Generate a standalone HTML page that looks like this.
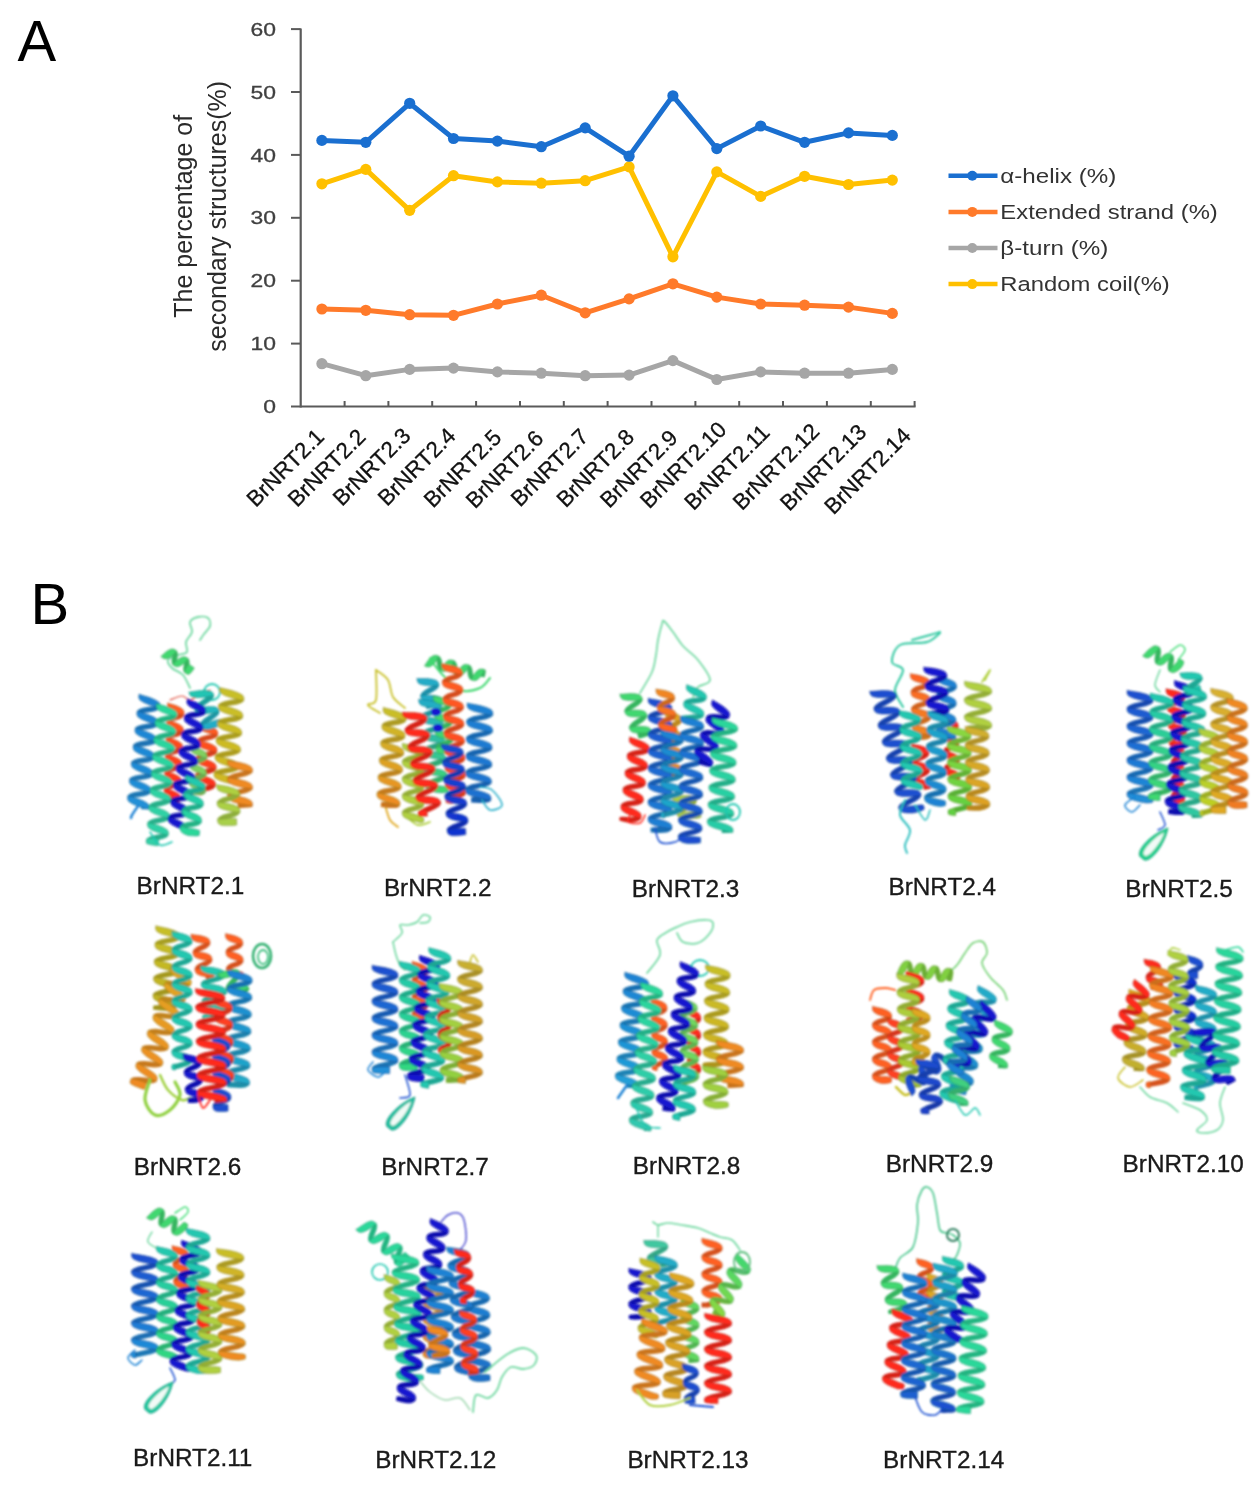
<!DOCTYPE html>
<html><head><meta charset="utf-8"><style>
html,body{margin:0;padding:0;background:#fff;}
body{width:1260px;height:1487px;position:relative;overflow:hidden;font-family:"Liberation Sans", sans-serif;}
svg{position:absolute;left:0;top:0;filter:blur(0.5px);}
.big{position:absolute;font-size:56px;line-height:1;color:#000;}
</style></head><body>
<svg width="1260" height="1487" viewBox="0 0 1260 1487" font-family='"Liberation Sans", sans-serif'>
<defs><filter id="soft"><feGaussianBlur stdDeviation="0.9"/></filter></defs>
<line x1="300.7" y1="28.6" x2="300.7" y2="407.5" stroke="#5a5a5a" stroke-width="2.2"/>
<line x1="291" y1="406.5" x2="915.6" y2="406.5" stroke="#5a5a5a" stroke-width="2.2"/>
<line x1="291" y1="343.6" x2="300.7" y2="343.6" stroke="#5a5a5a" stroke-width="2"/>
<line x1="291" y1="280.7" x2="300.7" y2="280.7" stroke="#5a5a5a" stroke-width="2"/>
<line x1="291" y1="217.8" x2="300.7" y2="217.8" stroke="#5a5a5a" stroke-width="2"/>
<line x1="291" y1="154.9" x2="300.7" y2="154.9" stroke="#5a5a5a" stroke-width="2"/>
<line x1="291" y1="92.0" x2="300.7" y2="92.0" stroke="#5a5a5a" stroke-width="2"/>
<line x1="291" y1="29.1" x2="300.7" y2="29.1" stroke="#5a5a5a" stroke-width="2"/>
<line x1="344.6" y1="401" x2="344.6" y2="406.5" stroke="#5a5a5a" stroke-width="2"/>
<line x1="388.4" y1="401" x2="388.4" y2="406.5" stroke="#5a5a5a" stroke-width="2"/>
<line x1="432.2" y1="401" x2="432.2" y2="406.5" stroke="#5a5a5a" stroke-width="2"/>
<line x1="476.1" y1="401" x2="476.1" y2="406.5" stroke="#5a5a5a" stroke-width="2"/>
<line x1="520.0" y1="401" x2="520.0" y2="406.5" stroke="#5a5a5a" stroke-width="2"/>
<line x1="563.8" y1="401" x2="563.8" y2="406.5" stroke="#5a5a5a" stroke-width="2"/>
<line x1="607.6" y1="401" x2="607.6" y2="406.5" stroke="#5a5a5a" stroke-width="2"/>
<line x1="651.5" y1="401" x2="651.5" y2="406.5" stroke="#5a5a5a" stroke-width="2"/>
<line x1="695.4" y1="401" x2="695.4" y2="406.5" stroke="#5a5a5a" stroke-width="2"/>
<line x1="739.2" y1="401" x2="739.2" y2="406.5" stroke="#5a5a5a" stroke-width="2"/>
<line x1="783.0" y1="401" x2="783.0" y2="406.5" stroke="#5a5a5a" stroke-width="2"/>
<line x1="826.9" y1="401" x2="826.9" y2="406.5" stroke="#5a5a5a" stroke-width="2"/>
<line x1="870.8" y1="401" x2="870.8" y2="406.5" stroke="#5a5a5a" stroke-width="2"/>
<line x1="914.6" y1="401" x2="914.6" y2="406.5" stroke="#5a5a5a" stroke-width="2"/>
<text x="0" y="0" text-anchor="end" font-size="18.3" fill="#404040" stroke="#404040" stroke-width="0.3" transform="translate(276 413.1) scale(1.25 1)">0</text>
<text x="0" y="0" text-anchor="end" font-size="18.3" fill="#404040" stroke="#404040" stroke-width="0.3" transform="translate(276 350.2) scale(1.25 1)">10</text>
<text x="0" y="0" text-anchor="end" font-size="18.3" fill="#404040" stroke="#404040" stroke-width="0.3" transform="translate(276 287.3) scale(1.25 1)">20</text>
<text x="0" y="0" text-anchor="end" font-size="18.3" fill="#404040" stroke="#404040" stroke-width="0.3" transform="translate(276 224.4) scale(1.25 1)">30</text>
<text x="0" y="0" text-anchor="end" font-size="18.3" fill="#404040" stroke="#404040" stroke-width="0.3" transform="translate(276 161.5) scale(1.25 1)">40</text>
<text x="0" y="0" text-anchor="end" font-size="18.3" fill="#404040" stroke="#404040" stroke-width="0.3" transform="translate(276 98.6) scale(1.25 1)">50</text>
<text x="0" y="0" text-anchor="end" font-size="18.3" fill="#404040" stroke="#404040" stroke-width="0.3" transform="translate(276 35.7) scale(1.25 1)">60</text>
<polyline points="321.9,363.7 365.8,375.7 409.7,369.4 453.5,368.1 497.4,371.9 541.3,373.2 585.2,375.7 629.1,375.1 672.9,360.6 716.8,379.5 760.7,371.9 804.6,373.2 848.5,373.2 892.3,369.4" fill="none" stroke="#a6a6a6" stroke-width="5" stroke-linejoin="round"/>
<circle cx="321.9" cy="363.7" r="5.6" fill="#a6a6a6"/>
<circle cx="365.8" cy="375.7" r="5.6" fill="#a6a6a6"/>
<circle cx="409.7" cy="369.4" r="5.6" fill="#a6a6a6"/>
<circle cx="453.5" cy="368.1" r="5.6" fill="#a6a6a6"/>
<circle cx="497.4" cy="371.9" r="5.6" fill="#a6a6a6"/>
<circle cx="541.3" cy="373.2" r="5.6" fill="#a6a6a6"/>
<circle cx="585.2" cy="375.7" r="5.6" fill="#a6a6a6"/>
<circle cx="629.1" cy="375.1" r="5.6" fill="#a6a6a6"/>
<circle cx="672.9" cy="360.6" r="5.6" fill="#a6a6a6"/>
<circle cx="716.8" cy="379.5" r="5.6" fill="#a6a6a6"/>
<circle cx="760.7" cy="371.9" r="5.6" fill="#a6a6a6"/>
<circle cx="804.6" cy="373.2" r="5.6" fill="#a6a6a6"/>
<circle cx="848.5" cy="373.2" r="5.6" fill="#a6a6a6"/>
<circle cx="892.3" cy="369.4" r="5.6" fill="#a6a6a6"/>
<polyline points="321.9,309.0 365.8,310.3 409.7,314.7 453.5,315.3 497.4,304.0 541.3,295.2 585.2,312.8 629.1,298.9 672.9,283.8 716.8,297.1 760.7,304.0 804.6,305.2 848.5,307.1 892.3,313.4" fill="none" stroke="#ff7a2a" stroke-width="5" stroke-linejoin="round"/>
<circle cx="321.9" cy="309.0" r="5.6" fill="#ff7a2a"/>
<circle cx="365.8" cy="310.3" r="5.6" fill="#ff7a2a"/>
<circle cx="409.7" cy="314.7" r="5.6" fill="#ff7a2a"/>
<circle cx="453.5" cy="315.3" r="5.6" fill="#ff7a2a"/>
<circle cx="497.4" cy="304.0" r="5.6" fill="#ff7a2a"/>
<circle cx="541.3" cy="295.2" r="5.6" fill="#ff7a2a"/>
<circle cx="585.2" cy="312.8" r="5.6" fill="#ff7a2a"/>
<circle cx="629.1" cy="298.9" r="5.6" fill="#ff7a2a"/>
<circle cx="672.9" cy="283.8" r="5.6" fill="#ff7a2a"/>
<circle cx="716.8" cy="297.1" r="5.6" fill="#ff7a2a"/>
<circle cx="760.7" cy="304.0" r="5.6" fill="#ff7a2a"/>
<circle cx="804.6" cy="305.2" r="5.6" fill="#ff7a2a"/>
<circle cx="848.5" cy="307.1" r="5.6" fill="#ff7a2a"/>
<circle cx="892.3" cy="313.4" r="5.6" fill="#ff7a2a"/>
<polyline points="321.9,183.8 365.8,169.4 409.7,210.3 453.5,175.7 497.4,181.9 541.3,183.2 585.2,180.7 629.1,166.9 672.9,256.8 716.8,171.9 760.7,196.4 804.6,176.3 848.5,184.5 892.3,180.1" fill="none" stroke="#ffc000" stroke-width="5" stroke-linejoin="round"/>
<circle cx="321.9" cy="183.8" r="5.6" fill="#ffc000"/>
<circle cx="365.8" cy="169.4" r="5.6" fill="#ffc000"/>
<circle cx="409.7" cy="210.3" r="5.6" fill="#ffc000"/>
<circle cx="453.5" cy="175.7" r="5.6" fill="#ffc000"/>
<circle cx="497.4" cy="181.9" r="5.6" fill="#ffc000"/>
<circle cx="541.3" cy="183.2" r="5.6" fill="#ffc000"/>
<circle cx="585.2" cy="180.7" r="5.6" fill="#ffc000"/>
<circle cx="629.1" cy="166.9" r="5.6" fill="#ffc000"/>
<circle cx="672.9" cy="256.8" r="5.6" fill="#ffc000"/>
<circle cx="716.8" cy="171.9" r="5.6" fill="#ffc000"/>
<circle cx="760.7" cy="196.4" r="5.6" fill="#ffc000"/>
<circle cx="804.6" cy="176.3" r="5.6" fill="#ffc000"/>
<circle cx="848.5" cy="184.5" r="5.6" fill="#ffc000"/>
<circle cx="892.3" cy="180.1" r="5.6" fill="#ffc000"/>
<polyline points="321.9,140.4 365.8,142.3 409.7,103.3 453.5,138.5 497.4,141.1 541.3,146.7 585.2,127.9 629.1,156.2 672.9,95.8 716.8,148.6 760.7,126.0 804.6,142.3 848.5,132.9 892.3,135.4" fill="none" stroke="#1a6fd0" stroke-width="5" stroke-linejoin="round"/>
<circle cx="321.9" cy="140.4" r="5.6" fill="#1a6fd0"/>
<circle cx="365.8" cy="142.3" r="5.6" fill="#1a6fd0"/>
<circle cx="409.7" cy="103.3" r="5.6" fill="#1a6fd0"/>
<circle cx="453.5" cy="138.5" r="5.6" fill="#1a6fd0"/>
<circle cx="497.4" cy="141.1" r="5.6" fill="#1a6fd0"/>
<circle cx="541.3" cy="146.7" r="5.6" fill="#1a6fd0"/>
<circle cx="585.2" cy="127.9" r="5.6" fill="#1a6fd0"/>
<circle cx="629.1" cy="156.2" r="5.6" fill="#1a6fd0"/>
<circle cx="672.9" cy="95.8" r="5.6" fill="#1a6fd0"/>
<circle cx="716.8" cy="148.6" r="5.6" fill="#1a6fd0"/>
<circle cx="760.7" cy="126.0" r="5.6" fill="#1a6fd0"/>
<circle cx="804.6" cy="142.3" r="5.6" fill="#1a6fd0"/>
<circle cx="848.5" cy="132.9" r="5.6" fill="#1a6fd0"/>
<circle cx="892.3" cy="135.4" r="5.6" fill="#1a6fd0"/>
<text x="255.7" y="508.0" font-size="22.3" fill="#111" stroke="#111" stroke-width="0.3" transform="rotate(-45 255.7 508.0)">BrNRT2.1</text>
<text x="297.1" y="508.0" font-size="22.3" fill="#111" stroke="#111" stroke-width="0.3" transform="rotate(-45 297.1 508.0)">BrNRT2.2</text>
<text x="342.1" y="507.0" font-size="22.3" fill="#111" stroke="#111" stroke-width="0.3" transform="rotate(-45 342.1 507.0)">BrNRT2.3</text>
<text x="387.1" y="507.0" font-size="22.3" fill="#111" stroke="#111" stroke-width="0.3" transform="rotate(-45 387.1 507.0)">BrNRT2.4</text>
<text x="432.9" y="508.7" font-size="22.3" fill="#111" stroke="#111" stroke-width="0.3" transform="rotate(-45 432.9 508.7)">BrNRT2.5</text>
<text x="475.0" y="509.6" font-size="22.3" fill="#111" stroke="#111" stroke-width="0.3" transform="rotate(-45 475.0 509.6)">BrNRT2.6</text>
<text x="520.0" y="507.7" font-size="22.3" fill="#111" stroke="#111" stroke-width="0.3" transform="rotate(-45 520.0 507.7)">BrNRT2.7</text>
<text x="565.7" y="508.4" font-size="22.3" fill="#111" stroke="#111" stroke-width="0.3" transform="rotate(-45 565.7 508.4)">BrNRT2.8</text>
<text x="609.3" y="509.0" font-size="22.3" fill="#111" stroke="#111" stroke-width="0.3" transform="rotate(-45 609.3 509.0)">BrNRT2.9</text>
<text x="649.3" y="509.6" font-size="22.3" fill="#111" stroke="#111" stroke-width="0.3" transform="rotate(-45 649.3 509.6)">BrNRT2.10</text>
<text x="693.6" y="511.3" font-size="22.3" fill="#111" stroke="#111" stroke-width="0.3" transform="rotate(-45 693.6 511.3)">BrNRT2.11</text>
<text x="742.1" y="511.3" font-size="22.3" fill="#111" stroke="#111" stroke-width="0.3" transform="rotate(-45 742.1 511.3)">BrNRT2.12</text>
<text x="789.3" y="512.0" font-size="22.3" fill="#111" stroke="#111" stroke-width="0.3" transform="rotate(-45 789.3 512.0)">BrNRT2.13</text>
<text x="833.6" y="515.6" font-size="22.3" fill="#111" stroke="#111" stroke-width="0.3" transform="rotate(-45 833.6 515.6)">BrNRT2.14</text>
<text x="0" y="0" text-anchor="middle" font-size="25" fill="#2a2a2a" transform="translate(192.3 216.3) rotate(-90)">The percentage of</text>
<text x="0" y="0" text-anchor="middle" font-size="25" fill="#2a2a2a" transform="translate(226.3 216.3) rotate(-90)">secondary structures(%)</text>
<line x1="948.5" y1="175.8" x2="997.5" y2="175.8" stroke="#1a6fd0" stroke-width="4.5"/>
<circle cx="972.3" cy="175.8" r="5" fill="#1a6fd0"/>
<text x="1000.3" y="183.1" font-size="20.5" fill="#333" textLength="116" lengthAdjust="spacingAndGlyphs">α-helix (%)</text>
<line x1="948.5" y1="211.9" x2="997.5" y2="211.9" stroke="#ff7a2a" stroke-width="4.5"/>
<circle cx="972.3" cy="211.9" r="5" fill="#ff7a2a"/>
<text x="1000.3" y="219.2" font-size="20.5" fill="#333" textLength="217.5" lengthAdjust="spacingAndGlyphs">Extended strand (%)</text>
<line x1="948.5" y1="248.0" x2="997.5" y2="248.0" stroke="#a6a6a6" stroke-width="4.5"/>
<circle cx="972.3" cy="248.0" r="5" fill="#a6a6a6"/>
<text x="1000.3" y="255.3" font-size="20.5" fill="#333" textLength="108" lengthAdjust="spacingAndGlyphs">β-turn (%)</text>
<line x1="948.5" y1="284.1" x2="997.5" y2="284.1" stroke="#ffc000" stroke-width="4.5"/>
<circle cx="972.3" cy="284.1" r="5" fill="#ffc000"/>
<text x="1000.3" y="291.4" font-size="20.5" fill="#333" textLength="169.5" lengthAdjust="spacingAndGlyphs">Random coil(%)</text>
<defs><linearGradient id="f1" gradientUnits="userSpaceOnUse" x1="176" y1="705" x2="172" y2="800"><stop offset="0" stop-color="#ff6020"/><stop offset="1" stop-color="#ff2a1e"/></linearGradient><linearGradient id="b1" gradientUnits="userSpaceOnUse" x1="176" y1="705" x2="172" y2="800"><stop offset="0" stop-color="#d6511b"/><stop offset="1" stop-color="#d62319"/></linearGradient><linearGradient id="f2" gradientUnits="userSpaceOnUse" x1="150" y1="697" x2="138" y2="806"><stop offset="0" stop-color="#1e82d4"/><stop offset="1" stop-color="#2090d8"/></linearGradient><linearGradient id="b2" gradientUnits="userSpaceOnUse" x1="150" y1="697" x2="138" y2="806"><stop offset="0" stop-color="#196db2"/><stop offset="1" stop-color="#1b79b5"/></linearGradient><linearGradient id="f3" gradientUnits="userSpaceOnUse" x1="167" y1="706" x2="157" y2="842"><stop offset="0" stop-color="#2ad89a"/><stop offset="1" stop-color="#30d0a8"/></linearGradient><linearGradient id="b3" gradientUnits="userSpaceOnUse" x1="167" y1="706" x2="157" y2="842"><stop offset="0" stop-color="#23b581"/><stop offset="1" stop-color="#28af8d"/></linearGradient><linearGradient id="f4" gradientUnits="userSpaceOnUse" x1="208" y1="725" x2="205" y2="792"><stop offset="0" stop-color="#ff6020"/><stop offset="1" stop-color="#ff2a1e"/></linearGradient><linearGradient id="b4" gradientUnits="userSpaceOnUse" x1="208" y1="725" x2="205" y2="792"><stop offset="0" stop-color="#d6511b"/><stop offset="1" stop-color="#d62319"/></linearGradient><linearGradient id="f5" gradientUnits="userSpaceOnUse" x1="200" y1="690" x2="212" y2="725"><stop offset="0" stop-color="#20c8b0"/><stop offset="1" stop-color="#20acc8"/></linearGradient><linearGradient id="b5" gradientUnits="userSpaceOnUse" x1="200" y1="690" x2="212" y2="725"><stop offset="0" stop-color="#1ba894"/><stop offset="1" stop-color="#1b90a8"/></linearGradient><linearGradient id="f6" gradientUnits="userSpaceOnUse" x1="196" y1="778" x2="190" y2="832"><stop offset="0" stop-color="#20c8b0"/><stop offset="1" stop-color="#2ad89a"/></linearGradient><linearGradient id="b6" gradientUnits="userSpaceOnUse" x1="196" y1="778" x2="190" y2="832"><stop offset="0" stop-color="#1ba894"/><stop offset="1" stop-color="#23b581"/></linearGradient><linearGradient id="f7" gradientUnits="userSpaceOnUse" x1="232" y1="690" x2="226" y2="780"><stop offset="0" stop-color="#c8c028"/><stop offset="1" stop-color="#d0b820"/></linearGradient><linearGradient id="b7" gradientUnits="userSpaceOnUse" x1="232" y1="690" x2="226" y2="780"><stop offset="0" stop-color="#a8a122"/><stop offset="1" stop-color="#af9b1b"/></linearGradient><linearGradient id="f8" gradientUnits="userSpaceOnUse" x1="228" y1="786" x2="229" y2="822"><stop offset="0" stop-color="#b0d040"/><stop offset="1" stop-color="#a8d048"/></linearGradient><linearGradient id="b8" gradientUnits="userSpaceOnUse" x1="228" y1="786" x2="229" y2="822"><stop offset="0" stop-color="#94af36"/><stop offset="1" stop-color="#8daf3c"/></linearGradient><linearGradient id="f9" gradientUnits="userSpaceOnUse" x1="430" y1="700" x2="437" y2="790"><stop offset="0" stop-color="#20acc8"/><stop offset="1" stop-color="#40d870"/></linearGradient><linearGradient id="b9" gradientUnits="userSpaceOnUse" x1="430" y1="700" x2="437" y2="790"><stop offset="0" stop-color="#1b90a8"/><stop offset="1" stop-color="#36b55e"/></linearGradient><linearGradient id="f10" gradientUnits="userSpaceOnUse" x1="395" y1="710" x2="388" y2="805"><stop offset="0" stop-color="#c8c028"/><stop offset="1" stop-color="#f08a20"/></linearGradient><linearGradient id="b10" gradientUnits="userSpaceOnUse" x1="395" y1="710" x2="388" y2="805"><stop offset="0" stop-color="#a8a122"/><stop offset="1" stop-color="#ca741b"/></linearGradient><linearGradient id="f11" gradientUnits="userSpaceOnUse" x1="452" y1="665" x2="456" y2="800"><stop offset="0" stop-color="#ff6020"/><stop offset="1" stop-color="#ff4020"/></linearGradient><linearGradient id="b11" gradientUnits="userSpaceOnUse" x1="452" y1="665" x2="456" y2="800"><stop offset="0" stop-color="#d6511b"/><stop offset="1" stop-color="#d6361b"/></linearGradient><linearGradient id="f12" gradientUnits="userSpaceOnUse" x1="452" y1="745" x2="458" y2="832"><stop offset="0" stop-color="#1a4ed0"/><stop offset="1" stop-color="#1030d0"/></linearGradient><linearGradient id="b12" gradientUnits="userSpaceOnUse" x1="452" y1="745" x2="458" y2="832"><stop offset="0" stop-color="#1642af"/><stop offset="1" stop-color="#0d28af"/></linearGradient><linearGradient id="f13" gradientUnits="userSpaceOnUse" x1="480" y1="705" x2="478" y2="800"><stop offset="0" stop-color="#1e82d4"/><stop offset="1" stop-color="#1e70d0"/></linearGradient><linearGradient id="b13" gradientUnits="userSpaceOnUse" x1="480" y1="705" x2="478" y2="800"><stop offset="0" stop-color="#196db2"/><stop offset="1" stop-color="#195eaf"/></linearGradient><linearGradient id="f14" gradientUnits="userSpaceOnUse" x1="673" y1="712" x2="675" y2="775"><stop offset="0" stop-color="#e0a820"/><stop offset="1" stop-color="#f08a20"/></linearGradient><linearGradient id="b14" gradientUnits="userSpaceOnUse" x1="673" y1="712" x2="675" y2="775"><stop offset="0" stop-color="#bc8d1b"/><stop offset="1" stop-color="#ca741b"/></linearGradient><linearGradient id="f15" gradientUnits="userSpaceOnUse" x1="660" y1="700" x2="660" y2="830"><stop offset="0" stop-color="#1a4ed0"/><stop offset="1" stop-color="#1e82d4"/></linearGradient><linearGradient id="b15" gradientUnits="userSpaceOnUse" x1="660" y1="700" x2="660" y2="830"><stop offset="0" stop-color="#1642af"/><stop offset="1" stop-color="#196db2"/></linearGradient><linearGradient id="f16" gradientUnits="userSpaceOnUse" x1="665" y1="690" x2="668" y2="730"><stop offset="0" stop-color="#f08a20"/><stop offset="1" stop-color="#ff6020"/></linearGradient><linearGradient id="b16" gradientUnits="userSpaceOnUse" x1="665" y1="690" x2="668" y2="730"><stop offset="0" stop-color="#ca741b"/><stop offset="1" stop-color="#d6511b"/></linearGradient><linearGradient id="f17" gradientUnits="userSpaceOnUse" x1="672" y1="732" x2="672" y2="815"><stop offset="0" stop-color="#1e82d4"/><stop offset="1" stop-color="#20acc8"/></linearGradient><linearGradient id="b17" gradientUnits="userSpaceOnUse" x1="672" y1="732" x2="672" y2="815"><stop offset="0" stop-color="#196db2"/><stop offset="1" stop-color="#1b90a8"/></linearGradient><linearGradient id="f18" gradientUnits="userSpaceOnUse" x1="692" y1="718" x2="690" y2="840"><stop offset="0" stop-color="#1e82d4"/><stop offset="1" stop-color="#1a4ed0"/></linearGradient><linearGradient id="b18" gradientUnits="userSpaceOnUse" x1="692" y1="718" x2="690" y2="840"><stop offset="0" stop-color="#196db2"/><stop offset="1" stop-color="#1642af"/></linearGradient><linearGradient id="f19" gradientUnits="userSpaceOnUse" x1="725" y1="720" x2="720" y2="830"><stop offset="0" stop-color="#2ad89a"/><stop offset="1" stop-color="#28cca8"/></linearGradient><linearGradient id="b19" gradientUnits="userSpaceOnUse" x1="725" y1="720" x2="720" y2="830"><stop offset="0" stop-color="#23b581"/><stop offset="1" stop-color="#22ab8d"/></linearGradient><linearGradient id="f20" gradientUnits="userSpaceOnUse" x1="920" y1="675" x2="922" y2="737"><stop offset="0" stop-color="#ff6020"/><stop offset="1" stop-color="#f08a20"/></linearGradient><linearGradient id="b20" gradientUnits="userSpaceOnUse" x1="920" y1="675" x2="922" y2="737"><stop offset="0" stop-color="#d6511b"/><stop offset="1" stop-color="#ca741b"/></linearGradient><linearGradient id="f21" gradientUnits="userSpaceOnUse" x1="882" y1="690" x2="912" y2="810"><stop offset="0" stop-color="#1a4ed0"/><stop offset="1" stop-color="#1a50d0"/></linearGradient><linearGradient id="b21" gradientUnits="userSpaceOnUse" x1="882" y1="690" x2="912" y2="810"><stop offset="0" stop-color="#1642af"/><stop offset="1" stop-color="#1643af"/></linearGradient><linearGradient id="f22" gradientUnits="userSpaceOnUse" x1="938" y1="713" x2="935" y2="803"><stop offset="0" stop-color="#20acc8"/><stop offset="1" stop-color="#1e82d4"/></linearGradient><linearGradient id="b22" gradientUnits="userSpaceOnUse" x1="938" y1="713" x2="935" y2="803"><stop offset="0" stop-color="#1b90a8"/><stop offset="1" stop-color="#196db2"/></linearGradient><linearGradient id="f23" gradientUnits="userSpaceOnUse" x1="959" y1="728" x2="960" y2="812"><stop offset="0" stop-color="#8cd840"/><stop offset="1" stop-color="#60d040"/></linearGradient><linearGradient id="b23" gradientUnits="userSpaceOnUse" x1="959" y1="728" x2="960" y2="812"><stop offset="0" stop-color="#76b536"/><stop offset="1" stop-color="#51af36"/></linearGradient><linearGradient id="f24" gradientUnits="userSpaceOnUse" x1="977" y1="728" x2="978" y2="808"><stop offset="0" stop-color="#d0b030"/><stop offset="1" stop-color="#e0a020"/></linearGradient><linearGradient id="b24" gradientUnits="userSpaceOnUse" x1="977" y1="728" x2="978" y2="808"><stop offset="0" stop-color="#af9428"/><stop offset="1" stop-color="#bc861b"/></linearGradient><linearGradient id="f25" gradientUnits="userSpaceOnUse" x1="1140" y1="692" x2="1140" y2="800"><stop offset="0" stop-color="#1a4ed0"/><stop offset="1" stop-color="#2090d8"/></linearGradient><linearGradient id="b25" gradientUnits="userSpaceOnUse" x1="1140" y1="692" x2="1140" y2="800"><stop offset="0" stop-color="#1642af"/><stop offset="1" stop-color="#1b79b5"/></linearGradient><linearGradient id="f26" gradientUnits="userSpaceOnUse" x1="1162" y1="695" x2="1160" y2="797"><stop offset="0" stop-color="#20c8b0"/><stop offset="1" stop-color="#40d870"/></linearGradient><linearGradient id="b26" gradientUnits="userSpaceOnUse" x1="1162" y1="695" x2="1160" y2="797"><stop offset="0" stop-color="#1ba894"/><stop offset="1" stop-color="#36b55e"/></linearGradient><linearGradient id="f27" gradientUnits="userSpaceOnUse" x1="1195" y1="688" x2="1190" y2="815"><stop offset="0" stop-color="#20c8b0"/><stop offset="1" stop-color="#30c8a0"/></linearGradient><linearGradient id="b27" gradientUnits="userSpaceOnUse" x1="1195" y1="688" x2="1190" y2="815"><stop offset="0" stop-color="#1ba894"/><stop offset="1" stop-color="#28a886"/></linearGradient><linearGradient id="f28" gradientUnits="userSpaceOnUse" x1="1209" y1="730" x2="1210" y2="813"><stop offset="0" stop-color="#b0d040"/><stop offset="1" stop-color="#c0d020"/></linearGradient><linearGradient id="b28" gradientUnits="userSpaceOnUse" x1="1209" y1="730" x2="1210" y2="813"><stop offset="0" stop-color="#94af36"/><stop offset="1" stop-color="#a1af1b"/></linearGradient><linearGradient id="f29" gradientUnits="userSpaceOnUse" x1="1222" y1="690" x2="1222" y2="810"><stop offset="0" stop-color="#d8b030"/><stop offset="1" stop-color="#e0a820"/></linearGradient><linearGradient id="b29" gradientUnits="userSpaceOnUse" x1="1222" y1="690" x2="1222" y2="810"><stop offset="0" stop-color="#b59428"/><stop offset="1" stop-color="#bc8d1b"/></linearGradient><linearGradient id="f30" gradientUnits="userSpaceOnUse" x1="1237" y1="700" x2="1238" y2="805"><stop offset="0" stop-color="#f08a20"/><stop offset="1" stop-color="#f07a20"/></linearGradient><linearGradient id="b30" gradientUnits="userSpaceOnUse" x1="1237" y1="700" x2="1238" y2="805"><stop offset="0" stop-color="#ca741b"/><stop offset="1" stop-color="#ca661b"/></linearGradient><linearGradient id="f31" gradientUnits="userSpaceOnUse" x1="168" y1="928" x2="165" y2="1008"><stop offset="0" stop-color="#c8c028"/><stop offset="1" stop-color="#c0b020"/></linearGradient><linearGradient id="b31" gradientUnits="userSpaceOnUse" x1="168" y1="928" x2="165" y2="1008"><stop offset="0" stop-color="#a8a122"/><stop offset="1" stop-color="#a1941b"/></linearGradient><linearGradient id="f32" gradientUnits="userSpaceOnUse" x1="182" y1="972" x2="142" y2="1085"><stop offset="0" stop-color="#e0a820"/><stop offset="1" stop-color="#f08a20"/></linearGradient><linearGradient id="b32" gradientUnits="userSpaceOnUse" x1="182" y1="972" x2="142" y2="1085"><stop offset="0" stop-color="#bc8d1b"/><stop offset="1" stop-color="#ca741b"/></linearGradient><linearGradient id="f33" gradientUnits="userSpaceOnUse" x1="240" y1="972" x2="237" y2="1085"><stop offset="0" stop-color="#1e82d4"/><stop offset="1" stop-color="#20acc8"/></linearGradient><linearGradient id="b33" gradientUnits="userSpaceOnUse" x1="240" y1="972" x2="237" y2="1085"><stop offset="0" stop-color="#196db2"/><stop offset="1" stop-color="#1b90a8"/></linearGradient><linearGradient id="f34" gradientUnits="userSpaceOnUse" x1="385" y1="967" x2="385" y2="1070"><stop offset="0" stop-color="#1a4ed0"/><stop offset="1" stop-color="#2090d8"/></linearGradient><linearGradient id="b34" gradientUnits="userSpaceOnUse" x1="385" y1="967" x2="385" y2="1070"><stop offset="0" stop-color="#1642af"/><stop offset="1" stop-color="#1b79b5"/></linearGradient><linearGradient id="f35" gradientUnits="userSpaceOnUse" x1="410" y1="963" x2="410" y2="1067"><stop offset="0" stop-color="#20c8b0"/><stop offset="1" stop-color="#30d880"/></linearGradient><linearGradient id="b35" gradientUnits="userSpaceOnUse" x1="410" y1="963" x2="410" y2="1067"><stop offset="0" stop-color="#1ba894"/><stop offset="1" stop-color="#28b56c"/></linearGradient><linearGradient id="f36" gradientUnits="userSpaceOnUse" x1="451" y1="985" x2="452" y2="1080"><stop offset="0" stop-color="#b0d040"/><stop offset="1" stop-color="#90d040"/></linearGradient><linearGradient id="b36" gradientUnits="userSpaceOnUse" x1="451" y1="985" x2="452" y2="1080"><stop offset="0" stop-color="#94af36"/><stop offset="1" stop-color="#79af36"/></linearGradient><linearGradient id="f37" gradientUnits="userSpaceOnUse" x1="470" y1="962" x2="470" y2="1080"><stop offset="0" stop-color="#c8b030"/><stop offset="1" stop-color="#e09020"/></linearGradient><linearGradient id="b37" gradientUnits="userSpaceOnUse" x1="470" y1="962" x2="470" y2="1080"><stop offset="0" stop-color="#a89428"/><stop offset="1" stop-color="#bc791b"/></linearGradient><linearGradient id="f38" gradientUnits="userSpaceOnUse" x1="637" y1="975" x2="627" y2="1085"><stop offset="0" stop-color="#1e82d4"/><stop offset="1" stop-color="#20a0d8"/></linearGradient><linearGradient id="b38" gradientUnits="userSpaceOnUse" x1="637" y1="975" x2="627" y2="1085"><stop offset="0" stop-color="#196db2"/><stop offset="1" stop-color="#1b86b5"/></linearGradient><linearGradient id="f39" gradientUnits="userSpaceOnUse" x1="652" y1="985" x2="640" y2="1128"><stop offset="0" stop-color="#2ad89a"/><stop offset="1" stop-color="#30c8b0"/></linearGradient><linearGradient id="b39" gradientUnits="userSpaceOnUse" x1="652" y1="985" x2="640" y2="1128"><stop offset="0" stop-color="#23b581"/><stop offset="1" stop-color="#28a894"/></linearGradient><linearGradient id="f40" gradientUnits="userSpaceOnUse" x1="718" y1="967" x2="715" y2="1065"><stop offset="0" stop-color="#c8c028"/><stop offset="1" stop-color="#d0b020"/></linearGradient><linearGradient id="b40" gradientUnits="userSpaceOnUse" x1="718" y1="967" x2="715" y2="1065"><stop offset="0" stop-color="#a8a122"/><stop offset="1" stop-color="#af941b"/></linearGradient><linearGradient id="f41" gradientUnits="userSpaceOnUse" x1="908" y1="975" x2="910" y2="1085"><stop offset="0" stop-color="#b0d040"/><stop offset="1" stop-color="#a8c830"/></linearGradient><linearGradient id="b41" gradientUnits="userSpaceOnUse" x1="908" y1="975" x2="910" y2="1085"><stop offset="0" stop-color="#94af36"/><stop offset="1" stop-color="#8da828"/></linearGradient><linearGradient id="f42" gradientUnits="userSpaceOnUse" x1="927" y1="1060" x2="932" y2="1110"><stop offset="0" stop-color="#1a4ed0"/><stop offset="1" stop-color="#1a40c8"/></linearGradient><linearGradient id="b42" gradientUnits="userSpaceOnUse" x1="927" y1="1060" x2="932" y2="1110"><stop offset="0" stop-color="#1642af"/><stop offset="1" stop-color="#1636a8"/></linearGradient><linearGradient id="f43" gradientUnits="userSpaceOnUse" x1="988" y1="990" x2="960" y2="1090"><stop offset="0" stop-color="#20acc8"/><stop offset="1" stop-color="#1e82d4"/></linearGradient><linearGradient id="b43" gradientUnits="userSpaceOnUse" x1="988" y1="990" x2="960" y2="1090"><stop offset="0" stop-color="#1b90a8"/><stop offset="1" stop-color="#196db2"/></linearGradient><linearGradient id="f44" gradientUnits="userSpaceOnUse" x1="1152" y1="960" x2="1155" y2="987"><stop offset="0" stop-color="#ff2a1e"/><stop offset="1" stop-color="#ff3020"/></linearGradient><linearGradient id="b44" gradientUnits="userSpaceOnUse" x1="1152" y1="960" x2="1155" y2="987"><stop offset="0" stop-color="#d62319"/><stop offset="1" stop-color="#d6281b"/></linearGradient><linearGradient id="f45" gradientUnits="userSpaceOnUse" x1="1140" y1="992" x2="1133" y2="1068"><stop offset="0" stop-color="#e0a820"/><stop offset="1" stop-color="#c0b030"/></linearGradient><linearGradient id="b45" gradientUnits="userSpaceOnUse" x1="1140" y1="992" x2="1133" y2="1068"><stop offset="0" stop-color="#bc8d1b"/><stop offset="1" stop-color="#a19428"/></linearGradient><linearGradient id="f46" gradientUnits="userSpaceOnUse" x1="1162" y1="968" x2="1158" y2="1085"><stop offset="0" stop-color="#f08a20"/><stop offset="1" stop-color="#ff6020"/></linearGradient><linearGradient id="b46" gradientUnits="userSpaceOnUse" x1="1162" y1="968" x2="1158" y2="1085"><stop offset="0" stop-color="#ca741b"/><stop offset="1" stop-color="#d6511b"/></linearGradient><linearGradient id="f47" gradientUnits="userSpaceOnUse" x1="1178" y1="952" x2="1180" y2="1053"><stop offset="0" stop-color="#b0d040"/><stop offset="1" stop-color="#a0d040"/></linearGradient><linearGradient id="b47" gradientUnits="userSpaceOnUse" x1="1178" y1="952" x2="1180" y2="1053"><stop offset="0" stop-color="#94af36"/><stop offset="1" stop-color="#86af36"/></linearGradient><linearGradient id="f48" gradientUnits="userSpaceOnUse" x1="1230" y1="950" x2="1225" y2="1070"><stop offset="0" stop-color="#2ad89a"/><stop offset="1" stop-color="#20c8a8"/></linearGradient><linearGradient id="b48" gradientUnits="userSpaceOnUse" x1="1230" y1="950" x2="1225" y2="1070"><stop offset="0" stop-color="#23b581"/><stop offset="1" stop-color="#1ba88d"/></linearGradient><linearGradient id="f49" gradientUnits="userSpaceOnUse" x1="145" y1="1255" x2="145" y2="1355"><stop offset="0" stop-color="#1a4ed0"/><stop offset="1" stop-color="#2090d8"/></linearGradient><linearGradient id="b49" gradientUnits="userSpaceOnUse" x1="145" y1="1255" x2="145" y2="1355"><stop offset="0" stop-color="#1642af"/><stop offset="1" stop-color="#1b79b5"/></linearGradient><linearGradient id="f50" gradientUnits="userSpaceOnUse" x1="167" y1="1248" x2="167" y2="1357"><stop offset="0" stop-color="#20c8b0"/><stop offset="1" stop-color="#30d880"/></linearGradient><linearGradient id="b50" gradientUnits="userSpaceOnUse" x1="167" y1="1248" x2="167" y2="1357"><stop offset="0" stop-color="#1ba894"/><stop offset="1" stop-color="#28b56c"/></linearGradient><linearGradient id="f51" gradientUnits="userSpaceOnUse" x1="230" y1="1250" x2="232" y2="1357"><stop offset="0" stop-color="#c8c028"/><stop offset="1" stop-color="#f08a20"/></linearGradient><linearGradient id="b51" gradientUnits="userSpaceOnUse" x1="230" y1="1250" x2="232" y2="1357"><stop offset="0" stop-color="#a8a122"/><stop offset="1" stop-color="#ca741b"/></linearGradient><linearGradient id="f52" gradientUnits="userSpaceOnUse" x1="433" y1="1285" x2="433" y2="1355"><stop offset="0" stop-color="#e0a820"/><stop offset="1" stop-color="#f08a20"/></linearGradient><linearGradient id="b52" gradientUnits="userSpaceOnUse" x1="433" y1="1285" x2="433" y2="1355"><stop offset="0" stop-color="#bc8d1b"/><stop offset="1" stop-color="#ca741b"/></linearGradient><linearGradient id="f53" gradientUnits="userSpaceOnUse" x1="405" y1="1255" x2="410" y2="1378"><stop offset="0" stop-color="#2ad89a"/><stop offset="1" stop-color="#20c8a8"/></linearGradient><linearGradient id="b53" gradientUnits="userSpaceOnUse" x1="405" y1="1255" x2="410" y2="1378"><stop offset="0" stop-color="#23b581"/><stop offset="1" stop-color="#1ba88d"/></linearGradient><linearGradient id="f54" gradientUnits="userSpaceOnUse" x1="478" y1="1290" x2="480" y2="1378"><stop offset="0" stop-color="#1e82d4"/><stop offset="1" stop-color="#1a70c8"/></linearGradient><linearGradient id="b54" gradientUnits="userSpaceOnUse" x1="478" y1="1290" x2="480" y2="1378"><stop offset="0" stop-color="#196db2"/><stop offset="1" stop-color="#165ea8"/></linearGradient><linearGradient id="f55" gradientUnits="userSpaceOnUse" x1="458" y1="1248" x2="466" y2="1372"><stop offset="0" stop-color="#1e82d4"/><stop offset="1" stop-color="#1a70c8"/></linearGradient><linearGradient id="b55" gradientUnits="userSpaceOnUse" x1="458" y1="1248" x2="466" y2="1372"><stop offset="0" stop-color="#196db2"/><stop offset="1" stop-color="#165ea8"/></linearGradient><linearGradient id="f56" gradientUnits="userSpaceOnUse" x1="745" y1="1260" x2="715" y2="1312"><stop offset="0" stop-color="#40d870"/><stop offset="1" stop-color="#8cd840"/></linearGradient><linearGradient id="b56" gradientUnits="userSpaceOnUse" x1="745" y1="1260" x2="715" y2="1312"><stop offset="0" stop-color="#36b55e"/><stop offset="1" stop-color="#76b536"/></linearGradient><linearGradient id="f57" gradientUnits="userSpaceOnUse" x1="682" y1="1275" x2="675" y2="1395"><stop offset="0" stop-color="#e0a820"/><stop offset="1" stop-color="#d8a028"/></linearGradient><linearGradient id="b57" gradientUnits="userSpaceOnUse" x1="682" y1="1275" x2="675" y2="1395"><stop offset="0" stop-color="#bc8d1b"/><stop offset="1" stop-color="#b58622"/></linearGradient><linearGradient id="f58" gradientUnits="userSpaceOnUse" x1="928" y1="1297" x2="928" y2="1380"><stop offset="0" stop-color="#1e82d4"/><stop offset="1" stop-color="#20acc8"/></linearGradient><linearGradient id="b58" gradientUnits="userSpaceOnUse" x1="928" y1="1297" x2="928" y2="1380"><stop offset="0" stop-color="#196db2"/><stop offset="1" stop-color="#1b90a8"/></linearGradient><linearGradient id="f59" gradientUnits="userSpaceOnUse" x1="915" y1="1275" x2="913" y2="1395"><stop offset="0" stop-color="#1e82d4"/><stop offset="1" stop-color="#1a60d0"/></linearGradient><linearGradient id="b59" gradientUnits="userSpaceOnUse" x1="915" y1="1275" x2="913" y2="1395"><stop offset="0" stop-color="#196db2"/><stop offset="1" stop-color="#1651af"/></linearGradient><linearGradient id="f60" gradientUnits="userSpaceOnUse" x1="945" y1="1265" x2="943" y2="1410"><stop offset="0" stop-color="#20acc8"/><stop offset="1" stop-color="#1a4ed0"/></linearGradient><linearGradient id="b60" gradientUnits="userSpaceOnUse" x1="945" y1="1265" x2="943" y2="1410"><stop offset="0" stop-color="#1b90a8"/><stop offset="1" stop-color="#1642af"/></linearGradient></defs><g filter="url(#soft)"><path d="M190.0,688.0 C188.8,685.8 186.0,678.3 183.0,675.0 C180.0,671.7 174.5,670.5 172.0,668.0 C169.5,665.5 167.0,662.2 168.0,660.0 C169.0,657.8 174.8,656.3 178.0,655.0 C181.2,653.7 185.7,654.2 187.0,652.0 C188.3,649.8 185.2,645.3 186.0,642.0 C186.8,638.7 191.3,635.3 192.0,632.0 C192.7,628.7 189.0,624.5 190.0,622.0 C191.0,619.5 195.0,617.7 198.0,617.0 C201.0,616.3 206.0,616.5 208.0,618.0 C210.0,619.5 210.7,623.3 210.0,626.0 C209.3,628.7 205.7,631.7 204.0,634.0 C202.3,636.3 200.7,639.0 200.0,640.0" fill="none" stroke="#70d8a0" stroke-width="1.8" stroke-linecap="round" stroke-linejoin="round"/>
<path fill="#36b55e" d="M174.4,649.5l-.2,1-.8,2.4-1.1,3.3-.7,3.6 .1,3 1,1.8 2.4,1.6 .1-1 .9-2.4 1-3.4 .8-3.5-.1-3-1-1.8zM186,657.3l-.1,1-.9,2.4-1,3.3-.7,3.5 0,3 1.1,1.8 2.4,1.6 .1-1 .8-2.4 1.1-3.3 .7-3.6 0-2.9-1.1-1.8z"/>
<path fill="#40d870" stroke="#288645" stroke-width=".5" d="M160.8,656.6l.7-.6 1.8-1.8 2.6-2.3 3.1-2 2.8-1 2.3,.4 2.9,2-.7,.6-1.8,1.8-2.6,2.2-3,2.1-2.9,1-2.2-.4zM172.4,664.4l.7-.6 1.8-1.8 2.7-2.3 3-2 2.9-1 2.2,.4 3,2-.7,.6-1.8,1.7-2.6,2.3-3.1,2-2.9,1.1-2.2-.4zM184.1,672.1l.3-.2 .2-1.1 .6-1.5 .9-1.8 1.1-1.8 1.3-1.7 5.8,3.9-1.1,1.8-1.3,1.8-1.3,1.5-1.2,1.1-1.1,.4-1.2-.4z"/>
<ellipse cx="212" cy="692" rx="8" ry="8" fill="none" stroke="#20c8b0" stroke-width="1.8"/>
<path d="M170.0,700.0 C172.0,699.3 178.7,696.0 182.0,696.0 C185.3,696.0 187.0,700.3 190.0,700.0 C193.0,699.7 196.7,695.7 200.0,694.0 C203.3,692.3 208.3,690.7 210.0,690.0" fill="none" stroke="#e05040" stroke-width="1.2" stroke-linecap="round" stroke-linejoin="round"/>
<path fill="url(#b1)" d="M184.1,712.4l-1.2,.7-3.1,.7-4.2,1.1-4.3,1.4-3.1,1.8-1.2,2.1-.2,2.9 1.2-.7 3.1-.7 4.2-1.1 4.3-1.4 3.2-1.8 1.2-2.1zM183.4,729.4l-1.2,.6-3.1,.8-4.2,1-4.3,1.5-3.1,1.8-1.3,2.1-.1,2.9 1.2-.7 3.1-.8 4.2-1 4.3-1.4 3.1-1.8 1.3-2.1zM182.7,746.4l-1.2,.6-3.1,.8-4.2,1-4.3,1.5-3.2,1.8-1.2,2.1-.1,2.8 1.2-.6 3.1-.8 4.2-1 4.3-1.4 3.1-1.9 1.2-2zM182,763.4l-1.2,.6-3.1,.8-4.3,1-4.2,1.4-3.2,1.9-1.2,2-.1,2.9 1.1-.6 3.1-.8 4.3-1 4.3-1.5 3.1-1.8 1.2-2.1zM181.2,780.3l-1.1,.7-3.1,.8-4.3,1-4.2,1.4-3.2,1.8-1.2,2.1-.1,2.9 1.1-.6 3.1-.8 4.3-1 4.2-1.5 3.2-1.8 1.2-2.1zM180.5,797.3l-.5,.5-1.6,.1-2.3-.4-2.9-.3-3-.1-2.7,.1-.2,5.2 2.7,.4 3,.1 2.9,0 2.3-.2 1.6-1 .6-1.5z"/>
<path fill="url(#f1)" stroke="#9e3c14" stroke-width=".5" d="M167.7,702.8l1.1,.6 3,.9 4.2,1.3 4.1,1.9 3,2.2 1,2.3-.1,3.6-1.1-.5-3.1-.9-4.1-1.4-4.2-1.8-2.9-2.2-1.1-2.4zM167,719.8l1.1,.6 3,.9 4.2,1.3 4.1,1.9 3,2.2 1,2.3-.2,3.6-1.1-.5-3-.9-4.1-1.4-4.2-1.8-3-2.2-1-2.4zM166.3,736.8l1.1,.6 3,.9 4.1,1.3 4.2,1.9 3,2.2 1,2.3-.2,3.6-1.1-.5-3-.9-4.2-1.4-4.1-1.8-3-2.2-1-2.4zM165.5,753.8l1.1,.6 3.1,.9 4.1,1.3 4.2,1.8 2.9,2.2 1.1,2.4-.2,3.6-1.1-.6-3-.9-4.2-1.3-4.1-1.8-3-2.2-1-2.4zM164.8,770.8l1.1,.6 3.1,.8 4.1,1.4 4.1,1.8 3,2.2 1.1,2.4-.2,3.6-1.1-.6-3-.9-4.2-1.3-4.1-1.9-3-2.2-1-2.3zM164.1,787.8l1.1,.5 3.1,.9 4.1,1.4 4.1,1.8 3,2.2 1,2.4-.1,3.6-1.1-.6-3.1-.9-4.1-1.3-4.1-1.9-3-2.2-1-2.3z"/>
<path fill="url(#b2)" d="M160.4,705.2l-1.6,.6-4.2,.4-5.7,.6-5.7,1-4.3,1.5-1.7,1.9-.4,2.9 1.6-.5 4.2-.5 5.7-.6 5.7-1 4.3-1.4 1.7-2zM158.5,722.1l-1.6,.6-4.1,.4-5.7,.6-5.8,1-4.3,1.5-1.7,1.9-.3,2.9 1.6-.5 4.1-.5 5.7-.6 5.8-1 4.3-1.4 1.7-2zM156.6,739l-1.5,.6-4.2,.4-5.7,.6-5.7,1-4.3,1.5-1.8,1.9-.3,2.9 1.6-.5 4.2-.5 5.7-.6 5.7-1 4.3-1.4 1.7-2zM154.8,755.9l-1.6,.6-4.2,.4-5.7,.6-5.7,1-4.3,1.5-1.7,1.9-.3,2.9 1.5-.5 4.2-.5 5.7-.6 5.8-1 4.2-1.4 1.8-2zM152.9,772.8l-1.5,.6-4.2,.4-5.7,.6-5.8,1-4.3,1.5-1.7,1.9-.3,2.9 1.6-.5 4.1-.5 5.7-.6 5.8-1 4.3-1.4 1.7-2zM151.1,789.7l-1.6,.6-4.2,.4-5.7,.6-5.7,1-4.3,1.5-1.7,1.9-.4,2.9 1.6-.5 4.2-.5 5.7-.6 5.7-1 4.3-1.4 1.7-2zM149.3,805.8l-.2-.3-.7-.4-1.2-.4-1.5-.4-1.9-.4-2.1-.3-.6,5.6 2.1,.1 2,0 1.5,0 1.2-.2 .8-.2 .3-.2z"/>
<path fill="url(#f2)" stroke="#135183" stroke-width=".5" d="M139.1,694l1.4,.7 4,1.2 5.4,1.7 5.4,2.3 3.9,2.5 1.2,2.5-.4,3.6-1.4-.7-4-1.2-5.5-1.8-5.3-2.3-3.9-2.5-1.2-2.4zM137.2,710.9l1.4,.7 4,1.2 5.5,1.7 5.4,2.3 3.8,2.5 1.2,2.5-.4,3.6-1.4-.7-4-1.2-5.4-1.8-5.4-2.3-3.9-2.5-1.2-2.4zM135.3,727.8l1.5,.7 4,1.2 5.4,1.7 5.4,2.3 3.8,2.5 1.3,2.5-.4,3.6-1.5-.7-3.9-1.2-5.5-1.8-5.4-2.3-3.8-2.5-1.3-2.4zM133.5,744.7l1.4,.7 4,1.2 5.4,1.7 5.4,2.3 3.9,2.5 1.2,2.5-.4,3.6-1.4-.7-4-1.2-5.4-1.8-5.4-2.3-3.9-2.5-1.2-2.4zM131.6,761.6l1.5,.7 3.9,1.2 5.5,1.7 5.4,2.3 3.8,2.5 1.3,2.5-.4,3.6-1.5-.7-4-1.2-5.4-1.8-5.4-2.3-3.8-2.5-1.3-2.4zM129.8,778.5l1.4,.7 4,1.2 5.4,1.7 5.4,2.3 3.9,2.5 1.2,2.5-.4,3.6-1.4-.7-4-1.2-5.5-1.8-5.3-2.3-3.9-2.5-1.2-2.4zM127.9,795.4l1.4,.7 4,1.2 5.5,1.7 5.4,2.3 3.8,2.5 1.3,1.6-.4,3.6-1.5,.2-4-1.2-5.4-1.8-5.4-2.3-3.9-2.5-1.2-2.4z"/>
<path d="M138.0,806.0 C137.0,807.5 133.2,813.0 132.0,815.0 C130.8,817.0 131.2,817.5 131.0,818.0" fill="none" stroke="#1e82d4" stroke-width="2.5" stroke-linecap="round" stroke-linejoin="round"/>
<path fill="url(#b3)" d="M177.1,713.8l-1.5,.6-3.9,.6-5.4,.8-5.4,1.3-4.1,1.6-1.6,2-.2,2.9 1.5-.6 4-.6 5.4-.8 5.4-1.2 4-1.7 1.6-2zM175.8,730.8l-1.4,.6-4,.6-5.4,.8-5.4,1.2-4,1.7-1.6,2-.2,2.9 1.5-.6 3.9-.6 5.4-.9 5.4-1.2 4.1-1.6 1.5-2.1zM174.6,747.7l-1.5,.6-3.9,.6-5.4,.9-5.4,1.2-4.1,1.6-1.5,2-.3,2.9 1.5-.6 4-.6 5.4-.8 5.4-1.2 4-1.7 1.6-2zM173.4,764.7l-1.5,.6-4,.6-5.4,.8-5.4,1.2-4,1.7-1.6,2-.2,2.9 1.5-.6 3.9-.6 5.4-.8 5.4-1.3 4.1-1.6 1.5-2zM172.1,781.6l-1.5,.6-3.9,.6-5.4,.9-5.4,1.2-4.1,1.6-1.5,2.1-.3,2.8 1.5-.6 4-.6 5.4-.8 5.4-1.2 4-1.7 1.6-2zM170.9,798.6l-1.5,.6-4,.6-5.4,.8-5.4,1.2-4,1.7-1.6,2-.2,2.9 1.5-.6 3.9-.6 5.4-.8 5.4-1.3 4.1-1.6 1.5-2zM169.6,815.5l-1.5,.6-3.9,.6-5.4,.9-5.4,1.2-4.1,1.6-1.5,2.1-.2,2.8 1.4-.6 4-.6 5.4-.8 5.4-1.2 4-1.7 1.6-2zM168.4,832.5l-1.5,.6-4,.6-5.4,.8-5.4,1.2-4,1.7-1.6,2-.2,2.9 1.5-.6 3.9-.6 5.4-.8 5.5-1.2 4-1.7 1.6-2z"/>
<path fill="url(#f3)" stroke="#1a865f" stroke-width=".5" d="M156.5,703.4l1.4,.6 3.8,1.1 5.3,1.5 5.1,2.1 3.8,2.3 1.2,2.5-.2,3.6-1.4-.7-3.9-1-5.2-1.6-5.2-2-3.7-2.4-1.2-2.4zM155.3,720.4l1.4,.6 3.8,1 5.2,1.6 5.2,2 3.7,2.4 1.3,2.4-.3,3.6-1.4-.6-3.8-1.1-5.2-1.5-5.2-2.1-3.7-2.3-1.3-2.4zM154,737.3l1.4,.7 3.8,1 5.3,1.6 5.1,2 3.8,2.4 1.2,2.4-.2,3.6-1.4-.7-3.8-1-5.3-1.6-5.2-2-3.7-2.4-1.2-2.4zM152.8,754.3l1.4,.6 3.8,1 5.2,1.6 5.2,2.1 3.7,2.3 1.3,2.4-.3,3.6-1.4-.6-3.8-1-5.2-1.6-5.2-2.1-3.7-2.3-1.3-2.4zM151.5,771.2l1.4,.7 3.8,1 5.3,1.6 5.1,2 3.8,2.4 1.2,2.4-.2,3.6-1.4-.7-3.8-1-5.3-1.6-5.1-2-3.8-2.4-1.2-2.4zM150.3,788.2l1.4,.6 3.8,1.1 5.2,1.5 5.2,2.1 3.7,2.3 1.3,2.4-.3,3.6-1.4-.6-3.8-1-5.2-1.6-5.2-2-3.7-2.4-1.3-2.4zM149,805.1l1.4,.7 3.9,1 5.2,1.6 5.2,2 3.7,2.4 1.2,2.4-.2,3.6-1.4-.6-3.8-1.1-5.3-1.5-5.1-2.1-3.8-2.3-1.2-2.5zM147.8,822.1l1.4,.6 3.8,1.1 5.2,1.5 5.2,2.1 3.7,2.3 1.3,2.4-.3,3.6-1.4-.6-3.8-1-5.2-1.6-5.2-2-3.7-2.4-1.3-2.4zM146.5,839.1l.5-.1 1.3-.4 2-.3 2.5-.1 2.9,.1 3,.2-.5,7.2-3-.2-2.9-.4-2.5-.5-1.9-.5-1.3-.6-.3-.9z"/>
<path fill="url(#b4)" d="M217.8,732.5l-1.4,.6-3.8,.8-5,1-5.1,1.3-3.8,1.8-1.5,2.1-.1,2.9 1.4-.7 3.7-.7 5.1-1 5.1-1.4 3.8-1.7 1.4-2.1zM217,749.5l-1.4,.6-3.7,.7-5.1,1-5.1,1.4-3.8,1.8-1.4,2.1-.2,2.9 1.4-.7 3.8-.7 5-1 5.1-1.4 3.8-1.8 1.5-2zM216.2,766.5l-1.3,.6-3.8,.7-5.1,1-5.1,1.4-3.7,1.8-1.5,2.1-.1,2.8 1.4-.6 3.7-.7 5.1-1 5.1-1.4 3.8-1.8 1.4-2.1zM215.5,783.5l-1.4,.6-3.7,.7-5.1,1-5.1,1.4-3.8,1.8-1.4,1.1-.1,2.9 1.3,.3 3.7-.7 5.1-1 5.1-1.4 3.8-1.8 1.4-2.1z"/>
<path fill="url(#f4)" stroke="#9e3c14" stroke-width=".5" d="M198,722.8l1.3,.5 3.7,.9 5,1.4 4.9,1.9 3.6,2.3 1.3,2.3-.2,3.6-1.3-.5-3.7-1-5-1.4-4.9-1.8-3.6-2.3-1.3-2.4zM197.3,739.7l1.3,.6 3.6,.9 5,1.4 5,1.9 3.6,2.3 1.2,2.3-.2,3.6-1.3-.6-3.6-.9-5-1.4-5-1.9-3.6-2.2-1.2-2.4zM196.5,756.7l1.3,.6 3.7,.9 5,1.4 4.9,1.9 3.6,2.2 1.2,2.4-.1,3.6-1.3-.6-3.7-.9-5-1.4-4.9-1.9-3.6-2.2-1.3-2.4zM195.7,773.7l1.4,.6 3.6,.9 5,1.4 5,1.9 3.5,2.2 1.3,2.4-.2,3.6-1.3-.6-3.7-.9-4.9-1.4-5-1.9-3.6-2.2-1.2-2.4zM195,789.8l.2-.4 .7-.3 1-.3 1.3-.2 1.7-.2 1.9,0-.4,6.9-1.8-.2-1.6-.3-1.4-.3-1-.4-.6-.4-.2-.4z"/>
<path fill="#6caf51" d="M207.1,755.4l-1.2,.7-3.1,.7-4.2,1.1-4.3,1.4-3.2,1.8-1.2,2.1-.1,2.8 1.1-.6 3.1-.8 4.3-1 4.3-1.4 3.1-1.8 1.2-2.1zM206.3,772.4l-1.2,.7-3.1,.7-4.2,1-4.3,1.5-3.1,1.8-1.3,2-.1,2.9 1.2-.6 3.1-.8 4.2-1 4.3-1.4 3.1-1.8 1.3-2.1zM205.5,789.4l-.5,.4-1.6,.1-2.3-.4-2.8-.3-3-.1-2.7,0-.3,5.3 2.8,.4 3,.1 2.8,0 2.3-.2 1.6-1 .6-1.4z"/>
<path fill="#80d060" stroke="#4f813c" stroke-width=".5" d="M190.7,745.8l1.1,.6 3,.9 4.2,1.3 4.1,1.9 3,2.2 1,2.4-.2,3.6-1.1-.6-3-.9-4.2-1.4-4.1-1.8-3-2.2-1-2.4zM189.9,762.8l1.1,.6 3.1,.9 4.1,1.3 4.1,1.9 3,2.2 1,2.4-.1,3.6-1.1-.6-3.1-.9-4.1-1.4-4.1-1.8-3-2.2-1-2.4zM189.1,779.8l1.1,.6 3.1,.8 4.1,1.4 4.1,1.9 3,2.2 1,2.3-.1,3.6-1.1-.5-3.1-.9-4.1-1.4-4.1-1.8-3-2.3-1-2.3z"/>
<path fill="url(#b5)" d="M212.9,693l-1.2,1.2-3.6,2.2-4.9,2.9-4.8,3.4-3.2,3.1-.7,2.6 .9,2.7 1.2-1.2 3.6-2.1 4.9-3 4.7-3.4 3.3-3.1 .7-2.5zM218.4,709.1l-1.2,1.2-3.6,2.1-4.9,3-4.8,3.4-3.2,3.1-.7,2.5 .9,2.8 1.2-1.2 3.6-2.2 4.9-2.9 4.8-3.4 3.2-3.1 .7-2.5z"/>
<path fill="url(#f5)" stroke="#147c6d" stroke-width=".5" d="M188.8,691.9l1.6,0 4.1-.6 5.7-.7 5.8-.2 4.6,.6 2.2,1.7 1.1,3.4-1.6,0-4.1,.6-5.7,.7-5.8,.3-4.5-.7-2.2-1.7zM194.3,708l1.6,0 4.1-.6 5.7-.7 5.9-.3 4.5,.7 2.2,1.7 1.1,3.4-1.5,0-4.2,.6-5.6,.7-5.9,.3-4.5-.7-2.2-1.7zM199.8,724.1l1.2,0 3.1-.4 4.3-1.2 4.7-1.6 4.4-1.2 3.1-.4 1.7,4.9-2.7,1.6-4.2,1.8-4.7,1.6-4.5,.6-3.5-.8-1.7-1.5z"/>
<path fill="#1111af" d="M205.8,710.6l-1.4,.4-3.8,.3-5.2,.4-5.2,.8-4,1.4-1.6,1.9-.5,2.8 1.5-.5 3.7-.3 5.2-.4 5.2-.8 4-1.3 1.7-1.9zM203.1,727.4l-1.4,.4-3.8,.3-5.2,.4-5.2,.8-4,1.3-1.6,1.9-.5,2.9 1.4-.5 3.8-.3 5.2-.4 5.2-.8 4-1.3 1.7-1.9zM200.4,744.1l-1.4,.5-3.8,.3-5.2,.4-5.2,.8-4,1.3-1.6,1.9-.5,2.9 1.4-.5 3.8-.3 5.2-.4 5.2-.8 4-1.3 1.7-1.9zM197.7,760.9l-1.4,.5-3.8,.3-5.2,.4-5.2,.8-4,1.3-1.6,1.9-.5,2.8 1.4-.4 3.8-.3 5.2-.4 5.2-.8 4-1.3 1.6-1.9zM195,777.7l-1.4,.5-3.8,.3-5.2,.4-5.2,.8-4,1.3-1.7,1.9-.4,2.8 1.4-.4 3.8-.3 5.2-.4 5.2-.8 4-1.4 1.6-1.8zM192.3,794.5l-1.5,.5-3.7,.3-5.2,.4-5.2,.7-4,1.4-1.7,1.9-.4,2.8 1.4-.5 3.8-.2 5.2-.5 5.2-.7 4-1.4 1.6-1.9zM189.6,811.3l-1.5,.4-3.7,.3-5.2,.4-5.2,.8-4,1.4-1.7,1.9-.4,2.8 1.4-.5 3.8-.3 5.2-.4 5.2-.8 4-1.3 1.6-1.9zM187.2,826.2l-.1-.2-.3-.3-.4-.3-.7-.3-.9-.3-1-.3-.8,5 1.1,.1 .9-.1 .7,0 .5-.1 .4-.2 .1-.2z"/>
<path fill="#1414d0" stroke="#0c0c81" stroke-width=".5" d="M187.3,698.6l1.3,.7 3.5,1.4 4.8,1.9 4.7,2.5 3.3,2.6 1,2.5-.6,3.6-1.2-.8-3.6-1.3-4.7-2-4.8-2.4-3.3-2.6-.9-2.5zM184.6,715.4l1.3,.7 3.5,1.4 4.8,1.9 4.7,2.5 3.3,2.6 1,2.5-.6,3.6-1.2-.8-3.6-1.3-4.8-2-4.7-2.4-3.3-2.6-.9-2.5zM181.9,732.2l1.3,.7 3.5,1.3 4.8,2 4.7,2.4 3.3,2.7 1,2.5-.6,3.5-1.3-.7-3.5-1.3-4.8-2-4.7-2.4-3.3-2.7-1-2.5zM179.2,749l1.3,.7 3.5,1.3 4.8,2 4.7,2.4 3.3,2.7 1,2.5-.6,3.5-1.3-.7-3.5-1.3-4.8-2-4.7-2.4-3.3-2.7-1-2.5zM176.5,765.8l1.3,.7 3.5,1.3 4.8,2 4.7,2.4 3.3,2.6 1,2.6-.6,3.5-1.3-.7-3.5-1.4-4.8-1.9-4.7-2.5-3.3-2.6-1-2.5zM173.8,782.5l1.3,.8 3.5,1.3 4.8,2 4.7,2.4 3.3,2.6 .9,2.5-.5,3.6-1.3-.7-3.5-1.4-4.8-1.9-4.7-2.5-3.3-2.6-1-2.5zM171.1,799.3l1.2,.7 3.6,1.4 4.8,1.9 4.7,2.5 3.3,2.6 .9,2.5-.5,3.6-1.3-.8-3.5-1.3-4.8-2-4.7-2.4-3.3-2.6-1-2.5zM168.4,816.1l1.2,.7 3.6,1.4 4.7,1.9 4.8,2.5 3.3,2.1 1.2,1.1-.5,3.6-1.5,.7-3.6-.9-4.8-2-4.7-2.4-3.3-2.6-1-2.5z"/>
<path fill="url(#b6)" d="M205.2,786.1l-1.4,.6-3.7,.4-5.2,.7-5.2,1.1-3.9,1.5-1.5,2-.4,2.8 1.5-.5 3.7-.5 5.2-.7 5.2-1 3.8-1.5 1.6-2zM203.4,803l-1.5,.6-3.7,.4-5.2,.7-5.2,1-3.8,1.6-1.6,1.9-.3,2.9 1.4-.5 3.8-.5 5.1-.7 5.2-1 3.9-1.5 1.5-2zM201.5,819.9l-1.4,.6-3.8,.4-5.1,.7-5.2,1-3.9,1.6-1.6,1.9-.3,2.9 1.4-.5 3.8-.5 5.1-.7 5.2-1 3.9-1.5 1.6-2z"/>
<path fill="url(#f6)" stroke="#147c6d" stroke-width=".5" d="M186.2,775.1l1.3,.7 3.5,1.1 4.9,1.7 4.9,2.3 3.4,2.4 1.1,2.5-.4,3.6-1.3-.7-3.6-1.2-4.9-1.7-4.8-2.2-3.4-2.5-1.1-2.4zM184.3,792l1.3,.7 3.6,1.1 4.9,1.7 4.8,2.2 3.4,2.5 1.1,2.5-.4,3.5-1.3-.6-3.6-1.2-4.8-1.7-4.9-2.2-3.4-2.5-1.1-2.4zM182.4,808.9l1.3,.7 3.6,1.1 4.9,1.7 4.8,2.2 3.4,2.5 1.1,2.5-.4,3.5-1.3-.6-3.5-1.2-4.9-1.7-4.8-2.2-3.5-2.5-1.1-2.4zM180.5,825.8l1.1,.6 2.9,.9 4.2,1 4.6,.5 4,.9 2.4,1-.5,4.7-2.6,.5-4.1-.1-4.6-.4-4.1-1.6-2.8-2.3-.8-2.1z"/>
<path fill="url(#b7)" d="M243.8,697.9l-1.7,.5-4.5,.6-6.3,.8-6.2,1.2-4.6,1.7-1.8,2-.2,2.9 1.7-.6 4.5-.6 6.3-.8 6.2-1.2 4.6-1.6 1.8-2.1zM242.7,714.8l-1.7,.6-4.6,.6-6.2,.8-6.2,1.2-4.7,1.6-1.8,2.1-.2,2.8 1.7-.5 4.6-.6 6.2-.8 6.3-1.2 4.6-1.7 1.8-2zM241.6,731.8l-1.7,.6-4.6,.6-6.2,.8-6.3,1.2-4.6,1.6-1.8,2-.2,2.9 1.7-.6 4.6-.6 6.2-.8 6.3-1.2 4.6-1.6 1.8-2zM240.4,748.8l-1.7,.5-4.5,.6-6.2,.8-6.3,1.2-4.6,1.7-1.8,2-.2,2.9 1.7-.6 4.5-.6 6.3-.8 6.2-1.2 4.7-1.7 1.7-2zM239.3,765.7l-1.7,.6-4.6,.6-6.2,.8-6.2,1.2-4.7,1.6-1.8,2.1-.1,2.8 1.7-.6 4.5-.5 6.2-.9 6.3-1.2 4.6-1.6 1.8-2zM238.4,779.4l0-.1-.1-.1-.1-.1-.1-.1-.2-.1-.2-.1-.3,3.9 .2-.1 .2,0 .2-.1 .1-.1 .1-.1 0,0z"/>
<path fill="url(#f7)" stroke="#7c7719" stroke-width=".5" d="M219.8,687.4l1.6,.6 4.5,1.1 6.1,1.5 6,2.1 4.4,2.4 1.4,2.4-.2,3.6-1.6-.6-4.5-1.1-6-1.6-6.1-2-4.3-2.4-1.5-2.4zM218.7,704.3l1.6,.7 4.5,1 6,1.6 6.1,2.1 4.3,2.3 1.5,2.5-.2,3.6-1.6-.7-4.5-1-6.1-1.6-6-2.1-4.4-2.3-1.4-2.5zM217.6,721.3l1.6,.6 4.4,1.1 6.1,1.6 6,2 4.4,2.4 1.5,2.4-.3,3.6-1.6-.6-4.4-1.1-6.1-1.5-6-2.1-4.4-2.4-1.5-2.4zM216.4,738.3l1.6,.6 4.5,1.1 6.1,1.5 6,2.1 4.4,2.4 1.5,2.4-.3,3.6-1.6-.6-4.4-1.1-6.1-1.6-6.1-2-4.3-2.4-1.5-2.4zM215.3,755.2l1.6,.7 4.5,1 6,1.6 6.1,2.1 4.3,2.3 1.5,2.5-.2,3.5-1.6-.6-4.5-1-6-1.6-6.1-2.1-4.3-2.4-1.5-2.4zM214.2,772.2l1.6,.6 4.4,1.1 6.1,1.6 6.1,1.6 4.4,.9 1.6,1-.2,3.6-1.7,.8-4.6,.4-6.1-1.2-6-2-4.4-2.4-1.5-2.4z"/>
<path fill="#ca741b" d="M252.3,769.1l-1.6,.7-4.5,.8-6.2,1.3-6.2,1.6-4.5,1.9-1.6,2.2 0,2.8 1.6-.7 4.5-.8 6.2-1.3 6.2-1.6 4.5-1.9 1.6-2.2zM252.3,786.1l-1.6,.7-4.5,.8-6.2,1.3-6.2,1.6-4.5,1.9-1.6,2.2 0,2.8 1.6-.7 4.5-.8 6.2-1.3 6.2-1.6 4.5-1.9 1.6-2.2zM252.3,803.1l-.5,0-1.5-.3-2.4-.3-3.1-.3-3.5-.1-3.6,0 0,5.8 3.6,0 3.5-.1 3.1-.3 2.4-.3 1.5-.3 .5-1z"/>
<path fill="#f08a20" stroke="#955614" stroke-width=".5" d="M227.7,760.2l1.6,.5 4.5,.8 6.2,1.1 6.2,1.7 4.5,2.1 1.6,2.3 0,3.6-1.6-.5-4.5-.8-6.2-1.1-6.2-1.7-4.5-2.1-1.6-2.3zM227.7,777.2l1.6,.5 4.5,.8 6.2,1.1 6.2,1.7 4.5,2.1 1.6,2.3 0,3.6-1.6-.5-4.5-.8-6.2-1.1-6.2-1.7-4.5-2.1-1.6-2.3zM227.7,794.2l1.6,.5 4.5,.8 6.2,1.1 6.2,1.7 4.5,2.1 1.6,2.3 0,3.6-1.6-.5-4.5-.8-6.2-1.1-6.2-1.7-4.5-2.1-1.6-2.3z"/>
<path fill="url(#b8)" d="M239.4,792.7l-1.5,.8-4.1,1-5.5,1.4-5.6,1.7-4,2.1-1.5,2.2 .1,2.8 1.5-.7 4.1-1 5.5-1.4 5.6-1.7 4-2.1 1.5-2.2zM239.9,809.7l-1.5,.8-4.1,1-5.6,1.4-5.5,1.7-4.1,2.1-1.4,2.2 .1,2.8 1.5-.7 4-1 5.6-1.4 5.6-1.7 4-2.1 1.4-2.2z"/>
<path fill="url(#f8)" stroke="#6d8128" stroke-width=".5" d="M216.8,784.5l1.5,.5 4.1,.6 5.6,1 5.7,1.6 4.1,1.9 1.6,2.3 .1,3.6-1.5-.5-4.2-.6-5.6-1.1-5.6-1.5-4.2-1.9-1.5-2.3zM217.2,801.5l1.5,.5 4.2,.6 5.6,1 5.6,1.5 4.2,2 1.6,2.3 .1,3.6-1.6-.5-4.1-.6-5.6-1.1-5.7-1.5-4.1-1.9-1.6-2.3zM217.7,818.5l.8,.3 2.4,.4 3.5-.5 4.2-.3 4.2,0 3.7,.3 .2,6.2-3.7,.5-4.2,.2-4.2,0-3.5-.3-2.4-1.5-.9-1.7z"/>
<path d="M150.0,832.0 C151.7,834.2 156.3,843.3 160.0,845.0 C163.7,846.7 170.0,842.5 172.0,842.0" fill="none" stroke="#20c8b0" stroke-width="1.6" stroke-linecap="round" stroke-linejoin="round"/>
<path d="M376.0,670.0 C376.0,675.0 377.3,694.2 376.0,700.0 C374.7,705.8 367.3,702.8 368.0,705.0 C368.7,707.2 378.0,711.7 380.0,713.0" fill="none" stroke="#c8c028" stroke-width="1.8" stroke-linecap="round" stroke-linejoin="round"/>
<path d="M376.0,670.0 C378.0,671.7 385.2,675.5 388.0,680.0 C390.8,684.5 390.2,692.3 393.0,697.0 C395.8,701.7 403.0,706.2 405.0,708.0" fill="none" stroke="#c8c028" stroke-width="1.8" stroke-linecap="round" stroke-linejoin="round"/>
<path d="M385.0,805.0 C385.8,807.5 387.8,816.3 390.0,820.0 C392.2,823.7 396.7,825.8 398.0,827.0" fill="none" stroke="#e0a820" stroke-width="1.8" stroke-linecap="round" stroke-linejoin="round"/>
<path d="M407.0,817.0 C408.8,818.3 414.2,824.2 418.0,825.0 C421.8,825.8 428.0,822.5 430.0,822.0" fill="none" stroke="#b0d040" stroke-width="1.8" stroke-linecap="round" stroke-linejoin="round"/>
<path fill="#36b55e" d="M436.2,655.4l.3,1.1 .1,2.5 .1,3.6 .6,3.6 1,2.9 1.8,1.5 2.7,.8-.3-1-.1-2.6-.1-3.6-.5-3.6-1.1-2.9-1.7-1.5zM451.5,660l.4,1 0,2.6 .2,3.5 .5,3.7 1.1,2.9 1.7,1.4 2.8,.8-.4-1-.1-2.6-.1-3.5-.5-3.7-1.1-2.9-1.7-1.4zM466.9,664.5l.3,1 .1,2.6 .1,3.6 .5,3.6 1.1,2.9 1.7,1.5 2.8,.8-.3-1-.1-2.6-.2-3.6-.5-3.6-1-2.9-1.8-1.5zM482.2,669.1l-.1,.2-.6,.6-.7,1.1-.6,1.5-.6,1.7-.6,1.8 5.5,1.6 .5-1.8 .4-1.8 .3-1.5 0-1.3-.1-.9-.6-.4z"/>
<path fill="#40d870" stroke="#288645" stroke-width=".5" d="M424.4,665.9l.6-.7 1.4-2.2 2-2.9 2.4-2.8 2.7-1.8 2.4-.2 3.4,1-.7,.8-1.3,2.1-2,3-2.5,2.7-2.6,1.8-2.4,.3zM439.7,670.5l.7-.8 1.3-2.1 2-2.9 2.5-2.8 2.6-1.8 2.4-.2 3.4,1-.6,.7-1.4,2.2-2,2.9-2.4,2.8-2.6,1.8-2.4,.2zM455,675l.7-.7 1.4-2.2 2-2.9 2.4-2.8 2.6-1.8 2.4-.2 3.5,1-.7,.8-1.3,2.1-2,2.9-2.5,2.8-2.6,1.8-2.4,.2zM470.4,679.6l.7-.8 1.3-2.1 2-3 2.5-2.7 2.6-1.8 2.4-.2 3.4,1-.6,.7-1.4,2.2-2,2.9-2.5,2.8-2.6,1.8-2.4,.2z"/>
<path d="M430.0,658.0 C431.7,660.3 435.0,666.7 440.0,672.0 C445.0,677.3 453.3,687.3 460.0,690.0 C466.7,692.7 475.0,690.0 480.0,688.0 C485.0,686.0 488.3,679.7 490.0,678.0" fill="none" stroke="#40d870" stroke-width="2" stroke-linecap="round" stroke-linejoin="round"/>
<path fill="#1b90a8" d="M438.4,682.7l-1.2,1-3.4,1.6-4.7,2.3-4.5,2.7-3.2,2.7-.9,2.4 .7,2.8 1.1-1 3.4-1.7 4.7-2.2 4.6-2.7 3.1-2.7 .9-2.4zM442.1,699.3l-.7,.7-2,1-3.3,.5-3.8,.7-3.8,1-3.1,1 1.1,4.8 3.2-.4 3.8-.8 3.8-.9 3.2-1.1 1.8-1.9 .4-1.8z"/>
<path fill="#20acc8" stroke="#146b7c" stroke-width=".5" d="M416.8,678.4l1.4,.2 3.8,0 5.1,0 5.3,.6 4.1,1.2 1.8,2 .8,3.5-1.5-.2-3.7,0-5.2,0-5.3-.6-4-1.2-1.8-2zM420.5,695l1.4,.2 3.8,0 5.1,0 5.3,.6 4.1,1.2 1.8,1.9 .8,3.6-1.5-.2-3.7,0-5.2,0-5.3-.6-4-1.2-1.9-2z"/>
<path fill="url(#b9)" d="M441.7,706.2l-1.4,.8-4,1.2-5.5,1.6-5.5,2.1-3.9,2.2-1.4,2.3 .3,2.9 1.4-.9 4-1.2 5.5-1.6 5.5-2.1 3.9-2.2 1.3-2.3zM443,723.1l-1.4,.8-4,1.2-5.5,1.7-5.5,2-3.9,2.3-1.3,2.2 .2,2.9 1.4-.8 4-1.2 5.5-1.7 5.5-2 3.9-2.3 1.4-2.2zM444.4,740.1l-1.5,.8-4,1.2-5.5,1.6-5.5,2.1-3.9,2.2-1.3,2.3 .2,2.9 1.4-.9 4.1-1.2 5.4-1.6 5.5-2.1 3.9-2.2 1.4-2.3zM445.7,757l-1.5,.8-4,1.2-5.5,1.7-5.4,2-4,2.3-1.3,2.2 .2,2.9 1.5-.8 4-1.2 5.5-1.7 5.4-2 4-2.3 1.3-2.2zM447,774l-1.5,.8-4,1.2-5.5,1.6-5.4,2.1-4,2.2-1.3,2.3 .2,2.8 1.5-.8 4-1.2 5.5-1.6 5.4-2.1 4-2.2 1.3-2.3zM448.1,787.7l-.1-.1 0-.1-.2-.1-.1,0-.2-.1-.3-.1 .3,4 .3-.1 .2-.1 .1-.1 .1-.1 .1-.1 0-.1z"/>
<path fill="url(#f9)" stroke="#146b7c" stroke-width=".5" d="M418.7,699.1l1.5,.4 4.2,.4 5.7,.7 5.7,1.3 4.2,1.7 1.7,2.2 .3,3.6-1.6-.4-4.1-.4-5.7-.8-5.7-1.2-4.3-1.7-1.6-2.2zM420,716l1.5,.4 4.2,.5 5.7,.7 5.7,1.2 4.2,1.8 1.7,2.2 .3,3.5-1.6-.3-4.1-.5-5.7-.7-5.7-1.2-4.2-1.8-1.7-2.2zM421.3,733l1.6,.4 4.1,.4 5.7,.7 5.7,1.3 4.2,1.7 1.7,2.2 .3,3.6-1.5-.4-4.2-.4-5.7-.8-5.7-1.2-4.2-1.7-1.7-2.2zM422.6,749.9l1.6,.4 4.1,.5 5.7,.7 5.7,1.2 4.3,1.8 1.6,2.2 .3,3.5-1.5-.4-4.2-.4-5.6-.7-5.7-1.2-4.3-1.8-1.7-2.2zM424,766.9l1.5,.4 4.1,.4 5.7,.7 5.7,1.3 4.3,1.7 1.7,2.2 .2,3.6-1.5-.4-4.1-.4-5.7-.8-5.7-1.2-4.3-1.7-1.7-2.2zM425.3,783.8l1.5,.4 4.2,.5 5.6,.7 5.7,.8 4.2,.4 1.5,.7 .3,3.6-1.4,1-4.1,1-5.6-.3-5.7-1.2-4.3-1.8-1.6-2.2z"/>
<path fill="#36b55e" d="M451.3,703.5l-1.1,.8-3.2,1.1-4.4,1.5-4.4,1.8-3.2,2.1-1.1,2.2 .2,2.9 1.2-.7 3.2-1.1 4.4-1.5 4.4-1.9 3.1-2.1 1.1-2.2zM452.3,720.5l-1.2,.8-3.2,1.1-4.4,1.4-4.4,1.9-3.1,2.1-1.1,2.2 .2,2.9 1.1-.8 3.2-1 4.4-1.5 4.4-1.9 3.2-2.1 1.1-2.2zM453.3,737.5l-1.2,.8-3.2,1-4.4,1.5-4.4,1.9-3.2,2.1-1,2.2 .1,2.9 1.2-.8 3.2-1.1 4.4-1.4 4.4-1.9 3.2-2.1 1-2.2z"/>
<path fill="#40d870" stroke="#288645" stroke-width=".5" d="M433,695.7l1.2,.5 3.3,.5 4.5,.9 4.6,1.5 3.4,1.8 1.3,2.3 .2,3.6-1.2-.5-3.3-.5-4.6-1-4.5-1.4-3.4-1.9-1.3-2.2zM433.9,712.7l1.2,.4 3.4,.6 4.5,.9 4.6,1.4 3.4,1.9 1.3,2.3 .2,3.6-1.2-.5-3.4-.6-4.5-.9-4.6-1.4-3.4-1.9-1.3-2.2zM434.9,729.7l1.2,.4 3.3,.6 4.6,.9 4.5,1.4 3.4,1.9 1.3,2.2 .2,3.6-1.2-.4-3.3-.6-4.5-.9-4.6-1.4-3.4-1.9-1.3-2.3zM435.8,746.6l.7,.4 2,.3 2.8-.6 3.4-.3 3.4-.1 3,.3 .3,6.1-2.9,.6-3.4,.3-3.4,0-2.9-.2-2-1.5-.8-1.7z"/>
<ellipse cx="436" cy="712" rx="5" ry="4" fill="#1414d0" opacity="1"/>
<ellipse cx="438" cy="728" rx="5" ry="4" fill="#1414d0" opacity="1"/>
<path fill="url(#b10)" d="M406.2,717.9l-1.6,.6-4.4,.6-5.9,.7-6,1.2-4.4,1.6-1.8,2.1-.2,2.8 1.6-.6 4.4-.5 6-.8 5.9-1.2 4.5-1.6 1.7-2zM405,734.9l-1.7,.5-4.3,.6-6,.8-6,1.2-4.4,1.6-1.7,2-.2,2.9 1.6-.6 4.3-.6 6-.8 6-1.1 4.4-1.7 1.7-2zM403.7,751.8l-1.6,.6-4.4,.6-5.9,.8-6,1.1-4.4,1.6-1.8,2.1-.2,2.8 1.6-.5 4.4-.6 6-.8 5.9-1.2 4.5-1.6 1.7-2zM402.5,768.8l-1.7,.5-4.3,.6-6,.8-6,1.2-4.4,1.6-1.7,2-.2,2.9 1.6-.6 4.3-.6 6-.8 6-1.1 4.4-1.6 1.8-2.1zM401.2,785.7l-1.6,.6-4.4,.6-5.9,.8-6,1.1-4.4,1.7-1.8,2-.2,2.8 1.6-.5 4.4-.6 6-.8 5.9-1.2 4.5-1.6 1.7-2zM400,802.7l-.9,.4-2.3,.1-3.4-.5-4.1-.5-4.3-.3-3.9,0-.4,5.2 3.9,.5 4.2,.3 4.2,.2 3.5-.1 2.3-1 1-1.5z"/>
<path fill="url(#f10)" stroke="#7c7719" stroke-width=".5" d="M383.4,707.3l1.5,.7 4.3,1 5.8,1.6 5.7,2.1 4.1,2.4 1.4,2.4-.2,3.6-1.6-.6-4.2-1.1-5.8-1.6-5.7-2.1-4.2-2.3-1.4-2.5zM382.2,724.3l1.5,.6 4.2,1.1 5.8,1.6 5.7,2.1 4.2,2.4 1.4,2.4-.3,3.6-1.5-.6-4.2-1.1-5.8-1.6-5.8-2.1-4.1-2.4-1.4-2.4zM380.9,741.2l1.5,.7 4.3,1.1 5.8,1.6 5.7,2 4.1,2.4 1.4,2.5-.2,3.5-1.6-.6-4.2-1.1-5.8-1.6-5.7-2-4.2-2.4-1.4-2.5zM379.7,758.2l1.5,.6 4.2,1.1 5.8,1.6 5.7,2.1 4.2,2.4 1.4,2.4-.3,3.6-1.5-.6-4.2-1.1-5.8-1.6-5.8-2.1-4.1-2.4-1.4-2.4zM378.4,775.2l1.5,.6 4.3,1.1 5.8,1.6 5.7,2 4.1,2.4 1.4,2.5-.2,3.6-1.6-.7-4.2-1.1-5.8-1.6-5.7-2-4.2-2.4-1.4-2.5zM377.2,792.1l1.5,.6 4.2,1.1 5.8,1.6 5.7,2.1 4.2,2.4 1.4,2.4-.3,3.6-1.5-.6-4.2-1.1-5.8-1.6-5.8-2.1-4.1-2.4-1.4-2.4z"/>
<path fill="#94af36" d="M423.6,752.1l-1.4,.7-3.9,.8-5.3,1.3-5.3,1.6-3.9,1.9-1.4,2.2 0,2.8 1.4-.7 3.9-.8 5.3-1.3 5.3-1.6 3.9-1.9 1.4-2.2zM423.6,769.1l-1.4,.7-3.9,.8-5.3,1.3-5.3,1.6-3.9,1.9-1.4,2.2 0,2.8 1.4-.7 3.9-.8 5.3-1.3 5.3-1.6 3.9-1.9 1.4-2.2zM423.6,786.1l-1.4,.7-3.9,.8-5.3,1.3-5.3,1.6-3.9,1.9-1.4,2.2 0,2.8 1.4-.7 3.9-.8 5.3-1.3 5.3-1.6 3.9-1.9 1.4-2.2zM423.6,803.1l-1.4,.7-3.9,.8-5.3,1.3-5.3,1.6-3.9,1.9-1.4,2.2 0,2.8 1.4-.7 3.9-.8 5.3-1.3 5.3-1.6 3.9-1.9 1.4-2.2zM423.6,818.6l-.1-.3-.5-.2-.7-.2-1-.2-1.3-.2-1.4-.2 0,5.4 1.4-.2 1.3-.2 1-.2 .7-.2 .5-.2 .1-.3z"/>
<path fill="#b0d040" stroke="#6d8128" stroke-width=".5" d="M402.4,743.2l1.4,.5 3.9,.8 5.3,1.1 5.3,1.7 3.9,2.1 1.4,2.3 0,3.6-1.4-.5-3.9-.8-5.3-1.1-5.3-1.7-3.9-2.1-1.4-2.3zM402.4,760.2l1.4,.5 3.9,.8 5.3,1.1 5.3,1.7 3.9,2.1 1.4,2.3 0,3.6-1.4-.5-3.9-.8-5.3-1.1-5.3-1.7-3.9-2.1-1.4-2.3zM402.4,777.2l1.4,.5 3.9,.8 5.3,1.1 5.3,1.7 3.9,2.1 1.4,2.3 0,3.6-1.4-.5-3.9-.8-5.3-1.1-5.3-1.7-3.9-2.1-1.4-2.3zM402.4,794.2l1.4,.5 3.9,.8 5.3,1.1 5.3,1.7 3.9,2.1 1.4,2.3 0,3.6-1.4-.5-3.9-.8-5.3-1.1-5.3-1.7-3.9-2.1-1.4-2.3zM402.4,811.2l1.4,.5 3.9,.8 5.3,1.1 5.3,1.7 3.9,2 1.4,.9 0,3.6-1.4,.9-3.9-.7-5.3-1.1-5.3-1.7-3.9-2.1-1.4-2.3z"/>
<path fill="url(#b11)" d="M462.3,671.8l-1.3,.7-3.7,1-5,1.4-5,1.7-3.6,2.1-1.3,2.2 .1,2.8 1.3-.7 3.7-1 5-1.4 5-1.7 3.6-2.1 1.3-2.2zM462.8,688.8l-1.3,.7-3.7,1-5,1.4-5,1.7-3.6,2.1-1.3,2.1 .1,2.9 1.3-.7 3.7-1 5-1.4 5-1.7 3.6-2.1 1.3-2.2zM463.3,705.7l-1.3,.8-3.7,1-5,1.4-5,1.7-3.6,2.1-1.3,2.1 .1,2.9 1.3-.7 3.7-1 5-1.4 5-1.7 3.6-2.1 1.3-2.2zM463.8,722.7l-1.3,.8-3.7,1-5,1.3-5,1.8-3.6,2.1-1.3,2.1 .1,2.9 1.3-.7 3.7-1 5-1.4 5-1.8 3.6-2 1.3-2.2zM464.3,739.7l-1.3,.8-3.7,1-5,1.3-5,1.8-3.6,2-1.3,2.2 .1,2.9 1.3-.7 3.7-1 5-1.4 5-1.8 3.6-2 1.3-2.2zM464.8,756.7l-1.3,.8-3.7,1-5,1.3-5,1.8-3.6,2-1.3,2.2 .1,2.9 1.3-.7 3.7-1 5-1.4 5-1.8 3.6-2 1.3-2.2zM465.3,773.7l-1.3,.7-3.7,1-5,1.4-5,1.8-3.6,2-1.3,2.2 .1,2.9 1.3-.8 3.7-.9 5-1.4 5-1.8 3.6-2 1.3-2.2zM465.8,790.7l-1.3,.7-3.7,1-5,1.4-5,1.8-3.6,2-1.3,1.3 .1,2.8 1.3,.2 3.7-1 5-1.3 5-1.8 3.6-2 1.3-2.2z"/>
<path fill="url(#f11)" stroke="#9e3c14" stroke-width=".5" d="M441.9,663.5l1.3,.5 3.7,.6 5.1,1 5.1,1.6 3.8,1.9 1.4,2.3 .1,3.6-1.4-.5-3.7-.6-5.1-1.1-5.1-1.5-3.7-1.9-1.4-2.3zM442.4,680.5l1.3,.5 3.8,.6 5,1 5.1,1.6 3.8,1.9 1.4,2.3 .1,3.6-1.4-.5-3.7-.6-5.1-1.1-5.1-1.5-3.7-1.9-1.4-2.3zM442.9,697.5l1.3,.5 3.8,.6 5,1 5.1,1.5 3.8,2 1.4,2.3 .1,3.6-1.4-.5-3.7-.6-5.1-1.1-5-1.5-3.8-1.9-1.4-2.3zM443.4,714.5l1.3,.5 3.8,.6 5,1 5.1,1.5 3.8,2 1.4,2.3 .1,3.6-1.4-.5-3.7-.7-5.1-1-5-1.5-3.8-1.9-1.4-2.3zM443.9,731.5l1.4,.4 3.7,.7 5,1 5.1,1.5 3.8,2 1.4,2.3 .1,3.6-1.4-.5-3.7-.7-5.1-1-5-1.5-3.8-2-1.4-2.2zM444.4,748.5l1.4,.4 3.7,.7 5,1 5.1,1.5 3.8,2 1.4,2.3 .1,3.6-1.4-.5-3.7-.7-5.1-1-5-1.5-3.8-2-1.4-2.2zM444.9,765.5l1.4,.4 3.7,.7 5,1 5.1,1.5 3.8,2 1.4,2.3 .1,3.6-1.4-.5-3.7-.7-5-1-5.1-1.5-3.8-2-1.4-2.2zM445.4,782.4l1.4,.5 3.7,.7 5,1 5.1,1.5 3.8,2 1.4,2.2 .1,3.6-1.4-.4-3.7-.7-5-1-5.1-1.5-3.8-2-1.4-2.3zM445.9,798.5l.2-.4 .6-.3 1-.4 1.3-.3 1.6-.3 1.9-.2 .2,7-1.9-.1-1.6-.2-1.4-.2-1-.3-.6-.3-.2-.4z"/>
<path fill="#d62319" d="M426.7,717.1l-1.4,1-4.1,1.5-5.6,2.1-5.6,2.6-3.9,2.6-1.3,2.3 .5,2.9 1.4-1 4.2-1.5 5.6-2.2 5.5-2.5 4-2.6 1.2-2.3zM429.4,733.9l-1.4,.9-4.1,1.6-5.7,2.1-5.5,2.6-3.9,2.6-1.3,2.3 .5,2.9 1.4-1 4.1-1.5 5.7-2.2 5.5-2.5 4-2.6 1.2-2.4zM432.1,750.7l-1.4,.9-4.2,1.6-5.6,2.1-5.5,2.5-4,2.6-1.2,2.4 .5,2.8 1.4-.9 4.1-1.6 5.6-2.1 5.6-2.5 3.9-2.6 1.3-2.4zM434.8,767.5l-1.5,.9-4.1,1.6-5.6,2.1-5.5,2.5-4,2.6-1.2,2.4 .5,2.8 1.4-.9 4.1-1.6 5.6-2.1 5.6-2.5 3.9-2.6 1.2-2.4zM437.5,784.3l-1.5,.9-4.1,1.6-5.6,2.1-5.5,2.5-4,2.6-1.2,2.4 .4,2.8 1.5-.9 4.1-1.6 5.6-2.1 5.6-2.5 3.9-2.6 1.2-2.4zM440.2,801l-1.5,1-4.1,1.5-5.6,2.2-5.6,2.5-3.9,2.6-1.3,1.6 .4,2.9 1.6-.2 4.1-1.6 5.6-2.1 5.6-2.6 3.9-2.6 1.2-2.3z"/>
<path fill="#ff2a1e" stroke="#9e1a13" stroke-width=".5" d="M402.1,712.1l1.6,.2 4.4,.1 6,.2 6.1,.7 4.5,1.4 2,2.1 .5,3.5-1.6-.2-4.4-.1-6-.2-6-.8-4.6-1.3-1.9-2.1zM404.8,728.9l1.6,.2 4.4,.1 6,.2 6.1,.7 4.5,1.4 2,2 .5,3.6-1.6-.3-4.4,0-6-.3-6-.7-4.6-1.3-1.9-2.1zM407.5,745.7l1.6,.2 4.4,.1 6,.2 6,.7 4.6,1.4 1.9,2 .6,3.6-1.6-.3-4.4,0-6-.3-6.1-.7-4.5-1.4-2-2zM410.2,762.4l1.6,.3 4.4,.1 6,.2 6,.7 4.6,1.4 1.9,2 .6,3.6-1.6-.3-4.4-.1-6-.2-6.1-.7-4.5-1.4-2-2zM412.8,779.2l1.7,.3 4.4,.1 5.9,.2 6.1,.7 4.6,1.4 1.9,2 .6,3.6-1.7-.3-4.3-.1-6-.2-6.1-.7-4.6-1.4-1.9-2zM415.5,796l1.7,.3 4.3,0 6,.3 6.1,.7 4.6,1.4 1.9,2 .6,3.5-1.7-.2-4.3-.1-6-.2-6.1-.7-4.6-1.4-1.9-2zM418.1,812.1l.2-.4 .8-.5 1.2-.6 1.7-.5 2-.6 2.4-.5 1.1,7-2.4,.2-2.1,.1-1.8,0-1.3-.1-.9-.2-.3-.4z"/>
<path fill="url(#b12)" d="M463.1,751.3l-1.4,.8-3.8,1.2-5.2,1.5-5.2,2-3.8,2.2-1.2,2.3 .2,2.8 1.3-.8 3.9-1.1 5.2-1.6 5.2-2 3.7-2.2 1.3-2.2zM464.3,768.3l-1.4,.8-3.8,1.1-5.3,1.6-5.1,2-3.8,2.2-1.3,2.2 .2,2.9 1.4-.8 3.8-1.2 5.2-1.5 5.2-2 3.8-2.2 1.3-2.3zM465.4,785.2l-1.3,.8-3.9,1.2-5.2,1.6-5.2,1.9-3.7,2.2-1.3,2.3 .2,2.8 1.4-.7 3.8-1.2 5.2-1.6 5.2-2 3.8-2.2 1.2-2.2zM466.6,802.2l-1.4,.8-3.8,1.1-5.2,1.6-5.2,2-3.8,2.2-1.2,2.2 .2,2.9 1.3-.8 3.9-1.1 5.2-1.6 5.2-2 3.7-2.2 1.3-2.2zM467.8,819.2l-1.4,.7-3.8,1.2-5.2,1.6-5.2,2-3.8,2.2-1.3,2.2 .2,2.9 1.4-.8 3.8-1.2 5.3-1.6 5.2-1.9 3.7-2.2 1.3-2.3z"/>
<path fill="url(#f12)" stroke="#103081" stroke-width=".5" d="M441.3,743.9l1.4,.5 4,.4 5.3,.8 5.5,1.3 4,1.8 1.6,2.3 .2,3.5-1.4-.4-4-.5-5.4-.8-5.4-1.3-4-1.8-1.6-2.2zM442.4,760.9l1.5,.4 3.9,.5 5.4,.8 5.4,1.3 4.1,1.8 1.5,2.2 .3,3.6-1.5-.4-3.9-.5-5.4-.8-5.4-1.3-4-1.8-1.6-2.2zM443.6,777.9l1.5,.4 3.9,.5 5.4,.8 5.4,1.3 4,1.8 1.6,2.2 .3,3.6-1.5-.5-3.9-.4-5.4-.8-5.4-1.3-4.1-1.8-1.6-2.3zM444.8,794.8l1.4,.4 4,.5 5.4,.8 5.4,1.3 4,1.8 1.6,2.2 .2,3.6-1.4-.4-4-.5-5.4-.8-5.4-1.3-4-1.8-1.6-2.2zM445.9,811.8l1.5,.4 3.9,.5 5.4,.8 5.4,1.3 4.1,1.8 1.6,2.2 .2,3.6-1.5-.4-3.9-.5-5.4-.8-5.4-1.3-4-1.8-1.6-2.2zM447.1,828.7l.9,.4 2.4,.3 3.4-.6 4.2-.4 4.1-.1 3.4,.1 .4,6.1-3.4,.6-4,.5-4.2,.1-3.5-.2-2.5-1.5-.9-1.7z"/>
<path fill="url(#b13)" d="M492.7,712.3l-1.7,.7-4.7,.8-6.5,1.1-6.5,1.4-4.7,1.9-1.8,2.1-.1,2.9 1.8-.7 4.7-.8 6.5-1.1 6.4-1.4 4.8-1.9 1.8-2.1zM492.4,729.3l-1.8,.7-4.7,.8-6.5,1.1-6.4,1.4-4.8,1.9-1.8,2.1 0,2.9 1.7-.7 4.7-.8 6.5-1.1 6.5-1.5 4.7-1.8 1.8-2.1zM492,746.3l-1.7,.7-4.8,.8-6.4,1.1-6.5,1.4-4.8,1.9-1.7,2.1-.1,2.9 1.8-.7 4.7-.8 6.5-1.1 6.4-1.5 4.8-1.8 1.8-2.1zM491.7,763.3l-1.8,.7-4.7,.8-6.5,1.1-6.5,1.4-4.7,1.9-1.8,2.1 0,2.9 1.7-.7 4.7-.8 6.5-1.1 6.5-1.5 4.7-1.8 1.8-2.1zM491.3,780.3l-1.7,.7-4.8,.8-6.4,1.1-6.5,1.4-4.8,1.9-1.7,2.1-.1,2.8 1.7-.6 4.8-.8 6.4-1.1 6.5-1.5 4.8-1.8 1.7-2.1zM490.9,797.3l-.8,.5-2.3,0-3.5-.4-4.3-.2-4.6-.1-4.2,.1-.1,5.3 4.2,.3 4.5,.1 4.4-.1 3.5-.2 2.3-1 .9-1.4z"/>
<path fill="url(#f13)" stroke="#135183" stroke-width=".5" d="M467.2,702.9l1.7,.6 4.7,.8 6.4,1.3 6.4,1.8 4.7,2.2 1.6,2.4 0,3.6-1.8-.6-4.7-.8-6.4-1.4-6.4-1.7-4.6-2.2-1.7-2.4zM466.8,719.9l1.7,.6 4.7,.8 6.4,1.3 6.4,1.8 4.7,2.2 1.7,2.4-.1,3.6-1.7-.6-4.7-.8-6.4-1.4-6.4-1.7-4.7-2.2-1.7-2.4zM466.4,736.9l1.8,.6 4.7,.8 6.4,1.3 6.4,1.8 4.6,2.2 1.7,2.4-.1,3.6-1.7-.6-4.7-.8-6.4-1.4-6.4-1.8-4.7-2.1-1.6-2.4zM466.1,753.9l1.7,.6 4.7,.8 6.4,1.3 6.4,1.8 4.7,2.2 1.7,2.4-.1,3.6-1.7-.6-4.7-.9-6.4-1.3-6.4-1.8-4.7-2.1-1.7-2.4zM465.7,770.9l1.7,.6 4.7,.8 6.5,1.3 6.4,1.8 4.6,2.2 1.7,2.4-.1,3.6-1.7-.6-4.7-.9-6.4-1.3-6.4-1.8-4.7-2.1-1.6-2.4zM465.4,787.9l1.7,.6 4.7,.8 6.4,1.3 6.4,1.8 4.7,2.2 1.6,2.4 0,3.5-1.7-.5-4.7-.9-6.5-1.3-6.4-1.8-4.6-2.1-1.7-2.4z"/>
<path d="M480.0,787.0 C482.0,787.5 488.3,787.0 492.0,790.0 C495.7,793.0 502.3,801.7 502.0,805.0 C501.7,808.3 493.3,810.8 490.0,810.0 C486.7,809.2 483.3,801.7 482.0,800.0" fill="none" stroke="#20acc8" stroke-width="1.6" stroke-linecap="round" stroke-linejoin="round"/>
<path d="M640.0,693.0 C642.0,689.5 649.3,678.3 652.0,672.0 C654.7,665.7 655.0,660.3 656.0,655.0 C657.0,649.7 657.0,645.2 658.0,640.0 C659.0,634.8 661.0,627.2 662.0,624.0 C663.0,620.8 662.2,619.7 664.0,621.0 C665.8,622.3 669.8,627.8 673.0,632.0 C676.2,636.2 678.8,641.3 683.0,646.0 C687.2,650.7 693.5,654.3 698.0,660.0 C702.5,665.7 710.0,675.5 710.0,680.0 C710.0,684.5 700.8,684.2 698.0,687.0 C695.2,689.8 693.8,695.3 693.0,697.0" fill="none" stroke="#70d8a0" stroke-width="1.7" stroke-linecap="round" stroke-linejoin="round"/>
<path fill="#36b55e" d="M641.6,697l-1.1,1.1-3.3,1.8-4.5,2.6-4.4,2.9-3,2.9-.7,2.4 .8,2.8 1.1-1 3.3-1.9 4.5-2.6 4.4-2.9 3-2.9 .7-2.4zM646.3,713.4l-1.1,1-3.3,1.9-4.5,2.5-4.4,3-3,2.9-.7,2.4 .7,2.7 1.2-1 3.3-1.9 4.5-2.5 4.4-3 3-2.8 .7-2.5zM651,729.7l-.4,.6-1.6,.3-2.5,.4-3,.6-3.3,.9-3.1,1 1.6,5.3 3.1-.8 3.2-.9 2.9-1 2.3-1 1.4-1.1 .2-1.5z"/>
<path fill="#40d870" stroke="#288645" stroke-width=".5" d="M619.8,694l1.5,.2 3.7-.3 5.2-.3 5.3,.2 4.1,1 1.9,1.9 1,3.4-1.4-.1-3.8,.3-5.1,.2-5.3-.2-4.2-.9-1.9-1.9zM624.5,710.4l1.4,.1 3.8-.3 5.1-.2 5.4,.2 4.1,1 1.9,1.8 1,3.5-1.4-.1-3.8,.2-5.2,.3-5.3-.2-4.1-1-1.9-1.9zM629.2,726.7l1.4,.2 3.8-.3 5.1-.3 5.3,.2 4.1,1 2,1.9 1,3.4-1.5-.1-3.7,.3-5.2,.2-5.3-.2-4.1-1-2-1.8z"/>
<path fill="#d62319" d="M649.7,748.3l-1.5,.5-4,.4-5.4,.6-5.5,.9-4.1,1.5-1.7,1.9-.3,2.9 1.5-.5 3.9-.4 5.5-.6 5.4-.9 4.1-1.5 1.7-1.9zM647.6,765.2l-1.5,.5-4,.4-5.4,.6-5.5,.9-4.1,1.4-1.7,2-.4,2.8 1.5-.5 4-.4 5.5-.5 5.4-1 4.1-1.4 1.7-1.9zM645.5,782.1l-1.5,.5-4,.4-5.4,.5-5.5,1-4.1,1.4-1.7,2-.4,2.8 1.5-.5 4-.4 5.4-.6 5.5-.9 4.1-1.4 1.7-2zM643.4,798.9l-1.5,.5-4,.4-5.4,.6-5.5,.9-4.1,1.5-1.7,1.9-.4,2.9 1.5-.5 4-.4 5.4-.6 5.5-.9 4.1-1.5 1.7-1.9zM641.2,815.8l-1.4,.5-3.9,.4-5.3,.5-5.3-.5-4,0-1.7,.5-.3,3 1.5,.9 3.9,1 5.2,.8 5.4-.9 4-1.4 1.6-1.9z"/>
<path fill="#ff2a1e" stroke="#9e1a13" stroke-width=".5" d="M629.7,736.9l1.3,.7 3.8,1.2 5.1,1.8 5.1,2.3 3.6,2.6 1.1,2.5-.4,3.5-1.4-.6-3.7-1.3-5.2-1.8-5-2.3-3.7-2.6-1.1-2.4zM627.6,753.8l1.3,.7 3.8,1.2 5.1,1.8 5.1,2.3 3.6,2.6 1.1,2.4-.4,3.6-1.4-.7-3.7-1.2-5.2-1.8-5.1-2.3-3.6-2.6-1.1-2.5zM625.4,770.6l1.4,.7 3.8,1.3 5.1,1.8 5.1,2.3 3.6,2.5 1.1,2.5-.4,3.6-1.4-.7-3.8-1.2-5.1-1.9-5.1-2.3-3.6-2.5-1.1-2.5zM623.3,787.5l1.4,.7 3.8,1.2 5.1,1.9 5.1,2.3 3.6,2.5 1.1,2.5-.4,3.5-1.4-.6-3.8-1.3-5.1-1.8-5.1-2.3-3.6-2.6-1.1-2.4zM621.2,804.4l1.4,.7 3.8,1.2 5.1,1.8 5.1,2.3 3.6,2.6 1.1,2.4-.5,3.6-1.3-.7-3.8-1.2-5.1-1.8-5.1-2.3-3.6-2.6-1.1-2.5z"/>
<path d="M630.0,815.0 C629.7,816.2 626.3,820.7 628.0,822.0 C629.7,823.3 637.2,824.2 640.0,823.0 C642.8,821.8 644.2,816.3 645.0,815.0" fill="none" stroke="#ff2a1e" stroke-width="1.5" stroke-linecap="round" stroke-linejoin="round"/>
<path fill="url(#b14)" d="M681.6,718.8l-1.1,.7-3,1-4.2,1.4-4.1,1.7-3,2-1.1,2.2 .1,2.9 1.1-.7 3-1 4.2-1.4 4.1-1.7 3.1-2.1 1-2.1zM682.2,735.8l-1.1,.7-3.1,1-4.1,1.4-4.2,1.7-3,2-1.1,2.2 .1,2.9 1.1-.7 3.1-1 4.1-1.4 4.2-1.7 3-2.1 1.1-2.1zM682.7,752.8l-1.1,.7-3,1-4.2,1.3-4.2,1.8-3,2-1,2.2 .1,2.9 1.1-.8 3-.9 4.2-1.4 4.1-1.7 3-2.1 1.1-2.1zM683.2,769.8l-.9,.6-2.6,.9-3.7,.8-3.9,.2-3.3,.5-2,.6 .2,3.7 1.9,.5 3.3,.3 4-.1 3.7-1.3 2.5-1.9 .9-2z"/>
<path fill="url(#f14)" stroke="#8b6814" stroke-width=".5" d="M664.5,710.5l1.2,.4 3.1,.7 4.2,1 4.3,1.6 3.1,2 1.2,2.2 .1,3.6-1.1-.5-3.1-.6-4.3-1.1-4.2-1.5-3.1-2-1.2-2.2zM665.1,727.5l1.1,.4 3.1,.7 4.3,1 4.2,1.6 3.1,1.9 1.2,2.3 .2,3.6-1.2-.5-3.1-.6-4.2-1.1-4.3-1.5-3.1-2-1.2-2.2zM665.6,744.5l1.2,.4 3.1,.7 4.2,1 4.2,1.6 3.2,1.9 1.2,2.3 .1,3.6-1.1-.5-3.1-.6-4.3-1.1-4.2-1.5-3.2-2-1.2-2.3zM666.2,761.4l1.1,.5 3.1,.7 4.2,1 4.3,1.5 3.1,2 1.2,2.3 .1,3.6-1.1-.5-3.1-.6-4.2-1.1-4.3-1.5-3.1-2-1.2-2.3z"/>
<path fill="#94af36" d="M695.8,798.5l-1.3,1.1-3.6,2-5,2.8-4.9,3.2-3.4,3.1-.8,2.4 .9,2.8 1.2-1.1 3.6-2 5.1-2.8 4.8-3.2 3.4-3.1 .8-2.5zM700.3,813.4l-.2-.2-.6-.1-.8,0-1.1,.1-1.3,.3-1.6,.3 1.6,5.1 1.4-.6 1.3-.6 .9-.5 .7-.4 .4-.4 .1-.3z"/>
<path fill="#b0d040" stroke="#6d8128" stroke-width=".5" d="M671.8,796.5l1.5,.1 4.2-.5 5.7-.5 5.8,0 4.6,.8 2.1,1.7 1,3.5-1.6-.1-4.1,.5-5.7,.5-5.9,.1-4.5-.8-2.1-1.8zM676.7,812.8l1.6,.1 4.1-.5 5.7-.5 5.9-.1 4.5,.8 1.7,.4 1,3.5-1.1,1.3-4.2,.5-5.7,.5-5.8,0-4.5-.8-2.1-1.8z"/>
<path fill="url(#b15)" d="M671.8,707.1l-1.6,.7-4.3,.8-5.9,1.3-5.9,1.6-4.3,1.9-1.6,2.2 0,2.8 1.6-.7 4.3-.8 5.9-1.3 5.9-1.6 4.3-1.9 1.6-2.2zM671.8,724.1l-1.6,.7-4.3,.8-5.9,1.3-5.9,1.6-4.3,1.9-1.6,2.2 0,2.8 1.6-.7 4.3-.8 5.9-1.3 5.9-1.6 4.3-1.9 1.6-2.2zM671.8,741.1l-1.6,.7-4.3,.8-5.9,1.3-5.9,1.6-4.3,1.9-1.6,2.2 0,2.8 1.6-.7 4.3-.8 5.9-1.3 5.9-1.6 4.3-1.9 1.6-2.2zM671.8,758.1l-1.6,.7-4.3,.8-5.9,1.3-5.9,1.6-4.3,1.9-1.6,2.2 0,2.8 1.6-.7 4.3-.8 5.9-1.3 5.9-1.6 4.3-1.9 1.6-2.2zM671.8,775.1l-1.6,.7-4.3,.8-5.9,1.3-5.9,1.6-4.3,1.9-1.6,2.2 0,2.8 1.6-.7 4.3-.8 5.9-1.3 5.9-1.6 4.3-1.9 1.6-2.2zM671.8,792.1l-1.6,.7-4.3,.8-5.9,1.3-5.9,1.6-4.3,1.9-1.6,2.2 0,2.8 1.6-.7 4.3-.8 5.9-1.3 5.9-1.6 4.3-1.9 1.6-2.2zM671.8,809.1l-1.6,.7-4.3,.8-5.9,1.3-5.9,1.6-4.3,1.9-1.6,2.2 0,2.8 1.6-.7 4.3-.8 5.9-1.3 5.9-1.6 4.3-1.9 1.6-2.2zM671.8,826.1l-1,.5-2.9,.6-4.2,0-4.8-.1-4.6,.2-3.7,.4 0,4.6 3.7,.4 4.6,.2 4.8-.1 4.2-.5 2.9-1.7 1-1.7z"/>
<path fill="url(#f15)" stroke="#103081" stroke-width=".5" d="M648.2,698.2l1.6,.5 4.3,.8 5.9,1.1 5.9,1.7 4.3,2.1 1.6,2.3 0,3.6-1.6-.5-4.3-.8-5.9-1.1-5.9-1.7-4.3-2.1-1.6-2.3zM648.2,715.2l1.6,.5 4.3,.8 5.9,1.1 5.9,1.7 4.3,2.1 1.6,2.3 0,3.6-1.6-.5-4.3-.8-5.9-1.1-5.9-1.7-4.3-2.1-1.6-2.3zM648.2,732.2l1.6,.5 4.3,.8 5.9,1.1 5.9,1.7 4.3,2.1 1.6,2.3 0,3.6-1.6-.5-4.3-.8-5.9-1.1-5.9-1.7-4.3-2.1-1.6-2.3zM648.2,749.2l1.6,.5 4.3,.8 5.9,1.1 5.9,1.7 4.3,2.1 1.6,2.3 0,3.6-1.6-.5-4.3-.8-5.9-1.1-5.9-1.7-4.3-2.1-1.6-2.3zM648.2,766.2l1.6,.5 4.3,.8 5.9,1.1 5.9,1.7 4.3,2.1 1.6,2.3 0,3.6-1.6-.5-4.3-.8-5.9-1.1-5.9-1.7-4.3-2.1-1.6-2.3zM648.2,783.2l1.6,.5 4.3,.8 5.9,1.1 5.9,1.7 4.3,2.1 1.6,2.3 0,3.6-1.6-.5-4.3-.8-5.9-1.1-5.9-1.7-4.3-2.1-1.6-2.3zM648.2,800.2l1.6,.5 4.3,.8 5.9,1.1 5.9,1.7 4.3,2.1 1.6,2.3 0,3.6-1.6-.5-4.3-.8-5.9-1.1-5.9-1.7-4.3-2.1-1.6-2.3zM648.2,817.2l1.6,.5 4.3,.8 5.9,1.1 5.9,1.7 4.3,2.1 1.6,2.3 0,3.6-1.6-.5-4.3-.8-5.9-1.1-5.9-1.7-4.3-2.1-1.6-2.3z"/>
<path fill="url(#b16)" d="M674.5,696.4l-1.2,.8-3.2,1.1-4.4,1.5-4.3,2-3.1,2.2-1.1,2.2 .2,2.9 1.2-.8 3.2-1.2 4.4-1.5 4.3-2 3.1-2.1 1.1-2.3zM675.7,713.3l-1.1,.8-3.2,1.1-4.4,1.6-4.3,1.9-3.2,2.2-1,2.2 .2,2.9 1.2-.8 3.2-1.1 4.3-1.6 4.4-1.9 3.1-2.2 1-2.2zM676.8,727.9l0-.2-.2-.1-.3-.2-.4-.1-.6-.1-.6-.1 .4,4.7 .6-.1 .5-.2 .4-.2 .2-.2 .2-.2 0-.1z"/>
<path fill="url(#f16)" stroke="#955614" stroke-width=".5" d="M655.9,688.9l1.3,.4 3.3,.5 4.5,.8 4.6,1.4 3.5,1.8 1.3,2.2 .3,3.6-1.2-.4-3.4-.5-4.5-.9-4.6-1.3-3.4-1.8-1.4-2.2zM657.2,705.8l1.2,.5 3.4,.5 4.5,.8 4.6,1.3 3.4,1.8 1.4,2.3 .3,3.6-1.3-.5-3.3-.5-4.5-.8-4.6-1.3-3.5-1.9-1.3-2.2zM658.5,722.8l1.2,.4 3.3,.5 4.6,.9 4.6,1.3 3.3,.8 1.3,.8 .3,3.6-1.2,1-3.2,.5-4.6-.9-4.6-1.3-3.4-1.8-1.4-2.2z"/>
<path fill="url(#b17)" d="M683.2,739.1l-1.5,.7-4.1,.8-5.6,1.3-5.6,1.6-4.1,1.9-1.5,2.2 0,2.8 1.5-.7 4.1-.8 5.6-1.3 5.6-1.6 4.1-1.9 1.5-2.2zM683.2,756.1l-1.5,.7-4.1,.8-5.6,1.3-5.6,1.6-4.1,1.9-1.5,2.2 0,2.8 1.5-.7 4.1-.8 5.6-1.3 5.6-1.6 4.1-1.9 1.5-2.2zM683.2,773.1l-1.5,.7-4.1,.8-5.6,1.3-5.6,1.6-4.1,1.9-1.5,2.2 0,2.8 1.5-.7 4.1-.8 5.6-1.3 5.6-1.6 4.1-1.9 1.5-2.2zM683.2,790.1l-1.5,.7-4.1,.8-5.6,1.3-5.6,1.6-4.1,1.9-1.5,2.2 0,2.8 1.5-.7 4.1-.8 5.6-1.3 5.6-1.6 4.1-1.9 1.5-2.2zM683.2,807.1l-1.5,.7-4.1,.8-5.6,1.3-5.6,1.6-4.1,1.3-1.5,.8 0,2.8 1.5,.8 4.1-.3 5.6-1.3 5.6-1.6 4.1-1.9 1.5-2.2z"/>
<path fill="url(#f17)" stroke="#135183" stroke-width=".5" d="M660.8,730.2l1.5,.5 4.1,.8 5.6,1.1 5.6,1.7 4.1,2.1 1.5,2.3 0,3.6-1.5-.5-4.1-.8-5.6-1.1-5.6-1.7-4.1-2.1-1.5-2.3zM660.8,747.2l1.5,.5 4.1,.8 5.6,1.1 5.6,1.7 4.1,2.1 1.5,2.3 0,3.6-1.5-.5-4.1-.8-5.6-1.1-5.6-1.7-4.1-2.1-1.5-2.3zM660.8,764.2l1.5,.5 4.1,.8 5.6,1.1 5.6,1.7 4.1,2.1 1.5,2.3 0,3.6-1.5-.5-4.1-.8-5.6-1.1-5.6-1.7-4.1-2.1-1.5-2.3zM660.8,781.2l1.5,.5 4.1,.8 5.6,1.1 5.6,1.7 4.1,2.1 1.5,2.3 0,3.6-1.5-.5-4.1-.8-5.6-1.1-5.6-1.7-4.1-2.1-1.5-2.3zM660.8,798.2l1.5,.5 4.1,.8 5.6,1.1 5.6,1.7 4.1,2.1 1.5,2.3 0,3.6-1.5-.5-4.1-.8-5.6-1.1-5.6-1.7-4.1-2.1-1.5-2.3zM660.8,813.2l.1-.2 .3-.3 .6-.2 .7-.2 .9-.2 1.1-.2 0,6.2-1.1-.2-.9-.2-.7-.2-.6-.2-.3-.3-.1-.2z"/>
<path fill="#1ba894" d="M706.4,696.6l-1.5,.5-4,.3-5.4,.4-5.5,.7-4.2,1.3-1.7,1.9-.5,2.9 1.6-.5 3.9-.3 5.5-.4 5.5-.7 4.1-1.3 1.8-1.9zM703.8,713.4l-1.5,.5-4,.3-5.4,.3-5.6,.8-4.1,1.1-1.5,.5-.4,2.9 1.3,.9 3.9-.1 5.5-.4 5.5-.7 4.1-1.3 1.8-1.9z"/>
<path fill="#20c8b0" stroke="#147c6d" stroke-width=".5" d="M686.8,684.6l1.3,.7 3.7,1.4 5.1,1.9 5,2.5 3.5,2.7 1.1,2.5-.6,3.5-1.3-.7-3.7-1.4-5.1-1.9-5-2.5-3.5-2.7-1.1-2.5zM684.1,701.4l1.4,.7 3.7,1.4 5.1,1.9 5,2.5 3.5,2.6 1.1,2.6-.6,3.5-1.3-.7-3.8-1.4-5-1.9-5-2.5-3.6-2.7-1-2.5zM681.8,716.6l.1-.3 .5-.2 .7-.2 1-.1 1.2,0 1.3,0-1,6.5-1.3-.4-1.1-.4-.9-.3-.6-.4-.4-.4-.1-.3z"/>
<path fill="url(#b18)" d="M703.6,725.3l-1.5,.6-4.4,.8-5.9,1.2-5.9,1.5-4.3,1.9-1.6,2.1-.1,2.8 1.6-.6 4.3-.8 5.9-1.2 5.9-1.5 4.4-1.9 1.6-2.1zM703.4,742.2l-1.6,.7-4.3,.8-5.9,1.2-5.9,1.5-4.4,1.9-1.6,2.1 0,2.8 1.5-.6 4.4-.8 5.9-1.2 5.9-1.5 4.3-1.9 1.6-2.1zM703.1,759.2l-1.6,.7-4.3,.8-5.9,1.2-5.9,1.5-4.4,1.9-1.6,2.1 0,2.8 1.6-.6 4.3-.8 5.9-1.2 5.9-1.5 4.3-1.9 1.6-2.1zM702.8,776.2l-1.6,.7-4.3,.8-5.9,1.2-5.9,1.5-4.3,1.8-1.6,2.2-.1,2.8 1.6-.6 4.3-.9 5.9-1.1 5.9-1.5 4.3-1.9 1.7-2.1zM702.5,793.2l-1.6,.7-4.3,.8-5.9,1.2-5.9,1.5-4.3,1.8-1.6,2.2-.1,2.8 1.6-.6 4.3-.9 5.9-1.1 5.9-1.5 4.4-1.9 1.6-2.1zM702.2,810.2l-1.5,.7-4.4,.8-5.9,1.2-5.9,1.5-4.3,1.8-1.6,2.2-.1,2.8 1.6-.6 4.4-.9 5.9-1.1 5.9-1.5 4.3-1.9 1.6-2.1zM702,827.2l-1.6,.7-4.3,.8-5.9,1.2-5.9,1.5-4.4,1.8-1.6,2.2 0,2.8 1.6-.6 4.3-.9 5.9-1.1 5.9-1.5 4.3-1.9 1.6-2.1z"/>
<path fill="url(#f18)" stroke="#135183" stroke-width=".5" d="M680.3,716l1.5,.5 4.3,.9 5.9,1.2 5.8,1.8 4.3,2.1 1.5,2.4 0,3.6-1.6-.6-4.3-.8-5.8-1.3-5.9-1.7-4.3-2.2-1.5-2.3zM680,733l1.6,.5 4.3,.9 5.8,1.2 5.9,1.8 4.2,2.1 1.6,2.4-.1,3.6-1.6-.6-4.2-.8-5.9-1.3-5.9-1.7-4.2-2.2-1.6-2.3zM679.7,750l1.6,.5 4.3,.9 5.8,1.2 5.9,1.8 4.3,2.1 1.5,2.4-.1,3.6-1.5-.6-4.3-.8-5.9-1.3-5.8-1.7-4.3-2.2-1.5-2.3zM679.4,767l1.6,.5 4.3,.9 5.9,1.2 5.8,1.8 4.3,2.1 1.5,2.4 0,3.6-1.6-.6-4.3-.8-5.9-1.3-5.8-1.7-4.3-2.2-1.5-2.3zM679.2,784l1.5,.5 4.3,.9 5.9,1.2 5.8,1.8 4.3,2.1 1.5,2.4 0,3.6-1.6-.6-4.3-.8-5.8-1.3-5.9-1.7-4.3-2.2-1.5-2.3zM678.9,801l1.5,.5 4.3,.9 5.9,1.2 5.8,1.8 4.3,2.1 1.6,2.4-.1,3.6-1.6-.6-4.3-.8-5.8-1.3-5.9-1.7-4.2-2.2-1.6-2.3zM678.6,818l1.6,.5 4.3,.9 5.8,1.2 5.9,1.8 4.2,2.1 1.6,2.4-.1,3.6-1.5-.6-4.3-.8-5.9-1.3-5.9-1.7-4.2-2.2-1.6-2.3zM678.3,835l1.2,.4 3.2,.7 4.7,.3 5.2,.1 4.7,.4 3.3,.7-.1,5.2-3.3,.5-4.7,.3-5.2-.1-4.7-1-3.2-1.9-1.1-2z"/>
<path fill="#1111af" d="M729.7,715.2l-1.6,.2-3.9-.5-5.5-.6-5.5-.2-4.3,.5-2.1,1.6-.9,2.7 1.5-.2 4,.4 5.4,.6 5.6,.3 4.3-.6 2-1.5zM724.1,731.2l-1.6,.2-4-.4-5.4-.6-5.5-.3-4.4,.6-2,1.5-1,2.7 1.6-.2 4,.5 5.4,.6 5.5,.2 4.4-.5 2-1.6zM718.4,747.3l-1.5,.2-4-.5-5.4-.6-5.6-.2-4.3,.5-2,1.5-1,2.8 1.6-.2 3.9,.4 5.5,.6 5.5,.3 4.3-.6 2.1-1.5zM712.8,763.3l-.6,.2-1.4-.8-2.1-1.1-2.8-1.2-3.1-1.2-3.2-1-1.8,5.3 3.1,1.2 3.1,1 3,.8 2.3,.5 1.6,.1 1-1.1z"/>
<path fill="#1414d0" stroke="#0c0c81" stroke-width=".5" d="M712.6,699.8l1.1,.9 3.5,2 4.6,2.9 4.5,3.3 2.9,3.3 .6,2.6-1.2,3.4-1.1-.9-3.5-2-4.6-2.9-4.5-3.3-3-3.3-.5-2.6zM706.9,715.8l1.2,1 3.4,2 4.7,2.9 4.4,3.3 3,3.2 .6,2.7-1.2,3.4-1.2-1-3.4-2-4.6-2.9-4.5-3.3-3-3.2-.6-2.7zM701.3,731.9l1.2,.9 3.4,2 4.6,2.9 4.5,3.3 3,3.3 .6,2.6-1.2,3.4-1.2-.9-3.4-2-4.7-2.9-4.4-3.3-3-3.3-.6-2.6zM695.7,747.9l1.1,1 3.5,2 4.6,2.8 4.5,3.4 3,3.2 .5,2.7-1.2,3.4-1.1-1-3.5-2-4.6-2.9-4.5-3.3-2.9-3.2-.6-2.7z"/>
<path fill="url(#b19)" d="M737.5,727.6l-1.7,.7-4.8,.6-6.4,1-6.6,1.3-4.8,1.7-1.8,2.1-.1,2.8 1.8-.6 4.7-.7 6.5-.9 6.5-1.3 4.8-1.7 1.8-2.1zM736.8,744.6l-1.8,.6-4.7,.7-6.5,.9-6.5,1.4-4.8,1.7-1.8,2-.2,2.9 1.8-.6 4.7-.7 6.5-.9 6.5-1.3 4.8-1.7 1.8-2.1zM736,761.6l-1.8,.6-4.7,.7-6.5,.9-6.5,1.3-4.8,1.8-1.8,2-.1,2.9 1.7-.6 4.8-.7 6.4-.9 6.6-1.3 4.8-1.8 1.8-2zM735.2,778.6l-1.7,.6-4.8,.7-6.5,.9-6.5,1.3-4.8,1.8-1.8,2-.1,2.9 1.7-.6 4.8-.7 6.5-.9 6.5-1.4 4.8-1.7 1.8-2zM734.5,795.6l-1.8,.6-4.7,.7-6.5,.9-6.5,1.3-4.8,1.7-1.9,2.1-.1,2.9 1.8-.7 4.7-.6 6.5-1 6.5-1.3 4.8-1.7 1.8-2.1zM733.7,812.5l-1.8,.7-4.7,.6-6.5,1-6.5,1.3-4.8,1.7-1.8,2.1-.2,2.8 1.8-.6 4.7-.6 6.5-1 6.5-1.3 4.8-1.7 1.9-2.1zM732.9,829.1l-.3-.3-1.1-.4-1.7-.3-2.2-.4-2.7-.3-2.9-.2-.3,5.7 3,.1 2.6-.1 2.3-.1 1.7-.2 1.1-.3 .4-.3z"/>
<path fill="url(#f19)" stroke="#1a865f" stroke-width=".5" d="M712.2,717.6l1.7,.6 4.7,1 6.4,1.4 6.3,2 4.6,2.3 1.7,2.4-.2,3.6-1.7-.6-4.7-1-6.4-1.5-6.3-1.9-4.6-2.3-1.6-2.4zM711.4,734.6l1.7,.6 4.7,1 6.4,1.4 6.4,2 4.6,2.3 1.6,2.4-.2,3.6-1.7-.6-4.6-1-6.4-1.5-6.4-1.9-4.6-2.3-1.6-2.4zM710.7,751.6l1.7,.6 4.6,.9 6.4,1.5 6.4,2 4.6,2.3 1.6,2.3-.1,3.6-1.7-.6-4.7-.9-6.4-1.5-6.4-1.9-4.6-2.3-1.6-2.4zM709.9,768.6l1.7,.6 4.7,.9 6.4,1.5 6.3,1.9 4.6,2.3 1.6,2.4-.1,3.6-1.7-.6-4.7-.9-6.4-1.5-6.3-2-4.6-2.2-1.7-2.4zM709.1,785.5l1.7,.6 4.7,1 6.4,1.5 6.3,1.9 4.7,2.3 1.6,2.4-.2,3.6-1.7-.6-4.7-1-6.3-1.4-6.4-2-4.6-2.3-1.6-2.4zM708.4,802.5l1.7,.6 4.6,1 6.4,1.5 6.4,1.9 4.6,2.3 1.6,2.4-.2,3.6-1.7-.6-4.6-1-6.4-1.4-6.4-2-4.6-2.3-1.6-2.4zM707.6,819.5l1.7,.6 4.7,1 6.3,1.4 6.4,2 4.6,2.3 1.6,2-.1,3.6-1.7-.2-4.7-1-6.4-1.5-6.3-1.9-4.7-2.3-1.6-2.4z"/>
<ellipse cx="733" cy="812" rx="7" ry="8" fill="none" stroke="#20c8b0" stroke-width="1.8"/>
<path d="M655.0,828.0 C655.8,830.3 656.7,839.7 660.0,842.0 C663.3,844.3 670.8,843.2 675.0,842.0 C679.2,840.8 683.3,836.2 685.0,835.0" fill="none" stroke="#1a4ed0" stroke-width="1.6" stroke-linecap="round" stroke-linejoin="round"/>
<path d="M940.0,633.0 C937.8,634.5 933.7,640.0 927.0,642.0 C920.3,644.0 905.8,641.7 900.0,645.0 C894.2,648.3 891.5,657.8 892.0,662.0 C892.5,666.2 902.5,665.3 903.0,670.0 C903.5,674.7 895.0,683.8 895.0,690.0 C895.0,696.2 901.7,704.2 903.0,707.0" fill="none" stroke="#30c8a0" stroke-width="2" stroke-linecap="round" stroke-linejoin="round"/>
<path d="M912.0,640.0 C915.0,639.2 925.3,636.3 930.0,635.0 C934.7,633.7 938.3,632.5 940.0,632.0" fill="none" stroke="#30c8a0" stroke-width="2" stroke-linecap="round" stroke-linejoin="round"/>
<path fill="url(#b20)" d="M929.7,681.7l-1.2,.8-3.5,1-4.7,1.4-4.7,1.7-3.4,2.1-1.2,2.2 .1,2.8 1.2-.7 3.5-1 4.7-1.4 4.7-1.7 3.4-2.1 1.2-2.2zM930.3,698.7l-1.3,.8-3.4,1-4.7,1.4-4.7,1.7-3.5,2.1-1.2,2.2 .1,2.8 1.3-.7 3.4-1 4.8-1.4 4.7-1.7 3.4-2.1 1.2-2.2zM930.8,715.7l-1.2,.8-3.5,1-4.7,1.3-4.7,1.8-3.4,2.1-1.2,2.1 .1,2.9 1.2-.7 3.5-1 4.7-1.4 4.7-1.8 3.4-2 1.2-2.2zM931.4,732.7l-.8,.6-2.3,.7-3.4,.1-3.9,.1-3.8,.3-2.9,.5 .1,4.5 3,.3 3.7,.1 4-.2 3.4-.7 2.2-1.7 .8-1.7z"/>
<path fill="url(#f20)" stroke="#9e3c14" stroke-width=".5" d="M910.4,673.5l1.3,.5 3.5,.6 4.8,1 4.8,1.6 3.6,1.9 1.3,2.3 .1,3.6-1.2-.5-3.6-.6-4.7-1.1-4.9-1.5-3.5-1.9-1.4-2.3zM911,690.5l1.3,.5 3.5,.6 4.8,1 4.8,1.5 3.5,2 1.4,2.3 .1,3.6-1.3-.5-3.5-.6-4.8-1.1-4.8-1.5-3.6-1.9-1.3-2.3zM911.5,707.5l1.3,.5 3.5,.6 4.8,1 4.8,1.5 3.6,2 1.3,2.3 .1,3.6-1.2-.5-3.6-.7-4.8-1-4.8-1.5-3.5-1.9-1.4-2.3zM912.1,724.5l1.3,.5 3.5,.6 4.8,1 4.8,1.5 3.5,2 1.4,2.3 .1,3.6-1.3-.5-3.5-.7-4.8-1-4.8-1.5-3.6-1.9-1.3-2.3z"/>
<path fill="#d62319" d="M928.7,751.7l-1.1,.7-3,1-4.1,1.5-4.1,1.8-3,2.1-1.1,2.1 .2,2.9 1.1-.7 3-1.1 4.1-1.4 4.2-1.8 2.9-2.1 1.1-2.2zM929.5,768.6l-1.1,.8-3,1-4.1,1.4-4.1,1.8-3,2.1-1,2.2 .1,2.9 1.1-.7 3-1.1 4.2-1.4 4.1-1.8 2.9-2.1 1.1-2.2zM930.3,785.2l-.2-.4-.7-.2-1.1-.3-1.4-.1-1.8-.1-1.8,0 .2,5.7 1.9-.2 1.7-.2 1.4-.3 1.1-.4 .6-.3 .3-.4z"/>
<path fill="#ff2a1e" stroke="#9e1a13" stroke-width=".5" d="M911.5,743.6l1.2,.5 3.1,.6 4.2,.9 4.3,1.5 3.2,1.9 1.2,2.3 .2,3.6-1.2-.5-3.1-.6-4.2-1-4.3-1.4-3.2-1.9-1.2-2.3zM912.3,760.6l1.2,.4 3.1,.7 4.2,.9 4.3,1.5 3.2,1.9 1.2,2.3 .2,3.6-1.2-.5-3.1-.6-4.2-1-4.3-1.4-3.2-2-1.2-2.2zM913.1,777.6l1.2,.4 3.1,.6 4.2,1 4.3,1.5 3.2,1.9 1.2,1.8 .2,3.6-1.2,0-3.1-.6-4.2-1-4.3-1.5-3.2-1.9-1.2-2.2z"/>
<path fill="#d62319" d="M958.1,724.8l-1.1,.7-2.8,1-3.9,1.4-3.8,1.7-2.8,2-1,2.2 .1,2.9 1-.7 2.8-1 3.9-1.4 3.9-1.7 2.8-2.1 1-2.1zM958.6,741.8l-1,.7-2.8,1-3.9,1.4-3.9,1.7-2.8,2-1,2.2 .1,2.9 1.1-.7 2.8-1 3.9-1.4 3.9-1.7 2.8-2.1 .9-2.1zM959.2,758.8l-1,.7-2.9,1-3.8,1.3-3.9,1.8-2.8,2-1,2.2 .1,2.9 1-.8 2.9-.9 3.9-1.4 3.8-1.7 2.8-2.1 1-2.1zM959.8,775.8l-.4,.1-1-.4-1.5-.2-2-.2-2.2,0-2.3,.1 .2,5.7 2.3-.1 2.2-.1 2-.3 1.5-.4 1-.4 .3-1z"/>
<path fill="#ff2a1e" stroke="#9e1a13" stroke-width=".5" d="M942.1,716.5l1.1,.4 2.9,.7 3.9,1 4,1.6 2.9,2 1.2,2.2 .1,3.6-1.1-.4-2.9-.7-3.9-1.1-4-1.5-2.9-2-1.2-2.2zM942.7,733.5l1,.4 2.9,.7 4,1 4,1.6 2.9,1.9 1.1,2.3 .1,3.6-1-.5-2.9-.6-4-1.1-3.9-1.5-3-2-1.1-2.2zM943.2,750.4l1.1,.5 2.9,.7 4,1 3.9,1.6 3,1.9 1.1,2.3 .1,3.6-1.1-.5-2.8-.6-4-1.1-4-1.5-2.9-2-1.1-2.3zM943.8,767.4l1.1,.5 2.9,.7 3.9,1 4,1.5 2.9,2 1.2,2.3 .1,3.6-1.1-.5-2.9-.6-3.9-1.1-4-1.5-2.9-2-1.2-2.3z"/>
<path fill="url(#b21)" d="M895.7,693.9l-1.5,1-4.1,2-5.7,2.7-5.6,3-3.9,3-1.1,2.5 .7,2.8 1.5-1.1 4.1-2 5.7-2.6 5.6-3.1 3.9-3 1.1-2.4zM899.8,710.4l-1.4,1-4.2,2-5.7,2.7-5.6,3-3.9,3-1.1,2.5 .7,2.8 1.5-1.1 4.1-2 5.7-2.6 5.6-3.1 3.9-3 1.1-2.5zM903.9,726.8l-1.4,1.1-4.2,2-5.7,2.7-5.5,3-3.9,3-1.1,2.5 .7,2.8 1.4-1.1 4.2-2 5.6-2.7 5.6-3 3.9-3 1.1-2.5zM908,743.3l-1.4,1.1-4.2,2-5.6,2.7-5.6,3-3.9,3-1.1,2.5 .7,2.8 1.4-1.1 4.2-2 5.7-2.7 5.5-3 3.9-3 1.1-2.5zM912.2,759.8l-1.5,1.1-4.1,2-5.7,2.6-5.6,3.1-3.9,3-1.1,2.5 .7,2.7 1.4-1 4.2-2 5.7-2.7 5.6-3 3.9-3 1.1-2.5zM916.3,776.3l-1.5,1.1-4.1,2-5.7,2.6-5.6,3.1-3.9,3-1.1,2.4 .7,2.8 1.5-1 4.1-2 5.7-2.7 5.6-3 3.9-3 1.1-2.5zM920.4,792.8l-1.4,1.1-4.2,1.9-5.7,2.7-5.6,3.1-3.9,3-1,2.4 .7,2.8 1.4-1 4.2-2 5.6-2.7 5.6-3 3.9-3 1.1-2.5z"/>
<path fill="url(#f21)" stroke="#103081" stroke-width=".5" d="M869.6,691.2l1.7,.1 4.6-.3 6.3-.4 6.3,.1 4.9,1 2.2,1.8 .9,3.5-1.8-.1-4.5,.4-6.3,.3-6.4-.1-4.9-.9-2.1-1.9zM873.7,707.7l1.8,.1 4.5-.3 6.3-.4 6.4,.1 4.8,1 2.2,1.8 .9,3.5-1.8-.1-4.5,.4-6.3,.3-6.4-.1-4.8-.9-2.2-1.9zM877.9,724.2l1.7,.1 4.5-.3 6.3-.4 6.4,.1 4.9,.9 2.1,1.9 .9,3.5-1.7-.1-4.6,.3-6.2,.4-6.4-.1-4.9-.9-2.2-1.9zM882,740.7l1.7,.1 4.6-.3 6.2-.4 6.4,.1 4.9,.9 2.1,1.9 .9,3.5-1.7-.1-4.6,.3-6.2,.4-6.4-.1-4.9-.9-2.1-1.9zM886.1,757.2l1.7,.1 4.6-.3 6.3-.4 6.3,.1 4.9,.9 2.2,1.9 .8,3.5-1.7-.1-4.5,.3-6.3,.4-6.4-.1-4.9-.9-2.1-1.9zM890.2,773.7l1.8,.1 4.5-.4 6.3-.3 6.4,.1 4.8,.9 2.2,1.9 .9,3.5-1.8-.1-4.5,.3-6.3,.4-6.4-.1-4.8-1-2.2-1.8zM894.3,790.2l1.8,.1 4.5-.4 6.3-.3 6.4,.1 4.9,.9 2.1,1.9 .9,3.5-1.7-.1-4.6,.3-6.3,.4-6.3-.1-4.9-1-2.2-1.8zM898.5,806.7l1.7,.1 4.6-.4 6.2-.3 6.2-.9 4.5-.4 1.8,.5 .9,3.5-1.4,1.2-4.2,1.8-6,1.3-6.4-.2-4.9-.9-2.2-1.8z"/>
<path fill="#1ba894" d="M920.8,718.8l-1.4,.7-3.9,1-5.2,1.4-5.3,1.7-3.9,2.1-1.3,2.1 .1,2.9 1.4-.7 3.8-1 5.3-1.4 5.3-1.7 3.8-2.1 1.4-2.1zM921.3,735.8l-1.4,.7-3.9,1-5.3,1.4-5.3,1.7-3.8,2.1-1.4,2.1 .1,2.9 1.4-.7 3.9-1 5.3-1.4 5.2-1.7 3.9-2.1 1.4-2.2zM921.7,752.8l-1.4,.7-3.8,1-5.3,1.4-5.3,1.7-3.8,2.1-1.4,2.1 .1,2.9 1.4-.7 3.8-1 5.3-1.4 5.3-1.7 3.8-2.1 1.4-2.2zM922.2,769.8l-1.4,.7-3.9,1-5.3,1.3-5.3,1.8-3.8,2-1.4,2.2 .1,2.9 1.4-.7 3.9-1 5.3-1.4 5.3-1.7 3.8-2.1 1.4-2.2zM922.6,785.3l-.2-.3-.4-.2-.8-.2-1-.2-1.3-.1-1.5-.1 .2,5.3 1.4-.2 1.3-.2 1-.2 .8-.2 .4-.3 .2-.2z"/>
<path fill="#20c8b0" stroke="#147c6d" stroke-width=".5" d="M899.3,710.5l1.5,.5 3.9,.6 5.3,1 5.4,1.6 3.9,1.9 1.5,2.3 .1,3.6-1.4-.5-3.9-.6-5.4-1.1-5.4-1.5-3.9-1.9-1.5-2.3zM899.8,727.5l1.4,.5 3.9,.6 5.4,1 5.3,1.6 4,1.9 1.5,2.3 .1,3.6-1.5-.5-3.9-.6-5.3-1.1-5.4-1.5-3.9-1.9-1.5-2.3zM900.2,744.5l1.5,.5 3.9,.6 5.3,1 5.4,1.6 3.9,1.9 1.5,2.3 .1,3.6-1.4-.5-3.9-.6-5.4-1.1-5.3-1.5-4-2-1.5-2.2zM900.7,761.5l1.4,.4 3.9,.7 5.4,1 5.3,1.5 4,2 1.5,2.3 .1,3.6-1.5-.5-3.9-.6-5.3-1.1-5.4-1.5-3.9-2-1.5-2.2zM901.1,778.5l1.5,.4 3.9,.7 5.3,1 5.4,1.5 3.9,2 1.5,.8 .1,3.6-1.4,1-3.9-.6-5.4-1.1-5.3-1.5-4-2-1.5-2.2z"/>
<path fill="#196db2" d="M956.4,685.2l-1.3,.7-3.5,.8-4.8,1.2-4.8,1.5-3.5,1.9-1.3,2.1 0,2.9 1.3-.7 3.5-.8 4.7-1.2 4.8-1.5 3.5-1.9 1.4-2.1zM956.1,702.2l-1.3,.7-3.5,.8-4.8,1.2-4.7,1.5-3.6,1.9-1.3,2.1 0,2.9 1.3-.7 3.5-.8 4.7-1.2 4.8-1.5 3.6-1.9 1.3-2.1zM955.8,719.2l-1.3,.7-3.5,.8-4.7,1.2-4.8,1.5-3.5,1.9-1.4,2.1 0,2.9 1.3-.7 3.5-.8 4.8-1.2 4.7-1.5 3.6-1.9 1.3-2.1zM955.5,735.7l-.2-.3-.7-.3-1.2-.3-1.6-.3-1.9-.2-2.1-.1-.1,5.7 2.1-.1 1.9-.1 1.6-.2 1.2-.3 .7-.3 .3-.3z"/>
<path fill="#1e82d4" stroke="#135183" stroke-width=".5" d="M937.5,676l1.3,.6 3.4,.8 4.8,1.2 4.7,1.8 3.5,2.1 1.2,2.4-.1,3.6-1.2-.6-3.5-.8-4.7-1.3-4.8-1.7-3.4-2.1-1.2-2.4zM937.2,693l1.3,.6 3.5,.8 4.7,1.2 4.7,1.8 3.5,2.1 1.2,2.4 0,3.6-1.3-.6-3.5-.8-4.7-1.3-4.8-1.7-3.4-2.1-1.2-2.4zM936.9,710l1.3,.6 3.5,.8 4.7,1.2 4.7,1.8 3.5,2.1 1.2,2.4 0,3.6-1.3-.6-3.5-.8-4.7-1.3-4.7-1.7-3.5-2.1-1.2-2.4zM936.6,727l1.3,.6 3.5,.8 4.7,1.2 4.8,1.8 3.4,2.1 1.2,1.9 0,3.6-1.3-.1-3.5-.8-4.7-1.3-4.7-1.7-3.5-2.1-1.2-2.4z"/>
<path fill="#1111af" d="M946.6,674.3l-1.4,.8-4,1.2-5.5,1.5-5.5,2-4,2.2-1.3,2.3 .2,2.8 1.4-.8 4-1.1 5.5-1.6 5.5-2 4-2.2 1.3-2.2zM947.8,691.3l-1.5,.8-4,1.1-5.5,1.6-5.5,2-4,2.2-1.3,2.2 .2,2.9 1.4-.8 4.1-1.1 5.5-1.6 5.5-2 3.9-2.2 1.4-2.3zM948.9,708.2l-.9,.6-2.8,.9-4,.3-4.7,.2-4.4,.5-3.4,.7 .3,4.5 3.4,.2 4.5-.1 4.6-.4 4.1-.9 2.6-1.8 .9-1.8z"/>
<path fill="#1414d0" stroke="#0c0c81" stroke-width=".5" d="M923.7,666.9l1.5,.5 4.2,.4 5.6,.8 5.7,1.3 4.3,1.8 1.6,2.2 .3,3.6-1.6-.4-4.1-.5-5.7-.8-5.7-1.2-4.2-1.8-1.7-2.3zM924.8,683.9l1.6,.4 4.1,.5 5.7,.8 5.7,1.3 4.2,1.8 1.7,2.2 .2,3.6-1.5-.4-4.2-.5-5.6-.8-5.7-1.3-4.3-1.8-1.6-2.2zM926,700.9l1.5,.4 4.1,.5 5.7,.8 5.7,1.3 4.2,1.8 1.7,2.2 .2,3.6-1.5-.5-4.2-.4-5.6-.8-5.7-1.3-4.2-1.8-1.7-2.2z"/>
<path fill="url(#b22)" d="M948.4,720.4l-1.4,.7-4,.7-5.3,1.1-5.4,1.4-4,1.8-1.5,2.1 0,2.9 1.4-.7 3.9-.7 5.4-1.1 5.3-1.4 4-1.8 1.5-2.1zM947.8,737.4l-1.4,.6-3.9,.8-5.4,1.1-5.4,1.4-3.9,1.8-1.5,2.1-.1,2.9 1.4-.7 4-.7 5.3-1.1 5.4-1.4 3.9-1.8 1.5-2.1zM947.3,754.4l-1.5,.6-3.9,.8-5.4,1-5.3,1.5-4,1.8-1.5,2.1-.1,2.9 1.5-.7 3.9-.8 5.3-1 5.4-1.4 4-1.8 1.5-2.1zM946.7,771.4l-1.4,.6-4,.8-5.3,1-5.4,1.5-4,1.8-1.5,2.1 0,2.8 1.4-.6 3.9-.8 5.4-1 5.4-1.4 3.9-1.9 1.5-2zM946.1,788.4l-1.4,.6-3.9,.8-5.4,1-5.4,1.5-3.9,1.8-1.5,2.1-.1,2.8 1.4-.6 4-.8 5.3-1 5.4-1.4 3.9-1.9 1.5-2z"/>
<path fill="url(#f22)" stroke="#146b7c" stroke-width=".5" d="M927.4,710.8l1.4,.6 3.9,.9 5.3,1.3 5.2,1.9 3.9,2.2 1.3,2.4-.1,3.5-1.4-.5-3.9-.9-5.3-1.4-5.2-1.8-3.8-2.2-1.4-2.4zM926.9,727.8l1.4,.6 3.8,.9 5.3,1.3 5.3,1.9 3.8,2.2 1.3,2.3-.1,3.6-1.4-.5-3.8-.9-5.3-1.4-5.3-1.8-3.8-2.2-1.4-2.4zM926.3,744.8l1.4,.6 3.9,.9 5.2,1.3 5.3,1.9 3.8,2.2 1.4,2.3-.1,3.6-1.4-.5-3.9-.9-5.3-1.4-5.3-1.8-3.8-2.2-1.3-2.4zM925.7,761.8l1.4,.6 3.9,.9 5.3,1.3 5.2,1.9 3.9,2.2 1.3,2.3-.1,3.6-1.4-.5-3.9-.9-5.3-1.4-5.2-1.8-3.8-2.2-1.4-2.4zM925.2,778.8l1.4,.6 3.8,.9 5.3,1.3 5.3,1.8 3.8,2.3 1.3,2.3-.1,3.6-1.4-.6-3.8-.8-5.3-1.4-5.3-1.8-3.8-2.2-1.4-2.4zM924.6,795.8l1.4,.6 3.9,.9 5.2,1.3 5.3,1.2 3.9,.8 1.4,1-.1,3.6-1.5,.8-3.9,.5-5.3-.7-5.3-1.8-3.8-2.2-1.3-2.4z"/>
<path fill="url(#b23)" d="M970.8,734.9l-1.5,.7-4.3,1-5.9,1.3-5.8,1.6-4.3,2-1.6,2.2 .1,2.9 1.5-.7 4.3-1 5.9-1.3 5.8-1.7 4.3-1.9 1.6-2.2zM971,751.9l-1.5,.7-4.3,1-5.9,1.3-5.8,1.6-4.3,2-1.6,2.2 .1,2.9 1.5-.7 4.3-1 5.9-1.3 5.8-1.7 4.3-1.9 1.6-2.2zM971.2,768.9l-1.5,.7-4.3,1-5.9,1.3-5.8,1.6-4.3,2-1.6,2.2 .1,2.9 1.5-.7 4.3-1 5.9-1.3 5.9-1.7 4.2-1.9 1.6-2.2zM971.5,785.9l-1.6,.7-4.3,1-5.9,1.3-5.8,1.6-4.3,2-1.6,2.2 .1,2.9 1.5-.7 4.3-1 5.9-1.3 5.9-1.7 4.2-1.9 1.6-2.2zM971.7,802.9l-1.6,.7-4.3,1-5.9,1.3-5.8,1.6-4.3,2-1.6,1.2 .1,2.9 1.5,.3 4.3-1 5.9-1.3 5.9-1.7 4.2-2 1.6-2.1z"/>
<path fill="url(#f23)" stroke="#578628" stroke-width=".5" d="M947.2,726.3l1.6,.5 4.3,.7 5.9,1.1 5.9,1.6 4.3,2.1 1.6,2.3 .1,3.6-1.6-.5-4.3-.7-5.9-1.2-5.9-1.5-4.3-2.1-1.6-2.3zM947.4,743.3l1.6,.5 4.3,.7 5.9,1.1 5.9,1.6 4.3,2.1 1.6,2.3 .1,3.6-1.6-.5-4.3-.7-5.9-1.2-5.9-1.5-4.3-2.1-1.6-2.3zM947.6,760.3l1.6,.5 4.3,.7 5.9,1.1 5.9,1.6 4.3,2.1 1.6,2.3 .1,3.6-1.6-.5-4.3-.7-5.9-1.2-5.9-1.5-4.3-2.1-1.6-2.3zM947.8,777.3l1.6,.5 4.3,.7 5.9,1.1 5.9,1.6 4.3,2.1 1.6,2.3 .1,3.6-1.6-.5-4.3-.7-5.9-1.2-5.9-1.5-4.3-2.1-1.6-2.3zM948,794.3l1.6,.5 4.3,.7 5.9,1.1 5.9,1.6 4.3,2.1 1.6,2.3 .1,3.6-1.6-.5-4.3-.7-5.9-1.2-5.9-1.5-4.3-2.1-1.6-2.3zM948.2,810.3l.3-.3 .6-.4 1.2-.3 1.5-.3 1.8-.2 2.1-.2 .1,6.9-2.1-.1-1.8-.2-1.6-.3-1.1-.3-.7-.3-.2-.4z"/>
<path fill="#94af36" d="M991.4,690.1l-1.8,.7-4.9,.8-6.7,1.3-6.7,1.6-4.9,1.9-1.8,2.2 0,2.8 1.8-.7 4.9-.8 6.7-1.3 6.7-1.6 4.9-1.9 1.8-2.2zM991.4,707.1l-1.8,.7-4.9,.8-6.7,1.3-6.7,1.6-4.9,1.9-1.8,2.2 0,2.8 1.8-.7 4.9-.8 6.7-1.3 6.7-1.6 4.9-1.9 1.8-2.2zM991.4,724.1l-1.1,.5-3.2,.6-4.8,0-5.5-.1-5.3,.2-4.2,.4 0,4.6 4.2,.4 5.3,.2 5.5-.1 4.8-.5 3.2-1.7 1.1-1.7z"/>
<path fill="#b0d040" stroke="#6d8128" stroke-width=".5" d="M964.6,681.2l1.8,.5 4.9,.8 6.7,1.1 6.7,1.7 4.9,2.1 1.8,2.3 0,3.6-1.8-.5-4.9-.8-6.7-1.1-6.7-1.7-4.9-2.1-1.8-2.3zM964.6,698.2l1.8,.5 4.9,.8 6.7,1.1 6.7,1.7 4.9,2.1 1.8,2.3 0,3.6-1.8-.5-4.9-.8-6.7-1.1-6.7-1.7-4.9-2.1-1.8-2.3zM964.6,715.2l1.8,.5 4.9,.8 6.7,1.1 6.7,1.7 4.9,2.1 1.8,2.3 0,3.6-1.8-.5-4.9-.8-6.7-1.1-6.7-1.7-4.9-2.1-1.8-2.3z"/>
<path fill="url(#b24)" d="M988.8,734.9l-1.5,.7-4.3,1-5.9,1.3-5.8,1.7-4.3,1.9-1.6,2.2 .1,2.9 1.5-.7 4.3-1 5.9-1.3 5.9-1.7 4.2-2 1.6-2.1zM989.1,751.9l-1.6,.7-4.3,1-5.9,1.3-5.8,1.7-4.3,1.9-1.6,2.2 .1,2.9 1.6-.7 4.2-1 5.9-1.3 5.9-1.7 4.2-2 1.6-2.1zM989.3,768.9l-1.6,.7-4.3,1-5.9,1.3-5.8,1.6-4.3,2-1.5,2.2 0,2.9 1.6-.7 4.3-1 5.8-1.3 5.9-1.7 4.3-2 1.5-2.1zM989.5,785.9l-1.6,.7-4.3,1-5.8,1.3-5.9,1.6-4.3,2-1.5,2.2 0,2.9 1.6-.7 4.3-1 5.8-1.3 5.9-1.7 4.3-2 1.5-2.1zM989.7,802.9l-1.3,.7-3.7,.8-5.1,.7-5.6,.2-4.6,.4-2.7,.6 0,3.7 2.7,.5 4.7,.3 5.5,0 5.2-1.2 3.6-1.8 1.3-2z"/>
<path fill="url(#f24)" stroke="#816d1e" stroke-width=".5" d="M965.2,726.3l1.6,.5 4.3,.7 5.9,1.1 5.9,1.6 4.3,2.1 1.6,2.3 .1,3.6-1.6-.5-4.3-.7-5.9-1.2-5.9-1.5-4.3-2.1-1.6-2.3zM965.4,743.3l1.6,.5 4.3,.7 5.9,1.1 5.9,1.6 4.4,2.1 1.6,2.3 0,3.6-1.6-.5-4.3-.8-5.9-1.1-5.9-1.5-4.3-2.1-1.6-2.3zM965.6,760.3l1.6,.5 4.3,.7 5.9,1.1 5.9,1.6 4.4,2.1 1.6,2.2 0,3.6-1.6-.4-4.3-.8-5.9-1.1-5.9-1.5-4.3-2.1-1.6-2.3zM965.9,777.3l1.5,.5 4.4,.7 5.8,1.1 5.9,1.6 4.4,2.1 1.6,2.2 0,3.6-1.6-.4-4.3-.8-5.9-1.1-5.9-1.5-4.3-2.1-1.6-2.3zM966.1,794.3l1.6,.5 4.3,.7 5.9,1.1 5.9,1.6 4.3,2.1 1.6,2.2 0,3.6-1.5-.5-4.4-.7-5.9-1.1-5.9-1.5-4.3-2.1-1.6-2.3z"/>
<path d="M982.0,682.0 C983.3,680.0 989.5,670.3 990.0,670.0 C990.5,669.7 985.8,678.3 985.0,680.0" fill="none" stroke="#b0d040" stroke-width="1.8" stroke-linecap="round" stroke-linejoin="round"/>
<path d="M905.0,800.0 C904.2,802.5 899.2,810.0 900.0,815.0 C900.8,820.0 909.2,825.0 910.0,830.0 C910.8,835.0 905.5,841.2 905.0,845.0 C904.5,848.8 906.7,851.7 907.0,853.0" fill="none" stroke="#30c0c0" stroke-width="2" stroke-linecap="round" stroke-linejoin="round"/>
<path d="M915.0,805.0 C916.7,807.5 922.5,819.2 925.0,820.0 C927.5,820.8 929.2,811.7 930.0,810.0" fill="none" stroke="#30c0c0" stroke-width="1.6" stroke-linecap="round" stroke-linejoin="round"/>
<path fill="#36b55e" d="M1157.1,646.2l0,1.1-.8,2.9-1,3.9-.7,4.1 .1,3.4 1.2,1.9 2.5,1.4 .1-1.1 .8-2.9 1-3.9 .7-4.2-.2-3.3-1.2-1.9zM1170.2,653.6l-.1,1.1-.8,2.9-1,3.9-.6,4.1 .1,3.4 1.2,1.9 2.5,1.4 0-1.2 .8-2.8 1-3.9 .7-4.2-.1-3.3-1.2-1.9zM1180.6,659.5l-.1-.1 0,0-.1,0-.1,.1-.1,0-.1,.1 3.2,1.8 0-.1 0-.1 0-.1-.1-.1 0-.1-.1,0z"/>
<path fill="#40d870" stroke="#288645" stroke-width=".5" d="M1142.6,655.9l.8-.7 1.9-2.2 2.8-2.9 3.3-2.7 3-1.6 2.4,.2 3.2,1.8-.9,.7-1.9,2.2-2.8,2.9-3.2,2.7-3.1,1.6-2.4-.2zM1155.6,663.3l.8-.7 2-2.2 2.8-2.9 3.2-2.7 3.1-1.6 2.4,.2 3.1,1.8-.8,.7-1.9,2.2-2.9,2.9-3.2,2.7-3.1,1.5-2.3-.1zM1168.7,670.7l.8-.7 1.9-2.2 2.8-2.9 2.8-3 2-2.1 1.3-.5 3.1,1.8 .3,1.3-.8,2.8-2.4,3.2-3.2,2.7-3.1,1.5-2.4-.1z"/>
<path d="M1170.0,652.0 C1171.7,650.8 1177.5,645.3 1180.0,645.0 C1182.5,644.7 1185.3,647.5 1185.0,650.0 C1184.7,652.5 1179.2,658.3 1178.0,660.0" fill="none" stroke="#50e080" stroke-width="1.6" stroke-linecap="round" stroke-linejoin="round"/>
<path d="M1160.0,670.0 C1159.2,672.5 1155.0,681.3 1155.0,685.0 C1155.0,688.7 1159.2,690.8 1160.0,692.0" fill="none" stroke="#70d8a0" stroke-width="1.5" stroke-linecap="round" stroke-linejoin="round"/>
<path fill="#d62319" d="M1184.3,696.6l-1.1,.7-3.3,1.1-4.4,1.5-4.3,1.8-3.2,2.1-1.1,2.2 .2,2.9 1.1-.8 3.2-1 4.5-1.5 4.3-1.8 3.2-2.2 1.1-2.2zM1185.3,713.5l-1.2,.8-3.2,1.1-4.4,1.4-4.4,1.9-3.2,2.1-1.1,2.2 .2,2.9 1.1-.8 3.3-1.1 4.4-1.4 4.4-1.9 3.1-2.1 1.1-2.2zM1186.2,730.5l-1.2,.8-3.2,1-4.4,1.5-4.4,1.9-3.2,2.1-1,2.2 .1,2.9 1.2-.8 3.2-1.1 4.4-1.4 4.4-1.9 3.2-2.1 1-2.2z"/>
<path fill="#ff2a1e" stroke="#9e1a13" stroke-width=".5" d="M1166,688.7l1.2,.4 3.3,.6 4.5,.9 4.6,1.5 3.4,1.9 1.3,2.2 .2,3.6-1.2-.5-3.3-.5-4.6-1-4.5-1.4-3.4-1.9-1.3-2.2zM1166.9,705.7l1.2,.4 3.3,.6 4.6,.9 4.5,1.4 3.4,1.9 1.3,2.3 .2,3.6-1.2-.5-3.3-.6-4.5-.9-4.6-1.4-3.4-1.9-1.3-2.2zM1167.8,722.6l1.2,.5 3.3,.6 4.6,.9 4.6,1.4 3.3,1.9 1.4,2.3 .2,3.5-1.3-.4-3.3-.6-4.5-.9-4.6-1.4-3.4-1.9-1.3-2.3zM1168.7,739.6l1.2,.5 3.2,.5 4.4,.8 4.5,0 3.4,.4 1.4,.8 .2,3.8-1.3,1-3.4,.8-4.4,.4-4.4-1.3-3.3-1.9-1.3-2.2z"/>
<path fill="#d62319" d="M1184.7,752.1l-.9,.7-2.4,.8-3.4,1.3-3.4,1.6-2.4,1.9-.9,2.2 0,2.8 .9-.7 2.4-.8 3.4-1.3 3.4-1.6 2.4-1.9 .9-2.2zM1184.7,769.1l-.9,.7-2.4,.8-3.4,1.3-3.4,1.6-2.4,1.9-.9,2.2 0,2.8 .9-.7 2.4-.8 3.4-1.3 3.4-1.6 2.4-1.9 .9-2.2zM1184.7,786.1l-.9,.7-2.4,.8-3.4,1.3-3.4,1.6-2.4,1.9-.9,2.2 0,2.8 .9-.7 2.4-.8 3.4-1.3 3.4-1.6 2.4-1.9 .9-2.2z"/>
<path fill="#ff2a1e" stroke="#9e1a13" stroke-width=".5" d="M1171.3,743.2l.9,.5 2.4,.8 3.4,1.1 3.4,1.7 2.4,2.1 .9,2.3 0,3.6-.9-.5-2.4-.8-3.4-1.1-3.4-1.7-2.4-2.1-.9-2.3zM1171.3,760.2l.9,.5 2.4,.8 3.4,1.1 3.4,1.7 2.4,2.1 .9,2.3 0,3.6-.9-.5-2.4-.8-3.4-1.1-3.4-1.7-2.4-2.1-.9-2.3zM1171.3,777.2l.9,.5 2.4,.8 3.4,1.1 3.4,1.7 2.4,2.1 .9,2.3 0,3.6-.9-.5-2.4-.8-3.4-1.1-3.4-1.7-2.4-2.1-.9-2.3zM1171.3,794.2l.8,.5 2.4,.7 3.2,1 3.3,.2 2.5,.6 1.2,.8 0,4-1.2,.8-2.5,.6-3.3,.2-3.2-1.5-2.4-2-.8-2.3z"/>
<path fill="url(#b25)" d="M1152.9,699.1l-1.7,.7-4.8,.8-6.4,1.3-6.4,1.6-4.8,1.9-1.7,2.2 0,2.8 1.7-.7 4.8-.8 6.4-1.3 6.4-1.6 4.8-1.9 1.7-2.2zM1152.9,716.1l-1.7,.7-4.8,.8-6.4,1.3-6.4,1.6-4.8,1.9-1.7,2.2 0,2.8 1.7-.7 4.8-.8 6.4-1.3 6.4-1.6 4.8-1.9 1.7-2.2zM1152.9,733.1l-1.7,.7-4.8,.8-6.4,1.3-6.4,1.6-4.8,1.9-1.7,2.2 0,2.8 1.7-.7 4.8-.8 6.4-1.3 6.4-1.6 4.8-1.9 1.7-2.2zM1152.9,750.1l-1.7,.7-4.8,.8-6.4,1.3-6.4,1.6-4.8,1.9-1.7,2.2 0,2.8 1.7-.7 4.8-.8 6.4-1.3 6.4-1.6 4.8-1.9 1.7-2.2zM1152.9,767.1l-1.7,.7-4.8,.8-6.4,1.3-6.4,1.6-4.8,1.9-1.7,2.2 0,2.8 1.7-.7 4.8-.8 6.4-1.3 6.4-1.6 4.8-1.9 1.7-2.2zM1152.9,784.1l-1.7,.7-4.8,.8-6.4,1.3-6.4,1.6-4.8,1.9-1.7,2.2 0,2.8 1.7-.7 4.8-.8 6.4-1.3 6.4-1.6 4.8-1.9 1.7-2.2zM1152.9,798.6l-.1-.2-.2-.1-.4-.2-.5-.1-.6-.2-.8-.1 0,4.6 .8-.1 .6-.2 .5-.1 .4-.2 .2-.1 .1-.2z"/>
<path fill="url(#f25)" stroke="#103081" stroke-width=".5" d="M1127.1,690.2l1.7,.5 4.8,.8 6.4,1.1 6.4,1.7 4.8,2.1 1.7,2.3 0,3.6-1.7-.5-4.8-.8-6.4-1.1-6.4-1.7-4.8-2.1-1.7-2.3zM1127.1,707.2l1.7,.5 4.8,.8 6.4,1.1 6.4,1.7 4.8,2.1 1.7,2.3 0,3.6-1.7-.5-4.8-.8-6.4-1.1-6.4-1.7-4.8-2.1-1.7-2.3zM1127.1,724.2l1.7,.5 4.8,.8 6.4,1.1 6.4,1.7 4.8,2.1 1.7,2.3 0,3.6-1.7-.5-4.8-.8-6.4-1.1-6.4-1.7-4.8-2.1-1.7-2.3zM1127.1,741.2l1.7,.5 4.8,.8 6.4,1.1 6.4,1.7 4.8,2.1 1.7,2.3 0,3.6-1.7-.5-4.8-.8-6.4-1.1-6.4-1.7-4.8-2.1-1.7-2.3zM1127.1,758.2l1.7,.5 4.8,.8 6.4,1.1 6.4,1.7 4.8,2.1 1.7,2.3 0,3.6-1.7-.5-4.8-.8-6.4-1.1-6.4-1.7-4.8-2.1-1.7-2.3zM1127.1,775.2l1.7,.5 4.8,.8 6.4,1.1 6.4,1.7 4.8,2.1 1.7,2.3 0,3.6-1.7-.5-4.8-.8-6.4-1.1-6.4-1.7-4.8-2.1-1.7-2.3zM1127.1,792.2l1.7,.5 4.8,.8 6.4,1.1 6.4,1.7 4.8,1 1.7,.9 0,3.6-1.7,.9-4.8,.3-6.4-1.1-6.4-1.7-4.8-2.1-1.7-2.3z"/>
<path d="M1135.0,797.0 C1133.3,798.3 1125.5,802.5 1125.0,805.0 C1124.5,807.5 1129.5,812.0 1132.0,812.0 C1134.5,812.0 1138.7,806.2 1140.0,805.0" fill="none" stroke="#1e82d4" stroke-width="1.5" stroke-linecap="round" stroke-linejoin="round"/>
<path fill="url(#b26)" d="M1173.6,702.3l-1.6,.7-4.3,.8-5.9,1.1-5.9,1.5-4.3,1.8-1.7,2.1 0,2.9 1.6-.7 4.3-.8 5.9-1.1 5.9-1.5 4.3-1.8 1.7-2.1zM1173.3,719.3l-1.6,.7-4.3,.8-5.9,1.1-5.9,1.5-4.4,1.8-1.6,2.1-.1,2.9 1.6-.7 4.4-.8 5.9-1.1 5.9-1.5 4.3-1.8 1.6-2.1zM1173,736.3l-1.6,.6-4.4,.9-5.9,1.1-5.9,1.5-4.3,1.8-1.6,2.1-.1,2.9 1.6-.7 4.3-.8 5.9-1.1 5.9-1.5 4.4-1.8 1.6-2.1zM1172.6,753.3l-1.6,.6-4.3,.9-5.9,1.1-5.9,1.5-4.3,1.8-1.7,2.1 0,2.9 1.6-.7 4.3-.8 5.9-1.1 5.9-1.5 4.3-1.8 1.7-2.1zM1172.3,770.3l-1.6,.6-4.3,.8-5.9,1.2-5.9,1.4-4.4,1.9-1.6,2.1-.1,2.9 1.6-.7 4.4-.8 5.9-1.1 5.9-1.5 4.3-1.8 1.6-2.1zM1172,787.3l-1.6,.6-4.4,.8-5.9,1.2-5.9,1.4-4.3,1.9-1.6,2.1-.1,2.9 1.6-.7 4.3-.8 5.9-1.1 5.9-1.5 4.4-1.8 1.6-2.1z"/>
<path fill="url(#f26)" stroke="#147c6d" stroke-width=".5" d="M1150.3,693l1.5,.5 4.3,.9 5.9,1.2 5.8,1.8 4.3,2.2 1.5,2.3 0,3.6-1.6-.5-4.3-.9-5.9-1.3-5.8-1.7-4.3-2.2-1.5-2.3zM1149.9,710l1.6,.5 4.3,.9 5.9,1.2 5.8,1.8 4.3,2.2 1.5,2.3-.1,3.6-1.5-.5-4.3-.9-5.9-1.3-5.8-1.7-4.3-2.2-1.5-2.3zM1149.6,727l1.6,.5 4.3,.9 5.8,1.2 5.9,1.8 4.2,2.2 1.6,2.3-.1,3.6-1.6-.5-4.3-.9-5.8-1.3-5.9-1.7-4.2-2.2-1.6-2.3zM1149.3,744l1.5,.5 4.3,.8 5.9,1.3 5.8,1.8 4.3,2.2 1.5,2.3 0,3.6-1.6-.5-4.3-.9-5.9-1.3-5.8-1.7-4.3-2.2-1.5-2.3zM1148.9,761l1.6,.5 4.3,.8 5.9,1.3 5.8,1.8 4.3,2.2 1.5,2.3-.1,3.6-1.5-.5-4.3-.9-5.9-1.3-5.8-1.7-4.3-2.2-1.5-2.3zM1148.6,778l1.6,.5 4.3,.8 5.8,1.3 5.9,1.8 4.2,2.2 1.6,2.3-.1,3.6-1.6-.5-4.3-.9-5.8-1.3-5.9-1.7-4.2-2.2-1.6-2.3zM1148.3,795l.4-.5 1.2-.4 1.9-.3 2.4-.3 2.9-.1 3.1,0-.2,7.2-3-.1-2.9-.3-2.4-.3-1.9-.4-1.2-.5-.4-.5z"/>
<path fill="#1111af" d="M1195.1,690.9l-1.5,.5-4,.6-5.4,.8-5.4,1.2-4,1.7-1.6,2-.2,2.9 1.4-.6 4-.6 5.4-.8 5.4-1.2 4.1-1.6 1.5-2.1zM1193.7,707.8l-1.4,.6-4,.6-5.4,.8-5.4,1.2-4,1.6-1.6,2-.2,2.9 1.4-.6 4-.6 5.4-.8 5.4-1.2 4-1.6 1.6-2zM1192.4,724.8l-1.4,.5-4,.6-5.4,.8-5.4,1.2-4.1,1.7-1.5,2-.3,2.9 1.5-.6 4-.6 5.4-.8 5.4-1.2 4-1.6 1.6-2.1zM1191.1,741.7l-1.5,.6-3.9,.6-5.4,.8-5.4,1.2-4.1,1.6-1.6,2-.2,2.9 1.5-.6 4-.6 5.4-.8 5.4-1.2 4-1.6 1.6-2zM1189.8,758.7l-1.5,.5-3.9,.6-5.4,.8-5.4,1.2-4.1,1.7-1.6,2-.2,2.9 1.5-.6 3.9-.6 5.4-.8 5.5-1.2 4-1.7 1.6-2zM1188.5,775.6l-1.5,.6-3.9,.6-5.4,.8-5.5,1.2-4,1.6-1.6,2-.2,2.9 1.5-.6 3.9-.6 5.4-.8 5.5-1.2 4-1.6 1.6-2zM1187.2,792.6l-1.5,.5-3.9,.6-5.4,.8-5.5,1.2-4,1.7-1.6,2-.2,2.9 1.5-.6 3.9-.6 5.4-.8 5.4-1.2 4.1-1.7 1.6-2zM1185.9,809.5l-.8,.4-2.2,.3-3.2-.6-3.9-.4-3.9-.3-3.5,0-.4,5.1 3.5,.5 3.9,.4 3.9,.2 3.2-.1 2.3-1.1 .8-1.5z"/>
<path fill="#1414d0" stroke="#0c0c81" stroke-width=".5" d="M1174.5,680.4l1.4,.6 3.8,1.1 5.2,1.5 5.2,2.1 3.7,2.4 1.3,2.4-.3,3.6-1.4-.6-3.8-1.1-5.2-1.6-5.2-2-3.7-2.4-1.2-2.4zM1173.2,697.3l1.4,.7 3.8,1 5.2,1.6 5.2,2.1 3.7,2.3 1.3,2.5-.3,3.5-1.4-.6-3.8-1-5.2-1.6-5.2-2.1-3.7-2.4-1.3-2.4zM1171.9,714.3l1.4,.6 3.8,1.1 5.2,1.5 5.2,2.1 3.7,2.4 1.3,2.4-.3,3.6-1.4-.6-3.8-1.1-5.2-1.6-5.2-2-3.7-2.4-1.3-2.4zM1170.6,731.2l1.4,.7 3.8,1 5.2,1.6 5.2,2.1 3.7,2.3 1.2,2.4-.2,3.6-1.4-.6-3.8-1-5.2-1.6-5.2-2.1-3.7-2.4-1.3-2.4zM1169.3,748.2l1.4,.6 3.8,1.1 5.2,1.5 5.2,2.1 3.7,2.4 1.2,2.4-.2,3.6-1.4-.6-3.8-1.1-5.3-1.6-5.1-2-3.8-2.4-1.2-2.4zM1168,765.1l1.3,.7 3.9,1 5.2,1.6 5.2,2.1 3.7,2.3 1.2,2.4-.3,3.6-1.3-.6-3.9-1-5.2-1.6-5.2-2.1-3.7-2.4-1.2-2.4zM1166.6,782.1l1.4,.6 3.9,1.1 5.2,1.5 5.1,2.1 3.8,2.4 1.2,2.4-.3,3.6-1.4-.6-3.8-1.1-5.2-1.6-5.2-2-3.7-2.4-1.2-2.4zM1165.3,799l1.4,.7 3.8,1 5.3,1.6 5.1,2.1 3.8,2.3 1.2,2.4-.3,3.6-1.4-.6-3.8-1-5.2-1.6-5.2-2.1-3.7-2.4-1.2-2.4z"/>
<path fill="#1ba894" d="M1201.6,676.1l-1.1,1-3.3,1.9-4.6,2.5-4.4,2.9-3,2.9-.7,2.4 .7,2.8 1.1-1.1 3.4-1.8 4.5-2.5 4.4-2.9 3-2.9 .8-2.4z"/>
<path fill="#20c8b0" stroke="#147c6d" stroke-width=".5" d="M1179.8,673l1.4,.1 3.8-.3 5.2-.2 5.3,.3 4.1,1 1.9,1.9 1,3.4-1.5-.1-3.7,.2-5.2,.3-5.3-.3-4.1-1-1.9-1.9zM1184.4,689.3l.7,.2 1.9-.4 2.7-1.1 3.3-1.2 3.5-.9 3.3-.6 1.7,6.3-3.1,1.1-3.5,1.1-3.4,.7-2.9,.4-2.2-.7-1.1-1.4z"/>
<path fill="url(#b27)" d="M1206.5,695.5l-1.6,.7-4.4,.7-5.9,1-5.9,1.3-4.4,1.8-1.7,2.1-.1,2.9 1.6-.7 4.4-.7 5.9-1 5.9-1.4 4.4-1.7 1.7-2.1zM1205.8,712.5l-1.6,.6-4.3,.8-6,.9-5.9,1.4-4.4,1.8-1.6,2.1-.1,2.8 1.6-.6 4.3-.7 5.9-1 6-1.4 4.3-1.7 1.7-2.1zM1205.1,729.5l-1.6,.6-4.3,.7-5.9,1-6,1.4-4.3,1.8-1.7,2.1-.1,2.8 1.6-.6 4.3-.7 5.9-1 6-1.4 4.4-1.8 1.6-2zM1204.5,746.5l-1.6,.6-4.4,.7-5.9,1-5.9,1.4-4.4,1.8-1.7,2-.1,2.9 1.6-.6 4.4-.7 5.9-1 5.9-1.4 4.4-1.8 1.7-2zM1203.8,763.5l-1.6,.6-4.3,.7-6,1-5.9,1.4-4.4,1.8-1.6,2-.2,2.9 1.7-.6 4.3-.7 5.9-1 5.9-1.4 4.4-1.8 1.7-2.1zM1203.1,780.5l-1.6,.6-4.3,.7-5.9,1-6,1.4-4.3,1.7-1.7,2.1-.1,2.9 1.6-.6 4.3-.8 5.9-.9 6-1.4 4.4-1.8 1.6-2.1zM1202.5,797.4l-1.6,.7-4.4,.7-5.9,1-5.9,1.4-4.4,1.7-1.7,2.1-.1,2.9 1.6-.7 4.3-.7 6-1 5.9-1.3 4.4-1.8 1.6-2.1zM1201.8,814l-.3-.3-1-.4-1.5-.3-2-.3-2.5-.3-2.6-.2-.3,5.7 2.7,0 2.4,0 2.1-.2 1.6-.2 1-.3 .3-.3z"/>
<path fill="url(#f27)" stroke="#147c6d" stroke-width=".5" d="M1183.3,685.7l1.6,.6 4.2,.9 5.9,1.4 5.8,1.9 4.2,2.3 1.5,2.4-.2,3.6-1.5-.6-4.3-1-5.8-1.4-5.8-1.8-4.2-2.3-1.5-2.4zM1182.7,702.7l1.5,.6 4.3,.9 5.8,1.4 5.8,1.9 4.2,2.3 1.5,2.3-.1,3.6-1.6-.5-4.2-1-5.9-1.4-5.8-1.9-4.2-2.2-1.5-2.4zM1182,719.7l1.5,.6 4.3,.9 5.8,1.4 5.8,1.9 4.3,2.3 1.4,2.3-.1,3.6-1.5-.5-4.3-1-5.8-1.4-5.9-1.9-4.2-2.2-1.5-2.4zM1181.3,736.7l1.6,.6 4.2,.9 5.9,1.4 5.8,1.9 4.2,2.2 1.5,2.4-.2,3.6-1.5-.6-4.3-.9-5.8-1.4-5.8-1.9-4.2-2.2-1.5-2.4zM1180.6,753.7l1.6,.6 4.3,.9 5.8,1.4 5.8,1.9 4.2,2.2 1.5,2.4-.1,3.6-1.6-.6-4.3-.9-5.8-1.4-5.8-1.9-4.2-2.2-1.5-2.4zM1180,770.7l1.5,.6 4.3,.9 5.8,1.4 5.8,1.9 4.3,2.2 1.4,2.4-.1,3.6-1.6-.6-4.2-.9-5.9-1.4-5.8-1.9-4.2-2.3-1.5-2.3zM1179.3,787.7l1.6,.5 4.2,1 5.9,1.4 5.8,1.9 4.2,2.2 1.5,2.4-.2,3.6-1.5-.6-4.3-.9-5.8-1.4-5.8-1.9-4.3-2.3-1.4-2.3zM1178.6,804.6l1.6,.6 4.3,1 5.8,1.4 5.8,1.8 4.2,2.3 1.5,2-.1,3.6-1.6-.2-4.3-.9-5.8-1.4-5.8-1.9-4.2-2.3-1.5-2.4z"/>
<path fill="url(#b28)" d="M1219.2,736.9l-1.4,.8-3.7,.9-5,1.3-5,1.6-3.7,2-1.3,2.2 0,2.9 1.4-.8 3.7-.9 5-1.3 5-1.6 3.7-2 1.3-2.2zM1219.4,753.9l-1.4,.7-3.7,1-5,1.3-5,1.6-3.7,2-1.3,2.2 0,2.9 1.4-.8 3.7-.9 5-1.3 5-1.6 3.7-2 1.3-2.2zM1219.6,770.9l-1.4,.7-3.6,1-5.1,1.3-5,1.6-3.7,2-1.3,2.2 .1,2.9 1.3-.8 3.7-.9 5-1.3 5-1.6 3.7-2 1.3-2.2zM1219.8,787.9l-1.4,.7-3.6,1-5.1,1.3-5,1.6-3.7,2-1.3,2.2 .1,2.9 1.3-.8 3.7-.9 5-1.3 5-1.6 3.7-2 1.3-2.2zM1220,804.9l-1.4,.7-3.6,1-5.1,1.3-5,1.6-3.7,1.4-1.3,.8 0,2.9 1.4,.7 3.7-.4 5-1.3 5-1.6 3.7-2 1.3-2.2z"/>
<path fill="url(#f28)" stroke="#6d8128" stroke-width=".5" d="M1198.9,728.3l1.4,.5 3.7,.7 5,1.1 5.1,1.6 3.7,2.1 1.4,2.3 0,3.6-1.4-.5-3.7-.7-5-1.2-5.1-1.5-3.7-2.1-1.4-2.3zM1199.1,745.3l1.4,.5 3.7,.7 5,1.1 5.1,1.6 3.7,2.1 1.4,2.3 0,3.6-1.3-.5-3.7-.7-5.1-1.2-5.1-1.5-3.7-2.1-1.4-2.3zM1199.3,762.3l1.4,.5 3.7,.7 5,1.1 5.1,1.6 3.7,2.1 1.4,2.3 0,3.6-1.3-.5-3.7-.7-5.1-1.2-5.1-1.6-3.7-2-1.3-2.3zM1199.5,779.3l1.4,.5 3.7,.7 5,1.1 5.1,1.6 3.7,2.1 1.4,2.3 0,3.6-1.3-.5-3.7-.7-5.1-1.2-5.1-1.6-3.7-2-1.3-2.3zM1199.7,796.3l1.4,.5 3.7,.7 5,1.1 5.1,1.6 3.7,2.1 1.4,2.3 0,3.6-1.3-.5-3.7-.7-5.1-1.2-5-1.6-3.8-2-1.3-2.3zM1199.9,811.3l.1-.2 .3-.3 .5-.2 .6-.2 .8-.3 1-.2 .1,6.3-1-.2-.8-.1-.7-.3-.5-.2-.3-.2-.1-.3z"/>
<path fill="url(#b29)" d="M1233.2,697.1l-1.5,.7-4.1,.8-5.6,1.3-5.6,1.6-4.1,1.9-1.5,2.2 0,2.8 1.5-.7 4.1-.8 5.6-1.3 5.6-1.6 4.1-1.9 1.5-2.2zM1233.2,714.1l-1.5,.7-4.1,.8-5.6,1.3-5.6,1.6-4.1,1.9-1.5,2.2 0,2.8 1.5-.7 4.1-.8 5.6-1.3 5.6-1.6 4.1-1.9 1.5-2.2zM1233.2,731.1l-1.5,.7-4.1,.8-5.6,1.3-5.6,1.6-4.1,1.9-1.5,2.2 0,2.8 1.5-.7 4.1-.8 5.6-1.3 5.6-1.6 4.1-1.9 1.5-2.2zM1233.2,748.1l-1.5,.7-4.1,.8-5.6,1.3-5.6,1.6-4.1,1.9-1.5,2.2 0,2.8 1.5-.7 4.1-.8 5.6-1.3 5.6-1.6 4.1-1.9 1.5-2.2zM1233.2,765.1l-1.5,.7-4.1,.8-5.6,1.3-5.6,1.6-4.1,1.9-1.5,2.2 0,2.8 1.5-.7 4.1-.8 5.6-1.3 5.6-1.6 4.1-1.9 1.5-2.2zM1233.2,782.1l-1.5,.7-4.1,.8-5.6,1.3-5.6,1.6-4.1,1.9-1.5,2.2 0,2.8 1.5-.7 4.1-.8 5.6-1.3 5.6-1.6 4.1-1.9 1.5-2.2zM1233.2,799.1l-1.5,.7-4.1,.8-5.6,1.3-5.6,1.6-4.1,1.9-1.5,2.2 0,2.8 1.5-.7 4.1-.8 5.6-1.3 5.6-1.6 4.1-1.9 1.5-2.2z"/>
<path fill="url(#f29)" stroke="#866d1e" stroke-width=".5" d="M1210.8,688.2l1.5,.5 4.1,.8 5.6,1.1 5.6,1.7 4.1,2.1 1.5,2.3 0,3.6-1.5-.5-4.1-.8-5.6-1.1-5.6-1.7-4.1-2.1-1.5-2.3zM1210.8,705.2l1.5,.5 4.1,.8 5.6,1.1 5.6,1.7 4.1,2.1 1.5,2.3 0,3.6-1.5-.5-4.1-.8-5.6-1.1-5.6-1.7-4.1-2.1-1.5-2.3zM1210.8,722.2l1.5,.5 4.1,.8 5.6,1.1 5.6,1.7 4.1,2.1 1.5,2.3 0,3.6-1.5-.5-4.1-.8-5.6-1.1-5.6-1.7-4.1-2.1-1.5-2.3zM1210.8,739.2l1.5,.5 4.1,.8 5.6,1.1 5.6,1.7 4.1,2.1 1.5,2.3 0,3.6-1.5-.5-4.1-.8-5.6-1.1-5.6-1.7-4.1-2.1-1.5-2.3zM1210.8,756.2l1.5,.5 4.1,.8 5.6,1.1 5.6,1.7 4.1,2.1 1.5,2.3 0,3.6-1.5-.5-4.1-.8-5.6-1.1-5.6-1.7-4.1-2.1-1.5-2.3zM1210.8,773.2l1.5,.5 4.1,.8 5.6,1.1 5.6,1.7 4.1,2.1 1.5,2.3 0,3.6-1.5-.5-4.1-.8-5.6-1.1-5.6-1.7-4.1-2.1-1.5-2.3zM1210.8,790.2l1.5,.5 4.1,.8 5.6,1.1 5.6,1.7 4.1,2.1 1.5,2.3 0,3.6-1.5-.5-4.1-.8-5.6-1.1-5.6-1.7-4.1-2.1-1.5-2.3zM1210.8,807.2l.6,.3 1.7-.4 2.6-.4 3.2-.2 3.6-.1 3.5,.1 0,7-3.5,.1-3.6-.1-3.2-.2-2.6-.4-1.7-.7-.6-1.4z"/>
<path fill="url(#b30)" d="M1247.1,707l-1.3,.7-3.7,.9-5,1.3-5,1.6-3.7,2-1.3,2.2 0,2.8 1.3-.7 3.7-.9 5-1.3 5.1-1.6 3.6-2 1.4-2.2zM1247.3,724l-1.3,.7-3.7,.9-5,1.3-5.1,1.6-3.6,2-1.4,2.2 .1,2.8 1.3-.7 3.7-.9 5-1.3 5-1.6 3.7-2 1.3-2.2zM1247.5,741l-1.4,.7-3.7,.9-5,1.3-5,1.6-3.7,2-1.3,2.2 0,2.8 1.4-.7 3.6-.9 5.1-1.3 5-1.6 3.7-2 1.3-2.2zM1247.6,758l-1.3,.7-3.7,.9-5,1.3-5,1.6-3.7,2-1.3,2.2 0,2.8 1.3-.7 3.7-.9 5-1.3 5.1-1.6 3.6-2 1.4-2.2zM1247.8,775l-1.3,.7-3.7,.9-5.1,1.3-5,1.6-3.7,2-1.3,2.2 0,2.8 1.4-.7 3.7-.9 5-1.3 5-1.6 3.7-2 1.3-2.2zM1248,792l-1.4,.7-3.7,.9-5,1.3-5,1.6-3.7,2-1.3,2.2 0,2.8 1.3-.7 3.7-.9 5.1-1.3 5-1.6 3.7-2 1.3-2.2z"/>
<path fill="url(#f30)" stroke="#955614" stroke-width=".5" d="M1226.9,698.3l1.4,.5 3.7,.7 5,1.1 5.1,1.7 3.7,2 1.3,2.3 .1,3.6-1.4-.5-3.7-.7-5-1.2-5.1-1.6-3.7-2-1.4-2.3zM1227.1,715.3l1.3,.5 3.7,.7 5.1,1.1 5,1.7 3.7,2 1.4,2.3 0,3.6-1.3-.5-3.7-.7-5.1-1.2-5-1.6-3.7-2-1.4-2.3zM1227.2,732.3l1.4,.5 3.7,.7 5,1.1 5.1,1.7 3.7,2 1.4,2.3 0,3.6-1.4-.5-3.7-.7-5-1.2-5.1-1.6-3.7-2-1.3-2.3zM1227.4,749.3l1.3,.5 3.7,.7 5.1,1.1 5,1.7 3.8,2 1.3,2.3 .1,3.6-1.4-.5-3.7-.7-5-1.2-5.1-1.6-3.7-2-1.4-2.3zM1227.6,766.3l1.3,.5 3.7,.7 5.1,1.1 5,1.7 3.7,2 1.4,2.3 0,3.6-1.3-.5-3.7-.7-5.1-1.2-5-1.6-3.7-2-1.4-2.3zM1227.7,783.3l1.4,.5 3.7,.7 5,1.1 5.1,1.7 3.7,2 1.4,2.3 0,3.6-1.4-.5-3.7-.7-5-1.2-5.1-1.6-3.7-2-1.4-2.3zM1227.9,800.3l1,.4 2.7,.6 4.1,.2 4.4-.1 4.1,.3 2.8,.6 .1,5.2-2.9,.7-4,.3-4.5,.1-4-.9-2.8-1.8-1-2z"/>
<path d="M1160.0,812.0 C1160.8,814.2 1165.3,822.0 1165.0,825.0 C1164.7,828.0 1159.2,829.2 1158.0,830.0" fill="none" stroke="#1a4ed0" stroke-width="1.5" stroke-linecap="round" stroke-linejoin="round"/>
<path d="M1168.0,828.0 C1148.7,835.0 1132.7,854.2 1142.0,858.0 C1147.1,866.6 1163.9,848.0 1168.0,828.0Z" fill="#20d090" stroke="#189c6c" stroke-width="0.8"/>
<path d="M1164.1,832.5 C1153.7,836.9 1139.2,854.0 1144.6,855.0 C1146.3,860.2 1161.3,843.4 1164.1,832.5Z" fill="#f2faf6"/>
<path fill="#d6511b" d="M209.7,941l-1.1,.8-3.1,1.3-4.3,1.7-4.3,2.1-3,2.3-1,2.3 .4,2.9 1.1-.9 3.1-1.2 4.3-1.8 4.3-2.1 3-2.3 1-2.3zM211.7,957.8l-1.1,.9-3.1,1.2-4.3,1.8-4.3,2.1-3,2.3-.9,2.3 .3,2.9 1.1-.9 3.2-1.3 4.3-1.7 4.2-2.1 3-2.3 1-2.3zM213.7,974.5l-.3-.3-.8-.2-1.4-.2-1.7,0-2,.1-2.2,.2 .7,5.7 2.2-.4 1.9-.3 1.7-.5 1.3-.4 .7-.4 .3-.4z"/>
<path fill="#ff6020" stroke="#9e3c14" stroke-width=".5" d="M190.9,934.3l1.2,.3 3.4,.4 4.6,.6 4.6,1.2 3.5,1.6 1.5,2.2 .4,3.6-1.2-.4-3.4-.4-4.6-.6-4.6-1.1-3.5-1.7-1.5-2.2zM192.9,951.2l1.3,.3 3.3,.4 4.6,.6 4.6,1.1 3.5,1.7 1.5,2.2 .4,3.5-1.2-.3-3.4-.4-4.6-.6-4.6-1.1-3.5-1.7-1.5-2.2zM194.9,968l1.3,.4 3.3,.4 4.6,.6 4.6,1.1 3.5,1.7 1.5,2 .4,3.5-1.2-.1-3.4-.4-4.6-.6-4.6-1.2-3.5-1.6-1.5-2.2z"/>
<path fill="#d6511b" d="M242.6,941.8l-1.1,.8-3.1,.9-4.2,1.4-4.1,1.7-3,2-1.1,2.2 .1,2.8 1.1-.7 3-.9 4.2-1.4 4.1-1.7 3.1-2 1-2.2zM243,958.8l-1.1,.8-3.1,.9-4.1,1.4-4.2,1.7-3,2-1.1,2.2 .1,2.8 1.1-.7 3-1 4.2-1.3 4.2-1.7 3-2 1.1-2.2zM243.4,973.4l-.1-.2-.1-.2-.3-.1-.3-.1-.5-.2-.5-.1 .1,4.6 .5-.1 .5-.1 .3-.2 .2-.2 .2-.1 0-.2z"/>
<path fill="#ff6020" stroke="#9e3c14" stroke-width=".5" d="M225.6,933.4l1.1,.5 3.1,.7 4.2,1 4.3,1.6 3.1,2 1.2,2.3 .1,3.6-1.2-.5-3.1-.7-4.2-1.1-4.2-1.5-3.2-2-1.2-2.3zM226,950.4l1.1,.5 3.1,.7 4.2,1 4.3,1.6 3.1,2 1.2,2.3 .1,3.6-1.2-.5-3.1-.7-4.2-1.1-4.2-1.5-3.1-2-1.2-2.3zM226.4,967.4l1.1,.5 3.1,.7 4.3,1 4.2,1.6 3.1,.9 1.2,.9 0,3.6-1.1,.9-3,.4-4.3-1.1-4.2-1.5-3.1-2-1.2-2.3z"/>
<path fill="#1ba894" d="M225.6,973.6l-1.6,.7-4.5,1.1-6.1,1.5-6.1,1.8-4.4,2.1-1.6,2.2 .1,2.9 1.6-.7 4.5-1.1 6.1-1.5 6.1-1.8 4.4-2.2 1.6-2.2zM226.3,990.5l-1.6,.8-4.5,1.1-6.1,1.4-6.1,1.9-4.4,2.1-1.6,2.2 .1,2.9 1.6-.8 4.5-1 6.1-1.5 6.1-1.9 4.4-2.1 1.6-2.2zM227,1007.5l-1.7,.8-4.4,1.1-6.1,1.4-6.1,1.9-4.5,2.1-1.6,1.3 .1,2.8 1.7,.2 4.5-1 6.1-1.5 6.1-1.9 4.4-2.1 1.6-2.2z"/>
<path fill="#20c8b0" stroke="#147c6d" stroke-width=".5" d="M200.6,965.7l1.7,.4 4.5,.6 6.2,.9 6.2,1.5 4.6,1.9 1.8,2.2 .1,3.6-1.6-.5-4.6-.5-6.2-1-6.2-1.4-4.6-1.9-1.7-2.2zM201.3,982.7l1.7,.4 4.5,.6 6.2,.9 6.2,1.4 4.6,1.9 1.8,2.3 .1,3.6-1.7-.5-4.5-.5-6.2-1-6.2-1.4-4.6-1.9-1.8-2.2zM202,999.7l1.6,.4 4.6,.6 6.2,.9 6.2,1.4 4.6,1.9 1.7,2.3 .2,3.6-1.7-.5-4.5-.6-6.2-.9-6.2-1.4-4.6-1.9-1.8-2.2zM202.6,1015.7l.3-.4 .7-.4 1.2-.3 1.6-.4 2-.3 2.2-.2 .3,7-2.3-.1-2-.2-1.6-.2-1.2-.2-.8-.4-.2-.3z"/>
<path fill="#36b55e" d="M239.2,971.2l-.8,1.3-2.8,2.5-3.7,3.6-3.6,3.9-2.3,3.5-.1,2.5 1.4,2.5 .8-1.3 2.8-2.5 3.8-3.6 3.6-3.9 2.2-3.5 .2-2.5zM247.6,986l-.2,.6-1.5,.4-2.1,.9-2.6,1.2-2.8,1.5-2.7,1.6 2.8,4.9 2.7-1.5 2.8-1.6 2.4-1.6 1.8-1.4 1-1.1-.2-1.4z"/>
<path fill="#40d870" stroke="#288645" stroke-width=".5" d="M217.3,973.4l1.5-.2 3.6-1.2 4.9-1.4 5.2-1.1 4.3,0 2.3,1.4 1.7,3.1-1.4,.2-3.6,1.2-4.9,1.4-5.2,1.1-4.3,0-2.3-1.4zM225.7,988.2l1.4-.2 3.6-1.2 5-1.4 5.2-1.1 4.2,0 2.3,1.4 1.8,3.1-1.4,.2-3.6,1.2-5,1.4-5.2,1.1-4.2,0-2.3-1.4z"/>
<path fill="url(#b31)" d="M180,935.5l-1.6,.7-4.6,.7-6.2,1-6.2,1.3-4.6,1.8-1.7,2.1-.1,2.9 1.7-.7 4.5-.7 6.2-1 6.2-1.4 4.6-1.7 1.7-2.1zM179.4,952.5l-1.7,.6-4.5,.8-6.2,1-6.2,1.3-4.6,1.8-1.7,2.1-.1,2.9 1.6-.7 4.6-.7 6.2-1 6.2-1.4 4.6-1.7 1.7-2.1zM178.8,969.5l-1.7,.6-4.5,.7-6.2,1-6.3,1.4-4.5,1.8-1.8,2.1-.1,2.8 1.7-.6 4.5-.7 6.2-1 6.3-1.4 4.5-1.8 1.8-2zM178.1,986.5l-1.6,.6-4.6,.7-6.2,1-6.2,1.4-4.6,1.8-1.7,2.1-.1,2.8 1.7-.6 4.5-.7 6.2-1 6.2-1.4 4.6-1.8 1.7-2zM177.5,1003.5l-1.4,.6-3.9,.6-5.5,.5-5.8-.1-4.9,.2-2.8,.4-.2,3.7 2.8,.7 4.8,.5 5.9,.3 5.5-1 3.9-1.6 1.5-2z"/>
<path fill="url(#f31)" stroke="#7c7719" stroke-width=".5" d="M155.8,925.7l1.6,.6 4.5,.9 6.1,1.4 6.1,1.9 4.4,2.3 1.6,2.4-.2,3.6-1.6-.6-4.5-.9-6.1-1.5-6.1-1.8-4.4-2.3-1.6-2.4zM155.1,942.7l1.6,.6 4.5,.9 6.1,1.4 6.1,1.9 4.5,2.3 1.5,2.3-.1,3.6-1.6-.5-4.5-1-6.1-1.4-6.1-1.9-4.5-2.2-1.5-2.4zM154.5,959.7l1.6,.6 4.5,.9 6.1,1.4 6.1,1.9 4.4,2.3 1.6,2.3-.1,3.6-1.7-.5-4.5-1-6.1-1.4-6.1-1.9-4.4-2.2-1.6-2.4zM153.8,976.7l1.7,.6 4.5,.9 6.1,1.4 6.1,1.9 4.4,2.2 1.5,2.4-.1,3.6-1.6-.6-4.5-.9-6.1-1.4-6.1-1.9-4.4-2.2-1.6-2.4zM153.2,993.7l1.6,.6 4.5,.9 6.1,1.4 6.1,1.9 4.4,2.2 1.6,2.4-.1,3.6-1.7-.6-4.4-.9-6.1-1.4-6.1-1.9-4.5-2.2-1.5-2.4z"/>
<path fill="url(#b32)" d="M191.3,982.8l-1.8,.1-4.6-.7-6.2-.9-6.3-.5-4.9,.3-2.3,1.5-1,2.7 1.8-.1 4.6,.6 6.2,.9 6.3,.6 4.9-.4 2.3-1.4zM185.6,998.8l-1.8,.1-4.6-.7-6.2-.9-6.3-.5-4.9,.3-2.3,1.5-.9,2.7 1.7-.1 4.6,.7 6.2,.9 6.4,.5 4.9-.3 2.2-1.5zM179.9,1014.8l-1.8,.1-4.5-.6-6.2-.9-6.4-.6-4.9,.3-2.3,1.5-.9,2.7 1.8-.1 4.5,.7 6.2,.9 6.4,.5 4.9-.3 2.3-1.5zM174.2,1030.8l-1.7,.1-4.6-.6-6.2-.9-6.4-.6-4.9,.4-2.2,1.4-1,2.7 1.8-.1 4.6,.7 6.2,.9 6.3,.5 4.9-.3 2.3-1.4zM168.6,1046.9l-1.8,.1-4.6-.7-6.2-.9-6.3-.5-4.9,.3-2.3,1.5-1,2.7 1.8-.1 4.6,.6 6.2,.9 6.3,.6 4.9-.4 2.3-1.4zM162.9,1062.9l-1.8,.1-4.5-.7-6.3-.9-6.3-.5-4.9,.3-2.3,1.5-.9,2.7 1.8-.1 4.5,.7 6.2,.9 6.4,.5 4.9-.3 2.2-1.5zM157.2,1078.9l-1.8,.1-4.5-.6-6.2-.9-6.4-.6-4.9,.3-2.2,1.5-1,2.7 1.8-.1 4.5,.7 6.2,.9 6.4,.5 4.9-.3 2.3-1.5z"/>
<path fill="url(#f32)" stroke="#8b6814" stroke-width=".5" d="M171,966.2l1.4,1 4,2.2 5.4,3.2 5.2,3.6 3.6,3.5 .8,2.7-1.2,3.4-1.4-1-4-2.2-5.4-3.2-5.3-3.6-3.5-3.5-.8-2.7zM165.3,982.2l1.4,1.1 4,2.2 5.4,3.1 5.3,3.7 3.5,3.4 .8,2.8-1.2,3.3-1.4-1-4-2.2-5.4-3.2-5.2-3.6-3.6-3.5-.8-2.7zM159.6,998.2l1.4,1.1 4,2.2 5.4,3.2 5.3,3.6 3.5,3.4 .8,2.8-1.2,3.4-1.4-1.1-4-2.2-5.4-3.1-5.2-3.7-3.6-3.4-.8-2.8zM154,1014.3l1.4,1 4,2.2 5.4,3.2 5.2,3.6 3.6,3.5 .8,2.7-1.2,3.4-1.4-1-4-2.3-5.4-3.1-5.3-3.6-3.5-3.5-.8-2.7zM148.3,1030.3l1.4,1 4,2.3 5.4,3.1 5.2,3.6 3.6,3.5 .8,2.7-1.2,3.4-1.4-1-4-2.2-5.4-3.2-5.3-3.6-3.5-3.5-.8-2.7zM142.6,1046.3l1.4,1.1 4,2.2 5.4,3.1 5.3,3.7 3.5,3.4 .8,2.8-1.2,3.3-1.4-1-4-2.2-5.4-3.2-5.2-3.6-3.6-3.5-.8-2.7zM137,1062.3l1.3,1.1 4,2.2 5.4,3.2 5.3,3.6 3.6,3.4 .7,2.8-1.2,3.4-1.3-1.1-4-2.2-5.5-3.1-5.2-3.7-3.6-3.4-.8-2.8zM131.3,1078.4l.5,.5 1.8,.1 2.7,.5 3.3,.9 3.7,1.2 3.5,1.4-2.3,6.6-3.6-1.2-3.6-1.3-3.2-1.4-2.4-1.3-1.5-1.1-.1-1.5z"/>
<path fill="#1ba894" d="M192.1,940.1l-1.4,.7-3.7,.8-5,1.3-5,1.6-3.7,1.9-1.4,2.2 0,2.8 1.4-.7 3.7-.8 5-1.3 5-1.6 3.7-1.9 1.4-2.2zM192.1,957.1l-1.4,.7-3.7,.8-5,1.3-5,1.6-3.7,1.9-1.4,2.2 0,2.8 1.4-.7 3.7-.8 5-1.3 5-1.6 3.7-1.9 1.4-2.2zM192.1,974.1l-1.4,.7-3.7,.8-5,1.3-5,1.6-3.7,1.9-1.4,2.2 0,2.8 1.4-.7 3.7-.8 5-1.3 5-1.6 3.7-1.9 1.4-2.2zM192.1,991.1l-1.4,.7-3.7,.8-5,1.3-5,1.6-3.7,1.9-1.4,2.2 0,2.8 1.4-.7 3.7-.8 5-1.3 5-1.6 3.7-1.9 1.4-2.2zM192.1,1008.1l-1.4,.7-3.7,.8-5,1.3-5,1.6-3.7,1.9-1.4,2.2 0,2.8 1.4-.7 3.7-.8 5-1.3 5-1.6 3.7-1.9 1.4-2.2zM192.1,1025.1l-1.4,.7-3.7,.8-5,1.3-5,1.6-3.7,1.9-1.4,2.2 0,2.8 1.4-.7 3.7-.8 5-1.3 5-1.6 3.7-1.9 1.4-2.2zM192.1,1042.1l-1.4,.7-3.7,.8-5,1.3-5,1.6-3.7,1.9-1.4,2.2 0,2.8 1.4-.7 3.7-.8 5-1.3 5-1.6 3.7-1.9 1.4-2.2zM192.1,1059.1l-1.4,.7-3.7,.8-5,1.3-5,1.6-3.7,1.3-1.4,.8 0,2.8 1.4,.8 3.7-.3 5-1.3 5-1.6 3.7-1.9 1.4-2.2z"/>
<path fill="#20c8b0" stroke="#147c6d" stroke-width=".5" d="M171.9,931.2l1.4,.5 3.7,.8 5,1.1 5,1.7 3.7,2.1 1.4,2.3 0,3.6-1.4-.5-3.7-.8-5-1.1-5-1.7-3.7-2.1-1.4-2.3zM171.9,948.2l1.4,.5 3.7,.8 5,1.1 5,1.7 3.7,2.1 1.4,2.3 0,3.6-1.4-.5-3.7-.8-5-1.1-5-1.7-3.7-2.1-1.4-2.3zM171.9,965.2l1.4,.5 3.7,.8 5,1.1 5,1.7 3.7,2.1 1.4,2.3 0,3.6-1.4-.5-3.7-.8-5-1.1-5-1.7-3.7-2.1-1.4-2.3zM171.9,982.2l1.4,.5 3.7,.8 5,1.1 5,1.7 3.7,2.1 1.4,2.3 0,3.6-1.4-.5-3.7-.8-5-1.1-5-1.7-3.7-2.1-1.4-2.3zM171.9,999.2l1.4,.5 3.7,.8 5,1.1 5,1.7 3.7,2.1 1.4,2.3 0,3.6-1.4-.5-3.7-.8-5-1.1-5-1.7-3.7-2.1-1.4-2.3zM171.9,1016.2l1.4,.5 3.7,.8 5,1.1 5,1.7 3.7,2.1 1.4,2.3 0,3.6-1.4-.5-3.7-.8-5-1.2-5-1.6-3.7-2.1-1.4-2.3zM171.9,1033.2l1.4,.5 3.7,.8 5,1.2 5,1.6 3.7,2.1 1.4,2.3 0,3.6-1.4-.5-3.7-.8-5-1.2-5-1.6-3.7-2.1-1.4-2.3zM171.9,1050.2l1.4,.5 3.7,.8 5,1.2 5,1.6 3.7,2.1 1.4,2.3 0,3.6-1.4-.5-3.7-.8-5-1.2-5-1.6-3.7-2.1-1.4-2.3zM171.9,1065.2l.1-.2 .3-.3 .5-.2 .6-.2 .8-.2 1-.2 0,6.2-1-.2-.8-.2-.6-.2-.5-.2-.3-.3-.1-.2z"/>
<path d="M150.0,1080.0 C149.2,1083.3 144.2,1094.2 145.0,1100.0 C145.8,1105.8 150.8,1113.3 155.0,1115.0 C159.2,1116.7 165.8,1113.3 170.0,1110.0 C174.2,1106.7 179.2,1099.7 180.0,1095.0 C180.8,1090.3 175.8,1084.2 175.0,1082.0" fill="none" stroke="#90d040" stroke-width="3.2" stroke-linecap="round" stroke-linejoin="round"/>
<path d="M160.0,1075.0 C161.3,1077.5 164.3,1085.8 168.0,1090.0 C171.7,1094.2 178.3,1098.7 182.0,1100.0 C185.7,1101.3 188.7,1098.3 190.0,1098.0" fill="none" stroke="#a0d040" stroke-width="2.5" stroke-linecap="round" stroke-linejoin="round"/>
<path fill="#1111af" d="M201.4,1061.4l-1.1,.8-3.3,1.1-4.3,1.5-4.4,2-3.1,2.1-1.1,2.2 .2,2.9 1.1-.8 3.3-1.1 4.3-1.5 4.4-1.9 3.1-2.2 1.1-2.2zM202.5,1078.4l-1.1,.8-3.2,1.1-4.4,1.5-4.4,1.9-3.1,2.2-1.1,2.2 .2,2.9 1.2-.8 3.2-1.1 4.4-1.5 4.3-1.9 3.2-2.2 1-2.2zM203.7,1095.4l-.8,.6-2.1,.8-3.3,.2-3.7,.2-3.6,.4-2.7,.6 .3,4.5 2.8,.3 3.5-.1 3.8-.3 3.2-.8 2.1-1.8 .7-1.8z"/>
<path fill="#1414d0" stroke="#0c0c81" stroke-width=".5" d="M182.9,1053.8l1.3,.4 3.3,.6 4.5,.8 4.6,1.4 3.4,1.9 1.4,2.2 .2,3.6-1.2-.5-3.3-.5-4.6-.9-4.6-1.3-3.4-1.9-1.3-2.2zM184.1,1070.8l1.2,.4 3.3,.5 4.6,.9 4.6,1.4 3.4,1.8 1.3,2.3 .3,3.5-1.3-.4-3.3-.5-4.5-.9-4.6-1.4-3.4-1.8-1.4-2.2zM185.2,1087.7l1.2,.5 3.4,.5 4.5,.9 4.6,1.3 3.4,1.9 1.3,2.2 .3,3.6-1.2-.4-3.4-.6-4.5-.8-4.6-1.4-3.4-1.9-1.4-2.2z"/>
<path fill="url(#b33)" d="M252.1,979.4l-1.6,.6-4.6,.8-6.2,1.1-6.2,1.4-4.5,1.8-1.7,2.1-.1,2.9 1.7-.6 4.5-.8 6.2-1.1 6.2-1.4 4.5-1.8 1.8-2.1zM251.7,996.4l-1.7,.6-4.5,.8-6.2,1.1-6.2,1.4-4.6,1.8-1.7,2.1-.1,2.9 1.7-.7 4.5-.7 6.2-1.1 6.2-1.4 4.6-1.9 1.7-2zM251.2,1013.4l-1.6,.6-4.6,.8-6.2,1.1-6.2,1.4-4.5,1.8-1.7,2.1-.1,2.9 1.7-.7 4.5-.7 6.2-1.1 6.2-1.4 4.5-1.9 1.7-2zM250.8,1030.4l-1.7,.6-4.5,.8-6.2,1-6.2,1.5-4.6,1.8-1.7,2.1-.1,2.9 1.7-.7 4.5-.7 6.2-1.1 6.2-1.4 4.6-1.9 1.7-2.1zM250.3,1047.4l-1.6,.6-4.6,.8-6.2,1-6.2,1.5-4.5,1.8-1.7,2.1-.1,2.9 1.7-.7 4.5-.7 6.2-1.1 6.2-1.4 4.5-1.9 1.7-2.1zM249.9,1064.4l-1.7,.6-4.5,.8-6.2,1-6.2,1.5-4.6,1.8-1.7,2.1-.1,2.9 1.7-.7 4.5-.7 6.2-1.1 6.2-1.5 4.6-1.8 1.7-2.1zM249.4,1081.3l-1.1,.6-3,.5-4.4-.1-5.1-.2-4.9,0-3.8,.3-.1,4.6 3.8,.5 4.9,.3 5.1,.1 4.4-.4 3-1.6 1.1-1.7z"/>
<path fill="url(#f33)" stroke="#135183" stroke-width=".5" d="M227.7,969.9l1.7,.5 4.5,.9 6.1,1.3 6.1,1.9 4.4,2.2 1.6,2.3-.1,3.6-1.6-.5-4.5-.9-6.1-1.4-6.1-1.8-4.5-2.2-1.6-2.3zM227.3,986.9l1.6,.5 4.5,.9 6.1,1.3 6.1,1.9 4.5,2.2 1.6,2.3-.1,3.6-1.6-.5-4.5-.9-6.2-1.4-6.1-1.8-4.4-2.2-1.6-2.3zM226.8,1003.9l1.7,.5 4.5,.9 6.1,1.3 6.1,1.9 4.4,2.2 1.6,2.3-.1,3.6-1.6-.5-4.5-.9-6.1-1.4-6.1-1.8-4.5-2.2-1.6-2.3zM226.4,1020.9l1.6,.5 4.5,.9 6.1,1.3 6.1,1.9 4.5,2.1 1.6,2.4-.1,3.6-1.6-.6-4.5-.8-6.2-1.4-6.1-1.8-4.4-2.2-1.6-2.3zM225.9,1037.8l1.7,.6 4.5,.9 6.1,1.3 6.1,1.8 4.4,2.2 1.6,2.4-.1,3.6-1.6-.6-4.5-.8-6.1-1.4-6.1-1.8-4.5-2.2-1.6-2.4zM225.5,1054.8l1.6,.6 4.5,.9 6.1,1.3 6.1,1.8 4.5,2.2 1.6,2.4-.1,3.6-1.6-.6-4.5-.8-6.2-1.4-6.1-1.8-4.4-2.2-1.6-2.4zM225,1071.8l1.7,.6 4.4,.9 6.2,1.3 6.1,1.8 4.4,2.2 1.6,2.4-.1,3.6-1.6-.6-4.5-.9-6.1-1.3-6.1-1.8-4.5-2.2-1.6-2.4z"/>
<path fill="#d6361b" d="M232.1,1006.8l-1.2,.8-3.2,.9-4.5,1.4-4.4,1.7-3.2,2-1.2,2.2 .1,2.9 1.2-.8 3.2-.9 4.5-1.4 4.4-1.7 3.2-2 1.2-2.2zM232.5,1023.8l-1.1,.8-3.3,.9-4.5,1.4-4.4,1.7-3.2,2-1.2,2.2 .1,2.8 1.2-.7 3.2-.9 4.5-1.4 4.4-1.7 3.3-2 1.1-2.2zM232.9,1040.8l-1.1,.8-3.3,.9-4.4,1.4-4.5,1.7-3.2,2-1.2,2.2 .1,2.8 1.2-.7 3.2-1 4.5-1.3 4.4-1.7 3.3-2 1.1-2.2zM233.4,1057.8l-1.2,.8-3.3,.9-4.4,1.4-4.5,1.7-3.2,2-1.2,2.2 .1,2.8 1.2-.7 3.3-1 4.4-1.3 4.4-1.7 3.3-2 1.1-2.2zM233.8,1074.8l-1.2,.7-3.3,1-4.4,1.3-4.5,1.8-3.2,1.4-1.2,.8 .1,2.9 1.2,.6 3.3-.4 4.4-1.3 4.5-1.7 3.2-2 1.1-2.2z"/>
<path fill="#ff4020" stroke="#9e2814" stroke-width=".5" d="M214,998.4l1.2,.5 3.3,.7 4.5,1 4.5,1.6 3.4,2 1.2,2.3 .1,3.6-1.2-.5-3.3-.7-4.5-1.1-4.5-1.5-3.4-2-1.2-2.3zM214.4,1015.4l1.2,.5 3.3,.7 4.5,1 4.5,1.6 3.4,2 1.2,2.3 .1,3.6-1.2-.5-3.3-.7-4.5-1.1-4.5-1.5-3.3-2-1.3-2.3zM214.8,1032.4l1.2,.5 3.3,.7 4.5,1 4.6,1.6 3.3,2 1.2,2.3 .1,3.6-1.2-.5-3.3-.7-4.5-1.1-4.5-1.5-3.3-2-1.3-2.3zM215.2,1049.4l1.2,.5 3.3,.7 4.5,1 4.6,1.6 3.3,2 1.2,2.3 .1,3.6-1.2-.5-3.3-.7-4.5-1.1-4.5-1.5-3.3-2-1.3-2.3zM215.6,1066.4l1.2,.5 3.3,.7 4.6,1 4.5,1.6 3.3,2 1.3,2.3 0,3.6-1.2-.5-3.3-.7-4.5-1.1-4.5-1.5-3.3-2-1.3-2.3zM216,1081.4l.1-.2 .2-.3 .5-.2 .5-.3 .8-.2 .8-.2 .2,6.3-.9-.2-.7-.2-.6-.2-.5-.2-.2-.2-.1-.3z"/>
<path fill="#1642af" d="M230.1,1044.9l-1.2,.7-3.3,1-4.5,1.3-4.4,1.6-3.3,2-1.1,2.2 0,2.9 1.2-.7 3.3-1 4.4-1.3 4.5-1.6 3.2-2 1.2-2.2zM230.3,1061.9l-1.2,.7-3.3,1-4.4,1.3-4.5,1.6-3.2,2-1.2,2.2 0,2.9 1.2-.7 3.3-1 4.5-1.3 4.4-1.6 3.3-2 1.1-2.2zM230.5,1078.9l-1.1,.7-3.3,1-4.5,1.3-4.4,1.6-3.3,2-1.2,2.2 .1,2.9 1.2-.8 3.2-.9 4.5-1.3 4.5-1.6 3.2-2 1.2-2.2zM230.8,1095.9l-1.2,.7-3.3,1-4.4,1.3-4.5,1.6-3.2,2-1.2,2.2 0,2.9 1.2-.8 3.3-.9 4.5-1.3 4.4-1.7 3.3-1.9 1.1-2.2z"/>
<path fill="#1a4ed0" stroke="#103081" stroke-width=".5" d="M212,1036.3l1.2,.5 3.3,.7 4.5,1.1 4.5,1.6 3.3,2.1 1.3,2.3 0,3.6-1.2-.5-3.3-.7-4.5-1.2-4.5-1.5-3.3-2.1-1.2-2.3zM212.3,1053.3l1.2,.5 3.3,.7 4.5,1.1 4.5,1.6 3.3,2.1 1.2,2.3 0,3.6-1.2-.5-3.2-.7-4.5-1.2-4.5-1.5-3.4-2.1-1.2-2.3zM212.5,1070.3l1.2,.5 3.3,.7 4.5,1.1 4.5,1.6 3.3,2.1 1.2,2.3 .1,3.6-1.2-.5-3.3-.7-4.5-1.2-4.5-1.5-3.3-2.1-1.2-2.3zM212.7,1087.3l1.3,.5 3.2,.7 4.5,1.1 4.5,1.6 3.3,2.1 1.3,2.3 0,3.6-1.2-.5-3.3-.7-4.5-1.2-4.5-1.5-3.3-2.1-1.2-2.3zM213,1104.3l.6,.4 1.9,.3 2.8-.4 3.4-.2 3.4,.1 2.9,.3 .1,6.2-2.9,.4-3.4,.2-3.4-.1-2.8-.4-1.9-1.5-.7-1.7z"/>
<path fill="#d62319" d="M224.7,996.8l-2,.7-5.3,1-7.2,1.4-7.3,1.7-5.3,2.1-1.9,2.1 .1,2.9 1.9-.7 5.3-1 7.3-1.4 7.2-1.7 5.3-2.1 1.9-2.1zM225,1013.8l-1.9,.7-5.4,1-7.2,1.4-7.3,1.7-5.3,2-1.9,2.2 .1,2.9 1.9-.7 5.3-1 7.3-1.4 7.2-1.7 5.3-2.1 1.9-2.1zM225.3,1030.8l-1.9,.7-5.3,1-7.3,1.4-7.3,1.7-5.2,2-2,2.2 .1,2.9 1.9-.7 5.3-1 7.3-1.4 7.3-1.7 5.2-2.1 2-2.1zM225.6,1047.8l-1.9,.7-5.3,1-7.3,1.4-7.2,1.7-5.3,2-1.9,2.2 0,2.9 1.9-.7 5.4-1 7.2-1.4 7.3-1.7 5.3-2.1 1.9-2.1zM225.9,1064.8l-1.9,.7-5.3,1-7.3,1.4-7.2,1.7-5.3,2-1.9,2.2 0,2.9 2-.7 5.3-1 7.2-1.4 7.3-1.7 5.3-2.1 1.9-2.1zM226.2,1081.8l-1.9,.7-5.3,1-7.3,1.4-7.2,1.7-5.3,2-1.9,2.2 0,2.9 2-.7 5.3-1 7.2-1.4 7.3-1.7 5.3-2.1 1.9-2.1zM226.5,1098.3l-.4-.3-1.1-.3-1.9-.3-2.4-.2-2.9-.1-3.3,0 .1,5.7 3.3-.1 2.9-.3 2.4-.2 1.9-.4 1.1-.3 .4-.3z"/>
<path fill="#ff2a1e" stroke="#9e1a13" stroke-width=".5" d="M195.4,988.5l2,.4 5.3,.7 7.3,1 7.3,1.6 5.4,2 2,2.2 0,3.6-1.9-.4-5.4-.7-7.3-1.1-7.3-1.5-5.3-2-2-2.2zM195.7,1005.5l2,.4 5.3,.7 7.3,1 7.3,1.6 5.4,2 2,2.2 .1,3.6-2-.5-5.3-.6-7.3-1.1-7.4-1.5-5.3-2-2-2.2zM196,1022.5l2,.4 5.3,.7 7.3,1 7.3,1.6 5.4,1.9 2,2.3 .1,3.6-2-.5-5.3-.6-7.3-1.1-7.3-1.5-5.4-2-2-2.2zM196.3,1039.5l2,.4 5.3,.7 7.3,1 7.3,1.6 5.4,1.9 2,2.3 .1,3.6-2-.5-5.3-.6-7.3-1.1-7.3-1.5-5.4-2-2-2.2zM196.6,1056.5l2,.4 5.3,.7 7.3,1 7.4,1.6 5.3,1.9 2,2.3 .1,3.6-2-.5-5.3-.6-7.3-1.1-7.3-1.5-5.4-2-2-2.2zM197,1073.5l1.9,.4 5.4,.7 7.3,1 7.3,1.6 5.3,1.9 2,2.3 .1,3.6-2-.5-5.3-.6-7.3-1.1-7.3-1.5-5.4-2-2-2.2zM197.3,1090.4l1.9,.5 5.4,.7 7.3,1 7.3,1.6 5.3,1.9 2,1.8 .1,3.6-2,0-5.3-.6-7.3-1.1-7.3-1.5-5.4-2-2-2.3z"/>
<ellipse cx="262" cy="956" rx="9" ry="12" fill="none" stroke="#30b070" stroke-width="2.6"/>
<ellipse cx="263" cy="957" rx="5" ry="7" fill="none" stroke="#40c080" stroke-width="1.8"/>
<path d="M198.0,1095.0 C198.8,1097.2 201.0,1107.2 203.0,1108.0 C205.0,1108.8 208.8,1101.3 210.0,1100.0" fill="none" stroke="#ff2a1e" stroke-width="1.8" stroke-linecap="round" stroke-linejoin="round"/>
<path d="M393.0,942.0 C394.5,940.5 400.8,935.8 402.0,933.0 C403.2,930.2 399.0,926.3 400.0,925.0 C401.0,923.7 405.2,925.5 408.0,925.0 C410.8,924.5 414.5,923.7 417.0,922.0 C419.5,920.3 420.8,915.8 423.0,915.0 C425.2,914.2 429.2,915.8 430.0,917.0 C430.8,918.2 429.7,921.0 428.0,922.0 C426.3,923.0 421.3,922.8 420.0,923.0" fill="none" stroke="#70d8a0" stroke-width="1.6" stroke-linecap="round" stroke-linejoin="round"/>
<path d="M393.0,942.0 C393.5,944.2 394.8,951.2 396.0,955.0 C397.2,958.8 398.5,962.5 400.0,965.0 C401.5,967.5 404.2,969.2 405.0,970.0" fill="none" stroke="#70d8a0" stroke-width="1.6" stroke-linecap="round" stroke-linejoin="round"/>
<path fill="#d6511b" d="M427.8,970.1l-1,.7-2.9,.8-3.9,1.3-3.9,1.6-2.9,1.9-1,2.2 0,2.8 1-.7 2.9-.8 3.9-1.3 3.9-1.6 2.9-1.9 1-2.2zM427.8,987.1l-1,.7-2.9,.8-3.9,1.3-3.9,1.6-2.9,1.9-1,2.2 0,2.8 1-.7 2.9-.8 3.9-1.3 3.9-1.6 2.9-1.9 1-2.2zM427.8,1004.1l-1,.7-2.9,.8-3.9,1.3-3.9,1.6-2.9,1.9-1,2.2 0,2.8 1-.7 2.9-.8 3.9-1.3 3.9-1.6 2.9-1.9 1-2.2z"/>
<path fill="#ff6020" stroke="#9e3c14" stroke-width=".5" d="M412.2,961.2l1,.5 2.9,.8 3.9,1.1 3.9,1.7 2.9,2.1 1,2.3 0,3.6-1-.5-2.9-.8-3.9-1.1-3.9-1.7-2.9-2.1-1-2.3zM412.2,978.2l1,.5 2.9,.8 3.9,1.1 3.9,1.7 2.9,2.1 1,2.3 0,3.6-1-.5-2.9-.8-3.9-1.1-3.9-1.7-2.9-2.1-1-2.3zM412.2,995.2l1,.5 2.9,.8 3.9,1.1 3.9,1.7 2.9,2.1 1,2.3 0,3.6-1-.5-2.9-.8-3.9-1.1-3.9-1.7-2.9-2.1-1-2.3zM412.2,1012.2l.7,.4 2.2,.6 3.1,.2 3.5,0 3.1,.4 2.2,.6 0,5.2-2.2,.6-3.1,.4-3.5,0-3.1-1-2.2-1.8-.7-2z"/>
<path fill="url(#b34)" d="M397.9,974.1l-1.7,.7-4.8,.8-6.4,1.3-6.4,1.6-4.8,1.9-1.7,2.2 0,2.8 1.7-.7 4.8-.8 6.4-1.3 6.4-1.6 4.8-1.9 1.7-2.2zM397.9,991.1l-1.7,.7-4.8,.8-6.4,1.3-6.4,1.6-4.8,1.9-1.7,2.2 0,2.8 1.7-.7 4.8-.8 6.4-1.3 6.4-1.6 4.8-1.9 1.7-2.2zM397.9,1008.1l-1.7,.7-4.8,.8-6.4,1.3-6.4,1.6-4.8,1.9-1.7,2.2 0,2.8 1.7-.7 4.8-.8 6.4-1.3 6.4-1.6 4.8-1.9 1.7-2.2zM397.9,1025.1l-1.7,.7-4.8,.8-6.4,1.3-6.4,1.6-4.8,1.9-1.7,2.2 0,2.8 1.7-.7 4.8-.8 6.4-1.3 6.4-1.6 4.8-1.9 1.7-2.2zM397.9,1042.1l-1.7,.7-4.8,.8-6.4,1.3-6.4,1.6-4.8,1.9-1.7,2.2 0,2.8 1.7-.7 4.8-.8 6.4-1.3 6.4-1.6 4.8-1.9 1.7-2.2zM397.9,1059.1l-1.7,.7-4.8,.8-6.4,1.3-6.4,1.6-4.8,1.9-1.7,2.2 0,2.8 1.7-.7 4.8-.8 6.4-1.3 6.4-1.6 4.8-1.9 1.7-2.2z"/>
<path fill="url(#f34)" stroke="#103081" stroke-width=".5" d="M372.1,965.2l1.7,.5 4.8,.8 6.4,1.1 6.4,1.7 4.8,2.1 1.7,2.3 0,3.6-1.7-.5-4.8-.8-6.4-1.1-6.4-1.7-4.8-2.1-1.7-2.3zM372.1,982.2l1.7,.5 4.8,.8 6.4,1.1 6.4,1.7 4.8,2.1 1.7,2.3 0,3.6-1.7-.5-4.8-.8-6.4-1.1-6.4-1.7-4.8-2.1-1.7-2.3zM372.1,999.2l1.7,.5 4.8,.8 6.4,1.1 6.4,1.7 4.8,2.1 1.7,2.3 0,3.6-1.7-.5-4.8-.8-6.4-1.1-6.4-1.7-4.8-2.1-1.7-2.3zM372.1,1016.2l1.7,.5 4.8,.8 6.4,1.1 6.4,1.7 4.8,2.1 1.7,2.3 0,3.6-1.7-.5-4.8-.8-6.4-1.2-6.4-1.6-4.8-2.1-1.7-2.3zM372.1,1033.2l1.7,.5 4.8,.8 6.4,1.2 6.4,1.6 4.8,2.1 1.7,2.3 0,3.6-1.7-.5-4.8-.8-6.4-1.2-6.4-1.6-4.8-2.1-1.7-2.3zM372.1,1050.2l1.7,.5 4.8,.8 6.4,1.2 6.4,1.6 4.8,2.1 1.7,2.3 0,3.6-1.7-.5-4.8-.8-6.4-1.2-6.4-1.6-4.8-2.1-1.7-2.3zM372.1,1067.2l.7,.3 1.9-.4 3-.4 3.8-.2 4.1-.1 4.1,.1 0,7-4.1,.1-4.1-.1-3.8-.2-3-.4-1.9-.7-.7-1.4z"/>
<path d="M373.0,1062.0 C372.2,1063.3 367.2,1067.5 368.0,1070.0 C368.8,1072.5 375.2,1076.7 378.0,1077.0 C380.8,1077.3 383.8,1072.8 385.0,1072.0" fill="none" stroke="#1e82d4" stroke-width="1.5" stroke-linecap="round" stroke-linejoin="round"/>
<path fill="url(#b35)" d="M420.6,970.1l-1.4,.7-3.9,.8-5.3,1.3-5.3,1.6-3.9,1.9-1.4,2.2 0,2.8 1.4-.7 3.9-.8 5.3-1.3 5.3-1.6 3.9-1.9 1.4-2.2zM420.6,987.1l-1.4,.7-3.9,.8-5.3,1.3-5.3,1.6-3.9,1.9-1.4,2.2 0,2.8 1.4-.7 3.9-.8 5.3-1.3 5.3-1.6 3.9-1.9 1.4-2.2zM420.6,1004.1l-1.4,.7-3.9,.8-5.3,1.3-5.3,1.6-3.9,1.9-1.4,2.2 0,2.8 1.4-.7 3.9-.8 5.3-1.3 5.3-1.6 3.9-1.9 1.4-2.2zM420.6,1021.1l-1.4,.7-3.9,.8-5.3,1.3-5.3,1.6-3.9,1.9-1.4,2.2 0,2.8 1.4-.7 3.9-.8 5.3-1.3 5.3-1.6 3.9-1.9 1.4-2.2zM420.6,1038.1l-1.4,.7-3.9,.8-5.3,1.3-5.3,1.6-3.9,1.9-1.4,2.2 0,2.8 1.4-.7 3.9-.8 5.3-1.3 5.3-1.6 3.9-1.9 1.4-2.2zM420.6,1055.1l-1.4,.7-3.9,.8-5.3,1.3-5.3,1.6-3.9,1.9-1.4,2.2 0,2.8 1.4-.7 3.9-.8 5.3-1.3 5.3-1.6 3.9-1.9 1.4-2.2z"/>
<path fill="url(#f35)" stroke="#147c6d" stroke-width=".5" d="M399.4,961.2l1.4,.5 3.9,.8 5.3,1.1 5.3,1.7 3.9,2.1 1.4,2.3 0,3.6-1.4-.5-3.9-.8-5.3-1.1-5.3-1.7-3.9-2.1-1.4-2.3zM399.4,978.2l1.4,.5 3.9,.8 5.3,1.1 5.3,1.7 3.9,2.1 1.4,2.3 0,3.6-1.4-.5-3.9-.8-5.3-1.1-5.3-1.7-3.9-2.1-1.4-2.3zM399.4,995.2l1.4,.5 3.9,.8 5.3,1.1 5.3,1.7 3.9,2.1 1.4,2.3 0,3.6-1.4-.5-3.9-.8-5.3-1.1-5.3-1.7-3.9-2.1-1.4-2.3zM399.4,1012.2l1.4,.5 3.9,.8 5.3,1.1 5.3,1.7 3.9,2.1 1.4,2.3 0,3.6-1.4-.5-3.9-.8-5.3-1.1-5.3-1.7-3.9-2.1-1.4-2.3zM399.4,1029.2l1.4,.5 3.9,.8 5.3,1.2 5.3,1.6 3.9,2.1 1.4,2.3 0,3.6-1.4-.5-3.9-.8-5.3-1.2-5.3-1.6-3.9-2.1-1.4-2.3zM399.4,1046.2l1.4,.5 3.9,.8 5.3,1.2 5.3,1.6 3.9,2.1 1.4,2.3 0,3.6-1.4-.5-3.9-.8-5.3-1.2-5.3-1.6-3.9-2.1-1.4-2.3zM399.4,1063.2l.7,.4 2.3,.3 3.3-.3 4-.2 4,.1 3.5,.4 0,6.2-3.5,.4-4,.1-4-.2-3.3-.3-2.3-1.6-.7-1.7z"/>
<path fill="#1111af" d="M439.9,966.1l-1.5,.5-4,.5-5.4,.7-5.4,1.1-4.1,1.5-1.6,2-.3,2.9 1.5-.6 3.9-.5 5.4-.6 5.5-1.1 4.1-1.6 1.6-2zM438.2,983l-1.5,.6-4,.4-5.4,.7-5.4,1.1-4.1,1.6-1.6,1.9-.3,2.9 1.5-.5 3.9-.5 5.5-.7 5.4-1.1 4.1-1.6 1.6-1.9zM436.5,999.9l-1.5,.6-3.9,.5-5.5,.7-5.4,1-4.1,1.6-1.6,2-.3,2.8 1.5-.5 3.9-.5 5.5-.7 5.4-1.1 4.1-1.5 1.6-2zM434.8,1016.8l-1.5,.6-3.9,.5-5.5,.7-5.4,1-4.1,1.6-1.6,2-.3,2.8 1.5-.5 4-.5 5.4-.7 5.4-1.1 4.1-1.5 1.6-2zM433.1,1033.7l-1.5,.6-3.9,.5-5.4,.7-5.5,1.1-4.1,1.5-1.6,2-.3,2.9 1.5-.6 4-.5 5.4-.7 5.4-1.1 4.1-1.5 1.6-2zM431.4,1050.7l-1.5,.5-3.9,.5-5.4,.7-5.5,1.1-4.1,1.5-1.6,2-.3,2.9 1.5-.6 4-.5 5.4-.7 5.4-1 4.1-1.6 1.6-2zM429.7,1067.6l-1.5,.5-3.9,.5-5.4,.7-5.5,1.1-4.1,1.5-1.6,2-.3,2.9 1.5-.6 4-.5 5.4-.7 5.4-1 4.1-1.6 1.6-2z"/>
<path fill="#1414d0" stroke="#0c0c81" stroke-width=".5" d="M419.6,955.2l1.4,.6 3.8,1.1 5.1,1.7 5.2,2.2 3.6,2.5 1.2,2.4-.3,3.6-1.4-.6-3.8-1.2-5.2-1.7-5.1-2.2-3.7-2.4-1.2-2.5zM417.9,972.1l1.4,.6 3.8,1.2 5.1,1.7 5.2,2.1 3.6,2.5 1.2,2.4-.3,3.6-1.4-.6-3.8-1.2-5.2-1.7-5.1-2.2-3.7-2.4-1.2-2.5zM416.2,989l1.4,.6 3.8,1.2 5.2,1.7 5.1,2.2 3.6,2.4 1.2,2.5-.3,3.5-1.4-.6-3.8-1.2-5.2-1.7-5.1-2.1-3.7-2.5-1.1-2.4zM414.5,1005.9l1.4,.7 3.8,1.1 5.2,1.7 5.1,2.2 3.7,2.4 1.1,2.5-.3,3.6-1.4-.7-3.8-1.1-5.2-1.7-5.1-2.2-3.7-2.5-1.1-2.4zM412.8,1022.8l1.4,.7 3.8,1.1 5.2,1.7 5.1,2.2 3.7,2.4 1.2,2.5-.4,3.6-1.4-.7-3.8-1.1-5.1-1.7-5.2-2.2-3.6-2.5-1.2-2.4zM411.1,1039.7l1.4,.7 3.8,1.1 5.2,1.7 5.1,2.2 3.7,2.5 1.2,2.4-.4,3.6-1.4-.7-3.8-1.1-5.1-1.7-5.2-2.2-3.6-2.4-1.2-2.5zM409.4,1056.6l1.4,.7 3.8,1.1 5.2,1.7 5.1,2.2 3.7,2.5 1.2,2.4-.4,3.6-1.4-.7-3.8-1.1-5.1-1.7-5.2-2.2-3.6-2.4-1.2-2.5zM407.8,1073.6l.6,.4 1.9,.2 3.1-.1 3.6,.2 3.8,.4 3.4,.6-.6,6.6-3.5-.1-3.8-.4-3.6-.5-3-.7-1.8-1.4-.5-1.7z"/>
<path fill="#1ba894" d="M450.8,957.7l-1.6,.6-4.1,.7-5.7,.9-5.7,1.2-4.2,1.7-1.6,2.1-.2,2.8 1.6-.6 4.1-.6 5.7-.9 5.7-1.3 4.2-1.7 1.6-2zM449.8,974.7l-1.6,.6-4.1,.6-5.7,.9-5.7,1.3-4.2,1.7-1.6,2-.2,2.9 1.6-.6 4.1-.6 5.7-.9 5.7-1.3 4.2-1.7 1.6-2zM448.8,991.7l-1.6,.6-4.1,.6-5.7,.9-5.7,1.3-4.2,1.7-1.6,2-.2,2.9 1.6-.6 4.1-.7 5.7-.9 5.6-1.2 4.3-1.7 1.6-2.1zM447.7,1008.6l-1.5,.6-4.1,.7-5.7,.9-5.7,1.2-4.2,1.7-1.6,2.1-.2,2.9 1.6-.7 4.1-.6 5.7-.9 5.6-1.3 4.3-1.7 1.6-2zM446.7,1025.6l-1.5,.6-4.1,.6-5.7,.9-5.7,1.3-4.2,1.7-1.6,2.1-.2,2.8 1.5-.6 4.2-.6 5.7-.9 5.6-1.3 4.2-1.7 1.7-2zM445.7,1042.6l-1.5,.6-4.1,.6-5.7,.9-5.7,1.3-4.2,1.7-1.6,2-.2,2.9 1.5-.6 4.2-.7 5.6-.8 5.7-1.3 4.2-1.7 1.7-2.1zM444.7,1059.5l-1.5,.6-4.2,.7-5.6,.9-5.7,1.2-4.2,1.7-1.6,2.1-.2,2.9 1.5-.6 4.2-.7 5.6-.9 5.7-1.3 4.2-1.6 1.7-2.1zM443.7,1076.5l-1.5,.6-4.2,.7-5.6,.8-5.7,1.3-4.2,1.7-1.6,1.3-.2,2.9 1.5,.1 4.2-.6 5.6-.9 5.7-1.3 4.2-1.7 1.7-2z"/>
<path fill="#20c8b0" stroke="#147c6d" stroke-width=".5" d="M428.9,947.5l1.5,.6 4,1 5.6,1.5 5.5,2 3.9,2.3 1.4,2.5-.2,3.5-1.5-.6-4-1-5.6-1.5-5.5-1.9-3.9-2.4-1.4-2.4zM427.9,964.5l1.5,.6 4,1 5.6,1.5 5.4,2 4,2.3 1.4,2.4-.2,3.6-1.5-.6-4-1-5.6-1.5-5.5-2-3.9-2.3-1.4-2.4zM426.9,981.5l1.5,.6 4,1 5.6,1.5 5.4,2 4,2.3 1.4,2.4-.2,3.6-1.5-.6-4.1-1-5.5-1.5-5.5-2-3.9-2.3-1.4-2.4zM425.9,998.5l1.5,.6 4,1 5.5,1.5 5.5,1.9 4,2.4 1.4,2.4-.2,3.6-1.5-.6-4.1-1-5.5-1.6-5.5-1.9-3.9-2.4-1.4-2.4zM424.9,1015.4l1.5,.6 4,1 5.5,1.5 5.5,2 4,2.3 1.4,2.4-.3,3.6-1.4-.6-4.1-1-5.5-1.5-5.5-2-3.9-2.3-1.4-2.4zM423.9,1032.4l1.5,.6 4,1 5.5,1.5 5.5,2 4,2.3 1.4,2.4-.3,3.6-1.4-.6-4.1-1-5.5-1.5-5.5-2-4-2.3-1.3-2.4zM422.9,1049.4l1.5,.6 4,1 5.5,1.5 5.5,2 4,2.3 1.4,2.4-.3,3.6-1.4-.6-4.1-1-5.5-1.5-5.5-2-4-2.3-1.3-2.4zM421.9,1066.3l1.5,.6 4,1 5.5,1.5 5.5,2 4,2.3 1.3,2.4-.2,3.6-1.4-.6-4.1-1-5.5-1.5-5.5-2-4-2.3-1.3-2.4zM420.9,1082.5l.3-.3 .8-.3 1.2-.3 1.7-.2 2-.1 2.2,0-.4,7-2.2-.2-2-.4-1.6-.4-1.2-.4-.8-.4-.2-.4z"/>
<path fill="#d62319" d="M450.9,1006.9l-.9,.7-2.5,1-3.3,1.3-3.3,1.6-2.5,2-.8,2.2 .1,2.9 .8-.7 2.5-1 3.3-1.3 3.3-1.6 2.5-2 .8-2.2zM451.2,1023.9l-.9,.7-2.4,1-3.4,1.3-3.3,1.6-2.4,2-.9,2.2 .1,2.9 .9-.7 2.4-1 3.4-1.3 3.3-1.7 2.4-1.9 .9-2.2zM451.5,1040.9l-.8,.7-2.5,1-3.3,1.3-3.3,1.6-2.5,2-.8,1.2 0,2.9 .9,.2 2.5-.9 3.3-1.3 3.3-1.7 2.4-1.9 .9-2.2z"/>
<path fill="#ff2a1e" stroke="#9e1a13" stroke-width=".5" d="M437.2,998.3l1,.5 2.4,.7 3.4,1.1 3.4,1.6 2.5,2.1 1,2.3 0,3.6-.9-.5-2.5-.7-3.3-1.2-3.4-1.5-2.5-2.1-1-2.3zM437.6,1015.3l.9,.5 2.5,.7 3.4,1.1 3.3,1.6 2.5,2.1 1,2.3 .1,3.6-.9-.5-2.5-.7-3.4-1.2-3.4-1.5-2.5-2.1-.9-2.3zM437.9,1032.3l.9,.5 2.5,.7 3.4,1.1 3.4,1.6 2.5,2.1 .9,2.3 .1,3.6-.9-.5-2.5-.8-3.4-1.1-3.4-1.5-2.5-2.1-.9-2.3zM438.2,1048.3l.2-.3 .4-.4 .6-.3 .9-.3 1-.2 1.2-.2 .2,6.9-1.2-.1-1.1-.2-.9-.3-.6-.3-.4-.3-.2-.4z"/>
<path fill="url(#b36)" d="M462.8,991.9l-1.5,.7-4.3,1-5.9,1.3-5.9,1.6-4.2,2-1.6,2.2 0,2.9 1.6-.8 4.3-.9 5.9-1.3 5.8-1.6 4.3-2 1.6-2.2zM463,1008.9l-1.6,.7-4.3,1-5.8,1.3-5.9,1.6-4.3,2-1.5,2.2 0,2.9 1.6-.8 4.3-.9 5.8-1.3 5.9-1.6 4.3-2 1.5-2.2zM463.2,1025.9l-1.6,.7-4.3,1-5.8,1.3-5.9,1.6-4.3,2-1.5,2.2 0,2.9 1.6-.8 4.3-.9 5.8-1.3 5.9-1.6 4.3-2 1.5-2.2zM463.4,1042.9l-1.6,.7-4.3,1-5.9,1.3-5.8,1.6-4.3,2-1.6,2.2 .1,2.9 1.5-.8 4.3-.9 5.9-1.3 5.9-1.6 4.2-2 1.6-2.2zM463.5,1059.9l-1.5,.7-4.3,1-5.9,1.3-5.8,1.6-4.3,2-1.6,2.2 .1,2.9 1.5-.8 4.3-.9 5.9-1.3 5.8-1.6 4.3-2 1.6-2.2zM463.7,1076.9l-.7,.5-2.1,.1-3.2-.3-3.9-.1-4.2,.1-3.8,.2 0,5.3 3.9,.2 4.1-.1 3.9-.2 3.3-.3 2-1 .8-1.5z"/>
<path fill="url(#f36)" stroke="#6d8128" stroke-width=".5" d="M439.2,983.3l1.6,.5 4.3,.7 5.9,1.1 5.9,1.6 4.3,2.1 1.6,2.3 .1,3.6-1.6-.5-4.3-.7-5.9-1.2-5.9-1.5-4.3-2.1-1.6-2.3zM439.4,1000.3l1.6,.5 4.3,.7 5.9,1.1 5.9,1.6 4.3,2.1 1.6,2.3 0,3.6-1.5-.5-4.3-.7-5.9-1.2-5.9-1.5-4.4-2.1-1.6-2.3zM439.6,1017.3l1.6,.5 4.3,.7 5.9,1.1 5.9,1.6 4.3,2.1 1.6,2.3 0,3.6-1.6-.5-4.3-.7-5.9-1.2-5.9-1.5-4.3-2.1-1.6-2.3zM439.8,1034.3l1.5,.5 4.4,.7 5.8,1.1 5.9,1.6 4.4,2.1 1.6,2.3 0,3.6-1.6-.5-4.3-.7-5.9-1.2-5.9-1.5-4.3-2.1-1.6-2.3zM439.9,1051.3l1.6,.5 4.3,.7 5.9,1.1 5.9,1.6 4.3,2.1 1.6,2.3 .1,3.6-1.6-.5-4.3-.7-5.9-1.2-5.9-1.6-4.3-2-1.6-2.3zM440.1,1068.3l1.6,.5 4.3,.7 5.9,1.1 5.9,1.6 4.3,2.1 1.6,2.3 .1,3.6-1.6-.5-4.3-.7-5.9-1.2-5.9-1.6-4.3-2-1.6-2.3z"/>
<path fill="url(#b37)" d="M482.3,969.1l-1.6,.7-4.5,.8-6.2,1.3-6.2,1.6-4.5,1.9-1.6,2.2 0,2.8 1.6-.7 4.5-.8 6.2-1.3 6.2-1.6 4.5-1.9 1.6-2.2zM482.3,986.1l-1.6,.7-4.5,.8-6.2,1.3-6.2,1.6-4.5,1.9-1.6,2.2 0,2.8 1.6-.7 4.5-.8 6.2-1.3 6.2-1.6 4.5-1.9 1.6-2.2zM482.3,1003.1l-1.6,.7-4.5,.8-6.2,1.3-6.2,1.6-4.5,1.9-1.6,2.2 0,2.8 1.6-.7 4.5-.8 6.2-1.3 6.2-1.6 4.5-1.9 1.6-2.2zM482.3,1020.1l-1.6,.7-4.5,.8-6.2,1.3-6.2,1.6-4.5,1.9-1.6,2.2 0,2.8 1.6-.7 4.5-.8 6.2-1.3 6.2-1.6 4.5-1.9 1.6-2.2zM482.3,1037.1l-1.6,.7-4.5,.8-6.2,1.3-6.2,1.6-4.5,1.9-1.6,2.2 0,2.8 1.6-.7 4.5-.8 6.2-1.3 6.2-1.6 4.5-1.9 1.6-2.2zM482.3,1054.1l-1.6,.7-4.5,.8-6.2,1.3-6.2,1.6-4.5,1.9-1.6,2.2 0,2.8 1.6-.7 4.5-.8 6.2-1.3 6.2-1.6 4.5-1.9 1.6-2.2zM482.3,1071.1l-1.6,.7-4.5,.8-6.2,1.3-6.2,1.6-4.5,1.9-1.6,1.2 0,2.8 1.6,.3 4.5-.8 6.2-1.3 6.2-1.6 4.5-1.9 1.6-2.2z"/>
<path fill="url(#f37)" stroke="#7c6d1e" stroke-width=".5" d="M457.7,960.2l1.6,.5 4.5,.8 6.2,1.1 6.2,1.7 4.5,2.1 1.6,2.3 0,3.6-1.6-.5-4.5-.8-6.2-1.1-6.2-1.7-4.5-2.1-1.6-2.3zM457.7,977.2l1.6,.5 4.5,.8 6.2,1.1 6.2,1.7 4.5,2.1 1.6,2.3 0,3.6-1.6-.5-4.5-.8-6.2-1.1-6.2-1.7-4.5-2.1-1.6-2.3zM457.7,994.2l1.6,.5 4.5,.8 6.2,1.1 6.2,1.7 4.5,2.1 1.6,2.3 0,3.6-1.6-.5-4.5-.8-6.2-1.1-6.2-1.7-4.5-2.1-1.6-2.3zM457.7,1011.2l1.6,.5 4.5,.8 6.2,1.1 6.2,1.7 4.5,2.1 1.6,2.3 0,3.6-1.6-.5-4.5-.8-6.2-1.1-6.2-1.7-4.5-2.1-1.6-2.3zM457.7,1028.2l1.6,.5 4.5,.8 6.2,1.2 6.2,1.6 4.5,2.1 1.6,2.3 0,3.6-1.6-.5-4.5-.8-6.2-1.2-6.2-1.6-4.5-2.1-1.6-2.3zM457.7,1045.2l1.6,.5 4.5,.8 6.2,1.2 6.2,1.6 4.5,2.1 1.6,2.3 0,3.6-1.6-.5-4.5-.8-6.2-1.2-6.2-1.6-4.5-2.1-1.6-2.3zM457.7,1062.2l1.6,.5 4.5,.8 6.2,1.2 6.2,1.6 4.5,2.1 1.6,2.3 0,3.6-1.6-.5-4.5-.8-6.2-1.2-6.2-1.6-4.5-2.1-1.6-2.3zM457.7,1078.2l.2-.4 .8-.3 1.1-.3 1.6-.3 2-.2 2.1-.2 0,7-2.1-.2-2-.2-1.6-.3-1.1-.3-.8-.3-.2-.4z"/>
<path d="M470.0,962.0 C470.5,960.8 471.7,955.0 473.0,955.0 C474.3,955.0 477.2,960.8 478.0,962.0" fill="none" stroke="#c8c028" stroke-width="1.6" stroke-linecap="round" stroke-linejoin="round"/>
<path d="M405.0,1075.0 C405.8,1078.3 410.8,1091.2 410.0,1095.0 C409.2,1098.8 401.7,1097.5 400.0,1098.0" fill="none" stroke="#1a4ed0" stroke-width="1.5" stroke-linecap="round" stroke-linejoin="round"/>
<path d="M415.0,1097.0 C395.6,1104.5 379.6,1124.4 389.0,1128.0 C394.2,1136.6 411.0,1117.4 415.0,1097.0Z" fill="#20c0a0" stroke="#189078" stroke-width="0.8"/>
<path d="M411.1,1101.6 C400.6,1106.4 386.1,1124.1 391.6,1124.9 C393.3,1130.2 408.3,1112.8 411.1,1101.6Z" fill="#f2faf6"/>
<path d="M647.0,973.0 C649.2,970.0 658.3,960.5 660.0,955.0 C661.7,949.5 655.8,943.8 657.0,940.0 C658.2,936.2 663.7,934.2 667.0,932.0 C670.3,929.8 673.2,928.7 677.0,927.0 C680.8,925.3 685.0,923.2 690.0,922.0 C695.0,920.8 703.2,919.8 707.0,920.0 C710.8,920.2 712.5,920.8 713.0,923.0 C713.5,925.2 712.5,929.7 710.0,933.0 C707.5,936.3 702.5,941.5 698.0,943.0 C693.5,944.5 686.5,943.7 683.0,942.0 C679.5,940.3 678.0,934.5 677.0,933.0" fill="none" stroke="#70d8a0" stroke-width="1.7" stroke-linecap="round" stroke-linejoin="round"/>
<ellipse cx="700" cy="968" rx="9" ry="8" fill="none" stroke="#20c8b0" stroke-width="1.8"/>
<path fill="#d6511b" d="M666.9,1006.9l-1,.8-2.9,.9-3.9,1.3-3.8,1.6-2.9,2-1,2.2 0,2.9 1.1-.8 2.8-.9 3.9-1.3 3.9-1.6 2.9-2 1-2.2zM667.2,1023.9l-1,.8-2.9,.9-3.9,1.3-3.9,1.6-2.8,2-1.1,2.2 .1,2.9 1-.8 2.9-.9 3.9-1.3 3.9-1.6 2.8-2 1-2.2zM667.5,1040.9l-1.1,.8-2.8,.9-3.9,1.3-3.9,1.6-2.9,2-1,2.2 0,2.9 1.1-.8 2.8-.9 3.9-1.3 3.9-1.6 2.9-2 1-2.2zM667.7,1057.9l-1,.7-2.9,1-3.9,1.3-3.9,1.6-2.8,2-1.1,1.2 .1,2.9 1,.2 2.9-.9 3.9-1.3 3.9-1.6 2.8-2 1-2.2z"/>
<path fill="#ff6020" stroke="#9e3c14" stroke-width=".5" d="M651.1,998.3l1.1,.5 2.9,.7 3.9,1.1 4,1.6 2.9,2.1 1,2.3 .1,3.6-1.1-.5-2.8-.7-4-1.2-3.9-1.6-2.9-2-1.1-2.3zM651.4,1015.3l1,.5 2.9,.7 4,1.1 3.9,1.6 2.9,2.1 1.1,2.3 0,3.6-1-.5-2.9-.7-3.9-1.2-4-1.6-2.9-2-1.1-2.3zM651.6,1032.3l1.1,.5 2.9,.7 3.9,1.1 4,1.6 2.9,2.1 1,2.3 .1,3.6-1.1-.5-2.8-.7-4-1.2-3.9-1.6-2.9-2-1.1-2.3zM651.9,1049.3l1.1,.5 2.8,.7 4,1.1 3.9,1.6 2.9,2.1 1.1,2.3 .1,3.6-1.1-.5-2.9-.7-3.9-1.2-4-1.6-2.9-2-1.1-2.3zM652.1,1065.3l.2-.3 .4-.4 .8-.3 1-.3 1.2-.3 1.4-.1 .1,6.9-1.4-.1-1.2-.2-1-.3-.8-.3-.4-.3-.2-.4z"/>
<path fill="url(#b38)" d="M648.6,983.1l-1.7,.6-4.5,.5-6.3,.6-6.3,1.1-4.6,1.5-1.9,2-.2,2.8 1.7-.5 4.5-.5 6.3-.6 6.3-1.1 4.6-1.5 1.9-2zM647.1,1000.1l-1.7,.5-4.6,.5-6.2,.7-6.3,1-4.7,1.5-1.8,2-.3,2.9 1.7-.6 4.6-.4 6.2-.7 6.3-1 4.7-1.6 1.8-2zM645.6,1017l-1.8,.6-4.5,.4-6.3,.7-6.3,1-4.6,1.6-1.9,1.9-.2,2.9 1.7-.5 4.6-.5 6.2-.7 6.3-1 4.7-1.5 1.8-2zM644,1033.9l-1.7,.6-4.6,.5-6.2,.6-6.3,1.1-4.7,1.5-1.8,2-.3,2.8 1.8-.5 4.5-.5 6.3-.6 6.2-1.1 4.7-1.5 1.9-2zM642.5,1050.9l-1.7,.5-4.6,.5-6.3,.7-6.2,1-4.7,1.5-1.8,2-.3,2.9 1.7-.6 4.6-.5 6.2-.6 6.3-1.1 4.7-1.5 1.8-2zM640.9,1067.8l-1.7,.5-4.5,.5-6.3,.7-6.3,1-4.6,1.6-1.9,1.9-.2,2.9 1.7-.5 4.5-.5 6.3-.7 6.3-1 4.6-1.6 1.9-1.9zM639.4,1084.7l-.4-.4-1.1-.5-1.9-.4-2.5-.5-2.9-.4-3.1-.3-.6,5.7 3.2,.2 2.9,.1 2.5,0 2-.1 1.2-.2 .4-.4z"/>
<path fill="url(#f38)" stroke="#135183" stroke-width=".5" d="M624.9,972.1l1.6,.7 4.4,1.1 6,1.7 6,2.3 4.3,2.4 1.5,2.5-.4,3.6-1.6-.7-4.4-1.2-6-1.7-6-2.2-4.3-2.5-1.4-2.4zM623.4,989l1.6,.7 4.4,1.1 6,1.8 6,2.2 4.3,2.5 1.4,2.4-.3,3.6-1.6-.7-4.4-1.1-6-1.8-6-2.2-4.3-2.4-1.5-2.5zM621.8,1006l1.6,.6 4.4,1.2 6.1,1.7 5.9,2.2 4.4,2.5 1.4,2.4-.3,3.6-1.6-.6-4.5-1.2-6-1.7-6-2.2-4.3-2.5-1.4-2.5zM620.3,1022.9l1.6,.6 4.4,1.2 6,1.7 6,2.2 4.3,2.5 1.4,2.5-.3,3.6-1.6-.7-4.4-1.2-6-1.7-6-2.2-4.3-2.5-1.4-2.4zM618.7,1039.8l1.6,.7 4.5,1.1 6,1.8 6,2.2 4.3,2.5 1.4,2.4-.3,3.6-1.6-.7-4.4-1.1-6.1-1.8-6-2.2-4.3-2.4-1.4-2.5zM617.2,1056.7l1.6,.7 4.4,1.2 6,1.7 6,2.2 4.3,2.5 1.5,2.4-.4,3.6-1.6-.6-4.4-1.2-6-1.7-6-2.2-4.3-2.5-1.4-2.5zM615.7,1073.7l1.6,.6 4.4,1.2 6,1.7 6,2.2 4.3,2.5 1.4,2.4-.3,3.6-1.6-.6-4.4-1.2-6-1.7-6-2.2-4.3-2.5-1.5-2.4z"/>
<path d="M627.0,1085.0 C625.5,1087.2 619.5,1095.8 618.0,1098.0" fill="none" stroke="#1e82d4" stroke-width="2.5" stroke-linecap="round" stroke-linejoin="round"/>
<path fill="url(#b39)" d="M662.6,993l-1.6,.5-4.1,.6-5.7,.7-5.7,1.2-4.3,1.6-1.7,2-.2,2.8 1.6-.5 4.1-.6 5.7-.7 5.7-1.2 4.3-1.6 1.6-2zM661.1,1009.9l-1.5,.6-4.2,.5-5.6,.8-5.8,1.1-4.2,1.6-1.7,2-.2,2.9 1.5-.6 4.2-.5 5.7-.8 5.7-1.1 4.2-1.6 1.7-2zM659.7,1026.9l-1.5,.5-4.2,.6-5.7,.7-5.7,1.2-4.2,1.5-1.7,2-.2,2.9 1.5-.5 4.2-.6 5.6-.7 5.8-1.2 4.2-1.6 1.7-2zM658.3,1043.8l-1.5,.6-4.2,.5-5.7,.8-5.7,1.1-4.3,1.6-1.6,2-.3,2.9 1.6-.6 4.1-.6 5.7-.7 5.7-1.1 4.3-1.6 1.7-2zM656.9,1060.7l-1.6,.6-4.1,.5-5.7,.8-5.7,1.1-4.3,1.6-1.6,2-.3,2.9 1.6-.6 4.1-.5 5.7-.8 5.7-1.1 4.3-1.6 1.6-2zM655.5,1077.7l-1.6,.5-4.2,.6-5.6,.7-5.7,1.2-4.3,1.6-1.7,2-.2,2.8 1.5-.5 4.2-.6 5.7-.7 5.7-1.2 4.2-1.6 1.7-2zM654,1094.6l-1.5,.6-4.2,.5-5.7,.8-5.7,1.1-4.2,1.6-1.7,2-.2,2.9 1.5-.6 4.2-.5 5.7-.8 5.7-1.1 4.2-1.6 1.7-2zM652.6,1111.6l-1.5,.5-4.2,.6-5.7,.7-5.7,1.2-4.2,1.5-1.7,2.1-.3,2.8 1.6-.5 4.2-.6 5.6-.7 5.8-1.2 4.2-1.6 1.7-2zM651.3,1127.5l-.2-.3-.7-.3-1-.4-1.4-.3-1.8-.3-1.9-.3-.5,5.5 2,0 1.8,0 1.4-.1 1.1-.1 .7-.3 .2-.2z"/>
<path fill="url(#f39)" stroke="#1a865f" stroke-width=".5" d="M641,982.3l1.4,.6 4.1,1.1 5.4,1.6 5.5,2.2 3.9,2.4 1.3,2.4-.3,3.6-1.5-.6-4-1.1-5.5-1.7-5.4-2.1-3.9-2.4-1.3-2.4zM639.6,999.2l1.4,.7 4,1 5.5,1.7 5.5,2.1 3.9,2.4 1.3,2.5-.3,3.5-1.5-.6-4-1.1-5.5-1.6-5.4-2.2-3.9-2.4-1.3-2.4zM638.1,1016.2l1.5,.6 4,1.1 5.5,1.6 5.4,2.1 4,2.5 1.3,2.4-.3,3.6-1.5-.7-4-1.1-5.5-1.6-5.4-2.1-4-2.4-1.3-2.5zM636.7,1033.1l1.5,.6 4,1.1 5.5,1.7 5.4,2.1 3.9,2.4 1.3,2.4-.3,3.6-1.4-.6-4-1.1-5.5-1.7-5.5-2.1-3.9-2.4-1.3-2.4zM635.3,1050l1.5,.7 4,1.1 5.5,1.6 5.4,2.1 3.9,2.4 1.3,2.5-.3,3.6-1.4-.7-4.1-1.1-5.4-1.6-5.5-2.1-3.9-2.4-1.3-2.5zM633.9,1067l1.4,.6 4.1,1.1 5.4,1.7 5.5,2.1 3.9,2.4 1.3,2.4-.3,3.6-1.5-.6-4-1.1-5.5-1.7-5.4-2.1-3.9-2.4-1.3-2.4zM632.5,1083.9l1.4,.7 4,1.1 5.5,1.6 5.5,2.1 3.9,2.4 1.3,2.5-.3,3.5-1.5-.6-4-1.1-5.5-1.6-5.4-2.2-3.9-2.4-1.3-2.4zM631,1100.9l1.5,.6 4,1.1 5.5,1.6 5.4,2.2 3.9,2.4 1.3,2.4-.3,3.6-1.4-.7-4-1.1-5.5-1.6-5.4-2.1-4-2.4-1.3-2.5zM629.6,1117.8l1.5,.6 4,1.1 5.5,1.7 5.4,2.1 3.9,2.4 1.4,1.4-.3,3.6-1.5,.4-4-1.1-5.5-1.7-5.5-2.1-3.9-2.4-1.3-2.4z"/>
<path fill="#d62319" d="M700.7,1017.1l-.9,.7-2.4,.8-3.4,1.3-3.4,1.6-2.4,1.9-.9,2.2 0,2.8 .9-.7 2.4-.8 3.4-1.3 3.4-1.6 2.4-1.9 .9-2.2zM700.7,1034.1l-.9,.7-2.4,.8-3.4,1.3-3.4,1.6-2.4,1.9-.9,2.2 0,2.8 .9-.7 2.4-.8 3.4-1.3 3.4-1.6 2.4-1.9 .9-2.2zM700.7,1051.1l-.9,.7-2.4,.8-3.4,1.3-3.4,1.6-2.4,1.9-.9,2.2 0,2.8 .9-.7 2.4-.8 3.4-1.3 3.4-1.6 2.4-1.9 .9-2.2zM700.7,1068.1l-.9,.7-2.4,.8-3.4,1.3-3.4,1.4-2.4,.5-.9,.8 0,2.8 .9,.8 2.4,.5 3.4-1.1 3.4-1.6 2.4-1.9 .9-2.2z"/>
<path fill="#ff2a1e" stroke="#9e1a13" stroke-width=".5" d="M687.3,1008.2l.9,.5 2.4,.8 3.4,1.1 3.4,1.7 2.4,2.1 .9,2.3 0,3.6-.9-.5-2.4-.8-3.4-1.1-3.4-1.7-2.4-2.1-.9-2.3zM687.3,1025.2l.9,.5 2.4,.8 3.4,1.2 3.4,1.6 2.4,2.1 .9,2.3 0,3.6-.9-.5-2.4-.8-3.4-1.2-3.4-1.6-2.4-2.1-.9-2.3zM687.3,1042.2l.9,.5 2.4,.8 3.4,1.2 3.4,1.6 2.4,2.1 .9,2.3 0,3.6-.9-.5-2.4-.8-3.4-1.2-3.4-1.6-2.4-2.1-.9-2.3zM687.3,1059.2l.9,.5 2.4,.8 3.4,1.2 3.4,1.6 2.4,2.1 .9,2.3 0,3.6-.9-.5-2.4-.8-3.4-1.2-3.4-1.6-2.4-2.1-.9-2.3zM687.3,1073.2l0-.1 .1-.2 .1-.1 .1-.1 .2-.2 .2-.1 0,5.2-.2-.1-.2-.2-.1-.1-.1-.1-.1-.2 0-.1z"/>
<path fill="#5eb551" d="M697.1,1006.8l-1.2,.8-3.2,.9-4.5,1.4-4.4,1.7-3.2,2-1.2,2.2 .1,2.9 1.2-.8 3.2-.9 4.5-1.4 4.4-1.7 3.2-2 1.2-2.2zM697.5,1023.8l-1.1,.8-3.3,.9-4.5,1.4-4.4,1.7-3.2,2-1.2,2.2 .1,2.8 1.2-.7 3.2-.9 4.5-1.4 4.4-1.7 3.3-2 1.1-2.2zM697.9,1040.8l-1.1,.8-3.3,.9-4.4,1.4-4.5,1.7-3.2,2-1.2,2.2 .1,2.8 1.2-.7 3.2-1 4.5-1.3 4.4-1.7 3.3-2 1.1-2.2zM698.4,1057.8l-1.2,.8-3.3,.9-4.4,1.4-4.5,1.7-3.2,2-1.2,2.2 .1,2.8 1.2-.7 3.3-1 4.4-1.3 4.4-1.7 3.3-2 1.1-2.2zM698.8,1074.8l-1.2,.7-3.3,1-4.4,1.3-4.5,1.8-3.2,1.4-1.2,.8 .1,2.9 1.2,.6 3.3-.4 4.4-1.3 4.5-1.7 3.2-2 1.1-2.2z"/>
<path fill="#70d860" stroke="#45863c" stroke-width=".5" d="M679,998.4l1.2,.5 3.3,.7 4.5,1 4.5,1.6 3.4,2 1.2,2.3 .1,3.6-1.2-.5-3.3-.7-4.5-1.1-4.5-1.5-3.4-2-1.2-2.3zM679.4,1015.4l1.2,.5 3.3,.7 4.5,1 4.5,1.6 3.4,2 1.2,2.3 .1,3.6-1.2-.5-3.3-.7-4.5-1.1-4.5-1.5-3.3-2-1.3-2.3zM679.8,1032.4l1.2,.5 3.3,.7 4.5,1 4.6,1.6 3.3,2 1.2,2.3 .1,3.6-1.2-.5-3.3-.7-4.5-1.1-4.5-1.5-3.3-2-1.3-2.3zM680.2,1049.4l1.2,.5 3.3,.7 4.5,1 4.6,1.6 3.3,2 1.2,2.3 .1,3.6-1.2-.5-3.3-.7-4.5-1.1-4.5-1.5-3.3-2-1.3-2.3zM680.6,1066.4l1.2,.5 3.3,.7 4.6,1 4.5,1.6 3.3,2 1.3,2.3 0,3.6-1.2-.5-3.3-.7-4.5-1.1-4.5-1.5-3.3-2-1.3-2.3zM681,1081.4l.1-.2 .2-.3 .5-.2 .5-.3 .8-.2 .8-.2 .2,6.3-.9-.2-.7-.2-.6-.2-.5-.2-.2-.2-.1-.3z"/>
<path fill="#1111af" d="M698.7,973.7l-1.4,.4-3.8,.3-5.2,.3-5.2,.7-4,1.3-1.7,1.9-.5,2.8 1.4-.4 3.8-.3 5.2-.3 5.3-.7 3.9-1.3 1.7-1.9zM695.8,990.4l-1.5,.5-3.8,.2-5.1,.4-5.3,.7-3.9,1.3-1.7,1.8-.5,2.9 1.4-.5 3.8-.2 5.2-.4 5.2-.7 4-1.3 1.7-1.8zM692.9,1007.2l-1.5,.4-3.8,.3-5.2,.3-5.2,.7-4,1.3-1.7,1.9-.5,2.8 1.5-.4 3.8-.3 5.2-.3 5.2-.7 4-1.3 1.7-1.9zM689.9,1023.9l-1.4,.5-3.8,.2-5.2,.4-5.2,.7-4,1.3-1.7,1.8-.5,2.9 1.5-.5 3.7-.2 5.2-.4 5.3-.7 3.9-1.3 1.7-1.8zM687,1040.7l-1.4,.4-3.8,.3-5.2,.3-5.3,.7-3.9,1.3-1.7,1.9-.5,2.8 1.4-.4 3.8-.3 5.2-.3 5.2-.7 4-1.3 1.7-1.9zM684.1,1057.4l-1.5,.5-3.8,.2-5.1,.4-5.3,.7-3.9,1.2-1.7,1.9-.5,2.9 1.4-.5 3.8-.2 5.2-.4 5.2-.7 4-1.3 1.7-1.8zM681.1,1074.2l-1.4,.4-3.8,.3-5.2,.3-5.2,.7-4,1.3-1.7,1.9-.5,2.8 1.5-.4 3.8-.3 5.1-.3 5.3-.7 4-1.3 1.7-1.9zM678.2,1090.9l-1.4,.5-3.8,.2-5.2,.3-5.2,.8-4,1.2-1.7,1.9-.5,2.9 1.5-.5 3.7-.2 5.2-.4 5.3-.7 3.9-1.3 1.7-1.9zM675.3,1107.7l-.5,.1-1.2-.6-2.1-.7-2.5-.6-3-.6-2.9-.5-1,5.6 3,.5 2.9,.5 2.7,.2 2.1,.1 1.4-.2 .6-1z"/>
<path fill="#1414d0" stroke="#0c0c81" stroke-width=".5" d="M680.4,961.5l1.2,.7 3.5,1.4 4.8,2 4.7,2.5 3.2,2.7 1,2.5-.6,3.6-1.3-.8-3.5-1.3-4.8-2.1-4.6-2.5-3.3-2.6-.9-2.6zM677.5,978.2l1.2,.8 3.5,1.4 4.8,2 4.6,2.5 3.3,2.7 .9,2.5-.6,3.5-1.2-.7-3.5-1.4-4.8-2-4.7-2.5-3.2-2.7-1-2.5zM674.5,995l1.3,.7 3.5,1.4 4.7,2 4.7,2.5 3.3,2.7 .9,2.5-.6,3.6-1.2-.8-3.5-1.3-4.8-2.1-4.7-2.5-3.3-2.7-.9-2.5zM671.6,1011.7l1.2,.8 3.5,1.4 4.8,2 4.7,2.5 3.3,2.7 .9,2.5-.6,3.5-1.3-.7-3.5-1.4-4.7-2-4.7-2.5-3.3-2.7-.9-2.5zM668.7,1028.5l1.2,.7 3.5,1.4 4.8,2 4.7,2.5 3.2,2.7 1,2.5-.7,3.6-1.2-.8-3.5-1.4-4.8-2-4.6-2.5-3.3-2.7-.9-2.5zM665.7,1045.2l1.3,.8 3.5,1.3 4.7,2.1 4.7,2.5 3.3,2.7 .9,2.5-.6,3.5-1.2-.7-3.5-1.4-4.8-2-4.7-2.5-3.2-2.7-1-2.5zM662.8,1062l1.3,.7 3.5,1.4 4.7,2 4.7,2.5 3.3,2.7 .9,2.5-.6,3.6-1.3-.8-3.5-1.4-4.7-2-4.7-2.5-3.3-2.7-.9-2.5zM659.9,1078.7l1.2,.8 3.5,1.3 4.8,2.1 4.7,2.5 3.3,2.6 .9,2.6-.6,3.5-1.3-.7-3.5-1.4-4.7-2-4.7-2.5-3.3-2.7-.9-2.5zM657,1095.5l1.2,.7 3.5,1.4 4.8,2 4.6,2.5 3.3,2.7 1,2.5-.7,3.6-1.2-.8-3.5-1.4-4.8-2-4.7-2.5-3.2-2.7-1-2.5z"/>
<path fill="#1ba894" d="M696.1,1074.3l-1.6,.6-4.1,.9-5.6,1.1-5.6,1.5-4.2,1.8-1.5,2.1-.1,2.9 1.5-.7 4.2-.8 5.6-1.1 5.6-1.5 4.2-1.8 1.5-2.1zM695.7,1091.3l-1.5,.6-4.1,.9-5.6,1.1-5.7,1.5-4.1,1.8-1.5,2.1-.1,2.9 1.5-.7 4.1-.8 5.6-1.1 5.7-1.5 4.1-1.8 1.6-2.1zM695.4,1108.3l-1.5,.6-4.2,.8-5.6,1.2-5.6,1.5-4.1,1.8-1.6,1.1 0,2.9 1.5,.3 4.1-.8 5.6-1.1 5.6-1.5 4.2-1.8 1.5-2.1z"/>
<path fill="#20c8b0" stroke="#147c6d" stroke-width=".5" d="M673.8,1065l1.5,.5 4.1,.9 5.6,1.2 5.6,1.8 4,2.2 1.5,2.3-.1,3.6-1.5-.5-4.1-.9-5.6-1.3-5.5-1.7-4.1-2.2-1.4-2.3zM673.5,1082l1.5,.5 4.1,.9 5.5,1.2 5.6,1.8 4.1,2.2 1.4,2.3 0,3.6-1.5-.5-4.1-.9-5.6-1.3-5.6-1.7-4-2.2-1.5-2.3zM673.2,1099l1.4,.5 4.1,.9 5.6,1.2 5.6,1.8 4,2.2 1.5,2.3-.1,3.6-1.5-.5-4.1-.9-5.5-1.3-5.6-1.7-4.1-2.2-1.4-2.3zM672.8,1115l.3-.4 .6-.3 1.1-.3 1.5-.3 1.8-.1 2-.2-.2,7-2-.2-1.7-.3-1.5-.3-1.1-.3-.6-.4-.2-.3z"/>
<path fill="url(#b40)" d="M730.1,974.4l-1.7,.7-4.5,.7-6.2,1.1-6.2,1.4-4.6,1.8-1.7,2.1-.1,2.9 1.7-.7 4.5-.7 6.2-1.1 6.2-1.4 4.6-1.8 1.7-2.1zM729.6,991.4l-1.7,.7-4.5,.7-6.2,1.1-6.2,1.4-4.6,1.8-1.7,2.1-.1,2.8 1.7-.6 4.5-.8 6.2-1 6.2-1.4 4.6-1.8 1.7-2.1zM729.1,1008.4l-1.7,.7-4.5,.7-6.2,1-6.2,1.5-4.6,1.8-1.7,2.1-.1,2.8 1.7-.6 4.5-.8 6.2-1 6.2-1.4 4.6-1.8 1.7-2.1zM728.5,1025.4l-1.6,.7-4.6,.7-6.2,1-6.2,1.5-4.5,1.8-1.8,2.1 0,2.8 1.6-.6 4.6-.8 6.2-1 6.2-1.4 4.5-1.8 1.7-2.1zM728,1042.4l-1.7,.6-4.5,.8-6.2,1-6.2,1.5-4.6,1.8-1.7,2-.1,2.9 1.7-.6 4.5-.8 6.2-1 6.2-1.4 4.6-1.8 1.7-2.1zM727.5,1059.4l-1.7,.6-4.5,.8-6.2,1-6.2,.3-4.5,.4-1.7,.7-.1,2.9 1.7,.7 4.5,.7 6.1,.1 6.2-1.4 4.6-1.8 1.7-2.1z"/>
<path fill="url(#f40)" stroke="#7c7719" stroke-width=".5" d="M705.7,964.8l1.7,.6 4.5,.9 6.1,1.3 6.1,1.9 4.4,2.2 1.6,2.4-.1,3.6-1.6-.6-4.5-.9-6.1-1.4-6.1-1.8-4.5-2.2-1.6-2.4zM705.2,981.8l1.7,.6 4.4,.9 6.2,1.3 6.1,1.9 4.4,2.2 1.6,2.4-.1,3.6-1.7-.6-4.4-.9-6.2-1.4-6.1-1.8-4.4-2.2-1.6-2.4zM704.7,998.8l1.6,.6 4.5,.9 6.1,1.3 6.1,1.9 4.5,2.2 1.6,2.4-.1,3.6-1.7-.6-4.5-.9-6.1-1.4-6.1-1.8-4.4-2.2-1.6-2.4zM704.2,1015.8l1.6,.6 4.5,.9 6.1,1.3 6.1,1.9 4.5,2.2 1.5,2.3-.1,3.6-1.6-.5-4.5-.9-6.1-1.4-6.1-1.8-4.5-2.2-1.5-2.4zM703.7,1032.8l1.6,.6 4.5,.9 6.1,1.3 6.1,1.9 4.4,2.2 1.6,2.3-.1,3.6-1.6-.5-4.5-.9-6.1-1.4-6.1-1.8-4.5-2.2-1.5-2.4zM703.1,1049.8l1.7,.6 4.5,.8 6.1,1.4 6.1,1.9 4.4,2.2 1.6,2.3-.1,3.6-1.6-.5-4.5-.9-6.1-1.4-6.1-1.8-4.5-2.3-1.6-2.3z"/>
<path fill="#ca741b" d="M743.4,1049.1l-1.8,.7-4.9,.8-6.7,1.3-6.7,1.6-4.9,1.9-1.8,2.2 0,2.8 1.8-.7 4.9-.8 6.7-1.3 6.7-1.6 4.9-1.9 1.8-2.2zM743.4,1066.1l-1.8,.7-4.9,.8-6.7,1.3-6.7,1.6-4.9,1.9-1.8,2.2 0,2.8 1.8-.7 4.9-.8 6.7-1.3 6.7-1.6 4.9-1.9 1.8-2.2zM743.4,1083.1l-.5,0-1.7-.3-2.6-.3-3.4-.3-3.8-.1-3.9,0 0,5.8 3.9,0 3.8-.1 3.4-.3 2.6-.3 1.7-.3 .5-1z"/>
<path fill="#f08a20" stroke="#955614" stroke-width=".5" d="M716.6,1040.2l1.8,.5 4.9,.8 6.7,1.2 6.7,1.6 4.9,2.1 1.8,2.3 0,3.6-1.8-.5-4.9-.8-6.7-1.2-6.7-1.6-4.9-2.1-1.8-2.3zM716.6,1057.2l1.8,.5 4.9,.8 6.7,1.2 6.7,1.6 4.9,2.1 1.8,2.3 0,3.6-1.8-.5-4.9-.8-6.7-1.2-6.7-1.6-4.9-2.1-1.8-2.3zM716.6,1074.2l1.8,.5 4.9,.8 6.7,1.2 6.7,1.6 4.9,2.1 1.8,2.3 0,3.6-1.8-.5-4.9-.8-6.7-1.2-6.7-1.6-4.9-2.1-1.8-2.3z"/>
<path fill="#86af36" d="M727.5,1073.7l-1.6,.8-4.5,1-6.1,1.4-6.2,1.7-4.4,2.1-1.6,2.2 .1,2.9 1.6-.8 4.5-1 6.1-1.4 6.1-1.7 4.5-2.1 1.6-2.2zM727.9,1090.7l-1.6,.8-4.5,1-6.1,1.4-6.1,1.7-4.5,2.1-1.6,2.2 .1,2.9 1.6-.8 4.5-1 6.2-1.4 6.1-1.8 4.4-2 1.6-2.2z"/>
<path fill="#a0d040" stroke="#638128" stroke-width=".5" d="M702.6,1065.5l1.7,.5 4.5,.6 6.2,1 6.2,1.5 4.6,2 1.7,2.3 .1,3.6-1.7-.5-4.5-.6-6.2-1.1-6.2-1.4-4.6-2-1.7-2.3zM703.1,1082.5l1.6,.5 4.6,.6 6.2,1 6.2,1.5 4.5,2 1.7,2.3 .1,3.6-1.6-.5-4.6-.6-6.1-1.1-6.2-1.5-4.6-1.9-1.7-2.3zM703.5,1099.5l1.6,.5 4.3,.6 6,.8 6,0 4.7,.5 2.1,.8 .1,3.9-2,.9-4.7,.8-6,.3-6-1.4-4.4-1.9-1.6-2.2z"/>
<path d="M635.0,1105.0 C636.7,1108.3 640.8,1121.2 645.0,1125.0 C649.2,1128.8 657.5,1127.5 660.0,1128.0" fill="none" stroke="#20c8b0" stroke-width="1.6" stroke-linecap="round" stroke-linejoin="round"/>
<path d="M870.0,1000.0 C870.7,998.3 871.5,992.0 874.0,990.0 C876.5,988.0 881.5,988.0 885.0,988.0 C888.5,988.0 893.3,989.7 895.0,990.0" fill="none" stroke="#ff6020" stroke-width="1.8" stroke-linecap="round" stroke-linejoin="round"/>
<path d="M948.0,973.0 C949.5,971.7 954.2,968.3 957.0,965.0 C959.8,961.7 962.3,956.7 965.0,953.0 C967.7,949.3 970.0,944.8 973.0,943.0 C976.0,941.2 980.7,940.3 983.0,942.0 C985.3,943.7 987.2,949.5 987.0,953.0 C986.8,956.5 981.5,959.0 982.0,963.0 C982.5,967.0 986.5,972.5 990.0,977.0 C993.5,981.5 1000.2,986.2 1003.0,990.0 C1005.8,993.8 1006.3,998.3 1007.0,1000.0" fill="none" stroke="#70d070" stroke-width="1.6" stroke-linecap="round" stroke-linejoin="round"/>
<path fill="#6caf36" d="M906.8,960.8l.2,1.1 .2,2.7 .3,3.7 .7,3.9 1.2,2.9 1.7,1.3 2.8,.5-.3-1-.1-2.8-.3-3.7-.7-3.9-1.2-2.9-1.7-1.3zM920.5,963.3l.3,1 .2,2.8 .3,3.7 .7,3.9 1.2,2.9 1.7,1.3 2.8,.5-.3-1.1-.1-2.7-.4-3.7-.6-3.9-1.2-2.9-1.7-1.3zM934.3,965.8l.3,1 .1,2.8 .4,3.7 .6,3.8 1.2,3 1.7,1.3 2.9,.5-.3-1.1-.2-2.7-.3-3.8-.7-3.8-1.2-2.9-1.6-1.3zM948.1,968.3l.2,.6 .1,1.6-.7,2.3-.6,2.8-.3,2.8-.1,2.4 4.8,.8 .7-2.2 .6-2.8 .4-2.8 .1-2.4-1.1-1.8-1.3-.8z"/>
<path fill="#80d040" stroke="#4f8128" stroke-width=".5" d="M896.9,973.8l.5-.9 .9-2.5 1.6-3.4 2-3.4 2.3-2.2 2.2-.6 3.6,.6-.5,.9-1,2.5-1.5,3.5-2,3.3-2.3,2.3-2.2,.6zM910.7,976.3l.5-.9 .9-2.5 1.6-3.4 2-3.4 2.3-2.3 2.2-.6 3.5,.7-.4,.9-1,2.5-1.5,3.4-2.1,3.4-2.2,2.3-2.2,.6zM924.5,978.8l.4-.9 1-2.5 1.6-3.5 2-3.3 2.3-2.3 2.2-.6 3.5,.7-.4,.9-1,2.5-1.6,3.4-2,3.4-2.3,2.3-2.2,.5zM938.3,981.3l.4-.9 1-2.6 1.5-3.4 2.1-3.3 2.2-2.3 2.2-.6 3.6,.6-.4,.9-1,2.6-1.6,3.4-2,3.3-2.3,2.3-2.2,.6z"/>
<path fill="#d62319" d="M924,980.1l-1.2,.7-3.3,.8-4.5,1.3-4.5,1.6-3.3,1.9-1.2,2.2 0,2.8 1.2-.7 3.3-.8 4.5-1.3 4.5-1.6 3.3-1.9 1.2-2.2zM924,997.1l-1.2,.7-3.3,.8-4.5,1.3-4.5,1.6-3.3,1.9-1.2,2.2 0,2.8 1.2-.7 3.3-.8 4.5-1.3 4.5-1.6 3.3-1.9 1.2-2.2zM924,1014.1l-1.2,.7-3.3,.8-4.5,1.3-4.5,.4-3.3,.5-1.2,.8 0,2.8 1.2,.8 3.3,.5 4.5-.1 4.5-1.6 3.3-1.9 1.2-2.2z"/>
<path fill="#ff2a1e" stroke="#9e1a13" stroke-width=".5" d="M906,971.2l1.2,.5 3.3,.8 4.5,1.1 4.5,1.7 3.3,2.1 1.2,2.3 0,3.6-1.2-.5-3.3-.8-4.5-1.1-4.5-1.7-3.3-2.1-1.2-2.3zM906,988.2l1.2,.5 3.3,.8 4.5,1.1 4.5,1.7 3.3,2.1 1.2,2.3 0,3.6-1.2-.5-3.3-.8-4.5-1.1-4.5-1.7-3.3-2.1-1.2-2.3zM906,1005.2l1.2,.5 3.3,.8 4.5,1.1 4.5,1.7 3.3,2.1 1.2,2.3 0,3.6-1.2-.5-3.3-.8-4.5-1.1-4.5-1.7-3.3-2.1-1.2-2.3z"/>
<path fill="#d6511b" d="M891.5,1015.1l-1.3,.7-3.4,.8-4.8,1.3-4.8,1.6-3.4,1.9-1.3,2.2 0,2.8 1.3-.7 3.4-.8 4.8-1.3 4.8-1.6 3.4-1.9 1.3-2.2zM891.5,1032.1l-1.3,.7-3.4,.8-4.8,1.3-4.8,1.6-3.4,1.9-1.3,2.2 0,2.8 1.3-.7 3.4-.8 4.8-1.3 4.8-1.6 3.4-1.9 1.3-2.2zM891.5,1049.1l-1.3,.7-3.4,.8-4.8,1.3-4.8,1.6-3.4,1.9-1.3,2.2 0,2.8 1.3-.7 3.4-.8 4.8-1.3 4.8-1.6 3.4-1.9 1.3-2.2zM891.5,1066.1l-1.3,.7-3.4,.8-4.8,1.3-4.8,1.6-3.4,1.9-1.3,2.2 0,2.8 1.3-.7 3.4-.8 4.8-1.3 4.8-1.6 3.4-1.9 1.3-2.2z"/>
<path fill="#ff6020" stroke="#9e3c14" stroke-width=".5" d="M872.5,1006.2l1.3,.5 3.4,.8 4.8,1.1 4.8,1.7 3.4,2.1 1.3,2.3 0,3.6-1.3-.5-3.4-.8-4.8-1.1-4.8-1.7-3.4-2.1-1.3-2.3zM872.5,1023.2l1.3,.5 3.4,.8 4.8,1.2 4.8,1.6 3.4,2.1 1.3,2.3 0,3.6-1.3-.5-3.4-.8-4.8-1.2-4.8-1.6-3.4-2.1-1.3-2.3zM872.5,1040.2l1.3,.5 3.4,.8 4.8,1.2 4.8,1.6 3.4,2.1 1.3,2.3 0,3.6-1.3-.5-3.4-.8-4.8-1.2-4.8-1.6-3.4-2.1-1.3-2.3zM872.5,1057.2l1.3,.5 3.4,.8 4.8,1.2 4.8,1.6 3.4,2.1 1.3,2.3 0,3.6-1.3-.5-3.4-.8-4.8-1.2-4.8-1.6-3.4-2.1-1.3-2.3zM872.5,1074.2l1.2,.5 3.3,.7 4.6,1 4.6,.2 3.7,.6 1.6,.8 0,4-1.6,.8-3.7,.6-4.6,.2-4.6-1.5-3.3-2-1.2-2.3z"/>
<path fill="#d6361b" d="M904.4,1027.1l-1.1,.7-3.1,.8-4.2,1.3-4.2,1.6-3.1,1.9-1.1,2.2 0,2.8 1.1-.7 3.1-.8 4.2-1.3 4.2-1.6 3.1-1.9 1.1-2.2zM904.4,1044.1l-1.1,.7-3.1,.8-4.2,1.3-4.2,1.6-3.1,1.9-1.1,2.2 0,2.8 1.1-.7 3.1-.8 4.2-1.3 4.2-1.6 3.1-1.9 1.1-2.2zM904.4,1061.1l-1.1,.7-3.1,.8-4.2,1.3-4.2,1.6-3.1,1.9-1.1,2.2 0,2.8 1.1-.7 3.1-.8 4.2-1.3 4.2-1.6 3.1-1.9 1.1-2.2zM904.4,1076.6l-.1-.3-.4-.2-.6-.2-.8-.2-.9-.2-1.2-.2 0,5.4 1.2-.2 .9-.2 .8-.2 .6-.2 .4-.2 .1-.3z"/>
<path fill="#ff4020" stroke="#9e2814" stroke-width=".5" d="M887.6,1018.2l1.1,.5 3.1,.8 4.2,1.1 4.2,1.7 3.1,2.1 1.1,2.3 0,3.6-1.1-.5-3.1-.8-4.2-1.2-4.2-1.6-3.1-2.1-1.1-2.3zM887.6,1035.2l1.1,.5 3.1,.8 4.2,1.2 4.2,1.6 3.1,2.1 1.1,2.3 0,3.6-1.1-.5-3.1-.8-4.2-1.2-4.2-1.6-3.1-2.1-1.1-2.3zM887.6,1052.2l1.1,.5 3.1,.8 4.2,1.2 4.2,1.6 3.1,2.1 1.1,2.3 0,3.6-1.1-.5-3.1-.8-4.2-1.2-4.2-1.6-3.1-2.1-1.1-2.3zM887.6,1069.2l1.1,.5 3.1,.8 4.2,1.2 4.2,1.6 3.1,2 1.1,.9 0,3.6-1.1,.9-3.1-.7-4.2-1.2-4.2-1.6-3.1-2.1-1.1-2.3z"/>
<path fill="url(#b41)" d="M919.3,981.9l-1.5,.7-4,.9-5.6,1.4-5.6,1.7-4.1,2-1.4,2.2 0,2.8 1.5-.7 4.1-.9 5.6-1.4 5.6-1.7 4-2 1.5-2.2zM919.6,998.9l-1.5,.7-4,.9-5.6,1.4-5.6,1.7-4,2-1.5,2.2 0,2.8 1.5-.7 4.1-1 5.6-1.3 5.6-1.7 4-2 1.5-2.2zM919.9,1015.8l-1.4,.8-4.1,.9-5.6,1.4-5.6,1.7-4,2-1.5,2.2 .1,2.8 1.4-.7 4.1-1 5.6-1.3 5.6-1.7 4-2 1.5-2.2zM920.3,1032.8l-1.5,.8-4.1,.9-5.6,1.4-5.6,1.7-4,2-1.5,2.2 .1,2.8 1.5-.7 4-1 5.6-1.3 5.6-1.7 4-2 1.5-2.2zM920.6,1049.8l-1.5,.8-4.1,.9-5.6,1.4-5.6,1.7-4,2-1.5,2.1 .1,2.9 1.5-.7 4-1 5.6-1.3 5.6-1.7 4.1-2 1.4-2.2zM920.9,1066.8l-1.5,.8-4.1,.9-5.6,1.4-5.5,1.7-4.1,2-1.5,2.1 .1,2.9 1.5-.7 4.1-1 5.5-1.3 5.6-1.7 4.1-2 1.4-2.2zM921.2,1083.4l-.3-.4-.9-.3-1.5-.2-1.8-.2-2.3-.1-2.5-.1 .1,5.7 2.5-.1 2.3-.2 1.8-.3 1.5-.3 .8-.3 .3-.4z"/>
<path fill="url(#f41)" stroke="#6d8128" stroke-width=".5" d="M896.8,973.4l1.5,.5 4.1,.7 5.6,1 5.6,1.6 4.2,2 1.5,2.3 .1,3.6-1.5-.5-4.1-.7-5.7-1.1-5.6-1.5-4.1-2-1.6-2.3zM897.1,990.4l1.5,.5 4.1,.7 5.6,1 5.7,1.6 4.1,2 1.5,2.3 .1,3.6-1.5-.5-4.1-.7-5.6-1.1-5.7-1.5-4.1-2-1.6-2.3zM897.4,1007.4l1.5,.5 4.1,.7 5.6,1 5.7,1.6 4.1,2 1.5,2.3 .1,3.6-1.5-.5-4.1-.7-5.6-1.1-5.7-1.5-4.1-2-1.5-2.3zM897.7,1024.4l1.5,.5 4.1,.7 5.6,1 5.7,1.6 4.1,2 1.5,2.3 .1,3.6-1.5-.5-4.1-.7-5.6-1.1-5.7-1.5-4.1-2-1.5-2.3zM898,1041.4l1.5,.5 4.1,.7 5.6,1 5.7,1.6 4.1,2 1.6,2.3 0,3.6-1.5-.5-4.1-.7-5.6-1.1-5.7-1.5-4.1-2-1.5-2.3zM898.3,1058.4l1.5,.5 4.1,.7 5.7,1 5.6,1.6 4.1,2 1.6,2.3 0,3.6-1.5-.5-4.1-.7-5.6-1.1-5.6-1.5-4.2-2-1.5-2.3zM898.6,1075.4l1.5,.5 4.1,.7 5.7,1 5.6,1.6 4.1,2 1.6,1.8 0,3.6-1.5,0-4.1-.7-5.6-1.1-5.6-1.5-4.2-2-1.5-2.3z"/>
<path fill="#bc8d1b" d="M930,1017.1l-1.2,.7-3.3,.8-4.5,1.3-4.5,1.6-3.3,1.9-1.2,2.2 0,2.8 1.2-.7 3.3-.8 4.5-1.3 4.5-1.6 3.3-1.9 1.2-2.2zM930,1034.1l-1.2,.7-3.3,.8-4.5,1.3-4.5,1.6-3.3,1.9-1.2,2.2 0,2.8 1.2-.7 3.3-.8 4.5-1.3 4.5-1.6 3.3-1.9 1.2-2.2zM930,1051.1l-1.2,.7-3.3,.8-4.5,1.3-4.5,1.6-3.3,1.9-1.2,2.2 0,2.8 1.2-.7 3.3-.8 4.5-1.3 4.5-1.6 3.3-1.9 1.2-2.2z"/>
<path fill="#e0a820" stroke="#8b6814" stroke-width=".5" d="M912,1008.2l1.2,.5 3.3,.8 4.5,1.1 4.5,1.7 3.3,2.1 1.2,2.3 0,3.6-1.2-.5-3.3-.8-4.5-1.1-4.5-1.7-3.3-2.1-1.2-2.3zM912,1025.2l1.2,.5 3.3,.8 4.5,1.2 4.5,1.6 3.3,2.1 1.2,2.3 0,3.6-1.2-.5-3.3-.8-4.5-1.2-4.5-1.6-3.3-2.1-1.2-2.3zM912,1042.2l1.2,.5 3.3,.8 4.5,1.2 4.5,1.6 3.3,2.1 1.2,2.3 0,3.6-1.2-.5-3.3-.8-4.5-1.2-4.5-1.6-3.3-2.1-1.2-2.3zM912,1059.2l.5,.3 1.3-.4 2.1-.4 2.6-.2 2.9-.1 2.8,.1 0,7-2.8,.1-2.9-.1-2.6-.2-2.1-.4-1.3-.7-.5-1.4z"/>
<path d="M896.0,1087.0 C897.5,1088.3 902.3,1094.2 905.0,1095.0 C907.7,1095.8 910.8,1092.5 912.0,1092.0" fill="none" stroke="#c8c028" stroke-width="2.5" stroke-linecap="round" stroke-linejoin="round"/>
<path fill="#1642af" d="M906.7,1076.6l1.3,.5 2.8,1.9 3.8,2.7 4.1,2.4 3.6,1.3 2.4-.5 2.2-1.8-1.3-.5-2.8-1.9-3.8-2.7-4.1-2.4-3.6-1.3-2.4,.5zM919.7,1065.7l1.4,.5 2.7,1.9 3.8,2.7 4.1,2.4 3.6,1.3 2.4-.5 2.3-1.8-1.3-.5-2.8-1.9-3.8-2.7-4.1-2.4-3.6-1.3-2.4,.5zM932.8,1054.8l1.3,.5 2.8,2 3.8,2.6 3.1,3.3 2.5,2.1 1.3,.5 2.2-1.8-.2-1.4-1.7-2.9-2.8-3.5-4.1-2.4-3.6-1.3-2.4,.5z"/>
<path fill="#1a4ed0" stroke="#103081" stroke-width=".5" d="M911.4,1096l-.4-1.2-1.5-3-2-4.2-1.6-4.5-.5-3.9 1-2.4 2.8-2.3 .3,1.3 1.6,3 1.9,4.2 1.6,4.5 .5,3.8-1,2.4zM924.4,1085.2l-.4-1.3-1.5-3-1.9-4.2-1.6-4.5-.5-3.9 1-2.4 2.7-2.3 .4,1.3 1.5,3 2,4.2 1.6,4.5 .5,3.8-1,2.4zM937.5,1074.3l-.4-1.3-1.5-3-2-4.2-1.6-4.5-.5-3.8 1-2.4 2.8-2.3 .4,1.2 1.5,3 2,4.2 1.5,4.5 .5,3.9-1,2.4z"/>
<path fill="url(#b42)" d="M938.8,1065.9l-1.4,.9-4,1.2-5.4,1.8-5.4,2.2-3.9,2.3-1.3,2.3 .3,2.9 1.4-.9 4-1.3 5.5-1.7 5.4-2.2 3.9-2.3 1.2-2.3zM940.5,1082.8l-1.4,.9-4,1.3-5.4,1.7-5.4,2.2-3.9,2.3-1.3,2.3 .3,2.9 1.4-.9 4-1.3 5.4-1.7 5.5-2.2 3.8-2.3 1.3-2.3zM942.2,1099.7l-1.4,.9-4,1.3-5.4,1.8-5.4,2.1-3.9,2.4-1.4,1.5 .3,2.8 1.5,0 4-1.3 5.4-1.8 5.5-2.2 3.8-2.3 1.3-2.3z"/>
<path fill="url(#f42)" stroke="#103081" stroke-width=".5" d="M915.7,1059.3l1.5,.4 4.2,.3 5.7,.6 5.7,1.1 4.3,1.7 1.7,2.2 .4,3.5-1.6-.3-4.1-.4-5.7-.6-5.8-1.1-4.2-1.6-1.8-2.2zM917.4,1076.2l1.5,.4 4.2,.3 5.7,.7 5.7,1.1 4.3,1.6 1.7,2.2 .4,3.6-1.6-.4-4.1-.4-5.7-.6-5.8-1.1-4.3-1.6-1.7-2.2zM919.1,1093.2l1.5,.3 4.2,.4 5.6,.6 5.8,1.1 4.3,1.6 1.7,2.2 .4,3.6-1.6-.4-4.1-.3-5.7-.7-5.8-1.1-4.3-1.6-1.7-2.2zM920.7,1109.3l.2-.4 .7-.4 1.2-.5 1.6-.4 2-.4 2.2-.4 .7,7-2.2,.1-2,0-1.7-.1-1.3-.2-.8-.3-.3-.4z"/>
<path fill="url(#b43)" d="M996.3,999.7l-1.5,.3-4-.2-5.5-.3-5.5,.1-4.3,.8-1.9,1.7-.8,2.8 1.5-.3 4,.2 5.5,.3 5.5-.2 4.3-.8 2-1.7zM991.8,1016l-1.6,.3-4-.2-5.4-.2-5.6,.1-4.3,.8-1.9,1.7-.8,2.8 1.6-.3 3.9,.2 5.5,.2 5.6-.1 4.2-.8 2-1.7zM987.2,1032.4l-1.6,.3-4-.2-5.4-.3-5.6,.2-4.3,.8-1.9,1.7-.8,2.7 1.6-.3 4,.2 5.4,.3 5.6-.1 4.2-.8 2-1.7zM982.6,1048.8l-1.6,.3-4-.2-5.4-.3-5.6,.1-4.2,.9-2,1.6-.8,2.8 1.6-.3 4,.2 5.4,.3 5.6-.2 4.3-.8 1.9-1.6zM978,1065.1l-1.6,.3-3.9-.2-5.5-.2-5.6,.1-4.2,.8-2,1.7-.8,2.8 1.6-.3 4,.2 5.5,.2 5.5-.1 4.3-.8 1.9-1.7zM973.4,1081.5l-1.5,.3-4-.2-5.5-.2-5.5,.1-4.3,.8-2,1.7-.7,2.7 1.5-.2 4,.1 5.5,.3 5.5-.1 4.3-.8 1.9-1.7z"/>
<path fill="url(#f43)" stroke="#146b7c" stroke-width=".5" d="M978.2,985.4l1.3,.9 3.5,1.8 4.8,2.5 4.7,3.1 3.2,3 .7,2.6-.9,3.5-1.3-.9-3.5-1.8-4.8-2.5-4.7-3.1-3.2-3-.7-2.6zM973.7,1001.8l1.2,.9 3.5,1.7 4.8,2.6 4.7,3 3.2,3.1 .8,2.6-1,3.5-1.2-.9-3.6-1.8-4.8-2.6-4.7-3-3.2-3-.7-2.7zM969.1,1018.1l1.2,.9 3.6,1.8 4.8,2.6 4.6,3 3.2,3 .8,2.7-1,3.4-1.2-.9-3.6-1.7-4.8-2.6-4.7-3-3.2-3.1-.7-2.6zM964.5,1034.5l1.2,.9 3.6,1.8 4.8,2.5 4.6,3.1 3.2,3 .8,2.6-1,3.5-1.2-.9-3.6-1.8-4.8-2.5-4.6-3.1-3.2-3-.8-2.6zM959.9,1050.9l1.2,.9 3.6,1.7 4.8,2.6 4.7,3 3.2,3.1 .7,2.6-1,3.5-1.2-.9-3.5-1.8-4.9-2.6-4.6-3-3.2-3-.8-2.7zM955.3,1067.2l1.3,.9 3.5,1.8 4.8,2.6 4.7,3 3.2,3.1 .7,2.6-.9,3.4-1.3-.8-3.5-1.8-4.8-2.6-4.7-3-3.2-3.1-.7-2.6zM950.7,1083.6l.7,.6 1.9,.8 3.2,.5 3.8,.8 3.7,1.2 3.3,1.2-1.7,6.2-3.5-.6-3.8-1-3.6-1.2-3-1.3-1.7-1.9-.2-1.8z"/>
<path fill="#1ba894" d="M969.9,1000l-1.4,.6-4,.5-5.4,.7-5.5,1.1-4,1.6-1.6,2-.3,2.9 1.5-.6 3.9-.5 5.5-.7 5.4-1.1 4.1-1.6 1.6-2zM968.4,1016.9l-1.5,.6-4,.5-5.4,.8-5.4,1.1-4.1,1.5-1.6,2-.3,2.9 1.5-.6 4-.5 5.4-.7 5.4-1.1 4.1-1.6 1.6-2zM966.8,1033.9l-1.5,.5-3.9,.6-5.4,.7-5.5,1.1-4,1.6-1.7,2-.2,2.8 1.5-.5 3.9-.6 5.4-.7 5.5-1.1 4-1.6 1.6-2zM965.2,1050.8l-1.4,.6-4,.5-5.4,.7-5.5,1.1-4,1.6-1.6,2-.3,2.9 1.5-.6 3.9-.5 5.5-.8 5.4-1.1 4.1-1.5 1.6-2zM963.7,1067.7l-1.5,.6-4,.5-5.4,.7-5.4,1.2-4.1,1.5-1.6,2-.3,2.9 1.5-.6 4-.5 5.4-.7 5.4-1.1 4.1-1.6 1.6-2zM962.1,1084.6l-1.5,.6-3.9,.5-5.4,.8-5.5,1.1-4,1.6-1.7,2-.2,2.8 1.5-.5 3.9-.6 5.4-.7 5.5-1.1 4-1.6 1.6-2zM960.7,1099.5l-.1-.2-.2-.2-.5-.2-.6-.2-.9-.3-.9-.2-.5,5 1-.1 .9-.1 .6-.1 .5-.1 .3-.2 .2-.2z"/>
<path fill="#20c8b0" stroke="#147c6d" stroke-width=".5" d="M949.6,989.2l1.3,.7 3.9,1.1 5.1,1.6 5.2,2.2 3.7,2.4 1.2,2.5-.4,3.5-1.3-.6-3.8-1.1-5.2-1.7-5.2-2.1-3.7-2.5-1.2-2.4zM948,1006.2l1.4,.6 3.8,1.1 5.2,1.7 5.1,2.1 3.7,2.4 1.2,2.5-.3,3.6-1.4-.7-3.8-1.1-5.2-1.7-5.1-2.1-3.7-2.4-1.2-2.5zM946.4,1023.1l1.4,.6 3.8,1.1 5.2,1.7 5.1,2.1 3.7,2.5 1.2,2.4-.3,3.6-1.4-.7-3.8-1.1-5.2-1.6-5.1-2.2-3.7-2.4-1.2-2.4zM944.9,1040l1.3,.7 3.8,1.1 5.2,1.6 5.2,2.2 3.7,2.4 1.2,2.4-.4,3.6-1.3-.6-3.8-1.1-5.2-1.7-5.2-2.1-3.7-2.5-1.2-2.4zM943.3,1056.9l1.4,.7 3.8,1.1 5.2,1.7 5.1,2.1 3.7,2.4 1.2,2.5-.3,3.5-1.4-.6-3.8-1.1-5.2-1.7-5.1-2.1-3.7-2.4-1.2-2.5zM941.7,1073.9l1.4,.6 3.8,1.1 5.2,1.7 5.1,2.1 3.7,2.5 1.2,2.4-.3,3.6-1.4-.7-3.8-1.1-5.2-1.6-5.1-2.2-3.7-2.4-1.2-2.5zM940.2,1090.8l1.3,.6 3.8,1.2 5.2,1.6 5.2,2.2 3.7,1.8 1.4,1-.4,3.6-1.5,.7-3.8-.5-5.2-1.6-5.2-2.2-3.7-2.4-1.2-2.4z"/>
<path fill="#1111af" d="M995.9,1018.3l-1.6-.1-3.8-1.1-5.3-1.5-5.4-1.1-4.3-.2-2.3,1.2-1.4,2.5 1.6,.1 3.8,1.1 5.3,1.5 5.4,1.1 4.4,.2 2.2-1.2zM987.7,1033.2l-1.6-.1-3.8-1.1-5.2-1.5-5.5-1.1-4.3-.2-2.3,1.2-1.4,2.5 1.6,.1 3.8,1.1 5.3,1.5 5.4,1.1 4.4,.2 2.2-1.2zM979.5,1048.1l-1.5-.1-3.9-1.1-5.2-1.5-5.5-1.1-4.3-.2-2.3,1.2-1.4,2.5 1.6,.1 3.8,1.1 5.3,1.5 5.4,1.1 4.4,.2 2.2-1.2zM971.3,1063l-1.5-.1-3.9-1.1-5.2-1.5-5.5-1.1-4.3-.2-2.3,1.2-1.4,2.5 1.6,.1 3.8,1.1 5.3,1.5 5.4,1.1 4.4,.2 2.3-1.2z"/>
<path fill="#1414d0" stroke="#0c0c81" stroke-width=".5" d="M981.5,1000.3l1,1.1 3.1,2.6 4.1,3.6 3.8,4 2.5,3.7 .1,2.7-1.7,3.2-1-1.2-3.1-2.5-4.1-3.6-3.8-4-2.5-3.7-.1-2.8zM973.4,1015.2l1,1.1 3,2.6 4.1,3.6 3.9,4 2.4,3.7 .1,2.7-1.7,3.1-1-1.1-3.1-2.5-4.1-3.6-3.8-4-2.5-3.7-.1-2.8zM965.2,1030.1l1,1.1 3,2.6 4.1,3.6 3.9,4 2.4,3.7 .1,2.7-1.7,3.1-1-1.1-3.1-2.5-4.1-3.6-3.8-4-2.4-3.7-.2-2.8zM957,1045l1,1.1 3,2.6 4.1,3.6 3.9,4 2.4,3.7 .1,2.7-1.7,3.1-1-1.1-3.1-2.5-4.1-3.6-3.8-4.1-2.4-3.6-.2-2.8zM948.8,1059.9l.4,.2 1.4,.2 1.9,.6 2.5,1 2.7,1.4 2.7,1.5-3.5,6.2-2.7-1.4-2.5-1.6-2.2-1.5-1.6-1.3-.9-1.1 0-1.1z"/>
<path fill="#196db2" d="M981.7,1009.2l-1.4,.4-3.4-.1-4.6,0-4.8,.3-3.6,1-1.8,1.7-.8,2.8 1.4-.4 3.4,.1 4.6,0 4.8-.3 3.6-1 1.8-1.7zM977,1025.6l-1.3,.3-3.4,0-4.7-.1-4.7,.4-3.7,.9-1.8,1.7-.8,2.8 1.4-.3 3.4,0 4.6,.1 4.8-.3 3.7-1 1.7-1.7zM972.3,1041.9l-1.3,.4-3.4-.1-4.7,0-4.7,.3-3.7,1-1.7,1.7-.8,2.8 1.3-.4 3.4,.1 4.7,0 4.7-.3 3.7-1 1.7-1.7zM967.7,1058.3l-1.4,.3-3.4,0-4.6-.1-4.8,.3-3.7,1-1.7,1.7-.8,2.8 1.4-.3 3.4,0 4.6,.1 4.7-.4 3.7-.9 1.8-1.7z"/>
<path fill="#1e82d4" stroke="#135183" stroke-width=".5" d="M966.9,995.8l1,.8 2.9,1.7 4,2.3 3.9,2.8 2.6,2.9 .5,2.6-1,3.5-1-.9-3-1.6-4-2.4-3.8-2.8-2.6-2.9-.5-2.5zM962.2,1012.2l1,.8 3,1.6 4,2.4 3.8,2.8 2.6,2.9 .5,2.5-1,3.5-1-.8-2.9-1.6-4-2.4-3.9-2.8-2.6-2.9-.5-2.6zM957.5,1028.5l1.1,.8 2.9,1.7 4,2.3 3.8,2.8 2.6,2.9 .5,2.6-1,3.5-1-.9-2.9-1.6-4-2.4-3.8-2.8-2.6-2.9-.6-2.5zM952.9,1044.8l1,.9 2.9,1.6 4,2.4 3.9,2.8 2.5,2.9 .6,2.5-1,3.5-1-.8-3-1.7-4-2.3-3.8-2.8-2.6-2.9-.5-2.6zM948.2,1061.2l1,.8 3,1.6 3.9,2.4 4.1,2 3,1.5 .9,1.2-1,3.5-1.4,.5-3.3-.2-4.2-1.6-3.9-2.8-2.6-2.9-.5-2.5z"/>
<path fill="#36b55e" d="M1012.4,1031.3l-1.3,.5-3.6,.4-4.9,.6-4.9,.9-3.8,1.4-1.5,2-.4,2.8 1.3-.5 3.6-.4 4.9-.5 4.9-.9 3.8-1.5 1.5-1.9zM1010,1048.2l-1.3,.5-3.6,.4-4.9,.5-4.9,.9-3.8,1.5-1.5,1.9-.4,2.8 1.3-.5 3.6-.4 4.9-.5 4.9-.9 3.7-1.4 1.6-2zM1007.6,1064.9l-.2-.4-.9-.5-1.4-.5-1.9-.5-2.2-.4-2.3-.4-.9,5.7 2.4,.3 2.3,.1 1.9,.1 1.5-.1 1-.2 .3-.3z"/>
<path fill="#40d870" stroke="#288645" stroke-width=".5" d="M994.8,1019.9l1.2,.7 3.4,1.2 4.5,1.8 4.5,2.4 3.1,2.5 1,2.5-.5,3.5-1.2-.6-3.4-1.3-4.5-1.8-4.5-2.3-3.1-2.6-1-2.5zM992.4,1036.7l1.2,.7 3.4,1.2 4.5,1.9 4.5,2.3 3.1,2.5 1,2.5-.5,3.6-1.2-.7-3.4-1.3-4.5-1.8-4.5-2.3-3.1-2.6-1-2.4zM990,1053.5l1.2,.7 3.4,1.3 4.5,1.8 4.5,2.3 3.1,2.6 1,2.4-.5,3.5-1.2-.6-3.4-1.2-4.5-1.9-4.5-2.3-3.2-2.5-.9-2.5z"/>
<path fill="#36af6c" d="M969.5,1085.8l-1.4,.6-3.8,.6-5.1,.8-5.1,1.2-3.9,1.7-1.5,2-.2,2.9 1.4-.6 3.7-.6 5.2-.8 5.1-1.2 3.8-1.7 1.6-2zM968.2,1102.4l-.3-.4-.8-.4-1.3-.4-1.7-.3-2-.4-2.3-.2-.5,5.7 2.3,.1 2.1,0 1.7-.1 1.4-.2 .8-.2 .3-.4z"/>
<path fill="#40d080" stroke="#28814f" stroke-width=".5" d="M950.1,1075.4l1.3,.6 3.6,1.1 4.9,1.5 4.9,2.1 3.6,2.4 1.1,2.4-.3,3.6-1.3-.7-3.6-1-4.9-1.6-4.9-2-3.5-2.4-1.2-2.4zM948.7,1092.3l1.3,.7 3.7,1 4.9,1.6 4.9,2 3.5,2.4 1.2,2-.3,3.6-1.3-.2-3.7-1.1-4.9-1.5-4.9-2.1-3.5-2.3-1.1-2.5z"/>
<path d="M955.0,1100.0 C956.7,1102.5 961.7,1113.7 965.0,1115.0 C968.3,1116.3 972.5,1108.0 975.0,1108.0 C977.5,1108.0 979.2,1113.8 980.0,1115.0" fill="none" stroke="#20c8b0" stroke-width="1.5" stroke-linecap="round" stroke-linejoin="round"/>
<path fill="url(#b44)" d="M1160.6,966.2l-1,.8-2.7,1.2-3.8,1.6-3.7,2-2.7,2.3-.8,2.2 .3,2.9 1-.8 2.8-1.2 3.7-1.7 3.7-2 2.7-2.2 .8-2.3zM1162.4,983l-.4,.6-1.5,.4-2.2-.1-2.7,.1-2.9,.4-2.5,.5 .6,5.2 2.6-.1 2.8-.2 2.7-.5 2.2-.6 1.3-1.2 .4-1.6z"/>
<path fill="url(#f44)" stroke="#9e1a13" stroke-width=".5" d="M1144,959.1l1.1,.4 2.9,.4 4.1,.7 4.1,1.3 3,1.7 1.3,2.2 .4,3.6-1.1-.4-2.9-.5-4-.7-4.1-1.2-3.1-1.8-1.3-2.1zM1145.9,976l1.1,.4 2.9,.4 4,.7 4.1,1.3 3.1,1.7 1.3,2.2 .4,3.6-1.1-.4-2.9-.5-4.1-.7-4-1.2-3.1-1.8-1.3-2.1z"/>
<path fill="url(#b45)" d="M1150.5,1000.1l-1.6,.5-4.1,.5-5.7,.7-5.7,1.1-4.3,1.6-1.7,2-.2,2.8 1.5-.5 4.2-.5 5.7-.7 5.7-1.1 4.3-1.6 1.6-2zM1148.9,1017l-1.5,.5-4.2,.6-5.7,.7-5.7,1-4.2,1.6-1.7,2-.3,2.9 1.6-.6 4.1-.5 5.7-.7 5.7-1.1 4.3-1.6 1.7-1.9zM1147.4,1033.9l-1.6,.6-4.1,.5-5.7,.7-5.7,1.1-4.3,1.5-1.7,2-.3,2.9 1.6-.6 4.2-.5 5.6-.7 5.8-1.1 4.2-1.5 1.7-2zM1145.8,1050.8l-1.5,.6-4.2,.5-5.7,.7-5.7,1.1-4.3,1.6-1.7,2-.2,2.8 1.5-.5 4.2-.5 5.7-.8 5.7-1 4.3-1.6 1.7-2zM1144.3,1067.6l-.3-.4-1-.4-1.6-.5-2.2-.4-2.5-.4-2.7-.3-.5,5.7 2.7,.2 2.6,.1 2.1,0 1.7-.2 1-.2 .4-.3z"/>
<path fill="url(#f45)" stroke="#8b6814" stroke-width=".5" d="M1129,989.2l1.5,.6 4,1.2 5.4,1.6 5.5,2.2 3.9,2.5 1.2,2.4-.3,3.6-1.4-.7-4.1-1.1-5.4-1.7-5.4-2.1-3.9-2.5-1.3-2.4zM1127.5,1006.1l1.4,.7 4,1.1 5.5,1.7 5.4,2.1 3.9,2.5 1.3,2.4-.4,3.6-1.4-.6-4-1.2-5.5-1.7-5.4-2.1-3.9-2.5-1.3-2.4zM1125.9,1023l1.4,.7 4.1,1.1 5.4,1.7 5.4,2.2 3.9,2.4 1.3,2.5-.3,3.5-1.5-.6-4-1.1-5.4-1.7-5.5-2.2-3.9-2.4-1.2-2.5zM1124.3,1040l1.5,.6 4,1.1 5.5,1.7 5.4,2.2 3.9,2.4 1.3,2.5-.4,3.6-1.4-.7-4-1.1-5.5-1.7-5.4-2.2-3.9-2.4-1.3-2.4zM1122.8,1056.9l1.4,.6 4,1.2 5.5,1.7 5.4,2.1 3.9,2.5 1.3,2.2-.3,3.6-1.5-.5-4-1.1-5.5-1.7-5.4-2.1-3.9-2.5-1.3-2.4z"/>
<path fill="#d62319" d="M1149.2,995.6l-1.5,.1-3.7-.7-5.1-1-5.3-.7-4.1,.2-2.2,1.4-1.2,2.6 1.6,0 3.7,.7 5.1,1 5.2,.6 4.2-.2 2.1-1.4zM1142.1,1011.1l-1.5,0-3.7-.7-5.1-1-5.3-.6-4.1,.2-2.2,1.4-1.2,2.6 1.5-.1 3.8,.7 5.1,1 5.2,.7 4.2-.2 2.1-1.4zM1135,1026.5l-1.5,.1-3.7-.8-5.1-.9-5.3-.7-4.1,.2-2.2,1.4-1.2,2.6 1.5,0 3.8,.7 5.1,1 5.2,.6 4.2-.2 2.1-1.4z"/>
<path fill="#ff2a1e" stroke="#9e1a13" stroke-width=".5" d="M1134.6,979.2l1,1 3,2.2 4.1,3.2 3.9,3.6 2.5,3.4 .3,2.7-1.5,3.3-1.1-1.1-3-2.2-4.1-3.2-3.9-3.6-2.5-3.4-.2-2.7zM1127.5,994.6l1,1 3,2.3 4.1,3.1 3.9,3.6 2.5,3.5 .3,2.6-1.6,3.3-1-1-3-2.2-4.1-3.2-3.9-3.6-2.5-3.5-.2-2.6zM1120.4,1010l1,1.1 3,2.2 4.1,3.2 3.9,3.6 2.5,3.4 .2,2.7-1.5,3.3-1-1.1-3-2.2-4.1-3.2-3.9-3.6-2.5-3.4-.2-2.7zM1113.3,1025.5l.9,1 2.9,2.1 4,3 4.5,2.2 3.2,2.2 1.1,1.4-1.6,3.6-1.9,0-3.7-1-4.6-1.9-3.7-3.4-2.4-3.4-.2-2.5z"/>
<path fill="url(#b46)" d="M1173.5,975.5l-1.6,.6-4.3,.7-5.9,1.1-6,1.4-4.3,1.8-1.7,2-.1,2.9 1.6-.6 4.3-.8 6-1 5.9-1.4 4.4-1.8 1.6-2.1zM1172.9,992.4l-1.6,.7-4.3,.7-5.9,1.1-5.9,1.4-4.4,1.8-1.7,2-.1,2.9 1.6-.6 4.4-.8 5.9-1 5.9-1.4 4.4-1.8 1.6-2.1zM1172.4,1009.4l-1.6,.7-4.4,.7-5.9,1-5.9,1.5-4.4,1.7-1.6,2.1-.1,2.9 1.6-.6 4.3-.8 5.9-1 5.9-1.4 4.4-1.8 1.7-2.1zM1171.8,1026.4l-1.6,.7-4.4,.7-5.9,1-5.9,1.4-4.4,1.8-1.6,2.1-.1,2.9 1.6-.6 4.3-.8 5.9-1 6-1.4 4.3-1.8 1.7-2.1zM1171.2,1043.4l-1.6,.7-4.3,.7-6,1-5.9,1.4-4.4,1.8-1.6,2.1-.1,2.9 1.6-.7 4.3-.7 5.9-1 6-1.4 4.3-1.8 1.7-2.1zM1170.6,1060.4l-1.6,.7-4.3,.7-5.9,1-6,1.4-4.3,1.8-1.7,2.1-.1,2.9 1.6-.7 4.3-.7 6-1 5.9-1.4 4.4-1.8 1.6-2.1zM1170,1077.4l-1.6,.6-4.3,.8-5.9,1-6,1.4-4.3,1.3-1.6,.7-.1,2.8 1.5,.8 4.4-.2 5.9-1 5.9-1.4 4.4-1.8 1.6-2.1z"/>
<path fill="url(#f46)" stroke="#955614" stroke-width=".5" d="M1150.3,965.8l1.6,.6 4.2,.9 5.9,1.3 5.8,1.9 4.2,2.2 1.5,2.4-.1,3.6-1.6-.6-4.2-.9-5.9-1.4-5.8-1.8-4.2-2.2-1.5-2.4zM1149.7,982.8l1.6,.6 4.3,.9 5.8,1.3 5.8,1.9 4.2,2.2 1.5,2.4-.1,3.6-1.5-.6-4.3-.9-5.8-1.4-5.9-1.8-4.2-2.2-1.5-2.4zM1149.1,999.8l1.6,.5 4.3,1 5.8,1.3 5.8,1.9 4.3,2.2 1.5,2.4-.2,3.6-1.5-.6-4.3-.9-5.8-1.4-5.8-1.8-4.3-2.3-1.5-2.3zM1148.6,1016.8l1.5,.5 4.3,.9 5.8,1.4 5.9,1.9 4.2,2.2 1.5,2.4-.1,3.6-1.6-.6-4.3-.9-5.8-1.4-5.8-1.8-4.3-2.3-1.5-2.3zM1148,1033.8l1.5,.5 4.3,.9 5.9,1.4 5.8,1.9 4.2,2.2 1.5,2.4-.1,3.6-1.6-.6-4.3-.9-5.8-1.4-5.8-1.9-4.2-2.2-1.5-2.3zM1147.4,1050.7l1.6,.6 4.2,.9 5.9,1.4 5.8,1.9 4.2,2.2 1.5,2.3-.1,3.6-1.6-.5-4.2-.9-5.9-1.4-5.8-1.9-4.2-2.2-1.5-2.4zM1146.8,1067.7l1.6,.6 4.3,.9 5.8,1.4 5.8,1.8 4.2,2.3 1.5,2.3-.1,3.6-1.5-.5-4.3-.9-5.9-1.4-5.8-1.9-4.2-2.2-1.5-2.4zM1146.3,1082.8l.1-.3 .4-.2 .6-.2 .8-.2 1-.2 1.2-.1-.2,6.3-1.2-.2-1-.3-.8-.2-.6-.3-.3-.2-.1-.3z"/>
<path fill="#0d28af" d="M1196.2,982.1l-1.5,.7-4.1,.8-5.6,1.3-5.6,1.6-4.1,1.9-1.5,2.2 0,2.8 1.5-.7 4.1-.8 5.6-1.3 5.6-1.6 4.1-1.9 1.5-2.2zM1196.2,999.1l-1.5,.7-4.1,.8-5.6,1.3-5.6,1.6-4.1,1.9-1.5,2.2 0,2.8 1.5-.7 4.1-.8 5.6-1.3 5.6-1.6 4.1-1.9 1.5-2.2zM1196.2,1016.1l-1.5,.7-4.1,.8-5.6,1.3-5.6,1.6-4.1,1.9-1.5,2.2 0,2.8 1.5-.7 4.1-.8 5.6-1.3 5.6-1.6 4.1-1.9 1.5-2.2zM1196.2,1033.1l-1.5,.7-4.1,.8-5.6,1.3-5.6,1.6-4.1,1.9-1.5,2.2 0,2.8 1.5-.7 4.1-.8 5.6-1.3 5.6-1.6 4.1-1.9 1.5-2.2zM1196.2,1048.6l-.2-.3-.4-.2-.8-.2-1.1-.2-1.3-.2-1.5-.2 0,5.4 1.5-.2 1.3-.2 1.1-.2 .8-.2 .4-.2 .2-.3z"/>
<path fill="#1030d0" stroke="#0a1e81" stroke-width=".5" d="M1173.8,973.2l1.5,.5 4.1,.8 5.6,1.1 5.6,1.7 4.1,2.1 1.5,2.3 0,3.6-1.5-.5-4.1-.8-5.6-1.1-5.6-1.7-4.1-2.1-1.5-2.3zM1173.8,990.2l1.5,.5 4.1,.8 5.6,1.1 5.6,1.7 4.1,2.1 1.5,2.3 0,3.6-1.5-.5-4.1-.8-5.6-1.1-5.6-1.7-4.1-2.1-1.5-2.3zM1173.8,1007.2l1.5,.5 4.1,.8 5.6,1.1 5.6,1.7 4.1,2.1 1.5,2.3 0,3.6-1.5-.5-4.1-.8-5.6-1.1-5.6-1.7-4.1-2.1-1.5-2.3zM1173.8,1024.2l1.5,.5 4.1,.8 5.6,1.2 5.6,1.6 4.1,2.1 1.5,2.3 0,3.6-1.5-.5-4.1-.8-5.6-1.2-5.6-1.6-4.1-2.1-1.5-2.3zM1173.8,1041.2l1.5,.5 4.1,.8 5.6,1.2 5.6,1.6 4.1,2 1.5,.9 0,3.6-1.5,.9-4.1-.7-5.6-1.2-5.6-1.6-4.1-2.1-1.5-2.3z"/>
<path fill="#1642af" d="M1202.8,964.1l-1,.7-2.9,.8-3.9,1.3-3.9,1.6-2.9,1.9-1,2.2 0,2.8 1-.7 2.9-.8 3.9-1.3 3.9-1.6 2.9-1.9 1-2.2z"/>
<path fill="#1a4ed0" stroke="#103081" stroke-width=".5" d="M1187.2,955.2l1,.5 2.9,.8 3.9,1.1 3.9,1.7 2.9,2.1 1,2.3 0,3.6-1-.5-2.9-.8-3.9-1.1-3.9-1.7-2.9-2.1-1-2.3zM1187.2,972.2l.4,.3 1.1-.4 1.9-.4 2.3-.2 2.5-.1 2.4,.1 0,7-2.4,.1-2.5-.1-2.3-.2-1.9-.4-1.1-.7-.4-1.4z"/>
<path fill="url(#b47)" d="M1188.2,958.9l-1.3,.7-3.7,.9-5,1.4-5,1.7-3.7,2-1.3,2.2 .1,2.8 1.3-.7 3.7-.9 5-1.4 5-1.7 3.7-2 1.3-2.2zM1188.6,975.9l-1.4,.7-3.7,.9-5,1.4-5,1.7-3.6,2-1.3,2.2 0,2.8 1.4-.7 3.6-1 5-1.3 5.1-1.7 3.6-2 1.3-2.2zM1188.9,992.9l-1.3,.7-3.7,.9-5,1.4-5,1.7-3.7,2-1.3,2.1 .1,2.9 1.3-.7 3.7-1 5-1.3 5-1.7 3.6-2 1.3-2.2zM1189.2,1009.8l-1.3,.8-3.7,.9-5,1.4-5,1.7-3.7,2-1.3,2.1 .1,2.9 1.3-.7 3.7-1 5-1.3 5-1.7 3.7-2 1.3-2.2zM1189.6,1026.8l-1.4,.8-3.6,.9-5.1,1.4-5,1.7-3.6,2-1.3,2.1 0,2.9 1.4-.7 3.6-1 5.1-1.3 5-1.7 3.6-2 1.3-2.2zM1189.9,1043.8l-1.3,.8-3.7,.9-5,1.4-5,1.7-3.7,2-1.3,1.2 .1,2.8 1.3,.3 3.7-1 5-1.3 5-1.7 3.6-2 1.4-2.2z"/>
<path fill="url(#f47)" stroke="#6d8128" stroke-width=".5" d="M1167.9,950.4l1.3,.5 3.8,.7 5,1 5.1,1.6 3.7,2 1.4,2.3 .1,3.6-1.4-.5-3.7-.7-5-1.1-5.1-1.5-3.7-2-1.4-2.3zM1168.2,967.4l1.4,.5 3.7,.7 5,1 5.1,1.6 3.8,2 1.3,2.3 .1,3.6-1.3-.5-3.7-.7-5.1-1.1-5.1-1.5-3.7-2-1.4-2.3zM1168.6,984.4l1.3,.5 3.7,.7 5.1,1 5.1,1.6 3.7,2 1.4,2.3 .1,3.6-1.4-.5-3.7-.7-5.1-1.1-5-1.5-3.8-2-1.4-2.3zM1168.9,1001.4l1.4,.5 3.7,.7 5,1 5.1,1.6 3.7,2 1.4,2.3 .1,3.6-1.4-.5-3.7-.7-5-1.1-5.1-1.5-3.7-2-1.4-2.3zM1169.2,1018.4l1.4,.5 3.7,.7 5.1,1 5,1.6 3.8,2 1.4,2.3 0,3.6-1.3-.5-3.7-.7-5.1-1.1-5.1-1.5-3.7-2-1.4-2.3zM1169.6,1035.4l1.3,.5 3.7,.7 5.1,1 5.1,1.6 3.7,2 1.4,2.3 .1,3.6-1.4-.5-3.7-.7-5.1-1.1-5-1.5-3.8-2-1.4-2.3zM1169.9,1051.4l.2-.4 .6-.3 1-.4 1.3-.3 1.5-.2 1.9-.2 .1,7-1.8-.2-1.6-.2-1.3-.2-1-.3-.6-.3-.2-.4z"/>
<path fill="#1b90a8" d="M1216.6,994.2l-1.5,.6-3.9,.9-5.3,1.2-5.3,1.5-3.9,1.9-1.5,2.2 0,2.8 1.4-.6 3.9-.9 5.3-1.2 5.4-1.5 3.9-1.9 1.4-2.2zM1216.4,1011.2l-1.4,.6-3.9,.9-5.4,1.2-5.3,1.5-3.9,1.9-1.5,2.2 0,2.8 1.4-.7 3.9-.8 5.4-1.2 5.3-1.5 3.9-1.9 1.5-2.2zM1216.2,1028.2l-1.4,.6-3.9,.9-5.3,1.2-5.4,1.5-3.9,1.9-1.4,2.2-.1,2.8 1.5-.7 3.9-.8 5.3-1.2 5.3-1.5 4-1.9 1.4-2.2zM1216.1,1045.2l-1.5,.6-3.9,.9-5.3,1.2-5.3,1.5-4,1.9-1.4,2.2 0,2.8 1.4-.7 3.9-.8 5.3-1.2 5.4-1.5 3.9-1.9 1.4-2.2zM1215.9,1062.2l-1.4,.6-3.9,.9-5.4,1.2-5.3,1.5-3.9,1.9-1.5,2.1 0,2.9 1.4-.7 3.9-.8 5.4-1.2 5.3-1.5 3.9-1.9 1.5-2.2zM1215.7,1079.2l-1.4,.6-3.9,.9-5.3,1.2-5.4,1.5-3.9,1.3-1.4,.8-.1,2.8 1.5,.8 3.9-.3 5.3-1.2 5.3-1.5 3.9-1.9 1.5-2.2z"/>
<path fill="#20acc8" stroke="#146b7c" stroke-width=".5" d="M1195.4,985.1l1.4,.5 3.9,.8 5.3,1.2 5.3,1.8 3.9,2.1 1.4,2.3-.1,3.6-1.4-.5-3.9-.8-5.3-1.3-5.3-1.7-3.9-2.1-1.4-2.3zM1195.2,1002.1l1.4,.5 3.9,.8 5.3,1.2 5.3,1.8 3.9,2.1 1.4,2.3 0,3.6-1.5-.5-3.8-.8-5.3-1.3-5.4-1.7-3.8-2.1-1.4-2.3zM1195,1019.1l1.5,.5 3.8,.8 5.4,1.2 5.3,1.8 3.8,2.1 1.4,2.3 0,3.6-1.4-.5-3.9-.8-5.3-1.3-5.3-1.7-3.9-2.1-1.4-2.3zM1194.9,1036.1l1.4,.5 3.9,.8 5.3,1.2 5.3,1.8 3.9,2.1 1.4,2.3-.1,3.6-1.4-.5-3.9-.8-5.3-1.3-5.3-1.7-3.9-2.1-1.4-2.3zM1194.7,1053.1l1.4,.5 3.9,.8 5.3,1.2 5.3,1.8 3.9,2.1 1.4,2.3 0,3.6-1.5-.5-3.9-.8-5.3-1.3-5.3-1.7-3.8-2.1-1.4-2.3zM1194.5,1070.1l1.4,.5 3.9,.8 5.3,1.2 5.3,1.8 3.9,2.1 1.4,2.3 0,3.6-1.4-.5-3.9-.8-5.3-1.3-5.3-1.7-3.9-2.1-1.4-2.3zM1194.4,1085.1l.1-.3 .3-.2 .5-.2 .7-.2 .9-.2 1-.2-.1,6.3-1-.2-.9-.2-.7-.3-.5-.2-.3-.3-.1-.2z"/>
<path fill="#1ba894" d="M1209.6,1045.2l-1.7,.6-4.6,.4-6.3,.6-6.3,1-4.6,1.5-1.9,2-.3,2.8 1.7-.5 4.6-.4 6.3-.6 6.3-1 4.6-1.5 1.9-2zM1207.9,1062.2l-1.7,.5-4.6,.4-6.2,.6-6.3,1-4.7,1.5-1.8,2-.3,2.9 1.7-.6 4.6-.4 6.2-.6 6.3-1 4.7-1.5 1.8-2zM1206.2,1079.1l-1.7,.5-4.5,.4-6.3,.7-6.3,1-4.7,1.5-1.8,1.9-.3,2.9 1.7-.5 4.6-.5 6.2-.6 6.3-1 4.7-1.5 1.9-2zM1204.6,1096l-.9,.4-2.4,.1-3.7-.7-4.3-.6-4.5-.4-4.1-.1-.5,5.1 4,.7 4.5,.5 4.4,.2 3.7,.1 2.5-1 1-1.4z"/>
<path fill="#20c8b0" stroke="#147c6d" stroke-width=".5" d="M1185.9,1034l1.6,.7 4.4,1.2 6,1.7 6,2.3 4.3,2.5 1.4,2.5-.3,3.6-1.6-.7-4.5-1.2-6-1.8-5.9-2.2-4.3-2.5-1.4-2.5zM1184.3,1050.9l1.5,.7 4.5,1.2 6,1.8 5.9,2.2 4.3,2.5 1.4,2.5-.3,3.6-1.6-.7-4.4-1.2-6-1.8-6-2.2-4.3-2.5-1.4-2.5zM1182.6,1067.8l1.6,.7 4.4,1.2 6,1.8 6,2.2 4.3,2.5 1.4,2.5-.4,3.6-1.6-.7-4.4-1.2-6-1.8-6-2.2-4.2-2.5-1.5-2.5zM1180.9,1084.8l1.6,.6 4.4,1.2 6,1.8 6,2.3 4.3,2.5 1.4,2.4-.3,3.6-1.6-.7-4.4-1.2-6.1-1.7-5.9-2.3-4.3-2.5-1.4-2.5z"/>
<path fill="#1111af" d="M1215.5,1030.6l-1.1,1.2-3.2,2.3-4.5,3.1-4.4,3.4-2.9,3.3-.5,2.5 1.1,2.7 1-1.2 3.3-2.3 4.5-3.1 4.3-3.5 2.9-3.2 .6-2.5zM1221.8,1046.4l-1.1,1.2-3.2,2.2-4.5,3.1-4.4,3.5-2.9,3.3-.5,2.5 1.1,2.7 1-1.2 3.3-2.3 4.5-3.1 4.4-3.5 2.9-3.2 .5-2.5zM1228.1,1062.2l-1,1.1-3.3,2.3-4.5,3.1-4.3,3.5-2.9,3.3-.6,2.5 1.1,2.6 1.1-1.1 3.2-2.3 4.5-3.1 4.4-3.5 2.9-3.2 .5-2.6zM1234.3,1077.7l-.4-.2-1,0-1.5,.3-1.9,.6-2.2,.7-2.4,.8 2.1,5.4 2.4-1 2.1-1 1.7-1 1.3-.8 .7-.7 .2-.4z"/>
<path fill="#1414d0" stroke="#0c0c81" stroke-width=".5" d="M1192.5,1030.3l1.5-.1 3.9-.7 5.3-.9 5.6-.4 4.4,.4 2.2,1.7 1.3,3.3-1.5,.1-3.9,.7-5.4,.9-5.5,.4-4.4-.5-2.2-1.6zM1198.8,1046.1l1.5-.1 3.9-.7 5.4-.9 5.5-.4 4.4,.4 2.2,1.7 1.3,3.3-1.5,0-3.9,.8-5.4,.9-5.5,.4-4.4-.5-2.2-1.6zM1205.1,1061.8l1.5,0 3.9-.7 5.4-.9 5.5-.5 4.4,.5 2.2,1.6 1.3,3.4-1.5,0-3.9,.8-5.4,.9-5.5,.4-4.4-.5-2.2-1.6zM1211.4,1077.6l1.5,0 3.9-.8 5.4-.8 5.5-.5 4.4,.5 2.1,1.4 1.3,3.3-1.4,.3-3.9,.8-5.3,.8-5.6,.5-4.4-.5-2.2-1.6z"/>
<path fill="url(#b48)" d="M1243.1,957.6l-1.8,.6-4.9,.7-6.8,1-6.8,1.3-5,1.7-1.9,2.1-.1,2.9 1.8-.7 5-.6 6.7-1 6.8-1.3 5-1.7 1.9-2.1zM1242.4,974.6l-1.8,.6-5,.7-6.7,.9-6.8,1.4-5,1.7-1.9,2.1-.1,2.8 1.8-.6 5-.7 6.7-.9 6.8-1.3 5-1.8 1.9-2zM1241.7,991.6l-1.8,.6-5,.7-6.7,.9-6.8,1.4-5,1.7-1.9,2.1-.1,2.8 1.8-.6 5-.7 6.7-.9 6.8-1.3 5-1.8 1.9-2zM1241,1008.6l-1.8,.6-5,.7-6.7,.9-6.8,1.3-5,1.8-1.9,2-.1,2.9 1.8-.6 5-.7 6.7-.9 6.8-1.4 5-1.7 1.9-2.1zM1240.3,1025.6l-1.8,.6-5,.7-6.7,.9-6.8,1.3-5,1.8-1.9,2-.1,2.9 1.8-.6 5-.7 6.7-.9 6.8-1.4 5-1.7 1.9-2.1zM1239.6,1042.5l-1.8,.7-5,.6-6.7,1-6.8,1.3-5,1.8-1.9,2-.1,2.9 1.8-.6 4.9-.7 6.8-1 6.8-1.3 5-1.7 1.9-2.1zM1238.9,1059.5l-1.8,.6-5,.7-6.8,1-6.7,1.3-5,1.7-1.9,2.1-.1,2.9 1.8-.6 4.9-.7 6.8-1 6.8-1.3 5-1.7 1.9-2.1z"/>
<path fill="url(#f48)" stroke="#1a865f" stroke-width=".5" d="M1216.6,947.6l1.8,.6 4.9,1 6.7,1.4 6.6,2 4.8,2.3 1.7,2.4-.1,3.6-1.8-.6-4.9-1-6.6-1.5-6.7-1.9-4.8-2.3-1.7-2.4zM1215.9,964.6l1.8,.6 4.9,1 6.7,1.4 6.6,2 4.8,2.2 1.7,2.4-.1,3.6-1.8-.6-4.9-.9-6.6-1.5-6.7-1.9-4.8-2.3-1.7-2.4zM1215.2,981.6l1.8,.6 4.9,1 6.7,1.4 6.6,2 4.8,2.2 1.7,2.4-.1,3.6-1.8-.6-4.9-.9-6.6-1.5-6.7-1.9-4.8-2.3-1.7-2.4zM1214.5,998.6l1.8,.6 4.9,1 6.6,1.4 6.7,1.9 4.8,2.3 1.7,2.4-.1,3.6-1.8-.6-4.9-.9-6.6-1.5-6.7-1.9-4.8-2.3-1.7-2.4zM1213.8,1015.6l1.8,.6 4.9,.9 6.6,1.5 6.7,1.9 4.8,2.3 1.7,2.4-.1,3.6-1.8-.6-4.9-1-6.7-1.4-6.6-2-4.8-2.2-1.7-2.4zM1213.1,1032.6l1.8,.6 4.9,.9 6.6,1.5 6.7,1.9 4.8,2.3 1.7,2.4-.1,3.6-1.8-.6-4.9-1-6.7-1.4-6.6-2-4.8-2.2-1.7-2.4zM1212.4,1049.6l1.8,.5 4.9,1 6.6,1.5 6.7,1.9 4.8,2.3 1.7,2.4-.1,3.6-1.8-.6-4.9-1-6.7-1.4-6.6-2-4.8-2.3-1.7-2.3zM1211.7,1066.5l.7,.4 2.1-.2 3.3-.3 4-.1 4.4,.2 4.3,.3-.3,6.9-4.3-.1-4.4-.2-4-.4-3.2-.5-2.1-.9-.7-1.5z"/>
<path d="M1225.0,950.0 C1227.2,949.5 1235.0,946.7 1238.0,947.0 C1241.0,947.3 1242.2,951.2 1243.0,952.0" fill="none" stroke="#2ad89a" stroke-width="1.6" stroke-linecap="round" stroke-linejoin="round"/>
<path d="M1125.0,1067.0 C1123.8,1068.8 1117.2,1074.7 1118.0,1078.0 C1118.8,1081.3 1125.8,1086.7 1130.0,1087.0 C1134.2,1087.3 1140.8,1081.2 1143.0,1080.0" fill="none" stroke="#c8c028" stroke-width="1.5" stroke-linecap="round" stroke-linejoin="round"/>
<path d="M1140.0,1087.0 C1141.7,1088.7 1145.5,1094.3 1150.0,1097.0 C1154.5,1099.7 1162.3,1100.5 1167.0,1103.0 C1171.7,1105.5 1176.2,1110.5 1178.0,1112.0" fill="none" stroke="#70d8a0" stroke-width="1.6" stroke-linecap="round" stroke-linejoin="round"/>
<path d="M1183.0,1103.0 C1185.8,1104.2 1196.0,1107.2 1200.0,1110.0 C1204.0,1112.8 1207.5,1116.7 1207.0,1120.0 C1206.5,1123.3 1197.7,1127.8 1197.0,1130.0 C1196.3,1132.2 1199.7,1133.0 1203.0,1133.0 C1206.3,1133.0 1213.7,1132.2 1217.0,1130.0 C1220.3,1127.8 1222.5,1124.5 1223.0,1120.0 C1223.5,1115.5 1219.7,1108.5 1220.0,1103.0 C1220.3,1097.5 1224.2,1089.7 1225.0,1087.0" fill="none" stroke="#70d8a0" stroke-width="1.6" stroke-linecap="round" stroke-linejoin="round"/>
<path d="M1168.0,955.0 C1168.7,953.8 1170.0,948.8 1172.0,948.0 C1174.0,947.2 1178.7,949.7 1180.0,950.0" fill="none" stroke="#b0d040" stroke-width="1.6" stroke-linecap="round" stroke-linejoin="round"/>
<path fill="#36b55e" d="M161.2,1208.4l-.1,1.2-.8,2.8-1.1,3.9-.8,4.1 0,3.4 1.2,1.9 2.5,1.5 0-1.2 .9-2.8 1.1-3.9 .8-4.1-.1-3.4-1.1-1.9zM174.1,1216.1l-.1,1.2-.9,2.8-1.1,3.9-.7,4.1 0,3.4 1.2,1.9 2.4,1.5 .1-1.2 .9-2.8 1.1-3.9 .8-4.1-.1-3.4-1.1-1.9zM184.8,1222.5l-.1,0-.2,0-.2,.1-.2,.1-.2,.1-.2,.3 3.7,2.2 0-.4 0-.2 .1-.3-.1-.2 0-.1-.1-.1z"/>
<path fill="#40d870" stroke="#288645" stroke-width=".5" d="M146.4,1217.8l.9-.7 1.9-2.2 2.9-2.8 3.3-2.6 3.1-1.5 2.4,.2 3.1,1.9-.8,.7-2,2.1-2.9,2.9-3.3,2.6-3.1,1.5-2.4-.3zM159.3,1225.5l.8-.7 2-2.2 2.9-2.8 3.3-2.6 3.1-1.5 2.4,.2 3.1,1.9-.9,.7-2,2.2-2.8,2.8-3.3,2.6-3.1,1.5-2.4-.2zM172.1,1233.2l.9-.7 2-2.1 2.9-2.9 3.2-2.6 2.1-2.1 1.3-.4 3.1,1.8 .2,1.4-.9,2.8-2.9,2.8-3.3,2.6-3.1,1.5-2.4-.2z"/>
<path d="M175.0,1213.0 C176.7,1212.0 182.8,1207.2 185.0,1207.0 C187.2,1206.8 188.8,1209.8 188.0,1212.0 C187.2,1214.2 181.3,1218.7 180.0,1220.0" fill="none" stroke="#50e080" stroke-width="1.6" stroke-linecap="round" stroke-linejoin="round"/>
<path d="M152.0,1232.0 C151.3,1233.7 146.7,1239.0 148.0,1242.0 C149.3,1245.0 158.0,1248.7 160.0,1250.0" fill="none" stroke="#70d8a0" stroke-width="1.5" stroke-linecap="round" stroke-linejoin="round"/>
<path fill="#d6511b" d="M188.2,1253.7l-1.1,.7-2.8,1.1-3.8,1.4-3.9,1.7-2.8,2.1-.9,2.2 .1,2.9 1-.8 2.9-1 3.8-1.4 3.9-1.8 2.7-2.1 1-2.1zM188.9,1270.7l-1,.7-2.8,1-3.9,1.4-3.8,1.8-2.8,2.1-.9,2.2 .1,2.9 1-.8 2.9-1 3.8-1.4 3.9-1.8 2.7-2.1 1-2.2zM189.7,1287.7l-.3,.1-1-.3-1.6-.3-2-.1-2.2,0-2.3,.1 .3,5.7 2.3-.1 2.2-.2 2-.3 1.5-.4 1-.4 .3-1z"/>
<path fill="#ff6020" stroke="#9e3c14" stroke-width=".5" d="M172.1,1245.6l1.1,.4 2.9,.7 3.9,.9 4,1.5 3,2 1.1,2.2 .2,3.6-1.1-.4-2.9-.7-3.9-1-4-1.4-3-2-1.1-2.2zM172.9,1262.5l1,.5 2.9,.6 4,1 4,1.5 3,1.9 1.1,2.3 .2,3.6-1.1-.5-2.9-.6-3.9-1-4-1.5-3-1.9-1.2-2.3zM173.7,1279.5l1,.5 2.9,.6 4,1 4,1.5 3,1.9 1.1,2.3 .2,3.6-1.1-.5-2.9-.6-4-1-3.9-1.5-3-1.9-1.2-2.3z"/>
<path fill="url(#b49)" d="M158.4,1262.1l-1.8,.7-4.9,.8-6.7,1.3-6.7,1.6-4.9,1.9-1.8,2.2 0,2.8 1.8-.7 4.9-.8 6.7-1.3 6.7-1.6 4.9-1.9 1.8-2.2zM158.4,1279.1l-1.8,.7-4.9,.8-6.7,1.3-6.7,1.6-4.9,1.9-1.8,2.2 0,2.8 1.8-.7 4.9-.8 6.7-1.3 6.7-1.6 4.9-1.9 1.8-2.2zM158.4,1296.1l-1.8,.7-4.9,.8-6.7,1.3-6.7,1.6-4.9,1.9-1.8,2.2 0,2.8 1.8-.7 4.9-.8 6.7-1.3 6.7-1.6 4.9-1.9 1.8-2.2zM158.4,1313.1l-1.8,.7-4.9,.8-6.7,1.3-6.7,1.6-4.9,1.9-1.8,2.2 0,2.8 1.8-.7 4.9-.8 6.7-1.3 6.7-1.6 4.9-1.9 1.8-2.2zM158.4,1330.1l-1.8,.7-4.9,.8-6.7,1.3-6.7,1.6-4.9,1.9-1.8,2.2 0,2.8 1.8-.7 4.9-.8 6.7-1.3 6.7-1.6 4.9-1.9 1.8-2.2zM158.4,1347.1l-1.8,.7-4.9,.8-6.7,1.3-6.7,1.6-4.9,1.3-1.8,.8 0,2.8 1.8,.8 4.9-.3 6.7-1.3 6.7-1.6 4.9-1.9 1.8-2.2z"/>
<path fill="url(#f49)" stroke="#103081" stroke-width=".5" d="M131.6,1253.2l1.8,.5 4.9,.8 6.7,1.2 6.7,1.6 4.9,2.1 1.8,2.3 0,3.6-1.8-.5-4.9-.8-6.7-1.2-6.7-1.6-4.9-2.1-1.8-2.3zM131.6,1270.2l1.8,.5 4.9,.8 6.7,1.2 6.7,1.6 4.9,2.1 1.8,2.3 0,3.6-1.8-.5-4.9-.8-6.7-1.2-6.7-1.6-4.9-2.1-1.8-2.3zM131.6,1287.2l1.8,.5 4.9,.8 6.7,1.2 6.7,1.6 4.9,2.1 1.8,2.3 0,3.6-1.8-.5-4.9-.8-6.7-1.2-6.7-1.6-4.9-2.1-1.8-2.3zM131.6,1304.2l1.8,.5 4.9,.8 6.7,1.2 6.7,1.6 4.9,2.1 1.8,2.3 0,3.6-1.8-.5-4.9-.8-6.7-1.2-6.7-1.6-4.9-2.1-1.8-2.3zM131.6,1321.2l1.8,.5 4.9,.8 6.7,1.2 6.7,1.6 4.9,2.1 1.8,2.3 0,3.6-1.8-.5-4.9-.8-6.7-1.2-6.7-1.6-4.9-2.1-1.8-2.3zM131.6,1338.2l1.8,.5 4.9,.8 6.7,1.2 6.7,1.6 4.9,2.1 1.8,2.3 0,3.6-1.8-.5-4.9-.8-6.7-1.2-6.7-1.6-4.9-2.1-1.8-2.3zM131.6,1353.2l.1-.2 .4-.3 .6-.2 .9-.2 1.1-.2 1.2-.2 0,6.2-1.2-.2-1.1-.2-.9-.2-.6-.2-.4-.3-.1-.2z"/>
<path d="M135.0,1350.0 C133.8,1351.3 128.0,1355.5 128.0,1358.0 C128.0,1360.5 132.7,1364.7 135.0,1365.0 C137.3,1365.3 140.8,1360.8 142.0,1360.0" fill="none" stroke="#1e82d4" stroke-width="1.5" stroke-linecap="round" stroke-linejoin="round"/>
<path fill="url(#b50)" d="M177.6,1255.1l-1.4,.7-3.9,.8-5.3,1.3-5.3,1.6-3.9,1.9-1.4,2.2 0,2.8 1.4-.7 3.9-.8 5.3-1.3 5.3-1.6 3.9-1.9 1.4-2.2zM177.6,1272.1l-1.4,.7-3.9,.8-5.3,1.3-5.3,1.6-3.9,1.9-1.4,2.2 0,2.8 1.4-.7 3.9-.8 5.3-1.3 5.3-1.6 3.9-1.9 1.4-2.2zM177.6,1289.1l-1.4,.7-3.9,.8-5.3,1.3-5.3,1.6-3.9,1.9-1.4,2.2 0,2.8 1.4-.7 3.9-.8 5.3-1.3 5.3-1.6 3.9-1.9 1.4-2.2zM177.6,1306.1l-1.4,.7-3.9,.8-5.3,1.3-5.3,1.6-3.9,1.9-1.4,2.2 0,2.8 1.4-.7 3.9-.8 5.3-1.3 5.3-1.6 3.9-1.9 1.4-2.2zM177.6,1323.1l-1.4,.7-3.9,.8-5.3,1.3-5.3,1.6-3.9,1.9-1.4,2.2 0,2.8 1.4-.7 3.9-.8 5.3-1.3 5.3-1.6 3.9-1.9 1.4-2.2zM177.6,1340.1l-1.4,.7-3.9,.8-5.3,1.3-5.3,1.6-3.9,1.9-1.4,2.2 0,2.8 1.4-.7 3.9-.8 5.3-1.3 5.3-1.6 3.9-1.9 1.4-2.2zM177.6,1355.6l-.1-.3-.5-.2-.7-.2-1-.2-1.3-.2-1.4-.2 0,5.4 1.4-.2 1.3-.2 1-.2 .7-.2 .5-.2 .1-.3z"/>
<path fill="url(#f50)" stroke="#147c6d" stroke-width=".5" d="M156.4,1246.2l1.4,.5 3.9,.8 5.3,1.2 5.3,1.6 3.9,2.1 1.4,2.3 0,3.6-1.4-.5-3.9-.8-5.3-1.2-5.3-1.6-3.9-2.1-1.4-2.3zM156.4,1263.2l1.4,.5 3.9,.8 5.3,1.2 5.3,1.6 3.9,2.1 1.4,2.3 0,3.6-1.4-.5-3.9-.8-5.3-1.2-5.3-1.6-3.9-2.1-1.4-2.3zM156.4,1280.2l1.4,.5 3.9,.8 5.3,1.2 5.3,1.6 3.9,2.1 1.4,2.3 0,3.6-1.4-.5-3.9-.8-5.3-1.2-5.3-1.6-3.9-2.1-1.4-2.3zM156.4,1297.2l1.4,.5 3.9,.8 5.3,1.2 5.3,1.6 3.9,2.1 1.4,2.3 0,3.6-1.4-.5-3.9-.8-5.3-1.2-5.3-1.6-3.9-2.1-1.4-2.3zM156.4,1314.2l1.4,.5 3.9,.8 5.3,1.2 5.3,1.6 3.9,2.1 1.4,2.3 0,3.6-1.4-.5-3.9-.8-5.3-1.2-5.3-1.6-3.9-2.1-1.4-2.3zM156.4,1331.2l1.4,.5 3.9,.8 5.3,1.2 5.3,1.6 3.9,2.1 1.4,2.3 0,3.6-1.4-.5-3.9-.8-5.3-1.2-5.3-1.6-3.9-2.1-1.4-2.3zM156.4,1348.2l1.4,.5 3.9,.8 5.3,1.2 5.3,1.6 3.9,2 1.4,.9 0,3.6-1.4,.9-3.9-.7-5.3-1.2-5.3-1.6-3.9-2.1-1.4-2.3z"/>
<path fill="#1111af" d="M201.9,1251l-1.5,.6-3.9,.5-5.4,.7-5.5,1.1-4.1,1.6-1.6,2-.3,2.8 1.5-.5 4-.5 5.4-.7 5.5-1.1 4-1.6 1.6-2zM200.3,1268l-1.5,.5-4,.5-5.4,.7-5.4,1.1-4.1,1.6-1.6,2-.3,2.9 1.5-.6 4-.5 5.4-.7 5.4-1.1 4.1-1.6 1.6-2zM198.7,1284.9l-1.5,.5-4,.6-5.4,.7-5.4,1.1-4.1,1.5-1.6,2-.3,2.9 1.5-.6 3.9-.5 5.5-.7 5.4-1.1 4.1-1.6 1.6-1.9zM197,1301.8l-1.4,.6-4,.5-5.4,.7-5.5,1.1-4,1.5-1.7,2-.2,2.9 1.5-.6 3.9-.5 5.4-.7 5.5-1.1 4-1.5 1.7-2zM195.4,1318.7l-1.5,.6-3.9,.5-5.4,.7-5.5,1.1-4.1,1.6-1.6,2-.3,2.8 1.5-.5 4-.5 5.4-.8 5.5-1 4-1.6 1.6-2zM193.8,1335.7l-1.5,.5-4,.5-5.4,.7-5.4,1.1-4.1,1.6-1.6,2-.3,2.8 1.5-.5 4-.5 5.4-.7 5.4-1.1 4.1-1.6 1.6-2zM192.2,1352.6l-1.5,.5-4,.5-5.4,.8-5.4,1.1-4.1,1.5-1.6,2-.3,2.9 1.5-.6 3.9-.5 5.5-.7 5.4-1.1 4.1-1.6 1.6-2zM190.7,1367.6l-.1-.2-.3-.3-.5-.2-.7-.3-.9-.2-1-.3-.5,5.1 1.1-.1 .9,0 .7-.1 .6-.2 .3-.2 .2-.1z"/>
<path fill="#1414d0" stroke="#0c0c81" stroke-width=".5" d="M181.6,1240.2l1.4,.6 3.8,1.2 5.1,1.6 5.2,2.2 3.7,2.4 1.2,2.5-.4,3.6-1.4-.7-3.8-1.1-5.2-1.7-5.1-2.1-3.7-2.5-1.2-2.4zM180,1257.1l1.3,.7 3.8,1.1 5.2,1.7 5.2,2.1 3.6,2.5 1.2,2.4-.3,3.6-1.4-.7-3.8-1.1-5.2-1.7-5.1-2.1-3.7-2.5-1.2-2.4zM178.3,1274l1.4,.7 3.8,1.1 5.2,1.7 5.1,2.2 3.7,2.4 1.2,2.4-.3,3.6-1.4-.6-3.8-1.2-5.2-1.6-5.1-2.2-3.7-2.4-1.2-2.5zM176.7,1291l1.4,.6 3.8,1.1 5.2,1.7 5.1,2.2 3.7,2.4 1.2,2.5-.4,3.5-1.3-.6-3.8-1.1-5.2-1.7-5.2-2.2-3.6-2.4-1.2-2.5zM175.1,1307.9l1.4,.6 3.8,1.2 5.1,1.6 5.2,2.2 3.7,2.4 1.2,2.5-.4,3.6-1.4-.7-3.8-1.1-5.1-1.7-5.2-2.2-3.7-2.4-1.2-2.4zM173.5,1324.8l1.3,.7 3.8,1.1 5.2,1.7 5.2,2.1 3.6,2.5 1.2,2.4-.3,3.6-1.4-.7-3.8-1.1-5.2-1.7-5.1-2.1-3.7-2.5-1.2-2.4zM171.8,1341.7l1.4,.7 3.8,1.1 5.2,1.7 5.1,2.1 3.7,2.5 1.2,2.4-.3,3.6-1.4-.6-3.8-1.2-5.2-1.7-5.1-2.1-3.7-2.4-1.2-2.5zM170.2,1358.6l1.4,.7 3.8,1.1 5.2,1.7 5.1,2.2 3.7,1.9 1.4,1-.4,3.6-1.5,.8-3.8-.7-5.2-1.6-5.2-2.2-3.6-2.4-1.2-2.5z"/>
<path fill="#1ba894" d="M209.8,1237.1l-1.6,.7-4.3,.8-5.9,1.3-5.9,1.6-4.3,1.9-1.6,2.2 0,2.8 1.6-.7 4.3-.8 5.9-1.3 5.9-1.6 4.3-1.9 1.6-2.2zM209.8,1254.1l-1.6,.7-4.3,.8-5.9,1.3-5.9,1.6-4.3,1.9-1.6,2.2 0,2.8 1.6-.7 4.3-.8 5.9-1.3 5.9-1.6 4.3-1.9 1.6-2.2zM209.8,1271.1l-1.6,.7-4.3,.8-5.9,1.3-5.9,1.6-4.3,1.9-1.6,2.2 0,2.8 1.6-.7 4.3-.8 5.9-1.3 5.9-1.6 4.3-1.9 1.6-2.2zM209.8,1288.1l-1.6,.7-4.3,.8-5.9,1.3-5.9,1.6-4.3,1.9-1.6,2.2 0,2.8 1.6-.7 4.3-.8 5.9-1.3 5.9-1.6 4.3-1.9 1.6-2.2zM209.8,1305.1l-1.6,.7-4.3,.8-5.9,1.3-5.9,1.6-4.3,1.9-1.6,2.2 0,2.8 1.6-.7 4.3-.8 5.9-1.3 5.9-1.6 4.3-1.9 1.6-2.2zM209.8,1322.1l-1.6,.7-4.3,.8-5.9,1.3-5.9,1.6-4.3,1.9-1.6,2.2 0,2.8 1.6-.7 4.3-.8 5.9-1.3 5.9-1.6 4.3-1.9 1.6-2.2zM209.8,1339.1l-1.6,.7-4.3,.8-5.9,1.3-5.9,1.6-4.3,1.9-1.6,2.2 0,2.8 1.6-.7 4.3-.8 5.9-1.3 5.9-1.6 4.3-1.9 1.6-2.2zM209.8,1356.1l-1.6,.7-4.3,.8-5.9,1.3-5.9,1.6-4.3,1.9-1.6,2.2 0,2.8 1.6-.7 4.3-.8 5.9-1.3 5.9-1.6 4.3-1.9 1.6-2.2z"/>
<path fill="#20c8b0" stroke="#147c6d" stroke-width=".5" d="M186.2,1228.2l1.6,.5 4.3,.8 5.9,1.2 5.9,1.6 4.3,2.1 1.6,2.3 0,3.6-1.6-.5-4.3-.8-5.9-1.2-5.9-1.6-4.3-2.1-1.6-2.3zM186.2,1245.2l1.6,.5 4.3,.8 5.9,1.2 5.9,1.6 4.3,2.1 1.6,2.3 0,3.6-1.6-.5-4.3-.8-5.9-1.2-5.9-1.6-4.3-2.1-1.6-2.3zM186.2,1262.2l1.6,.5 4.3,.8 5.9,1.2 5.9,1.6 4.3,2.1 1.6,2.3 0,3.6-1.6-.5-4.3-.8-5.9-1.2-5.9-1.6-4.3-2.1-1.6-2.3zM186.2,1279.2l1.6,.5 4.3,.8 5.9,1.2 5.9,1.6 4.3,2.1 1.6,2.3 0,3.6-1.6-.5-4.3-.8-5.9-1.2-5.9-1.6-4.3-2.1-1.6-2.3zM186.2,1296.2l1.6,.5 4.3,.8 5.9,1.2 5.9,1.6 4.3,2.1 1.6,2.3 0,3.6-1.6-.5-4.3-.8-5.9-1.2-5.9-1.6-4.3-2.1-1.6-2.3zM186.2,1313.2l1.6,.5 4.3,.8 5.9,1.2 5.9,1.6 4.3,2.1 1.6,2.3 0,3.6-1.6-.5-4.3-.8-5.9-1.2-5.9-1.6-4.3-2.1-1.6-2.3zM186.2,1330.2l1.6,.5 4.3,.8 5.9,1.2 5.9,1.6 4.3,2.1 1.6,2.3 0,3.6-1.6-.5-4.3-.8-5.9-1.2-5.9-1.6-4.3-2.1-1.6-2.3zM186.2,1347.2l1.6,.5 4.3,.8 5.9,1.2 5.9,1.6 4.3,2.1 1.6,2.3 0,3.6-1.6-.5-4.3-.8-5.9-1.2-5.9-1.6-4.3-2.1-1.6-2.3zM186.2,1364.2l1.5,.5 4.1,.7 5.7,1 5.7,.2 4.5,.6 2,.8 0,4-2,.8-4.5,.6-5.7,.2-5.7-1.5-4.1-2-1.5-2.3z"/>
<path fill="#d62319" d="M209.9,1293.9l-.9,.7-2.4,1-3.4,1.3-3.3,1.7-2.4,1.9-.9,2.2 .1,2.9 .9-.7 2.4-1 3.3-1.3 3.4-1.7 2.4-2 .8-2.1zM210.3,1310.9l-.9,.7-2.5,1-3.3,1.3-3.3,1.6-2.4,2-.9,2.2 .1,2.9 .9-.7 2.4-1 3.3-1.3 3.3-1.7 2.5-2 .8-2.1zM210.6,1327.9l-.5,.6-1.6,.6-2.4,0-2.8,0-2.6,.3-2.1,.4 .1,4.6 2.1,.4 2.6,.1 2.8-.1 2.4-.7 1.6-1.6 .5-1.7z"/>
<path fill="#ff2a1e" stroke="#9e1a13" stroke-width=".5" d="M196.2,1285.3l1,.5 2.4,.7 3.4,1.1 3.4,1.6 2.5,2.1 1,2.2 0,3.6-.9-.4-2.4-.8-3.4-1.1-3.4-1.5-2.5-2.1-1-2.3zM196.6,1302.3l.9,.5 2.5,.7 3.4,1.1 3.4,1.6 2.5,2 .9,2.3 .1,3.6-.9-.5-2.5-.7-3.3-1.1-3.4-1.5-2.5-2.1-1-2.3zM197,1319.3l.9,.5 2.5,.7 3.4,1.1 3.4,1.6 2.5,2 .9,2.3 .1,3.6-.9-.5-2.5-.7-3.4-1.1-3.4-1.5-2.5-2.1-.9-2.3z"/>
<path fill="#94af36" d="M221.8,1289.1l-1.6,.7-4.3,.8-5.9,1.3-5.9,1.6-4.3,1.9-1.6,2.2 0,2.8 1.6-.7 4.3-.8 5.9-1.3 5.9-1.6 4.3-1.9 1.6-2.2zM221.8,1306.1l-1.6,.7-4.3,.8-5.9,1.3-5.9,1.6-4.3,1.9-1.6,2.2 0,2.8 1.6-.7 4.3-.8 5.9-1.3 5.9-1.6 4.3-1.9 1.6-2.2zM221.8,1323.1l-1.6,.7-4.3,.8-5.9,1.3-5.9,1.6-4.3,1.9-1.6,2.2 0,2.8 1.6-.7 4.3-.8 5.9-1.3 5.9-1.6 4.3-1.9 1.6-2.2zM221.8,1340.1l-1.6,.7-4.3,.8-5.9,1.3-5.9,1.6-4.3,1.9-1.6,2.2 0,2.8 1.6-.7 4.3-.8 5.9-1.3 5.9-1.6 4.3-1.9 1.6-2.2zM221.8,1357.1l-1.6,.7-4.3,.8-5.9,1.3-5.9,1.6-4.3,1.9-1.6,2.2 0,2.8 1.6-.7 4.3-.8 5.9-1.3 5.9-1.6 4.3-1.9 1.6-2.2z"/>
<path fill="#b0d040" stroke="#6d8128" stroke-width=".5" d="M198.2,1280.2l1.6,.5 4.3,.8 5.9,1.2 5.9,1.6 4.3,2.1 1.6,2.3 0,3.6-1.6-.5-4.3-.8-5.9-1.2-5.9-1.6-4.3-2.1-1.6-2.3zM198.2,1297.2l1.6,.5 4.3,.8 5.9,1.2 5.9,1.6 4.3,2.1 1.6,2.3 0,3.6-1.6-.5-4.3-.8-5.9-1.2-5.9-1.6-4.3-2.1-1.6-2.3zM198.2,1314.2l1.6,.5 4.3,.8 5.9,1.2 5.9,1.6 4.3,2.1 1.6,2.3 0,3.6-1.6-.5-4.3-.8-5.9-1.2-5.9-1.6-4.3-2.1-1.6-2.3zM198.2,1331.2l1.6,.5 4.3,.8 5.9,1.2 5.9,1.6 4.3,2.1 1.6,2.3 0,3.6-1.6-.5-4.3-.8-5.9-1.2-5.9-1.6-4.3-2.1-1.6-2.3zM198.2,1348.2l1.6,.5 4.3,.8 5.9,1.2 5.9,1.6 4.3,2.1 1.6,2.3 0,3.6-1.6-.5-4.3-.8-5.9-1.2-5.9-1.6-4.3-2.1-1.6-2.3zM198.2,1365.2l1.2,.4 3.2,.6 4.7,.2 5.2,0 4.7,.4 3.3,.6 0,5.2-3.3,.6-4.7,.4-5.2,0-4.7-1-3.2-1.8-1.2-2z"/>
<path fill="url(#b51)" d="M243.6,1256.8l-1.8,.7-4.9,1-6.7,1.4-6.7,1.7-4.9,2-1.7,2.2 0,2.9 1.8-.7 4.9-1 6.7-1.4 6.7-1.7 4.9-2 1.7-2.2zM243.9,1273.8l-1.8,.7-4.9,1-6.7,1.4-6.7,1.7-4.9,2-1.7,2.2 0,2.9 1.8-.7 4.9-1 6.7-1.4 6.7-1.7 4.9-2 1.7-2.2zM244.2,1290.8l-1.8,.7-4.9,1-6.7,1.4-6.7,1.7-4.9,2-1.7,2.2 0,2.9 1.8-.7 4.9-1 6.7-1.4 6.7-1.7 4.9-2 1.8-2.2zM244.5,1307.8l-1.8,.7-4.9,1-6.7,1.4-6.7,1.7-4.8,2-1.8,2.2 .1,2.9 1.7-.8 4.9-.9 6.7-1.4 6.7-1.7 4.9-2.1 1.8-2.1zM244.8,1324.8l-1.7,.7-4.9,1-6.7,1.4-6.7,1.7-4.9,2-1.8,2.2 .1,2.9 1.8-.8 4.9-.9 6.7-1.4 6.7-1.7 4.8-2.1 1.8-2.1zM245.2,1341.8l-1.8,.7-4.9,1-6.7,1.4-6.7,1.7-4.9,2-1.8,2.2 .1,2.9 1.8-.8 4.9-.9 6.7-1.4 6.7-1.7 4.9-2.1 1.7-2.1z"/>
<path fill="url(#f51)" stroke="#7c7719" stroke-width=".5" d="M216.5,1248.5l1.8,.4 5,.7 6.7,1 6.8,1.6 4.9,2 1.9,2.2 0,3.6-1.8-.4-4.9-.7-6.8-1.1-6.7-1.5-5-2-1.8-2.2zM216.8,1265.4l1.9,.5 4.9,.7 6.7,1 6.8,1.6 4.9,2 1.9,2.2 0,3.6-1.8-.4-4.9-.7-6.7-1.1-6.8-1.5-4.9-2-1.9-2.3zM217.2,1282.4l1.8,.5 4.9,.7 6.7,1 6.8,1.6 5,2 1.8,2.2 .1,3.6-1.8-.4-5-.7-6.7-1.1-6.8-1.5-4.9-2-1.9-2.3zM217.5,1299.4l1.8,.5 4.9,.7 6.8,1 6.7,1.6 5,2 1.8,2.2 .1,3.6-1.8-.4-5-.7-6.7-1.1-6.8-1.5-4.9-2-1.9-2.3zM217.8,1316.4l1.8,.5 4.9,.7 6.8,1 6.7,1.6 5,2 1.8,2.2 .1,3.6-1.8-.4-4.9-.7-6.8-1.1-6.7-1.5-5-2-1.8-2.3zM218.1,1333.4l1.8,.5 5,.7 6.7,1 6.8,1.6 4.9,2 1.9,2.2 0,3.6-1.8-.5-4.9-.6-6.8-1.1-6.7-1.5-5-2-1.8-2.3zM218.4,1350.4l1.8,.5 5,.7 6.7,1 6.8,.9 4.9,.6 1.8,.8 .1,3.6-1.8,1-4.9,.7-6.7-.4-6.8-1.5-5-2-1.8-2.3z"/>
<path d="M170.0,1368.0 C170.8,1370.0 175.3,1377.2 175.0,1380.0 C174.7,1382.8 169.2,1384.2 168.0,1385.0" fill="none" stroke="#1a4ed0" stroke-width="1.5" stroke-linecap="round" stroke-linejoin="round"/>
<path d="M173.0,1382.0 C153.9,1388.4 137.8,1407.0 147.0,1411.0 C152.0,1419.7 168.7,1401.7 173.0,1382.0Z" fill="#20c8a0" stroke="#189678" stroke-width="0.8"/>
<path d="M169.0,1386.5 C158.8,1390.4 144.3,1406.9 149.7,1408.0 C151.3,1413.3 166.2,1397.0 169.0,1386.5Z" fill="#f2faf6"/>
<path fill="#23b581" d="M374.2,1221.9l-.3,1.4-1.4,3-2.1,4.2-1.7,4.4-.7,3.8 .8,2.3 2.2,1.9 .2-1.4 1.5-3 2.1-4.2 1.7-4.4 .7-3.8-.8-2.3zM387,1233.1l-.3,1.4-1.4,3-2.1,4.2-1.7,4.4-.7,3.8 .8,2.3 2.2,1.9 .2-1.4 1.5-3 2.1-4.2 1.7-4.4 .7-3.8-.8-2.3zM399.8,1244.3l-.3,1.4-1.5,3-2,4.2-1.7,4.4-.7,3.8 .8,2.3 2.2,1.9 .2-1.4 1.5-3 2.1-4.2 1.7-4.4 .7-3.8-.8-2.3z"/>
<path fill="#2ad89a" stroke="#1a865f" stroke-width=".5" d="M355.7,1229.6l1.2-.6 2.8-2 3.8-2.6 4.2-2.3 3.7-1.1 2.5,.7 2.8,2.3-1.2,.6-2.8,2-3.8,2.6-4.2,2.2-3.7,1.2-2.5-.7zM368.5,1240.8l1.2-.6 2.7-2 3.9-2.6 4.2-2.3 3.7-1.1 2.5,.7 2.7,2.3-1.1,.6-2.8,2-3.8,2.6-4.2,2.2-3.7,1.1-2.6-.6zM381.3,1251.9l1.2-.5 2.7-2 3.9-2.6 4.2-2.3 3.7-1.1 2.5,.7 2.7,2.3-1.1,.6-2.8,2-3.8,2.6-4.2,2.2-3.7,1.1-2.6-.6zM394.1,1263.1l.8-.2 1.6-1.2 1.7-2.4 2.1-2.7 2.4-2.5 2.2-1.9 4.6,4-1.6,2.4-2.2,2.7-2.3,2.5-2.3,2-2.5,.4-1.8-.7z"/>
<ellipse cx="380" cy="1272" rx="8" ry="8" fill="none" stroke="#20c8b0" stroke-width="1.6"/>
<path fill="#94af36" d="M399.8,1283.1l-1,.7-2.9,.8-3.9,1.3-3.9,1.6-2.9,1.9-1,2.2 0,2.8 1-.7 2.9-.8 3.9-1.3 3.9-1.6 2.9-1.9 1-2.2zM399.8,1300.1l-1,.7-2.9,.8-3.9,1.3-3.9,1.6-2.9,1.9-1,2.2 0,2.8 1-.7 2.9-.8 3.9-1.3 3.9-1.6 2.9-1.9 1-2.2zM399.8,1317.1l-1,.7-2.9,.8-3.9,1.3-3.9,1.6-2.9,1.9-1,2.2 0,2.8 1-.7 2.9-.8 3.9-1.3 3.9-1.6 2.9-1.9 1-2.2zM399.8,1334.1l-1,.7-2.9,.8-3.9,1.3-3.9,1.6-2.9,1.9-1,2.2 0,2.8 1-.7 2.9-.8 3.9-1.3 3.9-1.6 2.9-1.9 1-2.2z"/>
<path fill="#b0d040" stroke="#6d8128" stroke-width=".5" d="M384.2,1274.2l1,.5 2.9,.8 3.9,1.2 3.9,1.6 2.9,2.1 1,2.3 0,3.6-1-.5-2.9-.8-3.9-1.2-3.9-1.6-2.9-2.1-1-2.3zM384.2,1291.2l1,.5 2.9,.8 3.9,1.2 3.9,1.6 2.9,2.1 1,2.3 0,3.6-1-.5-2.9-.8-3.9-1.2-3.9-1.6-2.9-2.1-1-2.3zM384.2,1308.2l1,.5 2.9,.8 3.9,1.2 3.9,1.6 2.9,2.1 1,2.3 0,3.6-1-.5-2.9-.8-3.9-1.2-3.9-1.6-2.9-2.1-1-2.3zM384.2,1325.2l1,.5 2.9,.8 3.9,1.2 3.9,1.6 2.9,2.1 1,2.3 0,3.6-1-.5-2.9-.8-3.9-1.2-3.9-1.6-2.9-2.1-1-2.3zM384.2,1342.2l.5,.4 1.7,.3 2.4-.3 3-.2 2.9,.1 2.6,.4 0,6.2-2.6,.4-2.9,.1-3-.2-2.4-.3-1.7-1.6-.5-1.7z"/>
<path fill="url(#b52)" d="M443.1,1292.1l-1.4,.7-3.7,.8-5,1.3-5,1.6-3.7,1.9-1.4,2.2 0,2.8 1.4-.7 3.7-.8 5-1.3 5-1.6 3.7-1.9 1.4-2.2zM443.1,1309.1l-1.4,.7-3.7,.8-5,1.3-5,1.6-3.7,1.9-1.4,2.2 0,2.8 1.4-.7 3.7-.8 5-1.3 5-1.6 3.7-1.9 1.4-2.2zM443.1,1326.1l-1.4,.7-3.7,.8-5,1.3-5,1.6-3.7,1.9-1.4,2.2 0,2.8 1.4-.7 3.7-.8 5-1.3 5-1.6 3.7-1.9 1.4-2.2zM443.1,1343.1l-1.4,.7-3.7,.8-5,1.3-5,1.6-3.7,1.9-1.4,2.2 0,2.8 1.4-.7 3.7-.8 5-1.3 5-1.6 3.7-1.9 1.4-2.2z"/>
<path fill="url(#f52)" stroke="#8b6814" stroke-width=".5" d="M422.9,1283.2l1.4,.5 3.7,.8 5,1.2 5,1.6 3.7,2.1 1.4,2.3 0,3.6-1.4-.5-3.7-.8-5-1.2-5-1.6-3.7-2.1-1.4-2.3zM422.9,1300.2l1.4,.5 3.7,.8 5,1.2 5,1.6 3.7,2.1 1.4,2.3 0,3.6-1.4-.5-3.7-.8-5-1.2-5-1.6-3.7-2.1-1.4-2.3zM422.9,1317.2l1.4,.5 3.7,.8 5,1.2 5,1.6 3.7,2.1 1.4,2.3 0,3.6-1.4-.5-3.7-.8-5-1.2-5-1.6-3.7-2.1-1.4-2.3zM422.9,1334.2l1.4,.5 3.7,.8 5,1.2 5,1.6 3.7,2.1 1.4,2.3 0,3.6-1.4-.5-3.7-.8-5-1.2-5-1.6-3.7-2.1-1.4-2.3zM422.9,1351.2l.8,.4 2.1,.3 3.1-.3 3.8-.2 3.8,.1 3.3,.4 0,6.2-3.3,.4-3.8,.1-3.8-.2-3.1-.3-2.1-1.6-.8-1.7z"/>
<path fill="url(#b53)" d="M418.7,1261.5l-1.8,.8-4.8,1.1-6.7,1.5-6.6,1.8-4.9,2.2-1.7,2.2 .1,2.9 1.8-.8 4.9-1.1 6.6-1.5 6.7-1.9 4.8-2.1 1.7-2.2zM419.4,1278.5l-1.8,.8-4.8,1.1-6.7,1.4-6.7,1.9-4.8,2.2-1.7,2.2 .1,2.9 1.8-.8 4.9-1.1 6.6-1.5 6.7-1.9 4.8-2.1 1.7-2.2zM420.1,1295.5l-1.8,.7-4.9,1.1-6.6,1.5-6.7,1.9-4.8,2.2-1.7,2.2 .1,2.8 1.8-.7 4.9-1.1 6.6-1.5 6.7-1.9 4.8-2.1 1.7-2.2zM420.8,1312.5l-1.8,.7-4.9,1.1-6.6,1.5-6.7,1.9-4.8,2.1-1.7,2.3 .1,2.8 1.8-.7 4.8-1.1 6.7-1.5 6.7-1.9 4.8-2.1 1.7-2.3zM421.5,1329.5l-1.8,.7-4.9,1.1-6.6,1.5-6.7,1.9-4.8,2.1-1.7,2.2 .1,2.9 1.8-.8 4.8-1 6.7-1.5 6.6-1.9 4.9-2.2 1.7-2.2zM422.2,1346.4l-1.8,.8-4.9,1.1-6.6,1.5-6.7,1.9-4.8,2.1-1.7,2.2 .1,2.9 1.7-.8 4.9-1.1 6.7-1.5 6.6-1.8 4.9-2.2 1.7-2.2zM422.9,1363.4l-1.8,.8-4.9,1.1-6.7,1.5-6.6,1.9-4.8,2.1-1.8,2.2 .2,2.9 1.7-.8 4.9-1.1 6.7-1.5 6.6-1.8 4.9-2.2 1.7-2.2z"/>
<path fill="url(#f53)" stroke="#1a865f" stroke-width=".5" d="M391.5,1253.7l1.8,.5 5,.5 6.7,.9 6.8,1.4 5,1.9 1.9,2.2 .1,3.6-1.8-.4-4.9-.6-6.8-.9-6.8-1.3-5-1.9-1.9-2.3zM392.2,1270.7l1.8,.5 5,.5 6.7,.9 6.8,1.4 5,1.9 1.9,2.2 .1,3.6-1.8-.4-4.9-.6-6.8-.9-6.8-1.4-5-1.8-1.9-2.3zM392.9,1287.7l1.8,.5 4.9,.5 6.8,.9 6.8,1.4 5,1.9 1.9,2.2 .1,3.6-1.8-.4-4.9-.6-6.8-.9-6.8-1.4-5-1.8-1.9-2.3zM393.6,1304.7l1.8,.4 4.9,.6 6.8,.9 6.8,1.4 5,1.9 1.9,2.2 .1,3.6-1.8-.4-4.9-.6-6.8-.9-6.8-1.4-5-1.9-1.9-2.2zM394.3,1321.7l1.8,.4 4.9,.6 6.8,.9 6.8,1.4 5,1.9 1.9,2.2 .1,3.6-1.8-.5-5-.5-6.7-.9-6.8-1.4-5-1.9-1.9-2.2zM395,1338.7l1.8,.4 4.9,.6 6.8,.9 6.8,1.4 5,1.8 1.9,2.3 .1,3.6-1.8-.5-5-.5-6.7-.9-6.8-1.4-5-1.9-1.9-2.2zM395.6,1355.7l1.9,.4 4.9,.6 6.8,.9 6.8,1.3 5,1.9 1.8,2.3 .2,3.6-1.8-.5-5-.5-6.7-.9-6.8-1.4-5-1.9-1.9-2.2zM396.3,1372.6l1.8,.5 4.8,.5 6.6,.8 6.6,0 5.1,.4 2.1,.8 .2,3.8-2.1,.9-5,.8-6.6,.5-6.6-1.3-4.9-1.8-1.8-2.3z"/>
<path fill="#1111af" d="M448.5,1230.9l-1.4,.4-3.8,.2-5.2,.2-5.3,.6-4,1.2-1.7,1.8-.5,2.8 1.4-.4 3.8-.1 5.2-.3 5.2-.6 4-1.2 1.8-1.8zM445.2,1247.6l-1.4,.4-3.8,.1-5.2,.3-5.2,.6-4,1.2-1.8,1.8-.5,2.8 1.4-.4 3.8-.2 5.2-.2 5.3-.6 4-1.2 1.7-1.8zM442,1264.2l-1.5,.5-3.8,.1-5.2,.2-5.2,.7-4,1.1-1.8,1.9-.5,2.8 1.5-.4 3.7-.2 5.2-.2 5.3-.6 4-1.2 1.7-1.8zM438.7,1280.9l-1.5,.4-3.8,.2-5.1,.2-5.3,.6-4,1.2-1.7,1.9-.6,2.8 1.5-.4 3.8-.2 5.1-.2 5.3-.6 4-1.2 1.7-1.9zM435.4,1297.6l-1.5,.4-3.7,.2-5.2,.2-5.3,.6-4,1.2-1.7,1.8-.6,2.9 1.5-.5 3.8-.1 5.2-.2 5.2-.6 4-1.2 1.8-1.9zM432.1,1314.3l-1.4,.4-3.8,.2-5.2,.2-5.3,.6-4,1.2-1.7,1.8-.5,2.9 1.4-.5 3.8-.1 5.2-.3 5.2-.6 4-1.2 1.8-1.8zM428.8,1331l-1.4,.4-3.8,.1-5.2,.3-5.2,.6-4,1.2-1.8,1.8-.5,2.8 1.4-.4 3.8-.2 5.2-.2 5.3-.6 4-1.2 1.7-1.8zM425.6,1347.6l-1.5,.5-3.8,.1-5.2,.2-5.2,.7-4,1.2-1.8,1.8-.5,2.8 1.5-.4 3.7-.2 5.2-.2 5.3-.6 4-1.2 1.7-1.8zM422.3,1364.3l-1.5,.4-3.8,.2-5.1,.2-5.3,.6-4,1.2-1.7,1.9-.6,2.8 1.5-.4 3.8-.2 5.1-.2 5.3-.6 4-1.2 1.7-1.9zM419,1381l-1.5,.4-3.7,.2-5.2,.2-5.3,.6-4,1.2-1.7,1.8-.6,2.9 1.5-.4 3.8-.2 5.2-.2 5.2-.6 4-1.2 1.8-1.9zM415.7,1397.7l-1,.4-2.8,.1-3.9-.5-4.3-.9-4.1-.5-2.9-.1-.8,4.2 2.7,1 4,1 4.3,.9 4-.1 3-1.1 1.3-1.6z"/>
<path fill="#1414d0" stroke="#0c0c81" stroke-width=".5" d="M430.5,1218.3l1.2,.8 3.5,1.4 4.7,2.1 4.6,2.6 3.2,2.8 .9,2.5-.7,3.6-1.2-.8-3.5-1.5-4.7-2.1-4.6-2.6-3.3-2.7-.8-2.6zM427.2,1235l1.2,.7 3.5,1.5 4.7,2.1 4.6,2.6 3.2,2.8 .9,2.5-.7,3.5-1.2-.7-3.5-1.5-4.7-2.1-4.6-2.6-3.2-2.8-.9-2.5zM423.9,1251.7l1.2,.7 3.5,1.5 4.7,2.1 4.6,2.6 3.3,2.7 .8,2.6-.7,3.5-1.2-.8-3.5-1.4-4.7-2.1-4.6-2.6-3.2-2.8-.9-2.5zM420.6,1268.3l1.2,.8 3.5,1.5 4.7,2.1 4.7,2.6 3.2,2.7 .9,2.6-.7,3.5-1.3-.8-3.4-1.4-4.8-2.2-4.6-2.6-3.2-2.7-.9-2.5zM417.3,1285l1.3,.8 3.4,1.4 4.8,2.2 4.6,2.6 3.2,2.7 .9,2.5-.7,3.6-1.2-.8-3.5-1.4-4.7-2.2-4.7-2.6-3.2-2.7-.9-2.6zM414.1,1301.7l1.2,.8 3.5,1.4 4.7,2.1 4.6,2.6 3.2,2.8 .9,2.5-.7,3.6-1.2-.8-3.5-1.5-4.7-2.1-4.6-2.6-3.3-2.7-.8-2.6zM410.8,1318.4l1.2,.7 3.5,1.5 4.7,2.1 4.6,2.6 3.2,2.8 .9,2.5-.7,3.5-1.2-.7-3.5-1.5-4.7-2.1-4.6-2.6-3.2-2.8-.9-2.5zM407.5,1335.1l1.2,.7 3.5,1.5 4.7,2.1 4.6,2.6 3.3,2.7 .8,2.6-.7,3.5-1.2-.8-3.5-1.4-4.7-2.1-4.6-2.6-3.2-2.8-.9-2.5zM404.2,1351.7l1.2,.8 3.5,1.5 4.7,2.1 4.7,2.6 3.2,2.7 .9,2.6-.7,3.5-1.3-.8-3.4-1.4-4.8-2.2-4.6-2.6-3.2-2.7-.9-2.5zM400.9,1368.4l1.3,.8 3.4,1.4 4.8,2.2 4.6,2.6 3.2,2.7 .9,2.5-.7,3.6-1.2-.8-3.5-1.4-4.7-2.2-4.7-2.6-3.2-2.7-.9-2.6zM397.7,1385.1l1.2,.8 3.5,1.4 4.7,2.1 4.6,2.6 3.2,2.8 .9,2.5-.7,3.6-1.2-.8-3.5-1.5-4.7-2.1-4.6-2.6-3.3-2.7-.8-2.6z"/>
<path d="M441.0,1222.0 C442.2,1220.8 445.2,1216.5 448.0,1215.0 C450.8,1213.5 455.3,1212.2 458.0,1213.0 C460.7,1213.8 462.7,1215.5 464.0,1220.0 C465.3,1224.5 466.7,1235.0 466.0,1240.0 C465.3,1245.0 461.0,1248.3 460.0,1250.0" fill="none" stroke="#5050d0" stroke-width="1.5" stroke-linecap="round" stroke-linejoin="round"/>
<path fill="#196db2" d="M453.4,1275.1l-1.8,.7-4.9,.8-6.7,1.3-6.7,1.6-4.9,1.9-1.8,2.2 0,2.8 1.8-.7 4.9-.8 6.7-1.3 6.7-1.6 4.9-1.9 1.8-2.2zM453.4,1292.1l-1.8,.7-4.9,.8-6.7,1.3-6.7,1.6-4.9,1.9-1.8,2.2 0,2.8 1.8-.7 4.9-.8 6.7-1.3 6.7-1.6 4.9-1.9 1.8-2.2zM453.4,1309.1l-1.8,.7-4.9,.8-6.7,1.3-6.7,1.6-4.9,1.9-1.8,2.2 0,2.8 1.8-.7 4.9-.8 6.7-1.3 6.7-1.6 4.9-1.9 1.8-2.2zM453.4,1326.1l-1.8,.7-4.9,.8-6.7,1.3-6.7,1.6-4.9,1.9-1.8,2.2 0,2.8 1.8-.7 4.9-.8 6.7-1.3 6.7-1.6 4.9-1.9 1.8-2.2zM453.4,1343.1l-1.8,.7-4.9,.8-6.7,1.3-6.7,1.6-4.9,1.9-1.8,2.2 0,2.8 1.8-.7 4.9-.8 6.7-1.3 6.7-1.6 4.9-1.9 1.8-2.2zM453.4,1360.1l-1.8,.7-4.9,.8-6.7,1.3-6.7,1.6-4.9,1.9-1.8,2.2 0,2.8 1.8-.7 4.9-.8 6.7-1.3 6.7-1.6 4.9-1.9 1.8-2.2z"/>
<path fill="#1e82d4" stroke="#135183" stroke-width=".5" d="M426.6,1266.2l1.8,.5 4.9,.8 6.7,1.2 6.7,1.6 4.9,2.1 1.8,2.3 0,3.6-1.8-.5-4.9-.8-6.7-1.2-6.7-1.6-4.9-2.1-1.8-2.3zM426.6,1283.2l1.8,.5 4.9,.8 6.7,1.2 6.7,1.6 4.9,2.1 1.8,2.3 0,3.6-1.8-.5-4.9-.8-6.7-1.2-6.7-1.6-4.9-2.1-1.8-2.3zM426.6,1300.2l1.8,.5 4.9,.8 6.7,1.2 6.7,1.6 4.9,2.1 1.8,2.3 0,3.6-1.8-.5-4.9-.8-6.7-1.2-6.7-1.6-4.9-2.1-1.8-2.3zM426.6,1317.2l1.8,.5 4.9,.8 6.7,1.2 6.7,1.6 4.9,2.1 1.8,2.3 0,3.6-1.8-.5-4.9-.8-6.7-1.2-6.7-1.6-4.9-2.1-1.8-2.3zM426.6,1334.2l1.8,.5 4.9,.8 6.7,1.2 6.7,1.6 4.9,2.1 1.8,2.3 0,3.6-1.8-.5-4.9-.8-6.7-1.2-6.7-1.6-4.9-2.1-1.8-2.3zM426.6,1351.2l1.8,.5 4.9,.8 6.7,1.2 6.7,1.6 4.9,2.1 1.8,2.3 0,3.6-1.8-.5-4.9-.8-6.7-1.2-6.7-1.6-4.9-2.1-1.8-2.3zM426.6,1368.2l.4-.5 1.4-.4 2.1-.4 2.8-.3 3.2-.1 3.5-.1 0,7.2-3.5-.1-3.2-.1-2.8-.3-2.1-.4-1.4-.4-.4-.5z"/>
<path fill="#ca741b" d="M447.8,1332.9l-1.3,.9-3.6,1.3-4.8,1.7-4.9,2.2-3.4,2.3-1.2,2.2 .3,2.9 1.3-.8 3.6-1.3 4.9-1.8 4.8-2.1 3.5-2.3 1.1-2.3zM449.6,1349.8l-.8,.7-2.5,.9-3.7,.5-4.2,.4-4,.6-3,.8 .5,4.4 3.1,.1 4-.2 4.2-.5 3.6-1.1 2.4-1.9 .7-1.8z"/>
<path fill="#f08a20" stroke="#955614" stroke-width=".5" d="M426.8,1326.3l1.4,.4 3.7,.3 5.2,.6 5.2,1.2 3.8,1.6 1.6,2.2 .4,3.6-1.4-.4-3.7-.4-5.2-.6-5.2-1.1-3.8-1.7-1.6-2.1zM428.6,1343.2l1.4,.4 3.7,.3 5.2,.6 5.2,1.2 3.9,1.6 1.5,2.2 .4,3.6-1.4-.4-3.7-.4-5.2-.6-5.1-1.1-3.9-1.7-1.6-2.1z"/>
<path fill="url(#b54)" d="M489.4,1296.8l-1.5,.7-4.1,1-5.6,1.4-5.5,1.7-4.1,2-1.4,2.2 0,2.9 1.5-.7 4.1-1 5.6-1.4 5.5-1.7 4.1-2 1.4-2.2zM489.7,1313.8l-1.4,.7-4.1,1-5.6,1.4-5.6,1.7-4,2-1.5,2.2 .1,2.9 1.5-.7 4.1-1 5.5-1.4 5.6-1.7 4.1-2.1 1.4-2.1zM490.1,1330.8l-1.5,.7-4,1-5.6,1.4-5.6,1.7-4,2-1.5,2.2 .1,2.9 1.5-.7 4.1-1 5.5-1.4 5.6-1.7 4-2.1 1.5-2.1zM490.5,1347.8l-1.5,.7-4,1-5.6,1.4-5.6,1.7-4,2-1.5,2.2 .1,2.9 1.5-.8 4-.9 5.6-1.4 5.6-1.7 4-2.1 1.5-2.1zM490.9,1364.8l-1.5,.7-4.1,1-5.5,1.3-5.6,1.8-4,2-1.5,2.2 .1,2.9 1.5-.8 4-.9 5.6-1.4 5.6-1.7 4-2.1 1.5-2.1z"/>
<path fill="url(#f54)" stroke="#135183" stroke-width=".5" d="M466.8,1288.5l1.5,.4 4.1,.7 5.6,1 5.7,1.6 4.1,2 1.5,2.2 .1,3.6-1.5-.4-4.1-.7-5.6-1.1-5.7-1.5-4.1-2-1.6-2.2zM467.1,1305.5l1.6,.4 4.1,.7 5.6,1 5.6,1.6 4.2,2 1.5,2.2 .1,3.6-1.5-.4-4.1-.7-5.6-1.1-5.7-1.5-4.1-2-1.6-2.3zM467.5,1322.4l1.5,.5 4.2,.7 5.6,1 5.6,1.6 4.2,2 1.5,2.2 .1,3.6-1.5-.4-4.1-.7-5.6-1.1-5.7-1.5-4.1-2-1.6-2.3zM467.9,1339.4l1.5,.5 4.1,.7 5.7,1 5.6,1.6 4.2,1.9 1.5,2.3 .1,3.6-1.5-.5-4.1-.6-5.7-1.1-5.6-1.5-4.1-2-1.6-2.3zM468.3,1356.4l1.5,.5 4.1,.7 5.7,1 5.6,1.6 4.1,1.9 1.6,2.3 .1,3.6-1.5-.5-4.2-.6-5.6-1.1-5.6-1.5-4.2-2-1.5-2.3zM468.7,1373.4l1.1,.4 3.1,.6 4.5,.1 5-.1 4.5,.2 3.1,.6 .1,5.2-3.1,.7-4.5,.4-4.9,.1-4.5-.8-3.2-1.8-1.1-2z"/>
<path fill="url(#b55)" d="M469.6,1254.3l-1.4,.8-4.1,1.2-5.5,1.5-5.4,2-4,2.2-1.4,2.2 .2,2.9 1.5-.8 4-1.1 5.5-1.6 5.5-2 4-2.2 1.3-2.2zM470.7,1271.3l-1.4,.8-4.1,1.1-5.5,1.6-5.5,2-3.9,2.2-1.4,2.2 .2,2.9 1.5-.8 4-1.2 5.5-1.5 5.5-2 4-2.2 1.3-2.2zM471.8,1288.3l-1.4,.7-4.1,1.2-5.5,1.6-5.5,1.9-3.9,2.2-1.4,2.3 .2,2.9 1.5-.8 4-1.2 5.5-1.6 5.5-1.9 3.9-2.2 1.4-2.3zM472.9,1305.2l-1.4,.8-4.1,1.2-5.5,1.5-5.5,2-3.9,2.2-1.4,2.2 .2,2.9 1.4-.8 4.1-1.1 5.5-1.6 5.5-2 3.9-2.2 1.4-2.2zM474,1322.2l-1.4,.8-4.1,1.1-5.5,1.6-5.5,2-3.9,2.2-1.4,2.2 .2,2.9 1.4-.8 4.1-1.2 5.5-1.5 5.5-2 3.9-2.2 1.4-2.2zM475.1,1339.1l-1.4,.8-4.1,1.2-5.5,1.6-5.5,1.9-3.9,2.2-1.4,2.3 .2,2.8 1.4-.7 4.1-1.2 5.5-1.6 5.5-1.9 3.9-2.2 1.4-2.3zM476.2,1356.1l-1.5,.8-4,1.2-5.5,1.5-5.5,2-3.9,2.2-1.4,2.2 .2,2.9 1.4-.8 4.1-1.1 5.5-1.6 5.5-2 3.9-2.2 1.4-2.2zM477.1,1369.8l0,0-.1-.1-.1-.1-.2-.1-.2-.1-.2,0 .2,3.9 .3-.1 .1-.1 .2-.1 .1-.1 .1-.1 0-.1z"/>
<path fill="url(#f55)" stroke="#135183" stroke-width=".5" d="M446.7,1246.9l1.5,.4 4.2,.5 5.6,.8 5.7,1.3 4.3,1.8 1.6,2.3 .2,3.6-1.5-.5-4.1-.5-5.7-.8-5.7-1.3-4.2-1.8-1.7-2.2zM447.8,1263.9l1.5,.4 4.2,.5 5.6,.8 5.7,1.3 4.3,1.8 1.6,2.2 .2,3.6-1.5-.4-4.1-.5-5.7-.8-5.7-1.3-4.2-1.8-1.7-2.2zM448.9,1280.9l1.5,.4 4.2,.5 5.6,.8 5.7,1.3 4.3,1.8 1.6,2.2 .2,3.6-1.5-.4-4.1-.5-5.7-.8-5.7-1.3-4.2-1.8-1.7-2.3zM450,1297.8l1.5,.4 4.2,.5 5.6,.8 5.7,1.3 4.2,1.8 1.7,2.3 .2,3.6-1.5-.5-4.1-.5-5.7-.8-5.7-1.3-4.2-1.8-1.7-2.2zM451.1,1314.8l1.5,.4 4.2,.5 5.6,.8 5.7,1.3 4.2,1.8 1.7,2.2 .2,3.6-1.5-.4-4.2-.5-5.6-.8-5.7-1.3-4.2-1.8-1.7-2.2zM452.2,1331.7l1.5,.5 4.2,.5 5.6,.8 5.7,1.3 4.2,1.8 1.7,2.2 .2,3.6-1.5-.4-4.2-.5-5.6-.8-5.7-1.3-4.2-1.8-1.7-2.3zM453.3,1348.7l1.5,.4 4.1,.5 5.7,.8 5.7,1.3 4.2,1.8 1.7,2.3 .2,3.5-1.5-.4-4.2-.5-5.6-.8-5.7-1.3-4.2-1.8-1.7-2.2zM454.4,1365.7l1.5,.4 4.1,.5 5.7,.8 5.7,.9 4.1,.4 1.6,.8 .2,3.6-1.4,1-4.1,.9-5.6-.4-5.7-1.3-4.3-1.8-1.6-2.2z"/>
<path fill="#d62319" d="M470.6,1256.1l-.9,.8-2.8,1.2-3.7,1.7-3.7,2.1-2.6,2.2-.8,2.3 .3,2.8 1-.8 2.7-1.2 3.8-1.7 3.7-2 2.6-2.3 .8-2.3zM472.7,1273l-1,.8-2.8,1.2-3.7,1.7-3.7,2-2.6,2.3-.8,2.3 .3,2.8 1-.8 2.7-1.2 3.8-1.7 3.7-2.1 2.6-2.2 .8-2.3zM474.7,1289.8l-1,.9-2.7,1.2-3.8,1.7-3.7,2-2.6,2.3-.9,1.6 .4,2.9 1-.2 2.8-1.2 3.7-1.7 3.7-2.1 2.6-2.3 .8-2.2z"/>
<path fill="#ff2a1e" stroke="#9e1a13" stroke-width=".5" d="M454,1249.1l1.1,.4 2.9,.4 4.1,.7 4.1,1.2 3.1,1.7 1.3,2.2 .4,3.6-1.1-.4-2.9-.4-4.1-.7-4.1-1.2-3.1-1.7-1.3-2.2zM456,1266l1.1,.4 3,.4 4,.7 4.1,1.2 3.1,1.7 1.3,2.2 .4,3.6-1.1-.4-2.9-.4-4-.7-4.1-1.2-3.1-1.7-1.3-2.2zM458.1,1282.9l1.1,.4 2.9,.4 4,.7 4.1,1.2 3.1,1.7 1.3,2.2 .5,3.6-1.1-.4-3-.4-4-.7-4.1-1.2-3.1-1.7-1.3-2.2zM460,1299.1l.1-.4 .6-.4 .8-.5 1.2-.4 1.4-.4 1.6-.3 .9,7-1.6,.1-1.5,0-1.3-.2-.9-.2-.6-.3-.3-.4z"/>
<path fill="#d6361b" d="M476.6,1318.8l-1.1,.7-3,1-4.2,1.4-4.1,1.7-3,2.1-1.1,2.1 .1,2.9 1.1-.7 3.1-1 4.1-1.4 4.2-1.7 3-2.1 1-2.1zM477.2,1335.8l-1.1,.7-3,1-4.2,1.4-4.1,1.7-3.1,2-1,2.2 .1,2.9 1.1-.7 3-1 4.2-1.4 4.1-1.7 3-2.1 1.1-2.2zM477.8,1352.8l-1.1,.7-3.1,1-4.1,1.3-4.2,1.8-3,2-1,2.2 .1,2.9 1.1-.7 3-1 4.2-1.4 4.1-1.7 3-2.1 1.1-2.2zM478.3,1369.7l-.3,.2-1.1-.4-1.7-.2-2.1-.2-2.4,0-2.4,.1 .2,5.7 2.4-.1 2.4-.1 2.1-.3 1.7-.4 1-.4 .3-1z"/>
<path fill="#ff4020" stroke="#9e2814" stroke-width=".5" d="M459.5,1310.5l1.2,.5 3.1,.6 4.2,1 4.3,1.6 3.1,1.9 1.2,2.3 .1,3.6-1.1-.5-3.1-.6-4.2-1.1-4.3-1.5-3.1-1.9-1.2-2.3zM460.1,1327.5l1.2,.5 3.1,.6 4.2,1 4.2,1.6 3.2,1.9 1.2,2.3 .1,3.6-1.1-.5-3.1-.6-4.3-1.1-4.2-1.5-3.2-2-1.2-2.2zM460.7,1344.5l1.1,.4 3.1,.7 4.3,1 4.2,1.5 3.1,2 1.3,2.3 .1,3.6-1.2-.5-3.1-.6-4.2-1.1-4.3-1.5-3.1-2-1.2-2.2zM461.2,1361.5l1.2,.4 3.1,.7 4.2,1 4.3,1.5 3.1,2 1.2,2.3 .1,3.6-1.1-.5-3.1-.6-4.2-1.1-4.3-1.5-3.1-2-1.2-2.2z"/>
<path d="M485.0,1372.0 C488.5,1369.2 499.7,1359.0 506.0,1355.0 C512.3,1351.0 518.0,1348.0 523.0,1348.0 C528.0,1348.0 534.2,1352.2 536.0,1355.0 C537.8,1357.8 536.2,1362.7 534.0,1365.0 C531.8,1367.3 526.8,1368.7 523.0,1369.0 C519.2,1369.3 514.5,1365.7 511.0,1367.0 C507.5,1368.3 504.3,1373.2 502.0,1377.0 C499.7,1380.8 499.3,1386.5 497.0,1390.0 C494.7,1393.5 491.5,1397.2 488.0,1398.0 C484.5,1398.8 478.5,1392.7 476.0,1395.0 C473.5,1397.3 473.5,1409.2 473.0,1412.0" fill="none" stroke="#70d8a0" stroke-width="1.8" stroke-linecap="round" stroke-linejoin="round"/>
<path d="M420.0,1381.0 C421.7,1382.8 425.8,1388.8 430.0,1392.0 C434.2,1395.2 440.0,1399.0 445.0,1400.0 C450.0,1401.0 455.8,1396.3 460.0,1398.0 C464.2,1399.7 468.3,1408.0 470.0,1410.0" fill="none" stroke="#a0d8b0" stroke-width="1.5" stroke-linecap="round" stroke-linejoin="round"/>
<path d="M653.0,1222.0 C653.8,1222.5 655.5,1224.8 658.0,1225.0 C660.5,1225.2 664.0,1223.0 668.0,1223.0 C672.0,1223.0 677.0,1224.2 682.0,1225.0 C687.0,1225.8 693.3,1226.7 698.0,1228.0 C702.7,1229.3 706.3,1231.5 710.0,1233.0 C713.7,1234.5 716.3,1235.8 720.0,1237.0 C723.7,1238.2 728.7,1237.8 732.0,1240.0 C735.3,1242.2 738.7,1248.3 740.0,1250.0" fill="none" stroke="#70d8a0" stroke-width="1.7" stroke-linecap="round" stroke-linejoin="round"/>
<path d="M658.0,1225.0 C658.0,1227.0 658.0,1235.0 658.0,1237.0" fill="none" stroke="#70d8a0" stroke-width="1.5" stroke-linecap="round" stroke-linejoin="round"/>
<path fill="#36a886" d="M667.4,1244.7l-1.4,1-3.8,1.7-5.3,2.3-5.1,2.7-3.7,2.7-1,2.4 .5,2.8 1.4-1 3.8-1.7 5.3-2.3 5.1-2.7 3.7-2.7 1-2.3zM670.7,1261.4l-.4-.3-1.2-.1-1.8,0-2.3,.3-2.7,.4-2.8,.5 1.1,5.6 2.8-.6 2.6-.7 2.3-.6 1.6-.7 1.1-.5 .3-.5z"/>
<path fill="#40c8a0" stroke="#287c63" stroke-width=".5" d="M643.7,1240.4l1.5,.2 4.2,0 5.7,0 5.8,.6 4.5,1.2 1.9,2 .7,3.5-1.6-.2-4.1,.1-5.8-.1-5.8-.5-4.4-1.3-1.9-1.9zM647,1257.1l1.6,.2 4.1,0 5.8,0 5.8,.5 4.4,1.3 1.9,1.9 .7,3.6-1.5-.2-4.2,0-5.7,0-5.8-.6-4.5-1.2-1.9-2z"/>
<path fill="#1b90a8" d="M677.2,1264.1l-1.5,.7-4.1,.8-5.6,1.3-5.6,1.6-4.1,1.9-1.5,2.2 0,2.8 1.5-.7 4.1-.8 5.6-1.3 5.6-1.6 4.1-1.9 1.5-2.2zM677.2,1281.1l-1.5,.7-4.1,.8-5.6,1.3-5.6,1.6-4.1,1.9-1.5,2.2 0,2.8 1.5-.7 4.1-.8 5.6-1.3 5.6-1.6 4.1-1.9 1.5-2.2zM677.2,1298.1l-1.5,.7-4.1,.8-5.6,1.3-5.6,1.6-4.1,1.9-1.5,2.2 0,2.8 1.5-.7 4.1-.8 5.6-1.3 5.6-1.6 4.1-1.9 1.5-2.2zM677.2,1315.1l-1.5,.7-4.1,.8-5.6,1.3-5.6,1.6-4.1,1.3-1.5,.8 0,2.8 1.5,.8 4.1-.3 5.6-1.3 5.6-1.6 4.1-1.9 1.5-2.2z"/>
<path fill="#20acc8" stroke="#146b7c" stroke-width=".5" d="M654.8,1255.2l1.5,.5 4.1,.8 5.6,1.2 5.6,1.6 4.1,2.1 1.5,2.3 0,3.6-1.5-.5-4.1-.8-5.6-1.2-5.6-1.6-4.1-2.1-1.5-2.3zM654.8,1272.2l1.5,.5 4.1,.8 5.6,1.2 5.6,1.6 4.1,2.1 1.5,2.3 0,3.6-1.5-.5-4.1-.8-5.6-1.2-5.6-1.6-4.1-2.1-1.5-2.3zM654.8,1289.2l1.5,.5 4.1,.8 5.6,1.2 5.6,1.6 4.1,2.1 1.5,2.3 0,3.6-1.5-.5-4.1-.8-5.6-1.2-5.6-1.6-4.1-2.1-1.5-2.3zM654.8,1306.2l1.5,.5 4.1,.8 5.6,1.2 5.6,1.6 4.1,2.1 1.5,2.3 0,3.6-1.5-.5-4.1-.8-5.6-1.2-5.6-1.6-4.1-2.1-1.5-2.3zM654.8,1321.2l.1-.2 .3-.3 .6-.2 .7-.2 .9-.2 1.1-.2 0,6.2-1.1-.2-.9-.2-.7-.2-.6-.2-.3-.3-.1-.2z"/>
<path fill="#51b551" d="M699,1307.1l-1.2,.7-3.3,.8-4.5,1.3-4.5,1.6-3.3,1.9-1.2,2.2 0,2.8 1.2-.7 3.3-.8 4.5-1.3 4.5-1.6 3.3-1.9 1.2-2.2zM699,1324.1l-1.2,.7-3.3,.8-4.5,1.3-4.5,1.6-3.3,1.9-1.2,2.2 0,2.8 1.2-.7 3.3-.8 4.5-1.3 4.5-1.6 3.3-1.9 1.2-2.2zM699,1341.1l-1.2,.7-3.3,.8-4.5,1.3-4.5,1.6-3.3,1.9-1.2,2.2 0,2.8 1.2-.7 3.3-.8 4.5-1.3 4.5-1.6 3.3-1.9 1.2-2.2zM699,1358.1l-.4,0-1.1-.3-1.8-.3-2.2-.3-2.5-.1-2.6,0 0,5.8 2.6,0 2.5-.1 2.2-.3 1.8-.3 1.1-.3 .4-1z"/>
<path fill="#60d860" stroke="#3c863c" stroke-width=".5" d="M681,1298.2l1.2,.5 3.3,.8 4.5,1.2 4.5,1.6 3.3,2.1 1.2,2.3 0,3.6-1.2-.5-3.3-.8-4.5-1.2-4.5-1.6-3.3-2.1-1.2-2.3zM681,1315.2l1.2,.5 3.3,.8 4.5,1.2 4.5,1.6 3.3,2.1 1.2,2.3 0,3.6-1.2-.5-3.3-.8-4.5-1.2-4.5-1.6-3.3-2.1-1.2-2.3zM681,1332.2l1.2,.5 3.3,.8 4.5,1.2 4.5,1.6 3.3,2.1 1.2,2.3 0,3.6-1.2-.5-3.3-.8-4.5-1.2-4.5-1.6-3.3-2.1-1.2-2.3zM681,1349.2l1.2,.5 3.3,.8 4.5,1.2 4.5,1.6 3.3,2.1 1.2,2.3 0,3.6-1.2-.5-3.3-.8-4.5-1.2-4.5-1.6-3.3-2.1-1.2-2.3z"/>
<path fill="#1111af" d="M651.2,1277.1l-1.5,.7-4.1,.8-5.6,1.3-5.6,1.6-4.1,1.9-1.5,2.2 0,2.8 1.5-.7 4.1-.8 5.6-1.3 5.6-1.6 4.1-1.9 1.5-2.2zM651.2,1294.1l-1.5,.7-4.1,.8-5.6,1.3-5.6,1.6-4.1,1.9-1.5,2.2 0,2.8 1.5-.7 4.1-.8 5.6-1.3 5.6-1.6 4.1-1.9 1.5-2.2zM651.2,1311.1l-1.5,.7-4.1,.8-5.6,1.3-5.6,.4-4.1,.5-1.5,.8 0,2.8 1.5,.8 4.1,.5 5.6-.1 5.6-1.6 4.1-1.9 1.5-2.2z"/>
<path fill="#1414d0" stroke="#0c0c81" stroke-width=".5" d="M628.8,1268.2l1.5,.5 4.1,.8 5.6,1.2 5.6,1.6 4.1,2.1 1.5,2.3 0,3.6-1.5-.5-4.1-.8-5.6-1.2-5.6-1.6-4.1-2.1-1.5-2.3zM628.8,1285.2l1.5,.5 4.1,.8 5.6,1.2 5.6,1.6 4.1,2.1 1.5,2.3 0,3.6-1.5-.5-4.1-.8-5.6-1.2-5.6-1.6-4.1-2.1-1.5-2.3zM628.8,1302.2l1.5,.5 4.1,.8 5.6,1.2 5.6,1.6 4.1,2.1 1.5,2.3 0,3.6-1.5-.5-4.1-.8-5.6-1.2-5.6-1.6-4.1-2.1-1.5-2.3z"/>
<path fill="#a8a122" d="M659.9,1267.3l-1.4,.7-3.7,.8-5.1,1.1-5,1.4-3.8,1.9-1.4,2.1-.1,2.9 1.4-.7 3.7-.8 5.1-1.1 5.1-1.5 3.7-1.8 1.4-2.1zM659.4,1284.3l-1.3,.7-3.7,.8-5.1,1.1-5.1,1.4-3.7,1.9-1.4,2.1-.1,2.9 1.3-.7 3.8-.8 5-1.1 5.1-1.5 3.8-1.8 1.4-2.1zM659,1301.3l-1.4,.7-3.7,.8-5.1,1.1-5.1,1.4-3.7,1.9-1.4,2.1-.1,2.9 1.4-.7 3.7-.8 5.1-1.1 5.1-1.5 3.7-1.8 1.4-2.1zM658.5,1318.3l-1.3,.7-3.8,.8-5,1-5.1,1.5-3.7,1.9-1.5,2.1 0,2.8 1.3-.6 3.8-.8 5-1.1 5.1-1.5 3.7-1.8 1.5-2.1zM658.1,1333.8l-.1-.2-.5-.3-.7-.2-.9-.2-1.2-.2-1.4-.2-.2,5.3 1.4-.1 1.2-.1 1-.2 .7-.2 .5-.3 .1-.2z"/>
<path fill="#c8c028" stroke="#7c7719" stroke-width=".5" d="M640,1257.9l1.3,.6 3.7,.8 5,1.3 5,1.8 3.6,2.2 1.3,2.4-.1,3.6-1.3-.6-3.7-.8-5-1.4-5-1.7-3.6-2.2-1.3-2.4zM639.5,1274.9l1.4,.6 3.6,.8 5,1.3 5,1.8 3.7,2.2 1.2,2.4-.1,3.6-1.3-.6-3.7-.8-5-1.4-5-1.8-3.6-2.1-1.3-2.4zM639.1,1291.9l1.3,.6 3.7,.8 5,1.3 5,1.8 3.6,2.2 1.3,2.4-.1,3.6-1.3-.6-3.7-.9-5-1.3-5-1.8-3.6-2.1-1.3-2.4zM638.6,1308.9l1.3,.6 3.7,.8 5,1.3 5,1.8 3.7,2.2 1.2,2.3-.1,3.6-1.3-.5-3.7-.9-5-1.3-5-1.8-3.6-2.1-1.3-2.4zM638.2,1325.9l1.3,.6 3.7,.8 5,1.3 5,1.8 3.6,2.1 1.3,1-.1,3.6-1.3,.8-3.7-.8-5-1.3-5-1.8-3.6-2.1-1.3-2.4z"/>
<path fill="#d6511b" d="M722.1,1247.1l-1.4,.7-3.7,.8-5,1.3-5,1.6-3.7,1.9-1.4,2.2 0,2.8 1.4-.7 3.7-.8 5-1.3 5-1.6 3.7-1.9 1.4-2.2zM722.1,1264.1l-1.4,.7-3.7,.8-5,1.3-5,1.6-3.7,1.9-1.4,2.2 0,2.8 1.4-.7 3.7-.8 5-1.3 5-1.6 3.7-1.9 1.4-2.2zM722.1,1281.1l-1.4,.7-3.7,.8-5,1.3-5,1.6-3.7,1.9-1.4,2.2 0,2.8 1.4-.7 3.7-.8 5-1.3 5-1.6 3.7-1.9 1.4-2.2zM722.1,1298.1l-1.4,.7-3.7,.8-5,1.3-5,1.4-3.7,.5-1.4,.8 0,2.8 1.4,.8 3.7,.5 5-1.1 5-1.6 3.7-1.9 1.4-2.2z"/>
<path fill="#ff6020" stroke="#9e3c14" stroke-width=".5" d="M701.9,1238.2l1.4,.5 3.7,.8 5,1.2 5,1.6 3.7,2.1 1.4,2.3 0,3.6-1.4-.5-3.7-.8-5-1.2-5-1.6-3.7-2.1-1.4-2.3zM701.9,1255.2l1.4,.5 3.7,.8 5,1.2 5,1.6 3.7,2.1 1.4,2.3 0,3.6-1.4-.5-3.7-.8-5-1.2-5-1.6-3.7-2.1-1.4-2.3zM701.9,1272.2l1.4,.5 3.7,.8 5,1.2 5,1.6 3.7,2.1 1.4,2.3 0,3.6-1.4-.5-3.7-.8-5-1.2-5-1.6-3.7-2.1-1.4-2.3zM701.9,1289.2l1.4,.5 3.7,.8 5,1.2 5,1.6 3.7,2.1 1.4,2.3 0,3.6-1.4-.5-3.7-.8-5-1.2-5-1.6-3.7-2.1-1.4-2.3zM701.9,1303.2l0-.1 .1-.2 .2-.1 .2-.1 .3-.2 .3-.1 0,5.2-.3-.1-.3-.2-.2-.1-.2-.1-.1-.2 0-.1z"/>
<path fill="url(#b56)" d="M750.2,1271.2l-1.5-.1-3.7-1.1-4.9-1.5-5.2-1.1-4.2-.1-2.2,1.1-1.4,2.5 1.5,.1 3.6,1.1 5,1.4 5.2,1.2 4.1,.1 2.3-1.2zM741.7,1285.9l-1.5-.1-3.7-1.1-4.9-1.4-5.2-1.1-4.2-.2-2.2,1.2-1.4,2.5 1.5,0 3.6,1.1 5,1.5 5.2,1.1 4.1,.1 2.3-1.1zM733.2,1300.6l-1.5-.1-3.6-1-5-1.5-5.2-1.1-4.2-.2-2.2,1.2-1.4,2.5 1.5,.1 3.6,1 5,1.5 5.2,1.1 4.1,.2 2.3-1.2zM724.7,1315.3l-.4-.1-.9-1-1.6-1.2-2.1-1.5-2.4-1.5-2.6-1.5-2.8,5 2.5,1.5 2.6,1.3 2.3,1.1 1.8,.7 1.3,.3 .9-.6z"/>
<path fill="url(#f56)" stroke="#288645" stroke-width=".5" d="M737.2,1253.4l.9,1.1 2.8,2.5 3.8,3.6 3.5,3.9 2.2,3.7 0,2.6-1.8,3.2-.9-1.2-2.8-2.5-3.8-3.5-3.6-4-2.1-3.6 0-2.7zM728.7,1268.1l.9,1.2 2.8,2.5 3.8,3.5 3.5,3.9 2.2,3.7 0,2.7-1.8,3.1-.9-1.1-2.8-2.5-3.8-3.6-3.6-3.9-2.1-3.7 0-2.7zM720.2,1282.9l.9,1.1 2.8,2.5 3.8,3.5 3.5,4 2.2,3.6 0,2.7-1.8,3.1-.9-1.1-2.8-2.5-3.8-3.6-3.6-3.9-2.1-3.6 0-2.7zM711.7,1297.6l.9,1.1 2.8,2.5 3.8,3.5 3.5,4 2.2,3.6 0,2.7-1.8,3.1-.9-1.1-2.8-2.5-3.8-3.5-3.5-4-2.2-3.6 0-2.7z"/>
<ellipse cx="742" cy="1262" rx="8" ry="10" fill="none" stroke="#60c080" stroke-width="1.8"/>
<path fill="#ca741b" d="M667.4,1330.8l-1.9,.5-5,.2-6.8,.3-6.9,.7-5.2,1.2-2,1.9-.4,2.8 1.9-.4 5-.2 6.8-.3 6.9-.7 5.1-1.3 2.1-1.8zM665.1,1347.7l-1.9,.4-5,.2-6.8,.3-6.9,.7-5.2,1.3-2,1.8-.4,2.9 1.9-.5 4.9-.2 6.9-.3 6.8-.7 5.2-1.2 2.1-1.9zM662.7,1364.5l-1.8,.4-5,.3-6.9,.3-6.8,.6-5.2,1.3-2,1.9-.4,2.8 1.8-.4 5-.2 6.9-.3 6.8-.7 5.2-1.3 2.1-1.8zM660.4,1381.3l-1.8,.5-5,.2-6.9,.3-6.8,.7-5.2,1.2-2,1.9-.4,2.9 1.8-.5 5-.2 6.9-.3 6.8-.7 5.2-1.2 2-1.9zM658.5,1395.4l0-.1-.2-.2-.2-.1-.3-.2-.5-.2-.5-.2-.6,4.3 .6,0 .4-.1 .4,0 .3-.1 .2-.1 0-.1z"/>
<path fill="#f08a20" stroke="#955614" stroke-width=".5" d="M641.9,1318.4l1.7,.7 4.8,1.5 6.5,2 6.4,2.6 4.6,2.7 1.5,2.6-.5,3.5-1.7-.7-4.8-1.4-6.5-2.1-6.4-2.6-4.6-2.7-1.5-2.5zM639.6,1335.2l1.7,.8 4.8,1.4 6.5,2.1 6.4,2.5 4.6,2.8 1.5,2.5-.5,3.6-1.7-.8-4.8-1.4-6.5-2.1-6.4-2.5-4.6-2.8-1.5-2.5zM637.3,1352.1l1.7,.7 4.8,1.5 6.5,2 6.4,2.6 4.6,2.7 1.5,2.5-.5,3.6-1.7-.7-4.8-1.5-6.5-2-6.4-2.6-4.6-2.7-1.5-2.6zM635,1368.9l1.7,.8 4.8,1.4 6.5,2.1 6.4,2.5 4.6,2.8 1.5,2.5-.5,3.6-1.7-.8-4.8-1.4-6.5-2.1-6.4-2.5-4.6-2.8-1.5-2.5zM632.7,1385.8l1.7,.7 4.8,1.4 6.5,2.1 6.4,2.6 4.8,1.3 1.7,1.1-.5,3.6-1.9,.7-5-.1-6.5-2.1-6.4-2.5-4.6-2.7-1.5-2.6z"/>
<path fill="url(#b57)" d="M693.9,1282.8l-1.7,.6-4.6,.6-6.2,.9-6.2,1.2-4.6,1.7-1.8,2-.2,2.9 1.7-.6 4.6-.6 6.2-.9 6.2-1.2 4.6-1.7 1.8-2.1zM692.9,1299.7l-1.7,.6-4.5,.7-6.3,.8-6.2,1.3-4.6,1.7-1.8,2-.2,2.9 1.7-.6 4.6-.7 6.2-.8 6.2-1.3 4.7-1.7 1.7-2zM691.9,1316.7l-1.7,.6-4.5,.6-6.3,.9-6.2,1.2-4.6,1.7-1.8,2.1-.2,2.8 1.7-.6 4.6-.6 6.2-.9 6.3-1.2 4.6-1.7 1.7-2zM690.9,1333.7l-1.7,.6-4.5,.6-6.2,.9-6.3,1.2-4.6,1.7-1.8,2-.1,2.9 1.6-.6 4.6-.6 6.2-.9 6.3-1.2 4.6-1.7 1.8-2zM689.9,1350.7l-1.7,.5-4.5,.7-6.2,.8-6.3,1.3-4.6,1.7-1.8,2-.1,2.9 1.7-.6 4.5-.6 6.2-.9 6.3-1.3 4.6-1.6 1.8-2.1zM688.9,1367.6l-1.7,.6-4.5,.6-6.2,.9-6.3,1.3-4.6,1.6-1.8,2.1-.1,2.8 1.7-.6 4.5-.6 6.2-.8 6.3-1.3 4.6-1.7 1.8-2zM687.9,1384.6l-1.6,.6-4.6,.6-6.2,.9-6.3,1.2-4.6,1.7-1.7,2-.2,2.9 1.7-.6 4.5-.6 6.2-.9 6.3-1.2 4.6-1.7 1.8-2z"/>
<path fill="url(#f57)" stroke="#8b6814" stroke-width=".5" d="M669.8,1272.5l1.6,.6 4.5,1 6.1,1.5 6,2.1 4.4,2.3 1.5,2.4-.2,3.6-1.6-.6-4.5-1-6.1-1.6-6-2-4.4-2.3-1.5-2.4zM668.8,1289.5l1.6,.6 4.5,1 6.1,1.5 6,2 4.4,2.4 1.5,2.4-.2,3.6-1.6-.6-4.5-1.1-6-1.5-6.1-2-4.4-2.3-1.5-2.4zM667.8,1306.4l1.6,.6 4.5,1.1 6.1,1.5 6,2 4.4,2.3 1.5,2.4-.2,3.6-1.6-.6-4.5-1-6-1.5-6.1-2-4.4-2.4-1.5-2.4zM666.8,1323.4l1.7,.6 4.4,1 6.1,1.6 6,2 4.4,2.3 1.5,2.4-.2,3.6-1.6-.6-4.4-1-6.1-1.5-6.1-2.1-4.4-2.3-1.5-2.4zM665.8,1340.4l1.7,.6 4.4,1 6.1,1.5 6.1,2 4.3,2.4 1.5,2.4-.2,3.6-1.6-.6-4.4-1-6.1-1.6-6.1-2-4.4-2.3-1.5-2.4zM664.9,1357.3l1.6,.7 4.4,1 6.1,1.5 6.1,2 4.3,2.4 1.6,2.4-.3,3.6-1.6-.7-4.4-1-6.1-1.5-6.1-2-4.3-2.4-1.6-2.4zM663.9,1374.3l1.6,.6 4.4,1 6.1,1.6 6.1,2 4.4,2.3 1.5,2.4-.2,3.6-1.7-.6-4.4-1-6.1-1.5-6.1-2.1-4.3-2.3-1.5-2.4zM662.9,1391.3l.6,.3 2-.1 3.1-.2 3.8,0 4.1,.2 4,.4-.4,6.8-4,0-4.1-.3-3.8-.5-3-.5-1.9-1-.6-1.5z"/>
<path fill="#1642af" d="M698.2,1371.6l-1,.8-2.8,1-3.8,1.5-3.9,1.8-2.7,2.1-.9,2.2 .1,2.9 1-.8 2.8-1.1 3.9-1.4 3.8-1.8 2.8-2.1 .9-2.2zM699.2,1388.6l-1,.7-2.8,1.1-3.9,1.4-3.8,1.9-2.7,2.1-1,2.2 .2,2.8 1-.7 2.8-1.1 3.9-1.4 3.8-1.9 2.7-2.1 1-2.2z"/>
<path fill="#1a4ed0" stroke="#103081" stroke-width=".5" d="M682.1,1363.7l1,.4 3,.6 3.9,.9 4,1.5 3,1.9 1.2,2.2 .2,3.6-1.1-.4-2.9-.6-4-1-4-1.4-2.9-1.9-1.2-2.3zM683,1380.6l1.1,.5 2.9,.6 4,.9 4,1.5 3,1.9 1.2,2.2 .2,3.6-1.1-.4-2.9-.6-4-1-4-1.4-3-1.9-1.2-2.3zM684,1397.6l.4,.3 1.2-.4 1.9-.5 2.3-.4 2.5-.2 2.5,0 .4,6.9-2.5,.3-2.5,0-2.4-.1-1.8-.3-1.3-.6-.5-1.4z"/>
<path d="M690.0,1405.0 C693.8,1405.3 709.2,1406.7 713.0,1407.0" fill="none" stroke="#1a4ed0" stroke-width="2" stroke-linecap="round" stroke-linejoin="round"/>
<path fill="#d62319" d="M731.4,1322.1l-1.8,.7-4.9,.8-6.7,1.3-6.7,1.6-4.9,1.9-1.8,2.2 0,2.8 1.8-.7 4.9-.8 6.7-1.3 6.7-1.6 4.9-1.9 1.8-2.2zM731.4,1339.1l-1.8,.7-4.9,.8-6.7,1.3-6.7,1.6-4.9,1.9-1.8,2.2 0,2.8 1.8-.7 4.9-.8 6.7-1.3 6.7-1.6 4.9-1.9 1.8-2.2zM731.4,1356.1l-1.8,.7-4.9,.8-6.7,1.3-6.7,1.6-4.9,1.9-1.8,2.2 0,2.8 1.8-.7 4.9-.8 6.7-1.3 6.7-1.6 4.9-1.9 1.8-2.2zM731.4,1373.1l-1.8,.7-4.9,.8-6.7,1.3-6.7,1.6-4.9,1.9-1.8,2.2 0,2.8 1.8-.7 4.9-.8 6.7-1.3 6.7-1.6 4.9-1.9 1.8-2.2zM731.4,1390.1l-1.8,.7-4.9,.8-6.7,1.3-6.7,1.6-4.9,1.9-1.8,2.2 0,2.8 1.8-.7 4.9-.8 6.7-1.3 6.7-1.6 4.9-1.9 1.8-2.2z"/>
<path fill="#ff2a1e" stroke="#9e1a13" stroke-width=".5" d="M704.6,1313.2l1.8,.5 4.9,.8 6.7,1.2 6.7,1.6 4.9,2.1 1.8,2.3 0,3.6-1.8-.5-4.9-.8-6.7-1.2-6.7-1.6-4.9-2.1-1.8-2.3zM704.6,1330.2l1.8,.5 4.9,.8 6.7,1.2 6.7,1.6 4.9,2.1 1.8,2.3 0,3.6-1.8-.5-4.9-.8-6.7-1.2-6.7-1.6-4.9-2.1-1.8-2.3zM704.6,1347.2l1.8,.5 4.9,.8 6.7,1.2 6.7,1.6 4.9,2.1 1.8,2.3 0,3.6-1.8-.5-4.9-.8-6.7-1.2-6.7-1.6-4.9-2.1-1.8-2.3zM704.6,1364.2l1.8,.5 4.9,.8 6.7,1.2 6.7,1.6 4.9,2.1 1.8,2.3 0,3.6-1.8-.5-4.9-.8-6.7-1.2-6.7-1.6-4.9-2.1-1.8-2.3zM704.6,1381.2l1.8,.5 4.9,.8 6.7,1.2 6.7,1.6 4.9,2.1 1.8,2.3 0,3.6-1.8-.5-4.9-.8-6.7-1.2-6.7-1.6-4.9-2.1-1.8-2.3zM704.6,1398.2l.4-.5 1.4-.4 2.1-.4 2.8-.3 3.2-.1 3.5-.1 0,7.2-3.5-.1-3.2-.1-2.8-.3-2.1-.4-1.4-.4-.4-.5z"/>
<path d="M637.0,1390.0 C639.2,1392.5 644.5,1402.5 650.0,1405.0 C655.5,1407.5 663.3,1406.2 670.0,1405.0 C676.7,1403.8 686.7,1399.2 690.0,1398.0" fill="none" stroke="#b0d040" stroke-width="2" stroke-linecap="round" stroke-linejoin="round"/>
<path d="M895.0,1270.0 C895.8,1268.0 897.0,1261.8 900.0,1258.0 C903.0,1254.2 910.0,1253.0 913.0,1247.0 C916.0,1241.0 917.3,1229.0 918.0,1222.0 C918.7,1215.0 916.3,1210.3 917.0,1205.0 C917.7,1199.7 920.3,1193.0 922.0,1190.0 C923.7,1187.0 925.2,1186.5 927.0,1187.0 C928.8,1187.5 931.3,1188.7 933.0,1193.0 C934.7,1197.3 935.8,1206.8 937.0,1213.0 C938.2,1219.2 938.3,1226.7 940.0,1230.0 C941.7,1233.3 944.8,1232.2 947.0,1233.0 C949.2,1233.8 950.8,1233.3 953.0,1235.0 C955.2,1236.7 959.3,1239.7 960.0,1243.0 C960.7,1246.3 958.3,1251.8 957.0,1255.0 C955.7,1258.2 952.8,1260.8 952.0,1262.0" fill="none" stroke="#50c890" stroke-width="1.7" stroke-linecap="round" stroke-linejoin="round"/>
<ellipse cx="953" cy="1235" rx="6" ry="6" fill="none" stroke="#308060" stroke-width="2"/>
<path fill="#36b55e" d="M898.5,1269.5l-1.2,1-3.4,1.7-4.6,2.4-4.5,2.7-3.1,2.8-.8,2.4 .7,2.8 1.1-1 3.4-1.7 4.6-2.4 4.5-2.8 3.1-2.7 .9-2.4zM902.5,1286l-1.1,1-3.4,1.7-4.6,2.4-4.5,2.8-3.2,2.7-.8,2.4 .7,2.8 1.2-1 3.3-1.7 4.6-2.4 4.6-2.8 3.1-2.7 .8-2.4zM906.5,1302.5l-1,.9-3.1,1.6-4.3,2-4.7,1.3-3.7,1.3-1.8,1.1 .8,3.3 2.1,.1 3.9-.4 4.8-1.1 4.2-2.4 2.8-2.6 .7-2.3z"/>
<path fill="#40d870" stroke="#288645" stroke-width=".5" d="M876.8,1265.6l1.4,.2 3.8-.1 5.2-.1 5.2,.4 4.1,1.2 1.9,1.9 .8,3.5-1.4-.2-3.8,.2-5.1,0-5.3-.4-4.1-1.1-1.9-2zM880.8,1282.2l1.5,.1 3.7-.1 5.2-.1 5.3,.5 4.1,1.1 1.8,1.9 .9,3.5-1.5-.2-3.7,.2-5.2,0-5.3-.4-4.1-1.1-1.8-1.9zM884.9,1298.7l1.4,.2 3.8-.2 5.1,0 5.3,.4 4.1,1.1 1.9,1.9 .8,3.5-1.4-.1-3.8,.1-5.2,.1-5.3-.5-4-1.1-1.9-1.9z"/>
<path fill="#d6511b" d="M933.6,1266.8l-1.1,.8-3.1,.9-4.1,1.4-4.2,1.7-3,2-1.1,2.2 .1,2.9 1.1-.8 3.1-.9 4.1-1.4 4.2-1.7 3-2 1.1-2.2zM934,1283.8l-1.1,.8-3,.9-4.2,1.4-4.1,1.7-3.1,2-1,2.2 .1,2.9 1.1-.8 3-.9 4.2-1.4 4.1-1.7 3.1-2 1-2.2z"/>
<path fill="#ff6020" stroke="#9e3c14" stroke-width=".5" d="M916.6,1258.4l1.1,.5 3.1,.7 4.2,1 4.3,1.6 3.1,2 1.2,2.3 .1,3.6-1.2-.5-3.1-.7-4.2-1.1-4.2-1.5-3.2-2-1.1-2.3zM917,1275.4l1.2,.5 3,.7 4.3,1 4.2,1.6 3.1,2 1.2,2.3 .1,3.6-1.1-.5-3.1-.7-4.2-1.1-4.3-1.5-3.1-2-1.2-2.3zM917.5,1292.4l.8,.4 2.3,.5 3.4,.2 3.7-.1 3.4,.2 2.4,.6 .1,5.2-2.3,.7-3.4,.4-3.7,.1-3.4-.8-2.3-1.8-.9-2z"/>
<path fill="#bc8d1b" d="M942.8,1282.1l-1,.7-2.9,.8-3.9,1.3-3.9,1.6-2.9,1.9-1,2.2 0,2.8 1-.7 2.9-.8 3.9-1.3 3.9-1.6 2.9-1.9 1-2.2zM942.8,1299.1l-1,.7-2.9,.8-3.9,1.3-3.9,1.6-2.9,1.9-1,2.2 0,2.8 1-.7 2.9-.8 3.9-1.3 3.9-1.6 2.9-1.9 1-2.2zM942.8,1316.1l-1,.7-2.9,.8-3.9,1.3-3.9,1.6-2.9,1.9-1,2.2 0,2.8 1-.7 2.9-.8 3.9-1.3 3.9-1.6 2.9-1.9 1-2.2z"/>
<path fill="#e0a820" stroke="#8b6814" stroke-width=".5" d="M927.2,1273.2l1,.5 2.9,.8 3.9,1.2 3.9,1.6 2.9,2.1 1,2.3 0,3.6-1-.5-2.9-.8-3.9-1.2-3.9-1.6-2.9-2.1-1-2.3zM927.2,1290.2l1,.5 2.9,.8 3.9,1.2 3.9,1.6 2.9,2.1 1,2.3 0,3.6-1-.5-2.9-.8-3.9-1.2-3.9-1.6-2.9-2.1-1-2.3zM927.2,1307.2l1,.5 2.9,.8 3.9,1.2 3.9,1.6 2.9,2.1 1,2.3 0,3.6-1-.5-2.9-.8-3.9-1.2-3.9-1.6-2.9-2.1-1-2.3zM927.2,1324.2l1,.5 2.7,.7 3.7,1 3.9,.2 3,.6 1.3,.8 0,4-1.3,.8-3,.6-3.9,.2-3.7-1.5-2.7-2-1-2.3z"/>
<path fill="#d62319" d="M913.1,1320.5l-1.5,.5-4.2,.3-5.7,.5-5.8,.8-4.3,1.4-1.8,1.9-.4,2.8 1.6-.4 4.2-.4 5.7-.4 5.7-.8 4.4-1.4 1.7-1.9zM910.8,1337.4l-1.6,.4-4.1,.4-5.7,.4-5.8,.9-4.3,1.3-1.8,1.9-.4,2.9 1.6-.5 4.2-.3 5.7-.5 5.7-.8 4.4-1.4 1.7-1.9zM908.5,1354.2l-1.6,.5-4.1,.3-5.8,.5-5.7,.8-4.3,1.4-1.8,1.9-.4,2.8 1.6-.5 4.2-.3 5.7-.4 5.7-.9 4.4-1.3 1.7-1.9zM906.2,1371l-1.6,.5-4.1,.4-5.8,.4-5.7,.8-4.4,1.4-1.7,1.9-.4,2.9 1.6-.5 4.1-.3 5.8-.5 5.7-.8 4.3-1.4 1.8-1.9zM904.3,1385.1l0-.1-.1-.2-.2-.1-.3-.2-.4-.2-.4-.1-.6,4.3 .5-.1 .4-.1 .3,0 .2-.1 .1-.1 .1-.2z"/>
<path fill="#ff2a1e" stroke="#9e1a13" stroke-width=".5" d="M892.1,1308.7l1.5,.7 3.9,1.3 5.4,1.9 5.3,2.4 3.8,2.7 1.2,2.5-.5,3.5-1.4-.7-4-1.3-5.4-1.9-5.3-2.4-3.8-2.6-1.1-2.5zM889.8,1325.5l1.5,.8 3.9,1.3 5.4,1.9 5.3,2.4 3.8,2.6 1.2,2.5-.5,3.6-1.4-.7-4-1.4-5.4-1.9-5.3-2.4-3.8-2.6-1.1-2.5zM887.5,1342.4l1.4,.7 4,1.3 5.4,1.9 5.3,2.4 3.8,2.6 1.2,2.5-.5,3.6-1.4-.7-4-1.3-5.4-1.9-5.3-2.4-3.8-2.7-1.2-2.5zM885.2,1359.2l1.4,.7 4,1.3 5.4,2 5.3,2.4 3.8,2.6 1.2,2.5-.5,3.6-1.4-.8-4-1.3-5.4-1.9-5.3-2.4-3.8-2.6-1.2-2.5zM882.9,1376.1l1.4,.7 4,1.3 5.4,1.9 5.3,2.4 4,1.2 1.3,1.1-.4,3.6-1.7,.7-4.1,.1-5.4-2-5.3-2.4-3.8-2.6-1.2-2.5z"/>
<path fill="url(#b58)" d="M939.2,1304.1l-1.5,.7-4.1,.8-5.6,1.3-5.6,1.6-4.1,1.9-1.5,2.2 0,2.8 1.5-.7 4.1-.8 5.6-1.3 5.6-1.6 4.1-1.9 1.5-2.2zM939.2,1321.1l-1.5,.7-4.1,.8-5.6,1.3-5.6,1.6-4.1,1.9-1.5,2.2 0,2.8 1.5-.7 4.1-.8 5.6-1.3 5.6-1.6 4.1-1.9 1.5-2.2zM939.2,1338.1l-1.5,.7-4.1,.8-5.6,1.3-5.6,1.6-4.1,1.9-1.5,2.2 0,2.8 1.5-.7 4.1-.8 5.6-1.3 5.6-1.6 4.1-1.9 1.5-2.2zM939.2,1355.1l-1.5,.7-4.1,.8-5.6,1.3-5.6,1.6-4.1,1.9-1.5,2.2 0,2.8 1.5-.7 4.1-.8 5.6-1.3 5.6-1.6 4.1-1.9 1.5-2.2zM939.2,1372.1l-1.5,.7-4.1,.8-5.6,1.3-5.6,1.6-4.1,1.3-1.5,.8 0,2.8 1.5,.8 4.1-.3 5.6-1.3 5.6-1.6 4.1-1.9 1.5-2.2z"/>
<path fill="url(#f58)" stroke="#135183" stroke-width=".5" d="M916.8,1295.2l1.5,.5 4.1,.8 5.6,1.2 5.6,1.6 4.1,2.1 1.5,2.3 0,3.6-1.5-.5-4.1-.8-5.6-1.2-5.6-1.6-4.1-2.1-1.5-2.3zM916.8,1312.2l1.5,.5 4.1,.8 5.6,1.2 5.6,1.6 4.1,2.1 1.5,2.3 0,3.6-1.5-.5-4.1-.8-5.6-1.2-5.6-1.6-4.1-2.1-1.5-2.3zM916.8,1329.2l1.5,.5 4.1,.8 5.6,1.2 5.6,1.6 4.1,2.1 1.5,2.3 0,3.6-1.5-.5-4.1-.8-5.6-1.2-5.6-1.6-4.1-2.1-1.5-2.3zM916.8,1346.2l1.5,.5 4.1,.8 5.6,1.2 5.6,1.6 4.1,2.1 1.5,2.3 0,3.6-1.5-.5-4.1-.8-5.6-1.2-5.6-1.6-4.1-2.1-1.5-2.3zM916.8,1363.2l1.5,.5 4.1,.8 5.6,1.2 5.6,1.6 4.1,2.1 1.5,2.3 0,3.6-1.5-.5-4.1-.8-5.6-1.2-5.6-1.6-4.1-2.1-1.5-2.3zM916.8,1378.2l.1-.2 .3-.3 .6-.2 .7-.2 .9-.2 1.1-.2 0,6.2-1.1-.2-.9-.2-.7-.2-.6-.2-.3-.3-.1-.2z"/>
<path fill="url(#b59)" d="M927.2,1282.3l-1.7,.6-4.5,.8-6.2,1.2-6.2,1.5-4.5,1.8-1.7,2.2 0,2.8 1.6-.6 4.6-.9 6.1-1.1 6.2-1.5 4.6-1.8 1.7-2.2zM926.9,1299.3l-1.6,.6-4.6,.8-6.1,1.2-6.2,1.5-4.6,1.8-1.7,2.2 0,2.8 1.7-.6 4.5-.9 6.2-1.1 6.1-1.5 4.6-1.8 1.7-2.2zM926.6,1316.3l-1.6,.6-4.6,.8-6.1,1.2-6.2,1.5-4.6,1.8-1.6,2.1-.1,2.9 1.7-.6 4.5-.9 6.2-1.1 6.2-1.5 4.5-1.9 1.7-2.1zM926.4,1333.3l-1.7,.6-4.5,.8-6.2,1.2-6.2,1.5-4.5,1.8-1.7,2.1-.1,2.9 1.7-.6 4.5-.9 6.2-1.1 6.2-1.5 4.5-1.9 1.7-2.1zM926.1,1350.3l-1.7,.6-4.5,.8-6.2,1.2-6.2,1.5-4.5,1.8-1.7,2.1-.1,2.9 1.7-.6 4.5-.9 6.2-1.1 6.2-1.5 4.5-1.9 1.7-2.1zM925.8,1367.3l-1.7,.6-4.5,.8-6.2,1.2-6.2,1.5-4.5,1.8-1.7,2.1 0,2.9 1.6-.6 4.5-.9 6.2-1.1 6.2-1.5 4.6-1.9 1.6-2.1zM925.5,1384.3l-1.7,.6-4.5,.8-6.2,1.2-6.2,1.5-4.5,1.8-1.7,2.1 0,2.9 1.6-.7 4.6-.8 6.1-1.1 6.2-1.5 4.6-1.9 1.7-2.1z"/>
<path fill="url(#f59)" stroke="#135183" stroke-width=".5" d="M902.7,1273l1.7,.5 4.4,.9 6.2,1.2 6.1,1.8 4.5,2.2 1.6,2.3-.1,3.6-1.6-.5-4.5-.9-6.1-1.3-6.2-1.7-4.4-2.2-1.6-2.3zM902.4,1290l1.7,.5 4.5,.9 6.1,1.2 6.1,1.8 4.5,2.2 1.6,2.3 0,3.6-1.7-.5-4.5-.9-6.1-1.3-6.1-1.7-4.5-2.2-1.6-2.3zM902.1,1307l1.7,.5 4.5,.9 6.1,1.2 6.2,1.8 4.4,2.2 1.6,2.3 0,3.6-1.7-.5-4.5-.9-6.1-1.3-6.1-1.7-4.5-2.2-1.6-2.3zM901.9,1324l1.6,.5 4.5,.9 6.1,1.2 6.2,1.8 4.4,2.2 1.7,2.3-.1,3.6-1.6-.5-4.5-.9-6.2-1.3-6.1-1.7-4.5-2.2-1.6-2.3zM901.6,1341l1.6,.5 4.5,.9 6.2,1.2 6.1,1.8 4.5,2.2 1.6,2.3-.1,3.6-1.6-.5-4.5-.9-6.2-1.3-6.1-1.7-4.5-2.2-1.6-2.3zM901.3,1358l1.6,.5 4.5,.9 6.2,1.2 6.1,1.8 4.5,2.1 1.6,2.4-.1,3.6-1.6-.6-4.5-.8-6.1-1.3-6.2-1.7-4.5-2.2-1.6-2.3zM901,1375l1.7,.5 4.4,.9 6.2,1.2 6.1,1.8 4.5,2.1 1.6,2.4-.1,3.6-1.6-.6-4.5-.8-6.1-1.3-6.2-1.7-4.4-2.2-1.6-2.3zM900.7,1392l.7,.3 1.8-.4 2.9-.3 3.6-.2 4,0 3.9,.2-.1,6.9-3.9,.1-4-.1-3.6-.3-2.9-.5-1.8-.7-.6-1.4z"/>
<path fill="#1ba894" d="M963.6,1265.1l-1.4,.7-3.9,.8-5.3,1.3-5.3,1.6-3.9,1.9-1.4,2.2 0,2.8 1.4-.7 3.9-.8 5.3-1.3 5.3-1.6 3.9-1.9 1.4-2.2zM963.6,1282.1l-1.4,.7-3.9,.8-5.3,1.3-5.3,1.6-3.9,1.9-1.4,2.2 0,2.8 1.4-.7 3.9-.8 5.3-1.3 5.3-1.6 3.9-1.9 1.4-2.2z"/>
<path fill="#20c8b0" stroke="#147c6d" stroke-width=".5" d="M942.4,1256.2l1.4,.5 3.9,.8 5.3,1.2 5.3,1.6 3.9,2.1 1.4,2.3 0,3.6-1.4-.5-3.9-.8-5.3-1.2-5.3-1.6-3.9-2.1-1.4-2.3zM942.4,1273.2l1.4,.5 3.9,.8 5.3,1.2 5.3,1.6 3.9,2.1 1.4,2.3 0,3.6-1.4-.5-3.9-.8-5.3-1.2-5.3-1.6-3.9-2.1-1.4-2.3zM942.4,1290.2l1.4,.5 3.9,.8 5.3,1.2 5.3,.9 3.9,.7 1.4,.9 0,3.6-1.4,.9-3.9,.7-5.3-.6-5.3-1.6-3.9-2.1-1.4-2.3z"/>
<path fill="url(#b60)" d="M957.2,1272.2l-1.6,.7-4.6,.8-6.1,1.2-6.2,1.5-4.6,1.9-1.6,2.1-.1,2.9 1.7-.7 4.5-.8 6.2-1.2 6.2-1.5 4.5-1.9 1.7-2.1zM957,1289.2l-1.7,.7-4.5,.8-6.2,1.2-6.2,1.5-4.5,1.9-1.7,2.1 0,2.9 1.7-.7 4.5-.8 6.1-1.2 6.2-1.5 4.6-1.9 1.6-2.1zM956.8,1306.2l-1.7,.7-4.5,.8-6.2,1.2-6.2,1.5-4.5,1.9-1.7,2.1 0,2.9 1.6-.7 4.5-.8 6.2-1.2 6.2-1.5 4.5-1.9 1.7-2.1zM956.5,1323.2l-1.6,.7-4.6,.8-6.1,1.2-6.2,1.5-4.6,1.9-1.6,2.1-.1,2.9 1.7-.7 4.5-.8 6.2-1.2 6.2-1.5 4.5-1.9 1.7-2.1zM956.3,1340.2l-1.7,.7-4.5,.8-6.2,1.2-6.2,1.5-4.5,1.9-1.7,2.1 0,2.9 1.6-.7 4.6-.8 6.1-1.2 6.2-1.5 4.6-1.9 1.6-2.1zM956,1357.2l-1.6,.7-4.5,.8-6.2,1.2-6.2,1.5-4.5,1.9-1.7,2.1 0,2.9 1.6-.7 4.5-.8 6.2-1.2 6.2-1.5 4.5-1.9 1.7-2.1zM955.8,1374.2l-1.6,.7-4.6,.8-6.1,1.2-6.2,1.5-4.6,1.9-1.6,2.1-.1,2.9 1.7-.7 4.5-.8 6.2-1.2 6.2-1.5 4.5-1.9 1.7-2.1zM955.6,1391.2l-1.7,.7-4.5,.8-6.2,1.2-6.2,1.5-4.5,1.9-1.7,2.1 0,2.9 1.6-.7 4.6-.8 6.1-1.2 6.2-1.5 4.6-1.9 1.6-2.1zM955.3,1408.2l-.5,.1-1.5-.4-2.4-.3-3.1-.3-3.5-.2-3.6,0-.1,5.7 3.6,.1 3.5-.1 3.1-.1 2.4-.3 1.6-.4 .5-.9z"/>
<path fill="url(#f60)" stroke="#146b7c" stroke-width=".5" d="M932.7,1263l1.6,.6 4.5,.8 6.2,1.2 6.1,1.8 4.5,2.1 1.6,2.4 0,3.6-1.7-.6-4.5-.8-6.1-1.3-6.1-1.7-4.5-2.1-1.6-2.4zM932.5,1280l1.6,.6 4.5,.8 6.2,1.2 6.1,1.8 4.5,2.1 1.6,2.4-.1,3.6-1.6-.6-4.5-.8-6.1-1.3-6.2-1.7-4.5-2.1-1.6-2.4zM932.2,1297l1.7,.6 4.5,.8 6.1,1.2 6.2,1.8 4.4,2.1 1.7,2.4-.1,3.6-1.6-.6-4.5-.8-6.2-1.3-6.1-1.7-4.5-2.1-1.6-2.4zM932,1314l1.6,.6 4.5,.8 6.2,1.2 6.1,1.8 4.5,2.1 1.6,2.4 0,3.6-1.7-.6-4.5-.8-6.1-1.3-6.1-1.7-4.5-2.1-1.6-2.4zM931.8,1331l1.6,.6 4.5,.8 6.2,1.2 6.1,1.8 4.5,2.1 1.6,2.4-.1,3.6-1.6-.6-4.5-.8-6.1-1.3-6.2-1.7-4.5-2.1-1.6-2.4zM931.5,1348l1.7,.6 4.5,.8 6.1,1.2 6.2,1.8 4.4,2.1 1.7,2.4-.1,3.6-1.6-.6-4.5-.8-6.2-1.3-6.1-1.7-4.5-2.1-1.6-2.4zM931.3,1365l1.6,.6 4.5,.8 6.2,1.2 6.1,1.8 4.5,2.1 1.6,2.4 0,3.6-1.7-.6-4.5-.8-6.1-1.3-6.2-1.7-4.4-2.1-1.7-2.4zM931.1,1382l1.6,.6 4.5,.8 6.1,1.2 6.2,1.8 4.5,2.1 1.6,2.4-.1,3.6-1.6-.6-4.5-.8-6.1-1.3-6.2-1.7-4.5-2.1-1.6-2.4zM930.8,1399l1.7,.6 4.5,.8 6.1,1.2 6.2,1.8 4.4,2.1 1.7,2.4-.1,3.6-1.6-.6-4.5-.8-6.2-1.3-6.1-1.7-4.5-2.1-1.6-2.4z"/>
<path fill="#1111af" d="M985.6,1278.3l-1.6,.1-3.9-.5-5.5-.6-5.5-.3-4.3,.5-2.1,1.5-1,2.7 1.6-.2 4,.5 5.4,.7 5.5,.3 4.3-.5 2.1-1.5zM979.8,1294.2l-1.6,.2-3.9-.5-5.5-.6-5.5-.3-4.3,.5-2.1,1.5-1,2.7 1.6-.2 4,.5 5.4,.7 5.5,.3 4.4-.5 2-1.5zM974,1310.2l-1.6,.2-3.9-.5-5.4-.7-5.6-.3-4.3,.5-2.1,1.6-1,2.7 1.6-.2 4,.5 5.4,.7 5.5,.3 4.4-.5 2-1.6zM968.2,1326.2l-1.6,.2-3.9-.5-5.4-.7-5.6-.3-4.3,.5-2.1,1.6-1,2.7 1.6-.2 4,.5 5.4,.6 5.6,.3 4.3-.5 2-1.5zM963.5,1339.3l0-.1 0-.2-.1-.1-.2-.1-.1-.2-.3-.2-1.4,3.8 .3,0 .3,0 .2,0 .1-.1 .2,0 0-.1z"/>
<path fill="#1414d0" stroke="#0c0c81" stroke-width=".5" d="M968.6,1262.7l1.2,1 3.4,2 4.6,2.9 4.4,3.4 3,3.3 .5,2.6-1.2,3.4-1.2-1-3.4-2-4.6-2.9-4.4-3.4-3-3.3-.5-2.6zM962.8,1278.7l1.2,.9 3.4,2.1 4.6,2.9 4.4,3.4 3,3.2 .5,2.7-1.2,3.4-1.2-1-3.4-2-4.6-2.9-4.4-3.4-3-3.3-.5-2.6zM957,1294.6l1.2,1 3.4,2.1 4.6,2.9 4.4,3.3 3,3.3 .5,2.7-1.2,3.4-1.2-1-3.4-2-4.6-3-4.4-3.3-2.9-3.3-.6-2.7zM951.2,1310.6l1.2,1 3.4,2 4.6,3 4.4,3.3 3,3.3 .5,2.7-1.2,3.4-1.1-1-3.4-2.1-4.6-2.9-4.5-3.3-2.9-3.3-.6-2.7zM945.4,1326.6l1.2,1 3.4,2 4.6,2.9 4.5,3.2 3.5,1.9 1,1.3-1.2,3.4-1.7,.4-3.8-.7-4.7-2.7-4.5-3.4-2.9-3.2-.6-2.7z"/>
<path fill="#23b581" d="M988.1,1315.7l-1.9,.6-4.9,.7-6.8,.9-6.8,1.2-5,1.7-1.9,2.1-.1,2.9 1.8-.6 5-.7 6.7-.9 6.8-1.3 5-1.7 1.9-2zM987.2,1332.7l-1.8,.6-4.9,.6-6.8,.9-6.8,1.3-5,1.7-1.9,2.1-.2,2.8 1.9-.6 4.9-.6 6.8-.9 6.8-1.3 5-1.7 1.9-2zM986.4,1349.7l-1.8,.6-5,.6-6.7,.9-6.8,1.3-5,1.7-2,2-.1,2.9 1.8-.6 5-.6 6.8-.9 6.8-1.3 5-1.7 1.9-2.1zM985.6,1366.6l-1.9,.7-4.9,.6-6.8,.9-6.8,1.3-5,1.7-1.9,2-.1,2.9 1.8-.6 5-.7 6.7-.8 6.8-1.3 5-1.7 1.9-2.1zM984.7,1383.6l-1.8,.6-4.9,.7-6.8,.9-6.8,1.3-5,1.7-1.9,2-.2,2.9 1.9-.6 4.9-.7 6.8-.9 6.8-1.2 5-1.7 1.9-2.1zM983.9,1400.6l-1.8,.6-5,.7-6.7,.9-6.8,1.2-5,1.7-1.9,2.1-.2,2.9 1.8-.6 5-.7 6.8-.9 6.8-1.3 5-1.7 1.9-2z"/>
<path fill="#2ad89a" stroke="#1a865f" stroke-width=".5" d="M961.7,1305.5l1.7,.6 4.9,1 6.7,1.5 6.6,2 4.8,2.3 1.7,2.4-.2,3.6-1.8-.6-4.8-1-6.7-1.5-6.6-1.9-4.8-2.4-1.7-2.4zM960.8,1322.5l1.8,.6 4.9,1 6.6,1.5 6.7,2 4.8,2.3 1.7,2.4-.2,3.6-1.8-.6-4.9-1-6.6-1.5-6.6-2-4.9-2.3-1.6-2.4zM960,1339.5l1.8,.6 4.8,1 6.7,1.5 6.6,2 4.8,2.3 1.7,2.4-.1,3.6-1.8-.6-4.9-1-6.6-1.5-6.7-2-4.8-2.3-1.7-2.4zM959.2,1356.5l1.7,.6 4.9,1 6.7,1.5 6.6,2 4.8,2.3 1.7,2.4-.2,3.6-1.8-.6-4.8-1-6.7-1.5-6.6-2-4.8-2.3-1.7-2.4zM958.3,1373.5l1.8,.6 4.9,1 6.6,1.5 6.7,2 4.8,2.3 1.7,2.4-.2,3.6-1.8-.6-4.9-1-6.6-1.5-6.6-2-4.9-2.3-1.6-2.4zM957.5,1390.4l1.8,.6 4.9,1 6.6,1.5 6.6,2 4.8,2.3 1.7,2.4-.1,3.6-1.8-.6-4.9-1-6.6-1.5-6.7-1.9-4.8-2.4-1.7-2.4zM956.7,1407.4l.5-.3 1.4-.4 2.3-.3 2.9-.1 3.4,0 3.6,.1-.4,7.2-3.6-.2-3.3-.3-2.9-.5-2.3-.4-1.4-.6-.4-.6z"/>
<path d="M915.0,1397.0 C916.2,1399.5 918.7,1409.0 922.0,1412.0 C925.3,1415.0 931.5,1415.7 935.0,1415.0 C938.5,1414.3 941.7,1409.2 943.0,1408.0" fill="none" stroke="#1a4ed0" stroke-width="1.6" stroke-linecap="round" stroke-linejoin="round"/></g>
<text x="136.6" y="893.6" font-size="24.3" fill="#1a1a1a" stroke="#1a1a1a" stroke-width="0.35">BrNRT2.1</text>
<text x="383.9" y="896.1" font-size="24.3" fill="#1a1a1a" stroke="#1a1a1a" stroke-width="0.35">BrNRT2.2</text>
<text x="631.8" y="897.2" font-size="24.3" fill="#1a1a1a" stroke="#1a1a1a" stroke-width="0.35">BrNRT2.3</text>
<text x="888.5" y="895.0" font-size="24.3" fill="#1a1a1a" stroke="#1a1a1a" stroke-width="0.35">BrNRT2.4</text>
<text x="1125.3" y="897.1" font-size="24.3" fill="#1a1a1a" stroke="#1a1a1a" stroke-width="0.35">BrNRT2.5</text>
<text x="133.8" y="1174.6" font-size="24.3" fill="#1a1a1a" stroke="#1a1a1a" stroke-width="0.35">BrNRT2.6</text>
<text x="381.3" y="1174.6" font-size="24.3" fill="#1a1a1a" stroke="#1a1a1a" stroke-width="0.35">BrNRT2.7</text>
<text x="632.8" y="1174.0" font-size="24.3" fill="#1a1a1a" stroke="#1a1a1a" stroke-width="0.35">BrNRT2.8</text>
<text x="885.8" y="1172.0" font-size="24.3" fill="#1a1a1a" stroke="#1a1a1a" stroke-width="0.35">BrNRT2.9</text>
<text x="1122.6" y="1171.6" font-size="24.3" fill="#1a1a1a" stroke="#1a1a1a" stroke-width="0.35">BrNRT2.10</text>
<text x="133.1" y="1466.1" font-size="24.3" fill="#1a1a1a" stroke="#1a1a1a" stroke-width="0.35">BrNRT2.11</text>
<text x="375.3" y="1467.6" font-size="24.3" fill="#1a1a1a" stroke="#1a1a1a" stroke-width="0.35">BrNRT2.12</text>
<text x="627.4" y="1467.6" font-size="24.3" fill="#1a1a1a" stroke="#1a1a1a" stroke-width="0.35">BrNRT2.13</text>
<text x="883.1" y="1467.6" font-size="24.3" fill="#1a1a1a" stroke="#1a1a1a" stroke-width="0.35">BrNRT2.14</text>
<text x="17.5" y="61" font-size="58" fill="#000">A</text>
<text x="30.5" y="624" font-size="58" fill="#000">B</text>
</svg>
</body></html>
